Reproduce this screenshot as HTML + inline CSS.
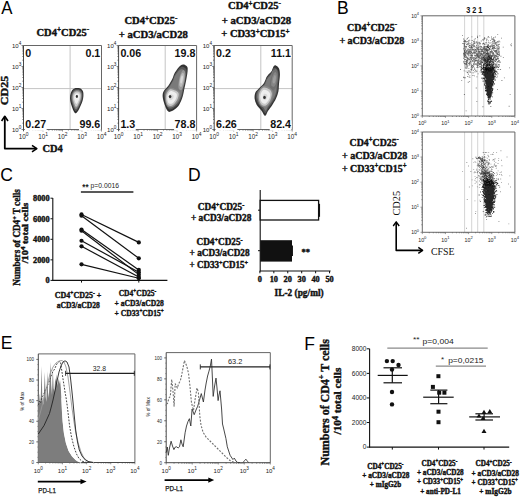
<!DOCTYPE html>
<html><head><meta charset="utf-8"><style>
html,body{margin:0;padding:0;background:#fff;width:520px;height:498px;overflow:hidden}
svg{display:block}
</style></head><body>
<svg width="520" height="498" viewBox="0 0 520 498">
<defs><filter id="bl" x="-20%" y="-20%" width="140%" height="140%"><feGaussianBlur stdDeviation="0.45"/></filter></defs>
<rect width="520" height="498" fill="#fff"/>
<text transform="translate(1.3,14.0) scale(0.96,1)" font-family="Liberation Sans" font-size="17.5" fill="#000">A</text>
<text transform="translate(336.9,14.0) scale(1.0,1)" font-family="Liberation Sans" font-size="17.5" fill="#000">B</text>
<text transform="translate(0.3,180.8) scale(1.0,1)" font-family="Liberation Sans" font-size="17.5" fill="#000">C</text>
<text transform="translate(188.0,180.8) scale(1.0,1)" font-family="Liberation Sans" font-size="17.5" fill="#000">D</text>
<text transform="translate(0.8,348.8) scale(1.0,1)" font-family="Liberation Sans" font-size="17.5" fill="#000">E</text>
<text transform="translate(304.2,349.6) scale(1.0,1)" font-family="Liberation Sans" font-size="17.5" fill="#000">F</text>
<line x1="70.1" y1="45.5" x2="70.1" y2="129.5" stroke="#c4c4c4" stroke-width="1" />
<line x1="23.5" y1="88.6" x2="101.5" y2="88.6" stroke="#c4c4c4" stroke-width="1" />
<line x1="23.5" y1="45.5" x2="101.5" y2="45.5" stroke="#666" stroke-width="1" />
<line x1="101.5" y1="45.5" x2="101.5" y2="129.5" stroke="#666" stroke-width="1" />
<line x1="23.5" y1="45.5" x2="23.5" y2="131.0" stroke="#333" stroke-width="0.9" />
<line x1="23.5" y1="129.5" x2="101.5" y2="129.5" stroke="#555" stroke-width="0.9" />
<line x1="21.5" y1="129.5" x2="23.5" y2="129.5" stroke="#333" stroke-width="0.6" />
<line x1="22.3" y1="123.1783700910564" x2="23.5" y2="123.1783700910564" stroke="#333" stroke-width="0.6" />
<line x1="22.3" y1="119.48045365088709" x2="23.5" y2="119.48045365088709" stroke="#333" stroke-width="0.6" />
<line x1="22.3" y1="116.85674018211279" x2="23.5" y2="116.85674018211279" stroke="#333" stroke-width="0.6" />
<line x1="22.3" y1="114.8216299089436" x2="23.5" y2="114.8216299089436" stroke="#333" stroke-width="0.6" />
<line x1="22.3" y1="113.15882374194348" x2="23.5" y2="113.15882374194348" stroke="#333" stroke-width="0.6" />
<line x1="22.3" y1="111.75294115970061" x2="23.5" y2="111.75294115970061" stroke="#333" stroke-width="0.6" />
<line x1="22.3" y1="110.53511027316918" x2="23.5" y2="110.53511027316918" stroke="#333" stroke-width="0.6" />
<line x1="22.3" y1="109.46090730177417" x2="23.5" y2="109.46090730177417" stroke="#333" stroke-width="0.6" />
<line x1="21.5" y1="108.5" x2="23.5" y2="108.5" stroke="#333" stroke-width="0.6" />
<line x1="22.3" y1="102.1783700910564" x2="23.5" y2="102.1783700910564" stroke="#333" stroke-width="0.6" />
<line x1="22.3" y1="98.48045365088709" x2="23.5" y2="98.48045365088709" stroke="#333" stroke-width="0.6" />
<line x1="22.3" y1="95.85674018211279" x2="23.5" y2="95.85674018211279" stroke="#333" stroke-width="0.6" />
<line x1="22.3" y1="93.8216299089436" x2="23.5" y2="93.8216299089436" stroke="#333" stroke-width="0.6" />
<line x1="22.3" y1="92.15882374194348" x2="23.5" y2="92.15882374194348" stroke="#333" stroke-width="0.6" />
<line x1="22.3" y1="90.75294115970061" x2="23.5" y2="90.75294115970061" stroke="#333" stroke-width="0.6" />
<line x1="22.3" y1="89.53511027316918" x2="23.5" y2="89.53511027316918" stroke="#333" stroke-width="0.6" />
<line x1="22.3" y1="88.46090730177417" x2="23.5" y2="88.46090730177417" stroke="#333" stroke-width="0.6" />
<line x1="21.5" y1="87.5" x2="23.5" y2="87.5" stroke="#333" stroke-width="0.6" />
<line x1="22.3" y1="81.1783700910564" x2="23.5" y2="81.1783700910564" stroke="#333" stroke-width="0.6" />
<line x1="22.3" y1="77.48045365088709" x2="23.5" y2="77.48045365088709" stroke="#333" stroke-width="0.6" />
<line x1="22.3" y1="74.85674018211279" x2="23.5" y2="74.85674018211279" stroke="#333" stroke-width="0.6" />
<line x1="22.3" y1="72.8216299089436" x2="23.5" y2="72.8216299089436" stroke="#333" stroke-width="0.6" />
<line x1="22.3" y1="71.15882374194348" x2="23.5" y2="71.15882374194348" stroke="#333" stroke-width="0.6" />
<line x1="22.3" y1="69.75294115970061" x2="23.5" y2="69.75294115970061" stroke="#333" stroke-width="0.6" />
<line x1="22.3" y1="68.53511027316918" x2="23.5" y2="68.53511027316918" stroke="#333" stroke-width="0.6" />
<line x1="22.3" y1="67.46090730177417" x2="23.5" y2="67.46090730177417" stroke="#333" stroke-width="0.6" />
<line x1="21.5" y1="66.5" x2="23.5" y2="66.5" stroke="#333" stroke-width="0.6" />
<line x1="22.3" y1="60.178370091056394" x2="23.5" y2="60.178370091056394" stroke="#333" stroke-width="0.6" />
<line x1="22.3" y1="56.480453650887085" x2="23.5" y2="56.480453650887085" stroke="#333" stroke-width="0.6" />
<line x1="22.3" y1="53.85674018211279" x2="23.5" y2="53.85674018211279" stroke="#333" stroke-width="0.6" />
<line x1="22.3" y1="51.821629908943606" x2="23.5" y2="51.821629908943606" stroke="#333" stroke-width="0.6" />
<line x1="22.3" y1="50.15882374194348" x2="23.5" y2="50.15882374194348" stroke="#333" stroke-width="0.6" />
<line x1="22.3" y1="48.75294115970061" x2="23.5" y2="48.75294115970061" stroke="#333" stroke-width="0.6" />
<line x1="22.3" y1="47.53511027316918" x2="23.5" y2="47.53511027316918" stroke="#333" stroke-width="0.6" />
<line x1="22.3" y1="46.460907301774185" x2="23.5" y2="46.460907301774185" stroke="#333" stroke-width="0.6" />
<line x1="21.5" y1="45.5" x2="23.5" y2="45.5" stroke="#333" stroke-width="0.6" />
<line x1="23.5" y1="129.5" x2="23.5" y2="131.5" stroke="#555" stroke-width="0.6" />
<line x1="29.370084915447634" y1="129.5" x2="29.370084915447634" y2="130.7" stroke="#555" stroke-width="0.6" />
<line x1="32.80386446703342" y1="129.5" x2="32.80386446703342" y2="130.7" stroke="#555" stroke-width="0.6" />
<line x1="35.24016983089527" y1="129.5" x2="35.24016983089527" y2="130.7" stroke="#555" stroke-width="0.6" />
<line x1="37.129915084552366" y1="129.5" x2="37.129915084552366" y2="130.7" stroke="#555" stroke-width="0.6" />
<line x1="38.673949382481055" y1="129.5" x2="38.673949382481055" y2="130.7" stroke="#555" stroke-width="0.6" />
<line x1="39.97941178027801" y1="129.5" x2="39.97941178027801" y2="130.7" stroke="#555" stroke-width="0.6" />
<line x1="41.1102547463429" y1="129.5" x2="41.1102547463429" y2="130.7" stroke="#555" stroke-width="0.6" />
<line x1="42.107728934066834" y1="129.5" x2="42.107728934066834" y2="130.7" stroke="#555" stroke-width="0.6" />
<line x1="43.0" y1="129.5" x2="43.0" y2="131.5" stroke="#555" stroke-width="0.6" />
<line x1="48.870084915447634" y1="129.5" x2="48.870084915447634" y2="130.7" stroke="#555" stroke-width="0.6" />
<line x1="52.30386446703342" y1="129.5" x2="52.30386446703342" y2="130.7" stroke="#555" stroke-width="0.6" />
<line x1="54.74016983089527" y1="129.5" x2="54.74016983089527" y2="130.7" stroke="#555" stroke-width="0.6" />
<line x1="56.629915084552366" y1="129.5" x2="56.629915084552366" y2="130.7" stroke="#555" stroke-width="0.6" />
<line x1="58.17394938248105" y1="129.5" x2="58.17394938248105" y2="130.7" stroke="#555" stroke-width="0.6" />
<line x1="59.479411780278014" y1="129.5" x2="59.479411780278014" y2="130.7" stroke="#555" stroke-width="0.6" />
<line x1="60.610254746342896" y1="129.5" x2="60.610254746342896" y2="130.7" stroke="#555" stroke-width="0.6" />
<line x1="61.607728934066834" y1="129.5" x2="61.607728934066834" y2="130.7" stroke="#555" stroke-width="0.6" />
<line x1="62.5" y1="129.5" x2="62.5" y2="131.5" stroke="#555" stroke-width="0.6" />
<line x1="68.37008491544763" y1="129.5" x2="68.37008491544763" y2="130.7" stroke="#555" stroke-width="0.6" />
<line x1="71.80386446703342" y1="129.5" x2="71.80386446703342" y2="130.7" stroke="#555" stroke-width="0.6" />
<line x1="74.24016983089527" y1="129.5" x2="74.24016983089527" y2="130.7" stroke="#555" stroke-width="0.6" />
<line x1="76.12991508455237" y1="129.5" x2="76.12991508455237" y2="130.7" stroke="#555" stroke-width="0.6" />
<line x1="77.67394938248106" y1="129.5" x2="77.67394938248106" y2="130.7" stroke="#555" stroke-width="0.6" />
<line x1="78.97941178027801" y1="129.5" x2="78.97941178027801" y2="130.7" stroke="#555" stroke-width="0.6" />
<line x1="80.1102547463429" y1="129.5" x2="80.1102547463429" y2="130.7" stroke="#555" stroke-width="0.6" />
<line x1="81.10772893406684" y1="129.5" x2="81.10772893406684" y2="130.7" stroke="#555" stroke-width="0.6" />
<line x1="82.0" y1="129.5" x2="82.0" y2="131.5" stroke="#555" stroke-width="0.6" />
<line x1="87.87008491544763" y1="129.5" x2="87.87008491544763" y2="130.7" stroke="#555" stroke-width="0.6" />
<line x1="91.30386446703342" y1="129.5" x2="91.30386446703342" y2="130.7" stroke="#555" stroke-width="0.6" />
<line x1="93.74016983089527" y1="129.5" x2="93.74016983089527" y2="130.7" stroke="#555" stroke-width="0.6" />
<line x1="95.62991508455237" y1="129.5" x2="95.62991508455237" y2="130.7" stroke="#555" stroke-width="0.6" />
<line x1="97.17394938248106" y1="129.5" x2="97.17394938248106" y2="130.7" stroke="#555" stroke-width="0.6" />
<line x1="98.47941178027801" y1="129.5" x2="98.47941178027801" y2="130.7" stroke="#555" stroke-width="0.6" />
<line x1="99.6102547463429" y1="129.5" x2="99.6102547463429" y2="130.7" stroke="#555" stroke-width="0.6" />
<line x1="100.60772893406683" y1="129.5" x2="100.60772893406683" y2="130.7" stroke="#555" stroke-width="0.6" />
<line x1="101.5" y1="129.5" x2="101.5" y2="131.5" stroke="#555" stroke-width="0.6" />
<text x="21.3" y="131.6" font-family="Liberation Sans" font-size="6.0" font-weight="normal" fill="#222" text-anchor="end" >10<tspan dy="-2.52" font-size="4.68">0</tspan></text>
<text x="21.3" y="110.6" font-family="Liberation Sans" font-size="6.0" font-weight="normal" fill="#222" text-anchor="end" >10<tspan dy="-2.52" font-size="4.68">1</tspan></text>
<text x="21.3" y="89.6" font-family="Liberation Sans" font-size="6.0" font-weight="normal" fill="#222" text-anchor="end" >10<tspan dy="-2.52" font-size="4.68">2</tspan></text>
<text x="21.3" y="68.6" font-family="Liberation Sans" font-size="6.0" font-weight="normal" fill="#222" text-anchor="end" >10<tspan dy="-2.52" font-size="4.68">3</tspan></text>
<text x="21.3" y="47.6" font-family="Liberation Sans" font-size="6.0" font-weight="normal" fill="#222" text-anchor="end" >10<tspan dy="-2.52" font-size="4.68">4</tspan></text>
<text x="23.5" y="138.8" font-family="Liberation Sans" font-size="6.3" font-weight="normal" fill="#222" text-anchor="middle" >10<tspan dy="-2.65" font-size="4.91">0</tspan></text>
<text x="43.0" y="138.8" font-family="Liberation Sans" font-size="6.3" font-weight="normal" fill="#222" text-anchor="middle" >10<tspan dy="-2.65" font-size="4.91">1</tspan></text>
<text x="62.5" y="138.8" font-family="Liberation Sans" font-size="6.3" font-weight="normal" fill="#222" text-anchor="middle" >10<tspan dy="-2.65" font-size="4.91">2</tspan></text>
<text x="82.0" y="138.8" font-family="Liberation Sans" font-size="6.3" font-weight="normal" fill="#222" text-anchor="middle" >10<tspan dy="-2.65" font-size="4.91">3</tspan></text>
<text x="101.5" y="138.8" font-family="Liberation Sans" font-size="6.3" font-weight="normal" fill="#222" text-anchor="middle" >10<tspan dy="-2.65" font-size="4.91">4</tspan></text>
<line x1="165.2" y1="45.5" x2="165.2" y2="129.5" stroke="#c4c4c4" stroke-width="1" />
<line x1="118.6" y1="88.6" x2="196.6" y2="88.6" stroke="#c4c4c4" stroke-width="1" />
<line x1="118.6" y1="45.5" x2="196.6" y2="45.5" stroke="#666" stroke-width="1" />
<line x1="196.6" y1="45.5" x2="196.6" y2="129.5" stroke="#666" stroke-width="1" />
<line x1="118.6" y1="45.5" x2="118.6" y2="131.0" stroke="#333" stroke-width="0.9" />
<line x1="118.6" y1="129.5" x2="196.6" y2="129.5" stroke="#555" stroke-width="0.9" />
<line x1="116.6" y1="129.5" x2="118.6" y2="129.5" stroke="#333" stroke-width="0.6" />
<line x1="117.39999999999999" y1="123.1783700910564" x2="118.6" y2="123.1783700910564" stroke="#333" stroke-width="0.6" />
<line x1="117.39999999999999" y1="119.48045365088709" x2="118.6" y2="119.48045365088709" stroke="#333" stroke-width="0.6" />
<line x1="117.39999999999999" y1="116.85674018211279" x2="118.6" y2="116.85674018211279" stroke="#333" stroke-width="0.6" />
<line x1="117.39999999999999" y1="114.8216299089436" x2="118.6" y2="114.8216299089436" stroke="#333" stroke-width="0.6" />
<line x1="117.39999999999999" y1="113.15882374194348" x2="118.6" y2="113.15882374194348" stroke="#333" stroke-width="0.6" />
<line x1="117.39999999999999" y1="111.75294115970061" x2="118.6" y2="111.75294115970061" stroke="#333" stroke-width="0.6" />
<line x1="117.39999999999999" y1="110.53511027316918" x2="118.6" y2="110.53511027316918" stroke="#333" stroke-width="0.6" />
<line x1="117.39999999999999" y1="109.46090730177417" x2="118.6" y2="109.46090730177417" stroke="#333" stroke-width="0.6" />
<line x1="116.6" y1="108.5" x2="118.6" y2="108.5" stroke="#333" stroke-width="0.6" />
<line x1="117.39999999999999" y1="102.1783700910564" x2="118.6" y2="102.1783700910564" stroke="#333" stroke-width="0.6" />
<line x1="117.39999999999999" y1="98.48045365088709" x2="118.6" y2="98.48045365088709" stroke="#333" stroke-width="0.6" />
<line x1="117.39999999999999" y1="95.85674018211279" x2="118.6" y2="95.85674018211279" stroke="#333" stroke-width="0.6" />
<line x1="117.39999999999999" y1="93.8216299089436" x2="118.6" y2="93.8216299089436" stroke="#333" stroke-width="0.6" />
<line x1="117.39999999999999" y1="92.15882374194348" x2="118.6" y2="92.15882374194348" stroke="#333" stroke-width="0.6" />
<line x1="117.39999999999999" y1="90.75294115970061" x2="118.6" y2="90.75294115970061" stroke="#333" stroke-width="0.6" />
<line x1="117.39999999999999" y1="89.53511027316918" x2="118.6" y2="89.53511027316918" stroke="#333" stroke-width="0.6" />
<line x1="117.39999999999999" y1="88.46090730177417" x2="118.6" y2="88.46090730177417" stroke="#333" stroke-width="0.6" />
<line x1="116.6" y1="87.5" x2="118.6" y2="87.5" stroke="#333" stroke-width="0.6" />
<line x1="117.39999999999999" y1="81.1783700910564" x2="118.6" y2="81.1783700910564" stroke="#333" stroke-width="0.6" />
<line x1="117.39999999999999" y1="77.48045365088709" x2="118.6" y2="77.48045365088709" stroke="#333" stroke-width="0.6" />
<line x1="117.39999999999999" y1="74.85674018211279" x2="118.6" y2="74.85674018211279" stroke="#333" stroke-width="0.6" />
<line x1="117.39999999999999" y1="72.8216299089436" x2="118.6" y2="72.8216299089436" stroke="#333" stroke-width="0.6" />
<line x1="117.39999999999999" y1="71.15882374194348" x2="118.6" y2="71.15882374194348" stroke="#333" stroke-width="0.6" />
<line x1="117.39999999999999" y1="69.75294115970061" x2="118.6" y2="69.75294115970061" stroke="#333" stroke-width="0.6" />
<line x1="117.39999999999999" y1="68.53511027316918" x2="118.6" y2="68.53511027316918" stroke="#333" stroke-width="0.6" />
<line x1="117.39999999999999" y1="67.46090730177417" x2="118.6" y2="67.46090730177417" stroke="#333" stroke-width="0.6" />
<line x1="116.6" y1="66.5" x2="118.6" y2="66.5" stroke="#333" stroke-width="0.6" />
<line x1="117.39999999999999" y1="60.178370091056394" x2="118.6" y2="60.178370091056394" stroke="#333" stroke-width="0.6" />
<line x1="117.39999999999999" y1="56.480453650887085" x2="118.6" y2="56.480453650887085" stroke="#333" stroke-width="0.6" />
<line x1="117.39999999999999" y1="53.85674018211279" x2="118.6" y2="53.85674018211279" stroke="#333" stroke-width="0.6" />
<line x1="117.39999999999999" y1="51.821629908943606" x2="118.6" y2="51.821629908943606" stroke="#333" stroke-width="0.6" />
<line x1="117.39999999999999" y1="50.15882374194348" x2="118.6" y2="50.15882374194348" stroke="#333" stroke-width="0.6" />
<line x1="117.39999999999999" y1="48.75294115970061" x2="118.6" y2="48.75294115970061" stroke="#333" stroke-width="0.6" />
<line x1="117.39999999999999" y1="47.53511027316918" x2="118.6" y2="47.53511027316918" stroke="#333" stroke-width="0.6" />
<line x1="117.39999999999999" y1="46.460907301774185" x2="118.6" y2="46.460907301774185" stroke="#333" stroke-width="0.6" />
<line x1="116.6" y1="45.5" x2="118.6" y2="45.5" stroke="#333" stroke-width="0.6" />
<line x1="118.6" y1="129.5" x2="118.6" y2="131.5" stroke="#555" stroke-width="0.6" />
<line x1="124.47008491544763" y1="129.5" x2="124.47008491544763" y2="130.7" stroke="#555" stroke-width="0.6" />
<line x1="127.90386446703342" y1="129.5" x2="127.90386446703342" y2="130.7" stroke="#555" stroke-width="0.6" />
<line x1="130.34016983089526" y1="129.5" x2="130.34016983089526" y2="130.7" stroke="#555" stroke-width="0.6" />
<line x1="132.22991508455237" y1="129.5" x2="132.22991508455237" y2="130.7" stroke="#555" stroke-width="0.6" />
<line x1="133.77394938248105" y1="129.5" x2="133.77394938248105" y2="130.7" stroke="#555" stroke-width="0.6" />
<line x1="135.079411780278" y1="129.5" x2="135.079411780278" y2="130.7" stroke="#555" stroke-width="0.6" />
<line x1="136.21025474634288" y1="129.5" x2="136.21025474634288" y2="130.7" stroke="#555" stroke-width="0.6" />
<line x1="137.20772893406684" y1="129.5" x2="137.20772893406684" y2="130.7" stroke="#555" stroke-width="0.6" />
<line x1="138.1" y1="129.5" x2="138.1" y2="131.5" stroke="#555" stroke-width="0.6" />
<line x1="143.97008491544761" y1="129.5" x2="143.97008491544761" y2="130.7" stroke="#555" stroke-width="0.6" />
<line x1="147.4038644670334" y1="129.5" x2="147.4038644670334" y2="130.7" stroke="#555" stroke-width="0.6" />
<line x1="149.84016983089526" y1="129.5" x2="149.84016983089526" y2="130.7" stroke="#555" stroke-width="0.6" />
<line x1="151.72991508455237" y1="129.5" x2="151.72991508455237" y2="130.7" stroke="#555" stroke-width="0.6" />
<line x1="153.27394938248105" y1="129.5" x2="153.27394938248105" y2="130.7" stroke="#555" stroke-width="0.6" />
<line x1="154.579411780278" y1="129.5" x2="154.579411780278" y2="130.7" stroke="#555" stroke-width="0.6" />
<line x1="155.71025474634288" y1="129.5" x2="155.71025474634288" y2="130.7" stroke="#555" stroke-width="0.6" />
<line x1="156.70772893406684" y1="129.5" x2="156.70772893406684" y2="130.7" stroke="#555" stroke-width="0.6" />
<line x1="157.6" y1="129.5" x2="157.6" y2="131.5" stroke="#555" stroke-width="0.6" />
<line x1="163.47008491544761" y1="129.5" x2="163.47008491544761" y2="130.7" stroke="#555" stroke-width="0.6" />
<line x1="166.90386446703343" y1="129.5" x2="166.90386446703343" y2="130.7" stroke="#555" stroke-width="0.6" />
<line x1="169.34016983089526" y1="129.5" x2="169.34016983089526" y2="130.7" stroke="#555" stroke-width="0.6" />
<line x1="171.22991508455237" y1="129.5" x2="171.22991508455237" y2="130.7" stroke="#555" stroke-width="0.6" />
<line x1="172.77394938248105" y1="129.5" x2="172.77394938248105" y2="130.7" stroke="#555" stroke-width="0.6" />
<line x1="174.079411780278" y1="129.5" x2="174.079411780278" y2="130.7" stroke="#555" stroke-width="0.6" />
<line x1="175.2102547463429" y1="129.5" x2="175.2102547463429" y2="130.7" stroke="#555" stroke-width="0.6" />
<line x1="176.20772893406684" y1="129.5" x2="176.20772893406684" y2="130.7" stroke="#555" stroke-width="0.6" />
<line x1="177.1" y1="129.5" x2="177.1" y2="131.5" stroke="#555" stroke-width="0.6" />
<line x1="182.97008491544761" y1="129.5" x2="182.97008491544761" y2="130.7" stroke="#555" stroke-width="0.6" />
<line x1="186.40386446703343" y1="129.5" x2="186.40386446703343" y2="130.7" stroke="#555" stroke-width="0.6" />
<line x1="188.84016983089526" y1="129.5" x2="188.84016983089526" y2="130.7" stroke="#555" stroke-width="0.6" />
<line x1="190.72991508455237" y1="129.5" x2="190.72991508455237" y2="130.7" stroke="#555" stroke-width="0.6" />
<line x1="192.27394938248105" y1="129.5" x2="192.27394938248105" y2="130.7" stroke="#555" stroke-width="0.6" />
<line x1="193.579411780278" y1="129.5" x2="193.579411780278" y2="130.7" stroke="#555" stroke-width="0.6" />
<line x1="194.7102547463429" y1="129.5" x2="194.7102547463429" y2="130.7" stroke="#555" stroke-width="0.6" />
<line x1="195.70772893406684" y1="129.5" x2="195.70772893406684" y2="130.7" stroke="#555" stroke-width="0.6" />
<line x1="196.6" y1="129.5" x2="196.6" y2="131.5" stroke="#555" stroke-width="0.6" />
<text x="116.39999999999999" y="131.6" font-family="Liberation Sans" font-size="6.0" font-weight="normal" fill="#222" text-anchor="end" >10<tspan dy="-2.52" font-size="4.68">0</tspan></text>
<text x="116.39999999999999" y="110.6" font-family="Liberation Sans" font-size="6.0" font-weight="normal" fill="#222" text-anchor="end" >10<tspan dy="-2.52" font-size="4.68">1</tspan></text>
<text x="116.39999999999999" y="89.6" font-family="Liberation Sans" font-size="6.0" font-weight="normal" fill="#222" text-anchor="end" >10<tspan dy="-2.52" font-size="4.68">2</tspan></text>
<text x="116.39999999999999" y="68.6" font-family="Liberation Sans" font-size="6.0" font-weight="normal" fill="#222" text-anchor="end" >10<tspan dy="-2.52" font-size="4.68">3</tspan></text>
<text x="116.39999999999999" y="47.6" font-family="Liberation Sans" font-size="6.0" font-weight="normal" fill="#222" text-anchor="end" >10<tspan dy="-2.52" font-size="4.68">4</tspan></text>
<text x="118.6" y="138.8" font-family="Liberation Sans" font-size="6.3" font-weight="normal" fill="#222" text-anchor="middle" >10<tspan dy="-2.65" font-size="4.91">0</tspan></text>
<text x="138.1" y="138.8" font-family="Liberation Sans" font-size="6.3" font-weight="normal" fill="#222" text-anchor="middle" >10<tspan dy="-2.65" font-size="4.91">1</tspan></text>
<text x="157.6" y="138.8" font-family="Liberation Sans" font-size="6.3" font-weight="normal" fill="#222" text-anchor="middle" >10<tspan dy="-2.65" font-size="4.91">2</tspan></text>
<text x="177.1" y="138.8" font-family="Liberation Sans" font-size="6.3" font-weight="normal" fill="#222" text-anchor="middle" >10<tspan dy="-2.65" font-size="4.91">3</tspan></text>
<text x="196.6" y="138.8" font-family="Liberation Sans" font-size="6.3" font-weight="normal" fill="#222" text-anchor="middle" >10<tspan dy="-2.65" font-size="4.91">4</tspan></text>
<line x1="260.8" y1="45.5" x2="260.8" y2="129.5" stroke="#c4c4c4" stroke-width="1" />
<line x1="214.2" y1="88.6" x2="292.2" y2="88.6" stroke="#c4c4c4" stroke-width="1" />
<line x1="214.2" y1="45.5" x2="292.2" y2="45.5" stroke="#666" stroke-width="1" />
<line x1="292.2" y1="45.5" x2="292.2" y2="129.5" stroke="#666" stroke-width="1" />
<line x1="214.2" y1="45.5" x2="214.2" y2="131.0" stroke="#333" stroke-width="0.9" />
<line x1="214.2" y1="129.5" x2="292.2" y2="129.5" stroke="#555" stroke-width="0.9" />
<line x1="212.2" y1="129.5" x2="214.2" y2="129.5" stroke="#333" stroke-width="0.6" />
<line x1="213.0" y1="123.1783700910564" x2="214.2" y2="123.1783700910564" stroke="#333" stroke-width="0.6" />
<line x1="213.0" y1="119.48045365088709" x2="214.2" y2="119.48045365088709" stroke="#333" stroke-width="0.6" />
<line x1="213.0" y1="116.85674018211279" x2="214.2" y2="116.85674018211279" stroke="#333" stroke-width="0.6" />
<line x1="213.0" y1="114.8216299089436" x2="214.2" y2="114.8216299089436" stroke="#333" stroke-width="0.6" />
<line x1="213.0" y1="113.15882374194348" x2="214.2" y2="113.15882374194348" stroke="#333" stroke-width="0.6" />
<line x1="213.0" y1="111.75294115970061" x2="214.2" y2="111.75294115970061" stroke="#333" stroke-width="0.6" />
<line x1="213.0" y1="110.53511027316918" x2="214.2" y2="110.53511027316918" stroke="#333" stroke-width="0.6" />
<line x1="213.0" y1="109.46090730177417" x2="214.2" y2="109.46090730177417" stroke="#333" stroke-width="0.6" />
<line x1="212.2" y1="108.5" x2="214.2" y2="108.5" stroke="#333" stroke-width="0.6" />
<line x1="213.0" y1="102.1783700910564" x2="214.2" y2="102.1783700910564" stroke="#333" stroke-width="0.6" />
<line x1="213.0" y1="98.48045365088709" x2="214.2" y2="98.48045365088709" stroke="#333" stroke-width="0.6" />
<line x1="213.0" y1="95.85674018211279" x2="214.2" y2="95.85674018211279" stroke="#333" stroke-width="0.6" />
<line x1="213.0" y1="93.8216299089436" x2="214.2" y2="93.8216299089436" stroke="#333" stroke-width="0.6" />
<line x1="213.0" y1="92.15882374194348" x2="214.2" y2="92.15882374194348" stroke="#333" stroke-width="0.6" />
<line x1="213.0" y1="90.75294115970061" x2="214.2" y2="90.75294115970061" stroke="#333" stroke-width="0.6" />
<line x1="213.0" y1="89.53511027316918" x2="214.2" y2="89.53511027316918" stroke="#333" stroke-width="0.6" />
<line x1="213.0" y1="88.46090730177417" x2="214.2" y2="88.46090730177417" stroke="#333" stroke-width="0.6" />
<line x1="212.2" y1="87.5" x2="214.2" y2="87.5" stroke="#333" stroke-width="0.6" />
<line x1="213.0" y1="81.1783700910564" x2="214.2" y2="81.1783700910564" stroke="#333" stroke-width="0.6" />
<line x1="213.0" y1="77.48045365088709" x2="214.2" y2="77.48045365088709" stroke="#333" stroke-width="0.6" />
<line x1="213.0" y1="74.85674018211279" x2="214.2" y2="74.85674018211279" stroke="#333" stroke-width="0.6" />
<line x1="213.0" y1="72.8216299089436" x2="214.2" y2="72.8216299089436" stroke="#333" stroke-width="0.6" />
<line x1="213.0" y1="71.15882374194348" x2="214.2" y2="71.15882374194348" stroke="#333" stroke-width="0.6" />
<line x1="213.0" y1="69.75294115970061" x2="214.2" y2="69.75294115970061" stroke="#333" stroke-width="0.6" />
<line x1="213.0" y1="68.53511027316918" x2="214.2" y2="68.53511027316918" stroke="#333" stroke-width="0.6" />
<line x1="213.0" y1="67.46090730177417" x2="214.2" y2="67.46090730177417" stroke="#333" stroke-width="0.6" />
<line x1="212.2" y1="66.5" x2="214.2" y2="66.5" stroke="#333" stroke-width="0.6" />
<line x1="213.0" y1="60.178370091056394" x2="214.2" y2="60.178370091056394" stroke="#333" stroke-width="0.6" />
<line x1="213.0" y1="56.480453650887085" x2="214.2" y2="56.480453650887085" stroke="#333" stroke-width="0.6" />
<line x1="213.0" y1="53.85674018211279" x2="214.2" y2="53.85674018211279" stroke="#333" stroke-width="0.6" />
<line x1="213.0" y1="51.821629908943606" x2="214.2" y2="51.821629908943606" stroke="#333" stroke-width="0.6" />
<line x1="213.0" y1="50.15882374194348" x2="214.2" y2="50.15882374194348" stroke="#333" stroke-width="0.6" />
<line x1="213.0" y1="48.75294115970061" x2="214.2" y2="48.75294115970061" stroke="#333" stroke-width="0.6" />
<line x1="213.0" y1="47.53511027316918" x2="214.2" y2="47.53511027316918" stroke="#333" stroke-width="0.6" />
<line x1="213.0" y1="46.460907301774185" x2="214.2" y2="46.460907301774185" stroke="#333" stroke-width="0.6" />
<line x1="212.2" y1="45.5" x2="214.2" y2="45.5" stroke="#333" stroke-width="0.6" />
<line x1="214.2" y1="129.5" x2="214.2" y2="131.5" stroke="#555" stroke-width="0.6" />
<line x1="220.0700849154476" y1="129.5" x2="220.0700849154476" y2="130.7" stroke="#555" stroke-width="0.6" />
<line x1="223.5038644670334" y1="129.5" x2="223.5038644670334" y2="130.7" stroke="#555" stroke-width="0.6" />
<line x1="225.94016983089526" y1="129.5" x2="225.94016983089526" y2="130.7" stroke="#555" stroke-width="0.6" />
<line x1="227.82991508455237" y1="129.5" x2="227.82991508455237" y2="130.7" stroke="#555" stroke-width="0.6" />
<line x1="229.37394938248104" y1="129.5" x2="229.37394938248104" y2="130.7" stroke="#555" stroke-width="0.6" />
<line x1="230.679411780278" y1="129.5" x2="230.679411780278" y2="130.7" stroke="#555" stroke-width="0.6" />
<line x1="231.81025474634288" y1="129.5" x2="231.81025474634288" y2="130.7" stroke="#555" stroke-width="0.6" />
<line x1="232.80772893406683" y1="129.5" x2="232.80772893406683" y2="130.7" stroke="#555" stroke-width="0.6" />
<line x1="233.7" y1="129.5" x2="233.7" y2="131.5" stroke="#555" stroke-width="0.6" />
<line x1="239.57008491544764" y1="129.5" x2="239.57008491544764" y2="130.7" stroke="#555" stroke-width="0.6" />
<line x1="243.0038644670334" y1="129.5" x2="243.0038644670334" y2="130.7" stroke="#555" stroke-width="0.6" />
<line x1="245.44016983089526" y1="129.5" x2="245.44016983089526" y2="130.7" stroke="#555" stroke-width="0.6" />
<line x1="247.32991508455234" y1="129.5" x2="247.32991508455234" y2="130.7" stroke="#555" stroke-width="0.6" />
<line x1="248.87394938248104" y1="129.5" x2="248.87394938248104" y2="130.7" stroke="#555" stroke-width="0.6" />
<line x1="250.179411780278" y1="129.5" x2="250.179411780278" y2="130.7" stroke="#555" stroke-width="0.6" />
<line x1="251.31025474634288" y1="129.5" x2="251.31025474634288" y2="130.7" stroke="#555" stroke-width="0.6" />
<line x1="252.30772893406683" y1="129.5" x2="252.30772893406683" y2="130.7" stroke="#555" stroke-width="0.6" />
<line x1="253.2" y1="129.5" x2="253.2" y2="131.5" stroke="#555" stroke-width="0.6" />
<line x1="259.07008491544764" y1="129.5" x2="259.07008491544764" y2="130.7" stroke="#555" stroke-width="0.6" />
<line x1="262.5038644670334" y1="129.5" x2="262.5038644670334" y2="130.7" stroke="#555" stroke-width="0.6" />
<line x1="264.94016983089523" y1="129.5" x2="264.94016983089523" y2="130.7" stroke="#555" stroke-width="0.6" />
<line x1="266.82991508455234" y1="129.5" x2="266.82991508455234" y2="130.7" stroke="#555" stroke-width="0.6" />
<line x1="268.37394938248104" y1="129.5" x2="268.37394938248104" y2="130.7" stroke="#555" stroke-width="0.6" />
<line x1="269.679411780278" y1="129.5" x2="269.679411780278" y2="130.7" stroke="#555" stroke-width="0.6" />
<line x1="270.8102547463429" y1="129.5" x2="270.8102547463429" y2="130.7" stroke="#555" stroke-width="0.6" />
<line x1="271.8077289340668" y1="129.5" x2="271.8077289340668" y2="130.7" stroke="#555" stroke-width="0.6" />
<line x1="272.7" y1="129.5" x2="272.7" y2="131.5" stroke="#555" stroke-width="0.6" />
<line x1="278.57008491544764" y1="129.5" x2="278.57008491544764" y2="130.7" stroke="#555" stroke-width="0.6" />
<line x1="282.0038644670334" y1="129.5" x2="282.0038644670334" y2="130.7" stroke="#555" stroke-width="0.6" />
<line x1="284.44016983089523" y1="129.5" x2="284.44016983089523" y2="130.7" stroke="#555" stroke-width="0.6" />
<line x1="286.32991508455234" y1="129.5" x2="286.32991508455234" y2="130.7" stroke="#555" stroke-width="0.6" />
<line x1="287.87394938248104" y1="129.5" x2="287.87394938248104" y2="130.7" stroke="#555" stroke-width="0.6" />
<line x1="289.179411780278" y1="129.5" x2="289.179411780278" y2="130.7" stroke="#555" stroke-width="0.6" />
<line x1="290.3102547463429" y1="129.5" x2="290.3102547463429" y2="130.7" stroke="#555" stroke-width="0.6" />
<line x1="291.3077289340668" y1="129.5" x2="291.3077289340668" y2="130.7" stroke="#555" stroke-width="0.6" />
<line x1="292.2" y1="129.5" x2="292.2" y2="131.5" stroke="#555" stroke-width="0.6" />
<text x="212.0" y="131.6" font-family="Liberation Sans" font-size="6.0" font-weight="normal" fill="#222" text-anchor="end" >10<tspan dy="-2.52" font-size="4.68">0</tspan></text>
<text x="212.0" y="110.6" font-family="Liberation Sans" font-size="6.0" font-weight="normal" fill="#222" text-anchor="end" >10<tspan dy="-2.52" font-size="4.68">1</tspan></text>
<text x="212.0" y="89.6" font-family="Liberation Sans" font-size="6.0" font-weight="normal" fill="#222" text-anchor="end" >10<tspan dy="-2.52" font-size="4.68">2</tspan></text>
<text x="212.0" y="68.6" font-family="Liberation Sans" font-size="6.0" font-weight="normal" fill="#222" text-anchor="end" >10<tspan dy="-2.52" font-size="4.68">3</tspan></text>
<text x="212.0" y="47.6" font-family="Liberation Sans" font-size="6.0" font-weight="normal" fill="#222" text-anchor="end" >10<tspan dy="-2.52" font-size="4.68">4</tspan></text>
<text x="214.2" y="138.8" font-family="Liberation Sans" font-size="6.3" font-weight="normal" fill="#222" text-anchor="middle" >10<tspan dy="-2.65" font-size="4.91">0</tspan></text>
<text x="233.7" y="138.8" font-family="Liberation Sans" font-size="6.3" font-weight="normal" fill="#222" text-anchor="middle" >10<tspan dy="-2.65" font-size="4.91">1</tspan></text>
<text x="253.2" y="138.8" font-family="Liberation Sans" font-size="6.3" font-weight="normal" fill="#222" text-anchor="middle" >10<tspan dy="-2.65" font-size="4.91">2</tspan></text>
<text x="272.7" y="138.8" font-family="Liberation Sans" font-size="6.3" font-weight="normal" fill="#222" text-anchor="middle" >10<tspan dy="-2.65" font-size="4.91">3</tspan></text>
<text x="292.2" y="138.8" font-family="Liberation Sans" font-size="6.3" font-weight="normal" fill="#222" text-anchor="middle" >10<tspan dy="-2.65" font-size="4.91">4</tspan></text>
<g filter="url(#bl)">
<path d="M77.00,88.00 C78.00,88.03 79.50,88.02 80.50,88.60 C81.50,89.18 82.52,90.27 83.00,91.50 C83.48,92.73 83.48,94.42 83.40,96.00 C83.32,97.58 82.98,99.33 82.50,101.00 C82.02,102.67 81.25,104.33 80.50,106.00 C79.75,107.67 78.78,109.78 78.00,111.00 C77.22,112.22 76.47,113.17 75.80,113.30 C75.13,113.43 74.63,112.85 74.00,111.80 C73.37,110.75 72.62,108.80 72.00,107.00 C71.38,105.20 70.60,102.92 70.30,101.00 C70.00,99.08 69.92,97.25 70.20,95.50 C70.48,93.75 71.28,91.68 72.00,90.50 C72.72,89.32 73.67,88.82 74.50,88.40 C75.33,87.98 76.00,87.97 77.00,88.00Z" fill="#2e2e2e" />
<path d="M77.00,89.26 C77.86,89.29 79.15,89.27 80.01,89.78 C80.87,90.28 81.74,91.21 82.16,92.27 C82.58,93.33 82.58,94.78 82.50,96.14 C82.43,97.50 82.15,99.01 81.73,100.44 C81.31,101.87 80.66,103.31 80.01,104.74 C79.37,106.17 78.53,107.99 77.86,109.04 C77.19,110.09 76.54,110.90 75.97,111.02 C75.39,111.13 74.96,110.63 74.42,109.73 C73.88,108.82 73.23,107.15 72.70,105.60 C72.17,104.05 71.50,102.09 71.24,100.44 C70.98,98.79 70.91,97.21 71.15,95.71 C71.40,94.20 72.08,92.43 72.70,91.41 C73.32,90.39 74.13,89.96 74.85,89.60 C75.57,89.25 76.14,89.23 77.00,89.26Z" fill="#5a5a5a" />
<path d="M77.00,90.34 C77.74,90.36 78.85,90.35 79.59,90.78 C80.33,91.22 81.08,92.02 81.44,92.93 C81.80,93.84 81.80,95.09 81.74,96.26 C81.67,97.43 81.43,98.73 81.07,99.96 C80.71,101.19 80.15,102.43 79.59,103.66 C79.03,104.89 78.32,106.46 77.74,107.36 C77.16,108.26 76.61,108.96 76.11,109.06 C75.62,109.16 75.25,108.73 74.78,107.95 C74.31,107.17 73.76,105.73 73.30,104.40 C72.84,103.07 72.26,101.38 72.04,99.96 C71.82,98.54 71.76,97.19 71.97,95.89 C72.18,94.59 72.77,93.07 73.30,92.19 C73.83,91.31 74.53,90.94 75.15,90.64 C75.77,90.33 76.26,90.32 77.00,90.34Z" fill="#8c8c8c" />
<path d="M77.00,91.60 C77.60,91.62 78.50,91.61 79.10,91.96 C79.70,92.31 80.31,92.96 80.60,93.70 C80.89,94.44 80.89,95.45 80.84,96.40 C80.79,97.35 80.59,98.40 80.30,99.40 C80.01,100.40 79.55,101.40 79.10,102.40 C78.65,103.40 78.07,104.67 77.60,105.40 C77.13,106.13 76.68,106.70 76.28,106.78 C75.88,106.86 75.58,106.51 75.20,105.88 C74.82,105.25 74.37,104.08 74.00,103.00 C73.63,101.92 73.16,100.55 72.98,99.40 C72.80,98.25 72.75,97.15 72.92,96.10 C73.09,95.05 73.57,93.81 74.00,93.10 C74.43,92.39 75.00,92.09 75.50,91.84 C76.00,91.59 76.40,91.58 77.00,91.60Z" fill="#c9c9c9" />
<path d="M77.00,93.22 C77.42,93.23 78.05,93.23 78.47,93.47 C78.89,93.72 79.32,94.17 79.52,94.69 C79.72,95.21 79.72,95.91 79.69,96.58 C79.65,97.25 79.51,97.98 79.31,98.68 C79.11,99.38 78.78,100.08 78.47,100.78 C78.16,101.48 77.75,102.37 77.42,102.88 C77.09,103.39 76.78,103.79 76.50,103.85 C76.22,103.90 76.01,103.66 75.74,103.22 C75.47,102.77 75.16,101.96 74.90,101.20 C74.64,100.44 74.31,99.49 74.19,98.68 C74.06,97.88 74.03,97.11 74.14,96.37 C74.26,95.64 74.60,94.77 74.90,94.27 C75.20,93.77 75.60,93.56 75.95,93.39 C76.30,93.21 76.58,93.21 77.00,93.22Z" fill="#efefef" />
<ellipse cx="76.9" cy="96.5" rx="1.1" ry="1.4" fill="#333"/>
<path d="M183.90,64.60 C184.97,64.90 186.68,65.93 187.30,67.00 C187.92,68.07 187.67,69.48 187.60,71.00 C187.53,72.52 187.20,74.27 186.90,76.10 C186.60,77.93 186.20,80.00 185.80,82.00 C185.40,84.00 185.02,85.67 184.50,88.10 C183.98,90.53 183.60,93.78 182.70,96.60 C181.80,99.42 180.47,102.85 179.10,105.00 C177.73,107.15 175.70,108.50 174.50,109.50 C173.30,110.50 172.93,110.65 171.90,111.00 C170.87,111.35 169.42,112.40 168.30,111.60 C167.18,110.80 166.12,108.50 165.20,106.20 C164.28,103.90 163.10,100.22 162.80,97.80 C162.50,95.38 162.48,93.72 163.40,91.70 C164.32,89.68 166.78,87.90 168.30,85.70 C169.82,83.50 171.50,80.50 172.50,78.50 C173.50,76.50 173.40,75.42 174.30,73.70 C175.20,71.98 176.80,69.62 177.90,68.20 C179.00,66.78 179.90,65.80 180.90,65.20 C181.90,64.60 182.83,64.30 183.90,64.60Z" fill="#333" />
<path d="M183.11,66.94 C184.07,67.21 185.62,68.14 186.17,69.10 C186.73,70.06 186.50,71.34 186.44,72.70 C186.38,74.06 186.08,75.64 185.81,77.29 C185.54,78.94 185.18,80.80 184.82,82.60 C184.46,84.40 184.12,85.90 183.65,88.09 C183.19,90.28 182.84,93.20 182.03,95.74 C181.22,98.27 180.02,101.36 178.79,103.30 C177.56,105.23 175.73,106.45 174.65,107.35 C173.57,108.25 173.24,108.39 172.31,108.70 C171.38,109.02 170.08,109.96 169.07,109.24 C168.07,108.52 167.11,106.45 166.28,104.38 C165.45,102.31 164.39,98.99 164.12,96.82 C163.85,94.64 163.83,93.14 164.66,91.33 C165.49,89.52 167.71,87.91 169.07,85.93 C170.44,83.95 171.95,81.25 172.85,79.45 C173.75,77.65 173.66,76.67 174.47,75.13 C175.28,73.58 176.72,71.46 177.71,70.18 C178.70,68.91 179.51,68.02 180.41,67.48 C181.31,66.94 182.15,66.67 183.11,66.94Z" fill="#575757" />
<path d="M182.32,69.28 C183.17,69.52 184.55,70.35 185.04,71.20 C185.53,72.05 185.33,73.19 185.28,74.40 C185.23,75.61 184.96,77.01 184.72,78.48 C184.48,79.95 184.16,81.60 183.84,83.20 C183.52,84.80 183.21,86.13 182.80,88.08 C182.39,90.03 182.08,92.63 181.36,94.88 C180.64,97.13 179.57,99.88 178.48,101.60 C177.39,103.32 175.76,104.40 174.80,105.20 C173.84,106.00 173.55,106.12 172.72,106.40 C171.89,106.68 170.73,107.52 169.84,106.88 C168.95,106.24 168.09,104.40 167.36,102.56 C166.63,100.72 165.68,97.77 165.44,95.84 C165.20,93.91 165.19,92.57 165.92,90.96 C166.65,89.35 168.63,87.92 169.84,86.16 C171.05,84.40 172.40,82.00 173.20,80.40 C174.00,78.80 173.92,77.93 174.64,76.56 C175.36,75.19 176.64,73.29 177.52,72.16 C178.40,71.03 179.12,70.24 179.92,69.76 C180.72,69.28 181.47,69.04 182.32,69.28Z" fill="#7a7a7a" />
<path d="M183.50,70.00 C184.22,70.17 185.18,71.83 185.30,74.00 C185.42,76.17 184.83,80.33 184.20,83.00 C183.57,85.67 182.45,89.17 181.50,90.00 C180.55,90.83 178.92,89.67 178.50,88.00 C178.08,86.33 178.58,82.50 179.00,80.00 C179.42,77.50 180.25,74.67 181.00,73.00 C181.75,71.33 182.78,69.83 183.50,70.00Z" fill="#999" />
<path d="M182.90,72.70 C183.40,72.82 184.08,73.98 184.16,75.50 C184.24,77.02 183.83,79.93 183.39,81.80 C182.95,83.67 182.16,86.12 181.50,86.70 C180.84,87.28 179.69,86.47 179.40,85.30 C179.11,84.13 179.46,81.45 179.75,79.70 C180.04,77.95 180.62,75.97 181.15,74.80 C181.68,73.63 182.40,72.58 182.90,72.70Z" fill="#bbb" />
<path d="M182.30,75.40 C182.59,75.47 182.97,76.13 183.02,77.00 C183.07,77.87 182.83,79.53 182.58,80.60 C182.33,81.67 181.88,83.07 181.50,83.40 C181.12,83.73 180.47,83.27 180.30,82.60 C180.13,81.93 180.33,80.40 180.50,79.40 C180.67,78.40 181.00,77.27 181.30,76.60 C181.60,75.93 182.01,75.33 182.30,75.40Z" fill="#d8d8d8" />
<path d="M170.00,88.00 C171.75,87.25 174.33,88.67 176.00,89.50 C177.67,90.33 179.58,91.25 180.00,93.00 C180.42,94.75 179.58,97.75 178.50,100.00 C177.42,102.25 175.25,105.33 173.50,106.50 C171.75,107.67 169.33,107.75 168.00,107.00 C166.67,106.25 165.92,104.17 165.50,102.00 C165.08,99.83 164.75,96.33 165.50,94.00 C166.25,91.67 168.25,88.75 170.00,88.00Z" fill="#8a8a8a" />
<path d="M170.15,89.35 C171.64,88.71 173.83,89.92 175.25,90.62 C176.67,91.33 178.30,92.11 178.65,93.60 C179.00,95.09 178.30,97.64 177.38,99.55 C176.45,101.46 174.61,104.08 173.12,105.08 C171.64,106.07 169.58,106.14 168.45,105.50 C167.32,104.86 166.68,103.09 166.32,101.25 C165.97,99.41 165.69,96.43 166.32,94.45 C166.96,92.47 168.66,89.99 170.15,89.35Z" fill="#c8c8c8" />
<path d="M170.35,91.15 C171.49,90.66 173.17,91.58 174.25,92.12 C175.33,92.67 176.58,93.26 176.85,94.40 C177.12,95.54 176.58,97.49 175.88,98.95 C175.17,100.41 173.76,102.42 172.62,103.17 C171.49,103.93 169.92,103.99 169.05,103.50 C168.18,103.01 167.70,101.66 167.43,100.25 C167.15,98.84 166.94,96.57 167.43,95.05 C167.91,93.53 169.21,91.64 170.35,91.15Z" fill="#eeeeee" />
<path d="M170.70,94.30 C171.22,94.08 172.00,94.50 172.50,94.75 C173.00,95.00 173.57,95.27 173.70,95.80 C173.82,96.33 173.57,97.23 173.25,97.90 C172.93,98.58 172.28,99.50 171.75,99.85 C171.22,100.20 170.50,100.22 170.10,100.00 C169.70,99.78 169.47,99.15 169.35,98.50 C169.22,97.85 169.12,96.80 169.35,96.10 C169.57,95.40 170.17,94.52 170.70,94.30Z" fill="#d8d8d8" />
<ellipse cx="170.1" cy="96.6" rx="1.3" ry="1.6" fill="#333"/>
<path d="M275.90,65.40 C276.82,65.70 278.33,66.88 279.00,68.40 C279.67,69.92 279.90,71.88 279.90,74.50 C279.90,77.12 279.25,81.28 279.00,84.10 C278.75,86.92 278.90,88.98 278.40,91.40 C277.90,93.82 277.12,96.18 276.00,98.60 C274.88,101.02 273.02,103.88 271.70,105.90 C270.38,107.92 269.20,109.05 268.10,110.70 C267.00,112.35 266.20,115.80 265.10,115.80 C264.00,115.80 262.92,112.55 261.50,110.70 C260.08,108.85 257.75,106.72 256.60,104.70 C255.45,102.68 254.80,100.62 254.60,98.60 C254.40,96.58 254.77,94.20 255.40,92.60 C256.03,91.00 257.08,90.42 258.40,89.00 C259.72,87.58 262.15,85.55 263.30,84.10 C264.45,82.65 264.78,81.43 265.30,80.30 C265.82,79.17 265.88,78.27 266.40,77.30 C266.92,76.33 267.52,75.57 268.40,74.50 C269.28,73.43 270.85,72.22 271.70,70.90 C272.55,69.58 272.80,67.52 273.50,66.60 C274.20,65.68 274.98,65.10 275.90,65.40Z" fill="#333" />
<path d="M275.11,67.86 C275.93,68.13 277.30,69.20 277.90,70.56 C278.50,71.92 278.71,73.69 278.71,76.05 C278.71,78.41 278.12,82.16 277.90,84.69 C277.67,87.22 277.81,89.09 277.36,91.26 C276.91,93.44 276.20,95.56 275.20,97.74 C274.19,99.91 272.51,102.50 271.33,104.31 C270.14,106.12 269.08,107.14 268.09,108.63 C267.10,110.11 266.38,113.22 265.39,113.22 C264.40,113.22 263.42,110.29 262.15,108.63 C260.88,106.97 258.77,105.05 257.74,103.23 C256.71,101.42 256.12,99.55 255.94,97.74 C255.76,95.92 256.09,93.78 256.66,92.34 C257.23,90.90 258.17,90.38 259.36,89.10 C260.54,87.82 262.73,86.00 263.77,84.69 C264.81,83.38 265.11,82.29 265.57,81.27 C266.03,80.25 266.10,79.44 266.56,78.57 C267.02,77.70 267.56,77.01 268.36,76.05 C269.15,75.09 270.56,74.00 271.33,72.81 C272.09,71.62 272.32,69.77 272.95,68.94 C273.58,68.11 274.28,67.59 275.11,67.86Z" fill="#575757" />
<path d="M274.32,70.32 C275.05,70.56 276.27,71.51 276.80,72.72 C277.33,73.93 277.52,75.51 277.52,77.60 C277.52,79.69 277.00,83.03 276.80,85.28 C276.60,87.53 276.72,89.19 276.32,91.12 C275.92,93.05 275.29,94.95 274.40,96.88 C273.51,98.81 272.01,101.11 270.96,102.72 C269.91,104.33 268.96,105.24 268.08,106.56 C267.20,107.88 266.56,110.64 265.68,110.64 C264.80,110.64 263.93,108.04 262.80,106.56 C261.67,105.08 259.80,103.37 258.88,101.76 C257.96,100.15 257.44,98.49 257.28,96.88 C257.12,95.27 257.41,93.36 257.92,92.08 C258.43,90.80 259.27,90.33 260.32,89.20 C261.37,88.07 263.32,86.44 264.24,85.28 C265.16,84.12 265.43,83.15 265.84,82.24 C266.25,81.33 266.31,80.61 266.72,79.84 C267.13,79.07 267.61,78.45 268.32,77.60 C269.03,76.75 270.28,75.77 270.96,74.72 C271.64,73.67 271.84,72.01 272.40,71.28 C272.96,70.55 273.59,70.08 274.32,70.32Z" fill="#7a7a7a" />
<path d="M275.80,69.00 C276.63,69.33 277.80,71.50 278.00,74.00 C278.20,76.50 277.67,81.33 277.00,84.00 C276.33,86.67 275.17,89.33 274.00,90.00 C272.83,90.67 270.58,89.67 270.00,88.00 C269.42,86.33 270.00,82.67 270.50,80.00 C271.00,77.33 272.12,73.83 273.00,72.00 C273.88,70.17 274.97,68.67 275.80,69.00Z" fill="#707070" />
<path d="M275.41,72.00 C275.99,72.23 276.81,73.75 276.95,75.50 C277.09,77.25 276.72,80.63 276.25,82.50 C275.78,84.37 274.97,86.23 274.15,86.70 C273.33,87.17 271.76,86.47 271.35,85.30 C270.94,84.13 271.35,81.57 271.70,79.70 C272.05,77.83 272.83,75.38 273.45,74.10 C274.07,72.82 274.83,71.77 275.41,72.00Z" fill="#868686" />
<path d="M275.02,75.00 C275.35,75.13 275.82,76.00 275.90,77.00 C275.98,78.00 275.77,79.93 275.50,81.00 C275.23,82.07 274.77,83.13 274.30,83.40 C273.83,83.67 272.93,83.27 272.70,82.60 C272.47,81.93 272.70,80.47 272.90,79.40 C273.10,78.33 273.55,76.93 273.90,76.20 C274.25,75.47 274.69,74.87 275.02,75.00Z" fill="#9c9c9c" />
<path d="M263.00,86.00 C264.92,85.33 268.33,86.83 270.00,88.00 C271.67,89.17 272.83,90.83 273.00,93.00 C273.17,95.17 272.17,98.67 271.00,101.00 C269.83,103.33 267.67,106.17 266.00,107.00 C264.33,107.83 262.33,107.17 261.00,106.00 C259.67,104.83 258.42,102.33 258.00,100.00 C257.58,97.67 257.67,94.33 258.50,92.00 C259.33,89.67 261.08,86.67 263.00,86.00Z" fill="#8a8a8a" />
<path d="M263.30,87.65 C264.93,87.08 267.83,88.36 269.25,89.35 C270.67,90.34 271.66,91.76 271.80,93.60 C271.94,95.44 271.09,98.42 270.10,100.40 C269.11,102.38 267.27,104.79 265.85,105.50 C264.43,106.21 262.73,105.64 261.60,104.65 C260.47,103.66 259.40,101.53 259.05,99.55 C258.70,97.57 258.77,94.73 259.48,92.75 C260.18,90.77 261.67,88.22 263.30,87.65Z" fill="#c8c8c8" />
<path d="M263.70,89.85 C264.95,89.42 267.17,90.39 268.25,91.15 C269.33,91.91 270.09,92.99 270.20,94.40 C270.31,95.81 269.66,98.08 268.90,99.60 C268.14,101.12 266.73,102.96 265.65,103.50 C264.57,104.04 263.27,103.61 262.40,102.85 C261.53,102.09 260.72,100.47 260.45,98.95 C260.18,97.43 260.23,95.27 260.77,93.75 C261.32,92.23 262.45,90.28 263.70,89.85Z" fill="#eeeeee" />
<path d="M264.40,93.70 C264.97,93.50 266.00,93.95 266.50,94.30 C267.00,94.65 267.35,95.15 267.40,95.80 C267.45,96.45 267.15,97.50 266.80,98.20 C266.45,98.90 265.80,99.75 265.30,100.00 C264.80,100.25 264.20,100.05 263.80,99.70 C263.40,99.35 263.02,98.60 262.90,97.90 C262.77,97.20 262.80,96.20 263.05,95.50 C263.30,94.80 263.82,93.90 264.40,93.70Z" fill="#d8d8d8" />
<ellipse cx="264.5" cy="97.4" rx="1.3" ry="1.6" fill="#333"/>
</g>
<rect x="24.80" y="120.5" width="21.82" height="10.2" fill="#fff"/>
<rect x="78.98" y="120.5" width="21.82" height="10.2" fill="#fff"/>
<text x="25.3" y="56.9" font-family="Liberation Sans" font-size="10.7" font-weight="bold" fill="#111" text-anchor="start" stroke="#fff" stroke-width="1.6" paint-order="stroke">0</text>
<text x="100.3" y="56.9" font-family="Liberation Sans" font-size="10.7" font-weight="bold" fill="#111" text-anchor="end" stroke="#fff" stroke-width="1.6" paint-order="stroke">0.1</text>
<text x="25.3" y="128.3" font-family="Liberation Sans" font-size="10.7" font-weight="bold" fill="#111" text-anchor="start" stroke="#fff" stroke-width="1.6" paint-order="stroke">0.27</text>
<text x="100.3" y="128.3" font-family="Liberation Sans" font-size="10.7" font-weight="bold" fill="#111" text-anchor="end" stroke="#fff" stroke-width="1.6" paint-order="stroke">99.6</text>
<rect x="119.90" y="120.5" width="15.87" height="10.2" fill="#fff"/>
<rect x="174.08" y="120.5" width="21.82" height="10.2" fill="#fff"/>
<text x="120.39999999999999" y="56.9" font-family="Liberation Sans" font-size="10.7" font-weight="bold" fill="#111" text-anchor="start" stroke="#fff" stroke-width="1.6" paint-order="stroke">0.06</text>
<text x="195.4" y="56.9" font-family="Liberation Sans" font-size="10.7" font-weight="bold" fill="#111" text-anchor="end" stroke="#fff" stroke-width="1.6" paint-order="stroke">19.8</text>
<text x="120.39999999999999" y="128.3" font-family="Liberation Sans" font-size="10.7" font-weight="bold" fill="#111" text-anchor="start" stroke="#fff" stroke-width="1.6" paint-order="stroke">1.3</text>
<text x="195.4" y="128.3" font-family="Liberation Sans" font-size="10.7" font-weight="bold" fill="#111" text-anchor="end" stroke="#fff" stroke-width="1.6" paint-order="stroke">78.8</text>
<rect x="215.50" y="120.5" width="21.82" height="10.2" fill="#fff"/>
<rect x="269.68" y="120.5" width="21.82" height="10.2" fill="#fff"/>
<text x="216.0" y="56.9" font-family="Liberation Sans" font-size="10.7" font-weight="bold" fill="#111" text-anchor="start" stroke="#fff" stroke-width="1.6" paint-order="stroke">0.2</text>
<text x="291.0" y="56.9" font-family="Liberation Sans" font-size="10.7" font-weight="bold" fill="#111" text-anchor="end" stroke="#fff" stroke-width="1.6" paint-order="stroke">11.1</text>
<text x="216.0" y="128.3" font-family="Liberation Sans" font-size="10.7" font-weight="bold" fill="#111" text-anchor="start" stroke="#fff" stroke-width="1.6" paint-order="stroke">6.26</text>
<text x="291.0" y="128.3" font-family="Liberation Sans" font-size="10.7" font-weight="bold" fill="#111" text-anchor="end" stroke="#fff" stroke-width="1.6" paint-order="stroke">82.4</text>
<text x="62.85" y="35.5" font-family="Liberation Serif" font-size="10.8" font-weight="bold" fill="#111" text-anchor="middle" stroke="#111" stroke-width="0.4" textLength="52.7" lengthAdjust="spacingAndGlyphs" >CD4<tspan dy="-3.56" font-size="7.34">+</tspan><tspan dy="3.56">CD25</tspan><tspan dy="-3.56" font-size="7.34">-</tspan></text>
<text x="150.9" y="24.4" font-family="Liberation Serif" font-size="10.8" font-weight="bold" fill="#111" text-anchor="middle" stroke="#111" stroke-width="0.4" textLength="52.9" lengthAdjust="spacingAndGlyphs" >CD4<tspan dy="-3.56" font-size="7.34">+</tspan><tspan dy="3.56">CD25</tspan><tspan dy="-3.56" font-size="7.34">-</tspan></text>
<text x="153.3" y="37.9" font-family="Liberation Serif" font-size="10.8" font-weight="bold" fill="#111" text-anchor="middle" stroke="#111" stroke-width="0.4" textLength="69.2" lengthAdjust="spacingAndGlyphs" >+ aCD3/aCD28</text>
<text x="254.5" y="9.2" font-family="Liberation Serif" font-size="10.8" font-weight="bold" fill="#111" text-anchor="middle" stroke="#111" stroke-width="0.4" textLength="52.9" lengthAdjust="spacingAndGlyphs" >CD4<tspan dy="-3.56" font-size="7.34">+</tspan><tspan dy="3.56">CD25</tspan><tspan dy="-3.56" font-size="7.34">-</tspan></text>
<text x="256.4" y="23.6" font-family="Liberation Serif" font-size="10.8" font-weight="bold" fill="#111" text-anchor="middle" stroke="#111" stroke-width="0.4" textLength="69.5" lengthAdjust="spacingAndGlyphs" >+ aCD3/aCD28</text>
<text x="255.4" y="37.2" font-family="Liberation Serif" font-size="10.8" font-weight="bold" fill="#111" text-anchor="middle" stroke="#111" stroke-width="0.4" textLength="68.3" lengthAdjust="spacingAndGlyphs" >+ CD33<tspan dy="-3.56" font-size="7.34">+</tspan><tspan dy="3.56">CD15</tspan><tspan dy="-3.56" font-size="7.34">+</tspan></text>
<text transform="translate(7.7,90.5) rotate(-90)" font-family="Liberation Serif" font-size="11.2" font-weight="bold" fill="#111" text-anchor="middle" stroke="#111" stroke-width="0.4" textLength="29.3" lengthAdjust="spacingAndGlyphs" >CD25</text>
<text x="42.5" y="151.9" font-family="Liberation Serif" font-size="11.4" font-weight="bold" fill="#111" text-anchor="start" stroke="#111" stroke-width="0.4" textLength="20.3" lengthAdjust="spacingAndGlyphs" >CD4</text>
<path d="M4.80,116.50 L4.80,148.60 L36.50,148.60" stroke="#000" stroke-width="1.8" fill="none" stroke-linejoin="round" />
<path d="M1.60,121.00 L4.80,116.30 L8.00,121.00" stroke="#000" stroke-width="1.6" fill="none" stroke-linejoin="round" />
<path d="M32.00,145.40 L36.80,148.60 L32.00,151.80" stroke="#000" stroke-width="1.6" fill="none" stroke-linejoin="round" />
<line x1="464.6" y1="15.8" x2="464.6" y2="116.0" stroke="#c8c8c8" stroke-width="0.8" />
<line x1="471.7" y1="15.8" x2="471.7" y2="116.0" stroke="#c8c8c8" stroke-width="0.8" />
<line x1="477.7" y1="15.8" x2="477.7" y2="116.0" stroke="#c8c8c8" stroke-width="0.8" />
<line x1="483.8" y1="15.8" x2="483.8" y2="116.0" stroke="#c8c8c8" stroke-width="0.8" />
<line x1="422.3" y1="15.8" x2="514.9" y2="15.8" stroke="#666" stroke-width="1" />
<line x1="514.9" y1="15.8" x2="514.9" y2="116.0" stroke="#666" stroke-width="1" />
<line x1="422.3" y1="15.8" x2="422.3" y2="116.0" stroke="#444" stroke-width="0.8" />
<line x1="422.3" y1="116.0" x2="514.9" y2="116.0" stroke="#444" stroke-width="0.8" />
<line x1="420.5" y1="116.0" x2="422.3" y2="116.0" stroke="#555" stroke-width="0.6" />
<line x1="421.3" y1="108.45919860861727" x2="422.3" y2="108.45919860861727" stroke="#555" stroke-width="0.6" />
<line x1="421.3" y1="104.04811256927246" x2="422.3" y2="104.04811256927246" stroke="#555" stroke-width="0.6" />
<line x1="421.3" y1="100.91839721723454" x2="422.3" y2="100.91839721723454" stroke="#555" stroke-width="0.6" />
<line x1="421.3" y1="98.49080139138273" x2="422.3" y2="98.49080139138273" stroke="#555" stroke-width="0.6" />
<line x1="421.3" y1="96.50731117788973" x2="422.3" y2="96.50731117788973" stroke="#555" stroke-width="0.6" />
<line x1="421.3" y1="94.83029409764286" x2="422.3" y2="94.83029409764286" stroke="#555" stroke-width="0.6" />
<line x1="421.3" y1="93.37759582585181" x2="422.3" y2="93.37759582585181" stroke="#555" stroke-width="0.6" />
<line x1="421.3" y1="92.09622513854491" x2="422.3" y2="92.09622513854491" stroke="#555" stroke-width="0.6" />
<line x1="420.5" y1="90.95" x2="422.3" y2="90.95" stroke="#555" stroke-width="0.6" />
<line x1="421.3" y1="83.40919860861726" x2="422.3" y2="83.40919860861726" stroke="#555" stroke-width="0.6" />
<line x1="421.3" y1="78.99811256927245" x2="422.3" y2="78.99811256927245" stroke="#555" stroke-width="0.6" />
<line x1="421.3" y1="75.86839721723453" x2="422.3" y2="75.86839721723453" stroke="#555" stroke-width="0.6" />
<line x1="421.3" y1="73.44080139138273" x2="422.3" y2="73.44080139138273" stroke="#555" stroke-width="0.6" />
<line x1="421.3" y1="71.45731117788972" x2="422.3" y2="71.45731117788972" stroke="#555" stroke-width="0.6" />
<line x1="421.3" y1="69.78029409764287" x2="422.3" y2="69.78029409764287" stroke="#555" stroke-width="0.6" />
<line x1="421.3" y1="68.32759582585182" x2="422.3" y2="68.32759582585182" stroke="#555" stroke-width="0.6" />
<line x1="421.3" y1="67.04622513854491" x2="422.3" y2="67.04622513854491" stroke="#555" stroke-width="0.6" />
<line x1="420.5" y1="65.9" x2="422.3" y2="65.9" stroke="#555" stroke-width="0.6" />
<line x1="421.3" y1="58.35919860861727" x2="422.3" y2="58.35919860861727" stroke="#555" stroke-width="0.6" />
<line x1="421.3" y1="53.94811256927245" x2="422.3" y2="53.94811256927245" stroke="#555" stroke-width="0.6" />
<line x1="421.3" y1="50.81839721723453" x2="422.3" y2="50.81839721723453" stroke="#555" stroke-width="0.6" />
<line x1="421.3" y1="48.39080139138272" x2="422.3" y2="48.39080139138272" stroke="#555" stroke-width="0.6" />
<line x1="421.3" y1="46.407311177889724" x2="422.3" y2="46.407311177889724" stroke="#555" stroke-width="0.6" />
<line x1="421.3" y1="44.73029409764287" x2="422.3" y2="44.73029409764287" stroke="#555" stroke-width="0.6" />
<line x1="421.3" y1="43.277595825851805" x2="422.3" y2="43.277595825851805" stroke="#555" stroke-width="0.6" />
<line x1="421.3" y1="41.996225138544915" x2="422.3" y2="41.996225138544915" stroke="#555" stroke-width="0.6" />
<line x1="420.5" y1="40.849999999999994" x2="422.3" y2="40.849999999999994" stroke="#555" stroke-width="0.6" />
<line x1="421.3" y1="33.309198608617265" x2="422.3" y2="33.309198608617265" stroke="#555" stroke-width="0.6" />
<line x1="421.3" y1="28.898112569272456" x2="422.3" y2="28.898112569272456" stroke="#555" stroke-width="0.6" />
<line x1="421.3" y1="25.768397217234536" x2="422.3" y2="25.768397217234536" stroke="#555" stroke-width="0.6" />
<line x1="421.3" y1="23.340801391382726" x2="422.3" y2="23.340801391382726" stroke="#555" stroke-width="0.6" />
<line x1="421.3" y1="21.357311177889713" x2="422.3" y2="21.357311177889713" stroke="#555" stroke-width="0.6" />
<line x1="421.3" y1="19.680294097642857" x2="422.3" y2="19.680294097642857" stroke="#555" stroke-width="0.6" />
<line x1="421.3" y1="18.227595825851807" x2="422.3" y2="18.227595825851807" stroke="#555" stroke-width="0.6" />
<line x1="421.3" y1="16.946225138544918" x2="422.3" y2="16.946225138544918" stroke="#555" stroke-width="0.6" />
<line x1="420.5" y1="15.8" x2="422.3" y2="15.8" stroke="#555" stroke-width="0.6" />
<line x1="422.3" y1="116.0" x2="422.3" y2="117.8" stroke="#555" stroke-width="0.6" />
<line x1="429.2688443996212" y1="116.0" x2="429.2688443996212" y2="117.0" stroke="#555" stroke-width="0.6" />
<line x1="433.34535704676017" y1="116.0" x2="433.34535704676017" y2="117.0" stroke="#555" stroke-width="0.6" />
<line x1="436.23768879924233" y1="116.0" x2="436.23768879924233" y2="117.0" stroke="#555" stroke-width="0.6" />
<line x1="438.4811556003788" y1="116.0" x2="438.4811556003788" y2="117.0" stroke="#555" stroke-width="0.6" />
<line x1="440.31420144638133" y1="116.0" x2="440.31420144638133" y2="117.0" stroke="#555" stroke-width="0.6" />
<line x1="441.86401962633005" y1="116.0" x2="441.86401962633005" y2="117.0" stroke="#555" stroke-width="0.6" />
<line x1="443.2065331988635" y1="116.0" x2="443.2065331988635" y2="117.0" stroke="#555" stroke-width="0.6" />
<line x1="444.3907140935204" y1="116.0" x2="444.3907140935204" y2="117.0" stroke="#555" stroke-width="0.6" />
<line x1="445.45" y1="116.0" x2="445.45" y2="117.8" stroke="#555" stroke-width="0.6" />
<line x1="452.41884439962115" y1="116.0" x2="452.41884439962115" y2="117.0" stroke="#555" stroke-width="0.6" />
<line x1="456.4953570467602" y1="116.0" x2="456.4953570467602" y2="117.0" stroke="#555" stroke-width="0.6" />
<line x1="459.3876887992423" y1="116.0" x2="459.3876887992423" y2="117.0" stroke="#555" stroke-width="0.6" />
<line x1="461.63115560037886" y1="116.0" x2="461.63115560037886" y2="117.0" stroke="#555" stroke-width="0.6" />
<line x1="463.46420144638137" y1="116.0" x2="463.46420144638137" y2="117.0" stroke="#555" stroke-width="0.6" />
<line x1="465.01401962633" y1="116.0" x2="465.01401962633" y2="117.0" stroke="#555" stroke-width="0.6" />
<line x1="466.3565331988635" y1="116.0" x2="466.3565331988635" y2="117.0" stroke="#555" stroke-width="0.6" />
<line x1="467.54071409352036" y1="116.0" x2="467.54071409352036" y2="117.0" stroke="#555" stroke-width="0.6" />
<line x1="468.6" y1="116.0" x2="468.6" y2="117.8" stroke="#555" stroke-width="0.6" />
<line x1="475.5688443996212" y1="116.0" x2="475.5688443996212" y2="117.0" stroke="#555" stroke-width="0.6" />
<line x1="479.6453570467602" y1="116.0" x2="479.6453570467602" y2="117.0" stroke="#555" stroke-width="0.6" />
<line x1="482.53768879924235" y1="116.0" x2="482.53768879924235" y2="117.0" stroke="#555" stroke-width="0.6" />
<line x1="484.78115560037884" y1="116.0" x2="484.78115560037884" y2="117.0" stroke="#555" stroke-width="0.6" />
<line x1="486.61420144638134" y1="116.0" x2="486.61420144638134" y2="117.0" stroke="#555" stroke-width="0.6" />
<line x1="488.16401962633006" y1="116.0" x2="488.16401962633006" y2="117.0" stroke="#555" stroke-width="0.6" />
<line x1="489.5065331988635" y1="116.0" x2="489.5065331988635" y2="117.0" stroke="#555" stroke-width="0.6" />
<line x1="490.69071409352034" y1="116.0" x2="490.69071409352034" y2="117.0" stroke="#555" stroke-width="0.6" />
<line x1="491.75" y1="116.0" x2="491.75" y2="117.8" stroke="#555" stroke-width="0.6" />
<line x1="498.71884439962116" y1="116.0" x2="498.71884439962116" y2="117.0" stroke="#555" stroke-width="0.6" />
<line x1="502.79535704676016" y1="116.0" x2="502.79535704676016" y2="117.0" stroke="#555" stroke-width="0.6" />
<line x1="505.6876887992423" y1="116.0" x2="505.6876887992423" y2="117.0" stroke="#555" stroke-width="0.6" />
<line x1="507.9311556003788" y1="116.0" x2="507.9311556003788" y2="117.0" stroke="#555" stroke-width="0.6" />
<line x1="509.7642014463813" y1="116.0" x2="509.7642014463813" y2="117.0" stroke="#555" stroke-width="0.6" />
<line x1="511.31401962633004" y1="116.0" x2="511.31401962633004" y2="117.0" stroke="#555" stroke-width="0.6" />
<line x1="512.6565331988635" y1="116.0" x2="512.6565331988635" y2="117.0" stroke="#555" stroke-width="0.6" />
<line x1="513.8407140935203" y1="116.0" x2="513.8407140935203" y2="117.0" stroke="#555" stroke-width="0.6" />
<line x1="514.9" y1="116.0" x2="514.9" y2="117.8" stroke="#555" stroke-width="0.6" />
<text x="419.0" y="117.75" font-family="Liberation Sans" font-size="5.0" font-weight="normal" fill="#222" text-anchor="end" >10<tspan dy="-2.10" font-size="3.90">0</tspan></text>
<text x="419.0" y="92.7" font-family="Liberation Sans" font-size="5.0" font-weight="normal" fill="#222" text-anchor="end" >10<tspan dy="-2.10" font-size="3.90">1</tspan></text>
<text x="419.0" y="67.65" font-family="Liberation Sans" font-size="5.0" font-weight="normal" fill="#222" text-anchor="end" >10<tspan dy="-2.10" font-size="3.90">2</tspan></text>
<text x="419.0" y="42.599999999999994" font-family="Liberation Sans" font-size="5.0" font-weight="normal" fill="#222" text-anchor="end" >10<tspan dy="-2.10" font-size="3.90">3</tspan></text>
<text x="419.0" y="17.549999999999997" font-family="Liberation Sans" font-size="5.0" font-weight="normal" fill="#222" text-anchor="end" >10<tspan dy="-2.10" font-size="3.90">4</tspan></text>
<text x="422.3" y="125.2" font-family="Liberation Sans" font-size="5.3" font-weight="normal" fill="#222" text-anchor="middle" >10<tspan dy="-2.23" font-size="4.13">0</tspan></text>
<text x="445.45" y="125.2" font-family="Liberation Sans" font-size="5.3" font-weight="normal" fill="#222" text-anchor="middle" >10<tspan dy="-2.23" font-size="4.13">1</tspan></text>
<text x="468.6" y="125.2" font-family="Liberation Sans" font-size="5.3" font-weight="normal" fill="#222" text-anchor="middle" >10<tspan dy="-2.23" font-size="4.13">2</tspan></text>
<text x="491.75" y="125.2" font-family="Liberation Sans" font-size="5.3" font-weight="normal" fill="#222" text-anchor="middle" >10<tspan dy="-2.23" font-size="4.13">3</tspan></text>
<text x="514.9" y="125.2" font-family="Liberation Sans" font-size="5.3" font-weight="normal" fill="#222" text-anchor="middle" >10<tspan dy="-2.23" font-size="4.13">4</tspan></text>
<line x1="464.6" y1="132.0" x2="464.6" y2="232.3" stroke="#c8c8c8" stroke-width="0.8" />
<line x1="471.7" y1="132.0" x2="471.7" y2="232.3" stroke="#c8c8c8" stroke-width="0.8" />
<line x1="477.7" y1="132.0" x2="477.7" y2="232.3" stroke="#c8c8c8" stroke-width="0.8" />
<line x1="483.8" y1="132.0" x2="483.8" y2="232.3" stroke="#c8c8c8" stroke-width="0.8" />
<line x1="422.3" y1="132.0" x2="514.9" y2="132.0" stroke="#666" stroke-width="1" />
<line x1="514.9" y1="132.0" x2="514.9" y2="232.3" stroke="#666" stroke-width="1" />
<line x1="422.3" y1="132.0" x2="422.3" y2="232.3" stroke="#444" stroke-width="0.8" />
<line x1="422.3" y1="232.3" x2="514.9" y2="232.3" stroke="#444" stroke-width="0.8" />
<line x1="420.5" y1="232.3" x2="422.3" y2="232.3" stroke="#555" stroke-width="0.6" />
<line x1="421.3" y1="224.75167285872567" x2="422.3" y2="224.75167285872567" stroke="#555" stroke-width="0.6" />
<line x1="421.3" y1="220.33618453790447" x2="422.3" y2="220.33618453790447" stroke="#555" stroke-width="0.6" />
<line x1="421.3" y1="217.20334571745136" x2="422.3" y2="217.20334571745136" stroke="#555" stroke-width="0.6" />
<line x1="421.3" y1="214.77332714127434" x2="422.3" y2="214.77332714127434" stroke="#555" stroke-width="0.6" />
<line x1="421.3" y1="212.78785739663016" x2="422.3" y2="212.78785739663016" stroke="#555" stroke-width="0.6" />
<line x1="421.3" y1="211.1091666466425" x2="422.3" y2="211.1091666466425" stroke="#555" stroke-width="0.6" />
<line x1="421.3" y1="209.655018576177" x2="422.3" y2="209.655018576177" stroke="#555" stroke-width="0.6" />
<line x1="421.3" y1="208.37236907580893" x2="422.3" y2="208.37236907580893" stroke="#555" stroke-width="0.6" />
<line x1="420.5" y1="207.22500000000002" x2="422.3" y2="207.22500000000002" stroke="#555" stroke-width="0.6" />
<line x1="421.3" y1="199.67667285872568" x2="422.3" y2="199.67667285872568" stroke="#555" stroke-width="0.6" />
<line x1="421.3" y1="195.26118453790446" x2="422.3" y2="195.26118453790446" stroke="#555" stroke-width="0.6" />
<line x1="421.3" y1="192.12834571745134" x2="422.3" y2="192.12834571745134" stroke="#555" stroke-width="0.6" />
<line x1="421.3" y1="189.69832714127432" x2="422.3" y2="189.69832714127432" stroke="#555" stroke-width="0.6" />
<line x1="421.3" y1="187.71285739663014" x2="422.3" y2="187.71285739663014" stroke="#555" stroke-width="0.6" />
<line x1="421.3" y1="186.03416664664252" x2="422.3" y2="186.03416664664252" stroke="#555" stroke-width="0.6" />
<line x1="421.3" y1="184.58001857617703" x2="422.3" y2="184.58001857617703" stroke="#555" stroke-width="0.6" />
<line x1="421.3" y1="183.29736907580894" x2="422.3" y2="183.29736907580894" stroke="#555" stroke-width="0.6" />
<line x1="420.5" y1="182.15" x2="422.3" y2="182.15" stroke="#555" stroke-width="0.6" />
<line x1="421.3" y1="174.6016728587257" x2="422.3" y2="174.6016728587257" stroke="#555" stroke-width="0.6" />
<line x1="421.3" y1="170.18618453790447" x2="422.3" y2="170.18618453790447" stroke="#555" stroke-width="0.6" />
<line x1="421.3" y1="167.05334571745135" x2="422.3" y2="167.05334571745135" stroke="#555" stroke-width="0.6" />
<line x1="421.3" y1="164.62332714127433" x2="422.3" y2="164.62332714127433" stroke="#555" stroke-width="0.6" />
<line x1="421.3" y1="162.63785739663012" x2="422.3" y2="162.63785739663012" stroke="#555" stroke-width="0.6" />
<line x1="421.3" y1="160.95916664664253" x2="422.3" y2="160.95916664664253" stroke="#555" stroke-width="0.6" />
<line x1="421.3" y1="159.505018576177" x2="422.3" y2="159.505018576177" stroke="#555" stroke-width="0.6" />
<line x1="421.3" y1="158.22236907580893" x2="422.3" y2="158.22236907580893" stroke="#555" stroke-width="0.6" />
<line x1="420.5" y1="157.075" x2="422.3" y2="157.075" stroke="#555" stroke-width="0.6" />
<line x1="421.3" y1="149.52667285872568" x2="422.3" y2="149.52667285872568" stroke="#555" stroke-width="0.6" />
<line x1="421.3" y1="145.11118453790448" x2="422.3" y2="145.11118453790448" stroke="#555" stroke-width="0.6" />
<line x1="421.3" y1="141.97834571745136" x2="422.3" y2="141.97834571745136" stroke="#555" stroke-width="0.6" />
<line x1="421.3" y1="139.54832714127434" x2="422.3" y2="139.54832714127434" stroke="#555" stroke-width="0.6" />
<line x1="421.3" y1="137.56285739663014" x2="422.3" y2="137.56285739663014" stroke="#555" stroke-width="0.6" />
<line x1="421.3" y1="135.8841666466425" x2="422.3" y2="135.8841666466425" stroke="#555" stroke-width="0.6" />
<line x1="421.3" y1="134.43001857617702" x2="422.3" y2="134.43001857617702" stroke="#555" stroke-width="0.6" />
<line x1="421.3" y1="133.1473690758089" x2="422.3" y2="133.1473690758089" stroke="#555" stroke-width="0.6" />
<line x1="420.5" y1="132.0" x2="422.3" y2="132.0" stroke="#555" stroke-width="0.6" />
<line x1="422.3" y1="232.3" x2="422.3" y2="234.10000000000002" stroke="#555" stroke-width="0.6" />
<line x1="429.2688443996212" y1="232.3" x2="429.2688443996212" y2="233.3" stroke="#555" stroke-width="0.6" />
<line x1="433.34535704676017" y1="232.3" x2="433.34535704676017" y2="233.3" stroke="#555" stroke-width="0.6" />
<line x1="436.23768879924233" y1="232.3" x2="436.23768879924233" y2="233.3" stroke="#555" stroke-width="0.6" />
<line x1="438.4811556003788" y1="232.3" x2="438.4811556003788" y2="233.3" stroke="#555" stroke-width="0.6" />
<line x1="440.31420144638133" y1="232.3" x2="440.31420144638133" y2="233.3" stroke="#555" stroke-width="0.6" />
<line x1="441.86401962633005" y1="232.3" x2="441.86401962633005" y2="233.3" stroke="#555" stroke-width="0.6" />
<line x1="443.2065331988635" y1="232.3" x2="443.2065331988635" y2="233.3" stroke="#555" stroke-width="0.6" />
<line x1="444.3907140935204" y1="232.3" x2="444.3907140935204" y2="233.3" stroke="#555" stroke-width="0.6" />
<line x1="445.45" y1="232.3" x2="445.45" y2="234.10000000000002" stroke="#555" stroke-width="0.6" />
<line x1="452.41884439962115" y1="232.3" x2="452.41884439962115" y2="233.3" stroke="#555" stroke-width="0.6" />
<line x1="456.4953570467602" y1="232.3" x2="456.4953570467602" y2="233.3" stroke="#555" stroke-width="0.6" />
<line x1="459.3876887992423" y1="232.3" x2="459.3876887992423" y2="233.3" stroke="#555" stroke-width="0.6" />
<line x1="461.63115560037886" y1="232.3" x2="461.63115560037886" y2="233.3" stroke="#555" stroke-width="0.6" />
<line x1="463.46420144638137" y1="232.3" x2="463.46420144638137" y2="233.3" stroke="#555" stroke-width="0.6" />
<line x1="465.01401962633" y1="232.3" x2="465.01401962633" y2="233.3" stroke="#555" stroke-width="0.6" />
<line x1="466.3565331988635" y1="232.3" x2="466.3565331988635" y2="233.3" stroke="#555" stroke-width="0.6" />
<line x1="467.54071409352036" y1="232.3" x2="467.54071409352036" y2="233.3" stroke="#555" stroke-width="0.6" />
<line x1="468.6" y1="232.3" x2="468.6" y2="234.10000000000002" stroke="#555" stroke-width="0.6" />
<line x1="475.5688443996212" y1="232.3" x2="475.5688443996212" y2="233.3" stroke="#555" stroke-width="0.6" />
<line x1="479.6453570467602" y1="232.3" x2="479.6453570467602" y2="233.3" stroke="#555" stroke-width="0.6" />
<line x1="482.53768879924235" y1="232.3" x2="482.53768879924235" y2="233.3" stroke="#555" stroke-width="0.6" />
<line x1="484.78115560037884" y1="232.3" x2="484.78115560037884" y2="233.3" stroke="#555" stroke-width="0.6" />
<line x1="486.61420144638134" y1="232.3" x2="486.61420144638134" y2="233.3" stroke="#555" stroke-width="0.6" />
<line x1="488.16401962633006" y1="232.3" x2="488.16401962633006" y2="233.3" stroke="#555" stroke-width="0.6" />
<line x1="489.5065331988635" y1="232.3" x2="489.5065331988635" y2="233.3" stroke="#555" stroke-width="0.6" />
<line x1="490.69071409352034" y1="232.3" x2="490.69071409352034" y2="233.3" stroke="#555" stroke-width="0.6" />
<line x1="491.75" y1="232.3" x2="491.75" y2="234.10000000000002" stroke="#555" stroke-width="0.6" />
<line x1="498.71884439962116" y1="232.3" x2="498.71884439962116" y2="233.3" stroke="#555" stroke-width="0.6" />
<line x1="502.79535704676016" y1="232.3" x2="502.79535704676016" y2="233.3" stroke="#555" stroke-width="0.6" />
<line x1="505.6876887992423" y1="232.3" x2="505.6876887992423" y2="233.3" stroke="#555" stroke-width="0.6" />
<line x1="507.9311556003788" y1="232.3" x2="507.9311556003788" y2="233.3" stroke="#555" stroke-width="0.6" />
<line x1="509.7642014463813" y1="232.3" x2="509.7642014463813" y2="233.3" stroke="#555" stroke-width="0.6" />
<line x1="511.31401962633004" y1="232.3" x2="511.31401962633004" y2="233.3" stroke="#555" stroke-width="0.6" />
<line x1="512.6565331988635" y1="232.3" x2="512.6565331988635" y2="233.3" stroke="#555" stroke-width="0.6" />
<line x1="513.8407140935203" y1="232.3" x2="513.8407140935203" y2="233.3" stroke="#555" stroke-width="0.6" />
<line x1="514.9" y1="232.3" x2="514.9" y2="234.10000000000002" stroke="#555" stroke-width="0.6" />
<text x="419.0" y="234.05" font-family="Liberation Sans" font-size="5.0" font-weight="normal" fill="#222" text-anchor="end" >10<tspan dy="-2.10" font-size="3.90">0</tspan></text>
<text x="419.0" y="208.97500000000002" font-family="Liberation Sans" font-size="5.0" font-weight="normal" fill="#222" text-anchor="end" >10<tspan dy="-2.10" font-size="3.90">1</tspan></text>
<text x="419.0" y="183.9" font-family="Liberation Sans" font-size="5.0" font-weight="normal" fill="#222" text-anchor="end" >10<tspan dy="-2.10" font-size="3.90">2</tspan></text>
<text x="419.0" y="158.825" font-family="Liberation Sans" font-size="5.0" font-weight="normal" fill="#222" text-anchor="end" >10<tspan dy="-2.10" font-size="3.90">3</tspan></text>
<text x="419.0" y="133.75" font-family="Liberation Sans" font-size="5.0" font-weight="normal" fill="#222" text-anchor="end" >10<tspan dy="-2.10" font-size="3.90">4</tspan></text>
<text x="422.3" y="241.5" font-family="Liberation Sans" font-size="5.3" font-weight="normal" fill="#222" text-anchor="middle" >10<tspan dy="-2.23" font-size="4.13">0</tspan></text>
<text x="445.45" y="241.5" font-family="Liberation Sans" font-size="5.3" font-weight="normal" fill="#222" text-anchor="middle" >10<tspan dy="-2.23" font-size="4.13">1</tspan></text>
<text x="468.6" y="241.5" font-family="Liberation Sans" font-size="5.3" font-weight="normal" fill="#222" text-anchor="middle" >10<tspan dy="-2.23" font-size="4.13">2</tspan></text>
<text x="491.75" y="241.5" font-family="Liberation Sans" font-size="5.3" font-weight="normal" fill="#222" text-anchor="middle" >10<tspan dy="-2.23" font-size="4.13">3</tspan></text>
<text x="514.9" y="241.5" font-family="Liberation Sans" font-size="5.3" font-weight="normal" fill="#222" text-anchor="middle" >10<tspan dy="-2.23" font-size="4.13">4</tspan></text>
<path d="M489.1 67.6h0.85v0.85h-0.85zM486.9 73.2h0.85v0.85h-0.85zM489.7 96.6h0.85v0.85h-0.85zM491.3 85.0h0.85v0.85h-0.85zM491.6 70.4h0.85v0.85h-0.85zM488.7 80.3h0.85v0.85h-0.85zM490.4 75.1h0.85v0.85h-0.85zM488.5 75.4h0.85v0.85h-0.85zM488.7 87.4h0.85v0.85h-0.85zM488.4 68.1h0.85v0.85h-0.85zM489.2 80.5h0.85v0.85h-0.85zM488.8 80.2h0.85v0.85h-0.85zM491.2 77.1h0.85v0.85h-0.85zM489.0 84.3h0.85v0.85h-0.85zM488.8 88.0h0.85v0.85h-0.85zM489.8 91.9h0.85v0.85h-0.85zM490.8 75.2h0.85v0.85h-0.85zM490.8 82.2h0.85v0.85h-0.85zM487.8 83.2h0.85v0.85h-0.85zM492.3 77.4h0.85v0.85h-0.85zM489.1 70.7h0.85v0.85h-0.85zM488.0 94.2h0.85v0.85h-0.85zM488.6 76.5h0.85v0.85h-0.85zM486.0 75.4h0.85v0.85h-0.85zM487.8 90.9h0.85v0.85h-0.85zM488.2 81.3h0.85v0.85h-0.85zM490.9 83.8h0.85v0.85h-0.85zM487.1 87.0h0.85v0.85h-0.85zM489.9 69.6h0.85v0.85h-0.85zM488.5 86.4h0.85v0.85h-0.85zM492.5 74.9h0.85v0.85h-0.85zM489.6 74.2h0.85v0.85h-0.85zM489.9 84.4h0.85v0.85h-0.85zM490.2 90.7h0.85v0.85h-0.85zM486.0 73.6h0.85v0.85h-0.85zM488.3 82.6h0.85v0.85h-0.85zM485.2 75.8h0.85v0.85h-0.85zM487.7 85.4h0.85v0.85h-0.85zM489.3 87.9h0.85v0.85h-0.85zM488.5 73.8h0.85v0.85h-0.85zM489.3 86.8h0.85v0.85h-0.85zM488.2 87.2h0.85v0.85h-0.85zM487.8 86.1h0.85v0.85h-0.85zM488.7 87.1h0.85v0.85h-0.85zM487.0 79.9h0.85v0.85h-0.85zM487.3 88.6h0.85v0.85h-0.85zM487.1 94.6h0.85v0.85h-0.85zM488.5 68.9h0.85v0.85h-0.85zM489.3 91.8h0.85v0.85h-0.85zM486.0 78.1h0.85v0.85h-0.85zM487.8 81.7h0.85v0.85h-0.85zM482.2 71.3h0.85v0.85h-0.85zM487.0 86.1h0.85v0.85h-0.85zM488.9 76.6h0.85v0.85h-0.85zM487.3 88.3h0.85v0.85h-0.85zM489.8 71.0h0.85v0.85h-0.85zM488.0 82.6h0.85v0.85h-0.85zM489.5 77.5h0.85v0.85h-0.85zM487.8 84.1h0.85v0.85h-0.85zM484.8 74.4h0.85v0.85h-0.85zM488.6 72.3h0.85v0.85h-0.85zM489.7 89.8h0.85v0.85h-0.85zM488.0 87.5h0.85v0.85h-0.85zM489.4 83.0h0.85v0.85h-0.85zM488.1 93.7h0.85v0.85h-0.85zM487.7 74.6h0.85v0.85h-0.85zM490.1 90.0h0.85v0.85h-0.85zM488.6 72.7h0.85v0.85h-0.85zM487.9 91.6h0.85v0.85h-0.85zM489.6 83.0h0.85v0.85h-0.85zM488.8 84.0h0.85v0.85h-0.85zM488.3 94.9h0.85v0.85h-0.85zM489.6 87.7h0.85v0.85h-0.85zM485.0 90.3h0.85v0.85h-0.85zM490.4 73.4h0.85v0.85h-0.85zM493.0 82.0h0.85v0.85h-0.85zM489.5 70.3h0.85v0.85h-0.85zM483.5 75.2h0.85v0.85h-0.85zM492.3 74.9h0.85v0.85h-0.85zM491.5 92.0h0.85v0.85h-0.85zM490.3 73.1h0.85v0.85h-0.85zM486.0 76.9h0.85v0.85h-0.85zM487.3 82.6h0.85v0.85h-0.85zM488.6 90.6h0.85v0.85h-0.85zM488.9 92.7h0.85v0.85h-0.85zM490.5 87.0h0.85v0.85h-0.85zM490.2 74.7h0.85v0.85h-0.85zM484.5 84.7h0.85v0.85h-0.85zM488.3 87.2h0.85v0.85h-0.85zM488.2 70.9h0.85v0.85h-0.85zM491.6 88.6h0.85v0.85h-0.85zM487.4 75.8h0.85v0.85h-0.85zM486.3 82.9h0.85v0.85h-0.85zM488.3 86.6h0.85v0.85h-0.85zM489.2 85.6h0.85v0.85h-0.85zM485.2 79.7h0.85v0.85h-0.85zM490.7 84.5h0.85v0.85h-0.85zM488.3 73.1h0.85v0.85h-0.85zM490.4 79.0h0.85v0.85h-0.85zM490.7 75.2h0.85v0.85h-0.85zM489.8 78.0h0.85v0.85h-0.85zM491.4 82.0h0.85v0.85h-0.85zM491.0 86.9h0.85v0.85h-0.85zM487.8 78.6h0.85v0.85h-0.85zM488.5 69.7h0.85v0.85h-0.85zM490.7 80.2h0.85v0.85h-0.85zM489.1 73.2h0.85v0.85h-0.85zM487.9 87.1h0.85v0.85h-0.85zM489.0 76.2h0.85v0.85h-0.85zM486.8 80.3h0.85v0.85h-0.85zM488.3 92.1h0.85v0.85h-0.85zM481.0 77.7h0.85v0.85h-0.85zM489.1 75.8h0.85v0.85h-0.85zM493.1 76.5h0.85v0.85h-0.85zM490.2 80.9h0.85v0.85h-0.85zM490.8 69.6h0.85v0.85h-0.85zM489.1 84.8h0.85v0.85h-0.85zM488.0 86.9h0.85v0.85h-0.85zM489.7 78.4h0.85v0.85h-0.85zM488.9 86.9h0.85v0.85h-0.85zM488.7 89.0h0.85v0.85h-0.85zM489.1 89.8h0.85v0.85h-0.85zM488.0 86.1h0.85v0.85h-0.85zM488.9 90.4h0.85v0.85h-0.85zM489.6 90.2h0.85v0.85h-0.85zM491.4 77.3h0.85v0.85h-0.85zM489.1 82.5h0.85v0.85h-0.85zM490.7 79.5h0.85v0.85h-0.85zM489.2 76.0h0.85v0.85h-0.85zM484.7 85.1h0.85v0.85h-0.85zM484.1 77.4h0.85v0.85h-0.85zM488.4 83.0h0.85v0.85h-0.85zM486.8 80.7h0.85v0.85h-0.85zM490.5 68.4h0.85v0.85h-0.85zM486.0 80.6h0.85v0.85h-0.85zM487.8 73.4h0.85v0.85h-0.85zM488.0 86.8h0.85v0.85h-0.85zM486.6 68.9h0.85v0.85h-0.85zM487.1 74.0h0.85v0.85h-0.85zM488.7 81.8h0.85v0.85h-0.85zM489.0 77.1h0.85v0.85h-0.85zM487.9 85.4h0.85v0.85h-0.85zM489.2 72.2h0.85v0.85h-0.85zM490.2 73.8h0.85v0.85h-0.85zM488.6 93.3h0.85v0.85h-0.85zM487.0 70.7h0.85v0.85h-0.85zM486.9 73.6h0.85v0.85h-0.85zM487.6 75.1h0.85v0.85h-0.85zM487.5 77.3h0.85v0.85h-0.85zM489.0 71.1h0.85v0.85h-0.85zM493.9 83.3h0.85v0.85h-0.85zM489.8 93.6h0.85v0.85h-0.85zM488.9 71.3h0.85v0.85h-0.85zM490.1 76.9h0.85v0.85h-0.85zM489.7 87.0h0.85v0.85h-0.85zM490.1 93.6h0.85v0.85h-0.85zM489.9 94.9h0.85v0.85h-0.85zM486.1 73.8h0.85v0.85h-0.85zM493.1 80.9h0.85v0.85h-0.85zM487.9 91.3h0.85v0.85h-0.85zM489.1 70.3h0.85v0.85h-0.85zM487.4 83.7h0.85v0.85h-0.85zM484.1 78.3h0.85v0.85h-0.85zM486.4 88.9h0.85v0.85h-0.85zM490.7 91.4h0.85v0.85h-0.85zM491.7 83.8h0.85v0.85h-0.85zM485.7 66.2h0.85v0.85h-0.85zM485.5 70.6h0.85v0.85h-0.85zM492.2 80.5h0.85v0.85h-0.85zM487.7 89.2h0.85v0.85h-0.85zM490.1 73.7h0.85v0.85h-0.85zM492.1 83.7h0.85v0.85h-0.85zM490.6 79.0h0.85v0.85h-0.85zM492.7 73.7h0.85v0.85h-0.85zM489.2 90.0h0.85v0.85h-0.85zM484.7 77.5h0.85v0.85h-0.85zM487.0 77.4h0.85v0.85h-0.85zM486.4 85.3h0.85v0.85h-0.85zM489.5 85.1h0.85v0.85h-0.85zM487.1 91.2h0.85v0.85h-0.85zM489.1 82.6h0.85v0.85h-0.85zM487.5 72.8h0.85v0.85h-0.85zM487.4 80.1h0.85v0.85h-0.85zM489.4 90.0h0.85v0.85h-0.85zM488.0 86.7h0.85v0.85h-0.85zM488.1 93.7h0.85v0.85h-0.85zM492.1 65.4h0.85v0.85h-0.85zM488.7 75.7h0.85v0.85h-0.85zM486.8 83.0h0.85v0.85h-0.85zM490.7 87.4h0.85v0.85h-0.85zM486.2 84.3h0.85v0.85h-0.85zM489.2 89.0h0.85v0.85h-0.85zM489.4 95.2h0.85v0.85h-0.85zM488.4 84.4h0.85v0.85h-0.85zM487.2 83.3h0.85v0.85h-0.85zM488.2 84.8h0.85v0.85h-0.85zM488.2 87.1h0.85v0.85h-0.85zM486.1 75.6h0.85v0.85h-0.85zM490.2 87.2h0.85v0.85h-0.85zM487.8 85.2h0.85v0.85h-0.85zM487.9 91.4h0.85v0.85h-0.85zM491.6 80.6h0.85v0.85h-0.85zM486.5 68.4h0.85v0.85h-0.85zM485.9 81.1h0.85v0.85h-0.85zM488.7 89.7h0.85v0.85h-0.85zM488.8 83.3h0.85v0.85h-0.85zM488.8 84.2h0.85v0.85h-0.85zM493.6 79.4h0.85v0.85h-0.85zM487.5 78.4h0.85v0.85h-0.85zM490.8 89.5h0.85v0.85h-0.85zM491.5 72.4h0.85v0.85h-0.85zM490.4 92.0h0.85v0.85h-0.85zM488.7 88.6h0.85v0.85h-0.85zM488.5 94.3h0.85v0.85h-0.85zM488.2 74.0h0.85v0.85h-0.85zM489.8 68.5h0.85v0.85h-0.85zM489.8 89.2h0.85v0.85h-0.85zM492.6 76.7h0.85v0.85h-0.85zM484.3 73.1h0.85v0.85h-0.85zM491.3 77.5h0.85v0.85h-0.85zM489.4 83.4h0.85v0.85h-0.85zM489.0 73.1h0.85v0.85h-0.85zM486.7 78.4h0.85v0.85h-0.85zM489.4 85.0h0.85v0.85h-0.85zM486.2 85.9h0.85v0.85h-0.85zM492.9 66.5h0.85v0.85h-0.85zM487.7 91.3h0.85v0.85h-0.85zM488.6 79.5h0.85v0.85h-0.85zM488.5 80.5h0.85v0.85h-0.85zM489.9 82.1h0.85v0.85h-0.85zM485.5 76.8h0.85v0.85h-0.85zM489.7 92.4h0.85v0.85h-0.85zM490.0 73.3h0.85v0.85h-0.85zM491.8 78.7h0.85v0.85h-0.85zM489.7 74.1h0.85v0.85h-0.85zM488.6 85.5h0.85v0.85h-0.85zM486.9 91.9h0.85v0.85h-0.85zM488.4 91.5h0.85v0.85h-0.85zM493.7 71.9h0.85v0.85h-0.85zM488.1 84.7h0.85v0.85h-0.85zM488.3 89.3h0.85v0.85h-0.85zM488.5 73.2h0.85v0.85h-0.85zM490.8 79.5h0.85v0.85h-0.85zM486.2 85.4h0.85v0.85h-0.85zM491.4 85.4h0.85v0.85h-0.85zM490.1 83.6h0.85v0.85h-0.85zM490.1 85.9h0.85v0.85h-0.85zM488.8 84.9h0.85v0.85h-0.85zM493.6 76.3h0.85v0.85h-0.85zM488.1 79.8h0.85v0.85h-0.85zM490.3 80.3h0.85v0.85h-0.85zM489.0 85.7h0.85v0.85h-0.85zM486.3 84.0h0.85v0.85h-0.85zM488.5 72.7h0.85v0.85h-0.85zM490.4 78.0h0.85v0.85h-0.85zM488.6 95.9h0.85v0.85h-0.85zM487.8 74.3h0.85v0.85h-0.85zM488.8 72.8h0.85v0.85h-0.85zM486.1 70.8h0.85v0.85h-0.85zM487.6 90.0h0.85v0.85h-0.85zM488.9 93.5h0.85v0.85h-0.85zM486.4 75.7h0.85v0.85h-0.85zM490.4 76.7h0.85v0.85h-0.85zM490.9 71.1h0.85v0.85h-0.85zM491.1 86.8h0.85v0.85h-0.85zM490.9 77.2h0.85v0.85h-0.85zM488.5 88.1h0.85v0.85h-0.85zM490.0 79.7h0.85v0.85h-0.85zM487.6 89.9h0.85v0.85h-0.85zM489.8 81.5h0.85v0.85h-0.85zM488.2 87.1h0.85v0.85h-0.85zM490.6 88.3h0.85v0.85h-0.85zM488.1 90.4h0.85v0.85h-0.85zM489.2 80.3h0.85v0.85h-0.85zM487.5 85.3h0.85v0.85h-0.85zM490.0 86.2h0.85v0.85h-0.85zM490.7 74.8h0.85v0.85h-0.85zM486.8 84.3h0.85v0.85h-0.85zM490.7 91.2h0.85v0.85h-0.85zM489.3 94.7h0.85v0.85h-0.85zM484.3 69.8h0.85v0.85h-0.85zM487.4 88.1h0.85v0.85h-0.85zM484.4 75.8h0.85v0.85h-0.85zM483.0 71.2h0.85v0.85h-0.85zM488.5 74.5h0.85v0.85h-0.85zM486.1 90.0h0.85v0.85h-0.85zM489.2 93.3h0.85v0.85h-0.85zM485.6 80.3h0.85v0.85h-0.85zM488.0 77.9h0.85v0.85h-0.85zM492.3 82.3h0.85v0.85h-0.85zM488.4 91.1h0.85v0.85h-0.85zM488.8 86.4h0.85v0.85h-0.85zM492.7 69.1h0.85v0.85h-0.85zM488.0 74.5h0.85v0.85h-0.85zM489.4 88.4h0.85v0.85h-0.85zM487.2 82.8h0.85v0.85h-0.85zM488.2 85.2h0.85v0.85h-0.85zM489.0 88.0h0.85v0.85h-0.85zM488.8 79.8h0.85v0.85h-0.85zM487.7 83.9h0.85v0.85h-0.85zM489.3 80.1h0.85v0.85h-0.85zM490.5 72.8h0.85v0.85h-0.85zM490.6 70.7h0.85v0.85h-0.85zM488.8 94.6h0.85v0.85h-0.85zM485.8 68.5h0.85v0.85h-0.85zM489.9 85.4h0.85v0.85h-0.85zM489.7 86.8h0.85v0.85h-0.85zM486.2 76.8h0.85v0.85h-0.85zM481.6 68.7h0.85v0.85h-0.85zM488.4 79.6h0.85v0.85h-0.85zM491.3 75.2h0.85v0.85h-0.85zM490.7 80.0h0.85v0.85h-0.85zM486.2 80.5h0.85v0.85h-0.85zM490.0 93.0h0.85v0.85h-0.85zM486.2 73.0h0.85v0.85h-0.85zM489.7 92.2h0.85v0.85h-0.85zM487.5 73.2h0.85v0.85h-0.85zM489.7 88.6h0.85v0.85h-0.85zM490.0 75.5h0.85v0.85h-0.85zM488.5 88.9h0.85v0.85h-0.85zM491.1 67.6h0.85v0.85h-0.85zM487.4 78.7h0.85v0.85h-0.85zM488.2 82.1h0.85v0.85h-0.85zM488.2 86.7h0.85v0.85h-0.85zM487.7 85.2h0.85v0.85h-0.85zM491.4 73.0h0.85v0.85h-0.85zM490.9 78.8h0.85v0.85h-0.85zM488.8 85.7h0.85v0.85h-0.85zM485.7 71.6h0.85v0.85h-0.85zM489.3 88.3h0.85v0.85h-0.85zM489.4 77.2h0.85v0.85h-0.85zM490.4 73.7h0.85v0.85h-0.85zM488.7 70.3h0.85v0.85h-0.85zM488.4 86.5h0.85v0.85h-0.85zM493.1 68.4h0.85v0.85h-0.85zM487.1 74.6h0.85v0.85h-0.85zM488.3 73.6h0.85v0.85h-0.85zM484.0 74.7h0.85v0.85h-0.85zM488.2 85.7h0.85v0.85h-0.85zM487.9 83.2h0.85v0.85h-0.85zM488.4 89.3h0.85v0.85h-0.85zM489.6 88.2h0.85v0.85h-0.85zM487.2 74.3h0.85v0.85h-0.85zM489.7 71.3h0.85v0.85h-0.85zM487.6 72.4h0.85v0.85h-0.85zM487.5 73.6h0.85v0.85h-0.85zM485.4 81.9h0.85v0.85h-0.85zM489.3 91.9h0.85v0.85h-0.85zM490.2 75.5h0.85v0.85h-0.85zM486.3 74.2h0.85v0.85h-0.85zM488.0 87.6h0.85v0.85h-0.85zM487.1 93.6h0.85v0.85h-0.85zM487.5 69.7h0.85v0.85h-0.85zM485.2 72.3h0.85v0.85h-0.85zM489.2 89.8h0.85v0.85h-0.85zM488.4 79.2h0.85v0.85h-0.85zM489.9 79.0h0.85v0.85h-0.85zM487.2 85.7h0.85v0.85h-0.85zM486.3 86.9h0.85v0.85h-0.85zM488.2 68.8h0.85v0.85h-0.85zM488.2 94.7h0.85v0.85h-0.85zM490.3 93.7h0.85v0.85h-0.85zM489.1 75.9h0.85v0.85h-0.85zM491.6 79.0h0.85v0.85h-0.85zM489.9 74.2h0.85v0.85h-0.85zM488.0 83.0h0.85v0.85h-0.85zM484.3 71.8h0.85v0.85h-0.85zM488.1 84.5h0.85v0.85h-0.85zM489.3 89.5h0.85v0.85h-0.85zM488.7 78.9h0.85v0.85h-0.85zM489.1 89.8h0.85v0.85h-0.85zM489.4 68.1h0.85v0.85h-0.85zM487.3 88.8h0.85v0.85h-0.85zM489.4 72.4h0.85v0.85h-0.85zM486.3 70.8h0.85v0.85h-0.85zM488.6 85.0h0.85v0.85h-0.85zM492.0 77.9h0.85v0.85h-0.85zM482.6 71.9h0.85v0.85h-0.85zM487.7 70.3h0.85v0.85h-0.85zM489.1 89.0h0.85v0.85h-0.85zM491.9 67.1h0.85v0.85h-0.85zM488.7 70.0h0.85v0.85h-0.85zM487.9 92.1h0.85v0.85h-0.85zM489.7 93.3h0.85v0.85h-0.85zM489.9 78.6h0.85v0.85h-0.85zM483.6 72.3h0.85v0.85h-0.85zM488.8 90.4h0.85v0.85h-0.85zM486.4 88.5h0.85v0.85h-0.85zM484.4 82.6h0.85v0.85h-0.85zM486.7 80.1h0.85v0.85h-0.85zM486.8 84.7h0.85v0.85h-0.85zM486.9 90.6h0.85v0.85h-0.85zM492.3 80.4h0.85v0.85h-0.85zM484.6 72.2h0.85v0.85h-0.85zM489.7 72.9h0.85v0.85h-0.85zM490.0 81.4h0.85v0.85h-0.85zM491.9 89.9h0.85v0.85h-0.85zM488.1 83.6h0.85v0.85h-0.85zM491.0 90.6h0.85v0.85h-0.85zM485.8 76.6h0.85v0.85h-0.85zM488.6 77.0h0.85v0.85h-0.85zM487.7 76.3h0.85v0.85h-0.85zM486.4 78.8h0.85v0.85h-0.85zM489.6 73.4h0.85v0.85h-0.85zM491.1 94.0h0.85v0.85h-0.85zM494.9 71.1h0.85v0.85h-0.85zM490.6 75.7h0.85v0.85h-0.85zM487.1 85.6h0.85v0.85h-0.85zM486.9 74.7h0.85v0.85h-0.85zM490.2 74.6h0.85v0.85h-0.85zM489.3 93.1h0.85v0.85h-0.85zM489.4 92.6h0.85v0.85h-0.85zM488.0 77.2h0.85v0.85h-0.85zM486.1 72.2h0.85v0.85h-0.85zM489.7 80.2h0.85v0.85h-0.85zM488.7 80.4h0.85v0.85h-0.85zM492.2 76.9h0.85v0.85h-0.85zM487.5 84.0h0.85v0.85h-0.85zM490.1 81.2h0.85v0.85h-0.85zM490.5 91.8h0.85v0.85h-0.85zM494.1 76.5h0.85v0.85h-0.85zM492.1 89.3h0.85v0.85h-0.85zM485.5 67.7h0.85v0.85h-0.85zM485.1 69.7h0.85v0.85h-0.85zM489.2 69.4h0.85v0.85h-0.85zM486.2 68.3h0.85v0.85h-0.85zM485.6 86.6h0.85v0.85h-0.85zM492.3 75.6h0.85v0.85h-0.85zM489.8 81.8h0.85v0.85h-0.85zM491.0 80.6h0.85v0.85h-0.85zM489.3 76.0h0.85v0.85h-0.85zM492.5 68.3h0.85v0.85h-0.85zM489.6 69.9h0.85v0.85h-0.85zM489.0 91.2h0.85v0.85h-0.85zM493.5 77.5h0.85v0.85h-0.85zM486.2 80.2h0.85v0.85h-0.85zM490.2 77.3h0.85v0.85h-0.85zM486.5 86.1h0.85v0.85h-0.85zM491.1 87.8h0.85v0.85h-0.85zM488.3 75.9h0.85v0.85h-0.85zM486.4 81.4h0.85v0.85h-0.85zM484.6 79.6h0.85v0.85h-0.85zM488.4 82.6h0.85v0.85h-0.85zM492.4 83.8h0.85v0.85h-0.85zM489.7 80.2h0.85v0.85h-0.85zM487.2 90.1h0.85v0.85h-0.85zM486.9 93.0h0.85v0.85h-0.85zM497.8 66.9h0.85v0.85h-0.85zM487.4 76.1h0.85v0.85h-0.85zM484.1 73.9h0.85v0.85h-0.85zM489.1 78.2h0.85v0.85h-0.85zM489.5 87.2h0.85v0.85h-0.85zM491.3 83.5h0.85v0.85h-0.85zM488.4 85.5h0.85v0.85h-0.85zM486.5 64.6h0.85v0.85h-0.85zM489.6 88.3h0.85v0.85h-0.85zM487.3 85.0h0.85v0.85h-0.85zM489.7 74.6h0.85v0.85h-0.85zM489.0 89.3h0.85v0.85h-0.85zM491.9 66.7h0.85v0.85h-0.85zM486.8 72.6h0.85v0.85h-0.85zM487.9 88.4h0.85v0.85h-0.85zM489.7 69.0h0.85v0.85h-0.85zM490.1 71.5h0.85v0.85h-0.85zM485.7 80.9h0.85v0.85h-0.85zM487.5 88.5h0.85v0.85h-0.85zM489.1 82.5h0.85v0.85h-0.85zM487.5 67.5h0.85v0.85h-0.85zM494.7 74.3h0.85v0.85h-0.85zM489.9 85.5h0.85v0.85h-0.85zM491.8 73.8h0.85v0.85h-0.85zM488.5 69.0h0.85v0.85h-0.85zM489.0 65.1h0.85v0.85h-0.85zM489.1 75.1h0.85v0.85h-0.85zM489.8 90.6h0.85v0.85h-0.85zM487.7 68.2h0.85v0.85h-0.85zM491.8 87.9h0.85v0.85h-0.85zM488.0 93.6h0.85v0.85h-0.85zM490.3 85.5h0.85v0.85h-0.85zM489.4 73.8h0.85v0.85h-0.85zM488.2 87.4h0.85v0.85h-0.85zM493.5 69.3h0.85v0.85h-0.85zM490.8 83.2h0.85v0.85h-0.85zM488.3 75.8h0.85v0.85h-0.85zM487.9 93.3h0.85v0.85h-0.85zM489.7 88.8h0.85v0.85h-0.85zM487.6 89.3h0.85v0.85h-0.85zM490.1 73.9h0.85v0.85h-0.85zM487.6 88.1h0.85v0.85h-0.85zM488.9 95.4h0.85v0.85h-0.85zM486.7 78.7h0.85v0.85h-0.85zM488.4 77.7h0.85v0.85h-0.85zM493.6 73.3h0.85v0.85h-0.85zM494.0 71.5h0.85v0.85h-0.85zM488.1 86.3h0.85v0.85h-0.85zM487.9 67.8h0.85v0.85h-0.85zM485.7 82.8h0.85v0.85h-0.85zM489.7 69.5h0.85v0.85h-0.85zM490.6 87.0h0.85v0.85h-0.85zM487.6 88.2h0.85v0.85h-0.85zM487.9 94.3h0.85v0.85h-0.85zM489.6 79.2h0.85v0.85h-0.85zM487.4 75.3h0.85v0.85h-0.85zM489.2 78.4h0.85v0.85h-0.85zM491.2 90.4h0.85v0.85h-0.85zM489.4 86.0h0.85v0.85h-0.85zM490.8 71.3h0.85v0.85h-0.85zM493.5 74.6h0.85v0.85h-0.85zM489.5 67.4h0.85v0.85h-0.85zM490.7 74.2h0.85v0.85h-0.85zM488.9 88.6h0.85v0.85h-0.85zM488.1 93.6h0.85v0.85h-0.85zM490.2 94.1h0.85v0.85h-0.85zM484.4 71.4h0.85v0.85h-0.85zM489.0 74.9h0.85v0.85h-0.85zM487.5 92.0h0.85v0.85h-0.85zM487.1 81.6h0.85v0.85h-0.85zM485.6 76.4h0.85v0.85h-0.85zM488.4 88.0h0.85v0.85h-0.85zM489.3 88.5h0.85v0.85h-0.85zM492.6 73.8h0.85v0.85h-0.85zM485.0 79.7h0.85v0.85h-0.85zM489.5 68.6h0.85v0.85h-0.85zM487.6 72.4h0.85v0.85h-0.85zM487.6 80.4h0.85v0.85h-0.85zM488.5 74.1h0.85v0.85h-0.85zM489.1 91.7h0.85v0.85h-0.85zM488.5 76.9h0.85v0.85h-0.85zM488.8 72.7h0.85v0.85h-0.85zM492.6 88.6h0.85v0.85h-0.85zM489.1 71.7h0.85v0.85h-0.85zM489.9 70.2h0.85v0.85h-0.85zM487.9 96.0h0.85v0.85h-0.85zM491.9 75.5h0.85v0.85h-0.85zM487.2 75.6h0.85v0.85h-0.85zM488.6 78.9h0.85v0.85h-0.85zM486.3 69.1h0.85v0.85h-0.85zM488.7 88.1h0.85v0.85h-0.85zM485.9 68.8h0.85v0.85h-0.85zM484.7 67.3h0.85v0.85h-0.85zM487.6 89.9h0.85v0.85h-0.85zM488.0 81.8h0.85v0.85h-0.85zM488.8 93.4h0.85v0.85h-0.85zM489.6 88.9h0.85v0.85h-0.85zM491.2 88.3h0.85v0.85h-0.85zM494.8 67.4h0.85v0.85h-0.85zM487.7 82.4h0.85v0.85h-0.85zM486.6 64.2h0.85v0.85h-0.85zM491.3 70.2h0.85v0.85h-0.85zM487.8 91.1h0.85v0.85h-0.85zM491.7 75.1h0.85v0.85h-0.85zM490.3 86.4h0.85v0.85h-0.85zM486.9 78.9h0.85v0.85h-0.85zM489.8 89.2h0.85v0.85h-0.85zM491.3 84.3h0.85v0.85h-0.85zM489.2 94.1h0.85v0.85h-0.85zM488.3 80.5h0.85v0.85h-0.85zM488.6 87.1h0.85v0.85h-0.85zM489.4 86.0h0.85v0.85h-0.85zM487.5 83.9h0.85v0.85h-0.85zM489.6 77.5h0.85v0.85h-0.85zM488.4 79.5h0.85v0.85h-0.85zM487.6 86.4h0.85v0.85h-0.85zM486.2 70.3h0.85v0.85h-0.85zM490.1 80.6h0.85v0.85h-0.85zM487.4 84.7h0.85v0.85h-0.85zM489.5 76.9h0.85v0.85h-0.85zM483.8 72.2h0.85v0.85h-0.85zM488.3 70.5h0.85v0.85h-0.85zM489.0 89.6h0.85v0.85h-0.85zM489.2 94.3h0.85v0.85h-0.85zM490.0 91.0h0.85v0.85h-0.85zM489.7 87.2h0.85v0.85h-0.85zM489.9 81.0h0.85v0.85h-0.85zM488.1 70.0h0.85v0.85h-0.85zM487.7 89.4h0.85v0.85h-0.85zM486.4 80.0h0.85v0.85h-0.85zM487.7 86.3h0.85v0.85h-0.85zM489.7 73.0h0.85v0.85h-0.85zM490.3 88.5h0.85v0.85h-0.85zM490.0 72.1h0.85v0.85h-0.85zM489.0 92.7h0.85v0.85h-0.85zM490.0 89.1h0.85v0.85h-0.85zM488.2 79.9h0.85v0.85h-0.85zM489.2 85.0h0.85v0.85h-0.85zM488.6 76.7h0.85v0.85h-0.85zM489.3 80.5h0.85v0.85h-0.85zM488.3 71.8h0.85v0.85h-0.85zM485.6 77.0h0.85v0.85h-0.85zM487.9 79.3h0.85v0.85h-0.85zM486.6 74.5h0.85v0.85h-0.85zM492.8 75.4h0.85v0.85h-0.85zM493.4 69.6h0.85v0.85h-0.85zM486.9 69.2h0.85v0.85h-0.85zM486.8 78.2h0.85v0.85h-0.85zM488.8 94.5h0.85v0.85h-0.85zM486.7 90.6h0.85v0.85h-0.85zM491.6 81.2h0.85v0.85h-0.85zM488.7 70.7h0.85v0.85h-0.85zM487.5 69.8h0.85v0.85h-0.85zM491.2 74.5h0.85v0.85h-0.85zM491.0 88.3h0.85v0.85h-0.85zM489.0 89.1h0.85v0.85h-0.85zM491.0 79.6h0.85v0.85h-0.85zM486.9 86.8h0.85v0.85h-0.85zM487.9 88.0h0.85v0.85h-0.85zM487.8 90.7h0.85v0.85h-0.85zM484.9 75.6h0.85v0.85h-0.85zM490.7 79.1h0.85v0.85h-0.85zM495.7 70.7h0.85v0.85h-0.85zM486.4 86.9h0.85v0.85h-0.85zM487.1 67.7h0.85v0.85h-0.85zM491.1 77.0h0.85v0.85h-0.85zM488.0 70.9h0.85v0.85h-0.85zM488.8 79.4h0.85v0.85h-0.85zM486.6 72.2h0.85v0.85h-0.85zM489.9 67.2h0.85v0.85h-0.85zM486.6 76.4h0.85v0.85h-0.85zM490.5 78.4h0.85v0.85h-0.85zM489.8 82.5h0.85v0.85h-0.85zM489.9 68.0h0.85v0.85h-0.85zM487.2 84.6h0.85v0.85h-0.85zM488.3 78.9h0.85v0.85h-0.85zM490.2 66.1h0.85v0.85h-0.85zM486.8 77.5h0.85v0.85h-0.85zM487.2 87.0h0.85v0.85h-0.85zM483.1 78.2h0.85v0.85h-0.85zM488.0 89.8h0.85v0.85h-0.85zM488.6 84.4h0.85v0.85h-0.85zM491.9 65.7h0.85v0.85h-0.85zM485.5 72.2h0.85v0.85h-0.85zM485.1 76.1h0.85v0.85h-0.85zM491.0 80.8h0.85v0.85h-0.85zM491.0 81.2h0.85v0.85h-0.85zM486.7 83.3h0.85v0.85h-0.85zM487.2 71.0h0.85v0.85h-0.85zM484.1 72.5h0.85v0.85h-0.85zM488.6 72.2h0.85v0.85h-0.85zM490.6 87.2h0.85v0.85h-0.85zM490.0 84.6h0.85v0.85h-0.85zM486.1 78.2h0.85v0.85h-0.85zM489.1 89.9h0.85v0.85h-0.85zM486.7 74.2h0.85v0.85h-0.85zM489.8 67.0h0.85v0.85h-0.85zM487.5 80.9h0.85v0.85h-0.85zM489.8 88.4h0.85v0.85h-0.85zM490.0 90.7h0.85v0.85h-0.85zM489.4 81.6h0.85v0.85h-0.85zM489.8 71.9h0.85v0.85h-0.85zM489.5 81.3h0.85v0.85h-0.85zM491.6 69.8h0.85v0.85h-0.85zM488.3 90.2h0.85v0.85h-0.85zM488.4 74.4h0.85v0.85h-0.85zM488.3 70.6h0.85v0.85h-0.85zM492.6 73.5h0.85v0.85h-0.85zM489.0 89.0h0.85v0.85h-0.85zM489.4 89.9h0.85v0.85h-0.85zM487.8 75.9h0.85v0.85h-0.85zM487.7 91.8h0.85v0.85h-0.85zM488.5 90.9h0.85v0.85h-0.85zM490.0 78.7h0.85v0.85h-0.85zM487.8 70.8h0.85v0.85h-0.85zM487.2 68.0h0.85v0.85h-0.85zM488.0 78.5h0.85v0.85h-0.85zM490.3 72.9h0.85v0.85h-0.85zM490.0 72.2h0.85v0.85h-0.85zM488.8 76.2h0.85v0.85h-0.85zM487.8 91.8h0.85v0.85h-0.85zM486.7 69.1h0.85v0.85h-0.85zM492.3 92.4h0.85v0.85h-0.85zM488.5 81.6h0.85v0.85h-0.85zM489.7 89.6h0.85v0.85h-0.85zM489.4 77.4h0.85v0.85h-0.85zM487.5 96.9h0.85v0.85h-0.85zM492.5 71.5h0.85v0.85h-0.85zM489.0 76.2h0.85v0.85h-0.85zM487.0 77.8h0.85v0.85h-0.85zM490.3 80.1h0.85v0.85h-0.85zM487.4 74.0h0.85v0.85h-0.85zM489.6 78.1h0.85v0.85h-0.85zM484.8 72.1h0.85v0.85h-0.85zM488.4 81.0h0.85v0.85h-0.85zM489.6 89.2h0.85v0.85h-0.85zM488.3 91.3h0.85v0.85h-0.85zM485.7 76.8h0.85v0.85h-0.85zM488.1 92.2h0.85v0.85h-0.85zM489.4 91.6h0.85v0.85h-0.85zM484.9 77.9h0.85v0.85h-0.85zM484.7 71.0h0.85v0.85h-0.85zM489.7 87.1h0.85v0.85h-0.85zM488.9 93.1h0.85v0.85h-0.85zM488.7 85.9h0.85v0.85h-0.85zM488.4 95.9h0.85v0.85h-0.85zM489.6 79.3h0.85v0.85h-0.85zM490.4 82.4h0.85v0.85h-0.85zM490.1 74.1h0.85v0.85h-0.85zM484.7 76.9h0.85v0.85h-0.85zM489.4 91.3h0.85v0.85h-0.85zM483.8 71.7h0.85v0.85h-0.85zM493.8 70.5h0.85v0.85h-0.85zM487.4 68.8h0.85v0.85h-0.85zM490.0 79.8h0.85v0.85h-0.85zM489.4 82.1h0.85v0.85h-0.85zM487.5 83.6h0.85v0.85h-0.85zM490.1 90.1h0.85v0.85h-0.85zM489.1 83.6h0.85v0.85h-0.85zM492.4 83.9h0.85v0.85h-0.85zM490.0 83.3h0.85v0.85h-0.85zM489.5 81.7h0.85v0.85h-0.85zM496.6 71.8h0.85v0.85h-0.85zM493.1 74.1h0.85v0.85h-0.85zM488.9 82.2h0.85v0.85h-0.85zM486.7 73.0h0.85v0.85h-0.85zM493.2 75.1h0.85v0.85h-0.85zM490.9 85.2h0.85v0.85h-0.85zM491.0 84.6h0.85v0.85h-0.85zM488.1 73.0h0.85v0.85h-0.85zM487.3 73.0h0.85v0.85h-0.85zM486.3 69.6h0.85v0.85h-0.85zM490.7 82.1h0.85v0.85h-0.85zM488.6 87.9h0.85v0.85h-0.85zM490.9 75.2h0.85v0.85h-0.85zM483.3 72.6h0.85v0.85h-0.85zM491.9 75.1h0.85v0.85h-0.85zM487.6 83.6h0.85v0.85h-0.85zM482.0 72.8h0.85v0.85h-0.85zM487.4 91.6h0.85v0.85h-0.85zM489.9 76.3h0.85v0.85h-0.85zM491.4 85.4h0.85v0.85h-0.85zM484.2 83.9h0.85v0.85h-0.85zM487.5 95.7h0.85v0.85h-0.85zM489.0 86.1h0.85v0.85h-0.85zM487.3 93.4h0.85v0.85h-0.85zM488.0 84.4h0.85v0.85h-0.85zM485.4 66.1h0.85v0.85h-0.85zM489.0 72.6h0.85v0.85h-0.85zM486.6 83.6h0.85v0.85h-0.85zM487.9 75.9h0.85v0.85h-0.85zM487.4 85.7h0.85v0.85h-0.85zM489.1 67.3h0.85v0.85h-0.85zM488.6 83.2h0.85v0.85h-0.85zM491.1 81.0h0.85v0.85h-0.85zM489.0 88.8h0.85v0.85h-0.85zM494.2 70.6h0.85v0.85h-0.85zM484.9 77.9h0.85v0.85h-0.85zM488.4 89.4h0.85v0.85h-0.85zM490.5 75.0h0.85v0.85h-0.85zM489.0 80.5h0.85v0.85h-0.85zM482.3 73.7h0.85v0.85h-0.85zM489.7 73.1h0.85v0.85h-0.85zM487.5 74.4h0.85v0.85h-0.85zM491.5 91.4h0.85v0.85h-0.85zM488.6 86.1h0.85v0.85h-0.85zM490.5 76.1h0.85v0.85h-0.85zM487.2 82.1h0.85v0.85h-0.85zM489.7 89.0h0.85v0.85h-0.85zM485.1 89.7h0.85v0.85h-0.85zM485.5 69.2h0.85v0.85h-0.85zM487.7 75.3h0.85v0.85h-0.85zM487.3 93.4h0.85v0.85h-0.85zM491.3 76.7h0.85v0.85h-0.85zM488.8 89.1h0.85v0.85h-0.85zM491.6 88.0h0.85v0.85h-0.85zM487.2 89.1h0.85v0.85h-0.85zM486.2 69.3h0.85v0.85h-0.85zM489.4 91.6h0.85v0.85h-0.85zM488.2 91.8h0.85v0.85h-0.85zM491.0 74.5h0.85v0.85h-0.85zM489.8 88.0h0.85v0.85h-0.85zM486.3 68.6h0.85v0.85h-0.85zM488.9 89.3h0.85v0.85h-0.85zM490.0 78.5h0.85v0.85h-0.85zM489.2 88.0h0.85v0.85h-0.85zM488.5 83.9h0.85v0.85h-0.85zM487.2 71.3h0.85v0.85h-0.85zM488.6 89.6h0.85v0.85h-0.85zM491.8 69.8h0.85v0.85h-0.85zM494.9 72.4h0.85v0.85h-0.85zM485.7 79.2h0.85v0.85h-0.85zM486.1 71.5h0.85v0.85h-0.85zM488.5 84.2h0.85v0.85h-0.85zM493.0 75.6h0.85v0.85h-0.85zM487.3 86.2h0.85v0.85h-0.85zM492.1 90.2h0.85v0.85h-0.85zM490.9 91.8h0.85v0.85h-0.85zM483.3 77.8h0.85v0.85h-0.85zM490.6 77.5h0.85v0.85h-0.85zM490.0 85.9h0.85v0.85h-0.85zM488.1 84.9h0.85v0.85h-0.85zM487.0 89.9h0.85v0.85h-0.85zM489.4 79.2h0.85v0.85h-0.85zM488.0 82.2h0.85v0.85h-0.85zM491.9 72.6h0.85v0.85h-0.85zM489.7 87.7h0.85v0.85h-0.85zM487.2 86.3h0.85v0.85h-0.85zM495.1 76.5h0.85v0.85h-0.85zM493.6 76.1h0.85v0.85h-0.85zM493.3 72.1h0.85v0.85h-0.85zM489.0 81.8h0.85v0.85h-0.85zM491.1 78.9h0.85v0.85h-0.85zM489.3 74.8h0.85v0.85h-0.85zM487.8 83.2h0.85v0.85h-0.85zM485.8 83.5h0.85v0.85h-0.85zM489.6 72.5h0.85v0.85h-0.85zM486.5 90.3h0.85v0.85h-0.85zM491.2 69.2h0.85v0.85h-0.85zM484.7 72.4h0.85v0.85h-0.85zM489.2 83.7h0.85v0.85h-0.85zM488.4 83.0h0.85v0.85h-0.85zM487.3 86.0h0.85v0.85h-0.85zM487.9 90.5h0.85v0.85h-0.85zM487.8 84.7h0.85v0.85h-0.85zM490.8 89.6h0.85v0.85h-0.85zM489.6 84.5h0.85v0.85h-0.85zM488.4 82.9h0.85v0.85h-0.85zM490.6 79.5h0.85v0.85h-0.85zM487.9 93.0h0.85v0.85h-0.85zM485.2 75.7h0.85v0.85h-0.85zM486.9 83.1h0.85v0.85h-0.85zM491.1 81.0h0.85v0.85h-0.85zM488.4 85.9h0.85v0.85h-0.85zM489.3 71.9h0.85v0.85h-0.85zM489.1 84.6h0.85v0.85h-0.85zM487.5 68.7h0.85v0.85h-0.85zM491.8 74.5h0.85v0.85h-0.85zM490.4 80.5h0.85v0.85h-0.85zM487.2 83.2h0.85v0.85h-0.85zM486.9 82.0h0.85v0.85h-0.85zM488.7 86.2h0.85v0.85h-0.85zM485.8 64.9h0.85v0.85h-0.85zM488.8 77.4h0.85v0.85h-0.85zM489.9 84.3h0.85v0.85h-0.85zM488.9 76.5h0.85v0.85h-0.85zM489.0 89.0h0.85v0.85h-0.85zM487.8 84.9h0.85v0.85h-0.85zM487.3 80.3h0.85v0.85h-0.85zM487.1 83.5h0.85v0.85h-0.85zM489.9 91.0h0.85v0.85h-0.85zM486.2 72.3h0.85v0.85h-0.85zM489.0 72.2h0.85v0.85h-0.85zM489.1 71.1h0.85v0.85h-0.85zM490.0 77.6h0.85v0.85h-0.85zM487.7 69.0h0.85v0.85h-0.85zM487.4 89.3h0.85v0.85h-0.85zM495.0 70.8h0.85v0.85h-0.85zM486.5 77.8h0.85v0.85h-0.85zM489.5 95.1h0.85v0.85h-0.85zM486.5 77.4h0.85v0.85h-0.85zM490.6 75.0h0.85v0.85h-0.85zM486.0 74.5h0.85v0.85h-0.85zM492.7 78.0h0.85v0.85h-0.85zM490.0 76.0h0.85v0.85h-0.85zM485.4 79.9h0.85v0.85h-0.85zM492.7 77.3h0.85v0.85h-0.85zM482.8 67.5h0.85v0.85h-0.85zM488.4 89.4h0.85v0.85h-0.85zM489.8 91.0h0.85v0.85h-0.85zM488.0 80.7h0.85v0.85h-0.85zM492.8 70.7h0.85v0.85h-0.85zM488.8 91.3h0.85v0.85h-0.85zM487.3 78.4h0.85v0.85h-0.85zM491.8 77.4h0.85v0.85h-0.85zM488.9 78.6h0.85v0.85h-0.85zM488.3 90.6h0.85v0.85h-0.85zM490.3 83.9h0.85v0.85h-0.85zM488.1 77.9h0.85v0.85h-0.85zM485.4 76.1h0.85v0.85h-0.85zM487.1 79.2h0.85v0.85h-0.85zM494.7 79.9h0.85v0.85h-0.85zM492.6 85.3h0.85v0.85h-0.85zM487.3 91.9h0.85v0.85h-0.85zM491.4 71.1h0.85v0.85h-0.85zM490.3 90.7h0.85v0.85h-0.85zM488.4 88.9h0.85v0.85h-0.85zM490.7 71.2h0.85v0.85h-0.85zM487.9 92.6h0.85v0.85h-0.85zM488.4 87.3h0.85v0.85h-0.85zM490.4 84.9h0.85v0.85h-0.85zM488.5 68.5h0.85v0.85h-0.85zM488.4 80.2h0.85v0.85h-0.85zM488.4 89.2h0.85v0.85h-0.85zM486.1 81.0h0.85v0.85h-0.85zM485.4 68.6h0.85v0.85h-0.85zM488.0 85.5h0.85v0.85h-0.85zM488.4 75.8h0.85v0.85h-0.85zM486.2 72.8h0.85v0.85h-0.85zM493.4 78.2h0.85v0.85h-0.85zM483.2 71.6h0.85v0.85h-0.85zM486.0 78.6h0.85v0.85h-0.85zM486.5 67.8h0.85v0.85h-0.85zM489.2 88.2h0.85v0.85h-0.85zM484.3 73.4h0.85v0.85h-0.85zM489.3 79.5h0.85v0.85h-0.85zM486.5 77.7h0.85v0.85h-0.85zM487.0 81.8h0.85v0.85h-0.85zM489.8 79.1h0.85v0.85h-0.85zM489.7 96.6h0.85v0.85h-0.85zM491.7 73.5h0.85v0.85h-0.85zM487.8 97.1h0.85v0.85h-0.85zM491.2 79.9h0.85v0.85h-0.85zM489.7 94.9h0.85v0.85h-0.85zM489.6 76.4h0.85v0.85h-0.85zM490.2 69.4h0.85v0.85h-0.85zM488.8 87.3h0.85v0.85h-0.85zM488.3 73.3h0.85v0.85h-0.85zM490.1 86.7h0.85v0.85h-0.85zM490.7 88.4h0.85v0.85h-0.85zM488.0 72.1h0.85v0.85h-0.85zM489.7 73.8h0.85v0.85h-0.85zM490.6 86.0h0.85v0.85h-0.85zM487.2 90.1h0.85v0.85h-0.85zM490.8 90.5h0.85v0.85h-0.85zM489.6 78.1h0.85v0.85h-0.85zM491.6 80.6h0.85v0.85h-0.85zM488.4 91.1h0.85v0.85h-0.85zM486.2 71.5h0.85v0.85h-0.85zM488.7 92.7h0.85v0.85h-0.85zM489.2 94.3h0.85v0.85h-0.85zM486.2 78.4h0.85v0.85h-0.85zM490.5 85.8h0.85v0.85h-0.85zM489.2 88.0h0.85v0.85h-0.85zM487.0 85.3h0.85v0.85h-0.85zM490.4 69.3h0.85v0.85h-0.85zM488.4 73.8h0.85v0.85h-0.85zM489.0 71.3h0.85v0.85h-0.85zM487.6 70.5h0.85v0.85h-0.85zM487.3 76.6h0.85v0.85h-0.85zM487.0 84.5h0.85v0.85h-0.85zM489.1 83.8h0.85v0.85h-0.85zM488.9 92.5h0.85v0.85h-0.85zM489.9 81.4h0.85v0.85h-0.85zM487.3 79.0h0.85v0.85h-0.85zM490.3 69.8h0.85v0.85h-0.85zM489.6 91.7h0.85v0.85h-0.85zM486.9 84.7h0.85v0.85h-0.85zM489.0 95.8h0.85v0.85h-0.85zM491.0 95.3h0.85v0.85h-0.85zM487.3 71.1h0.85v0.85h-0.85zM488.3 82.6h0.85v0.85h-0.85zM488.8 78.7h0.85v0.85h-0.85zM488.1 88.2h0.85v0.85h-0.85zM491.7 68.7h0.85v0.85h-0.85zM488.7 81.3h0.85v0.85h-0.85zM488.6 86.7h0.85v0.85h-0.85zM486.9 77.7h0.85v0.85h-0.85zM490.5 70.6h0.85v0.85h-0.85zM488.7 84.0h0.85v0.85h-0.85zM487.5 67.4h0.85v0.85h-0.85zM488.0 78.6h0.85v0.85h-0.85zM494.1 66.8h0.85v0.85h-0.85zM488.8 76.2h0.85v0.85h-0.85zM489.6 75.8h0.85v0.85h-0.85zM491.2 87.9h0.85v0.85h-0.85zM488.6 87.0h0.85v0.85h-0.85zM490.3 86.3h0.85v0.85h-0.85zM486.5 77.8h0.85v0.85h-0.85zM489.8 89.4h0.85v0.85h-0.85zM485.2 87.3h0.85v0.85h-0.85zM489.1 81.0h0.85v0.85h-0.85zM488.2 89.5h0.85v0.85h-0.85zM488.2 93.0h0.85v0.85h-0.85zM491.1 77.1h0.85v0.85h-0.85zM489.5 90.9h0.85v0.85h-0.85zM490.3 85.9h0.85v0.85h-0.85zM492.4 81.1h0.85v0.85h-0.85zM490.0 81.8h0.85v0.85h-0.85zM489.8 84.6h0.85v0.85h-0.85zM488.7 74.7h0.85v0.85h-0.85zM490.7 93.1h0.85v0.85h-0.85zM490.9 78.7h0.85v0.85h-0.85zM487.4 80.9h0.85v0.85h-0.85zM487.8 91.7h0.85v0.85h-0.85zM487.9 88.1h0.85v0.85h-0.85zM487.6 86.9h0.85v0.85h-0.85zM490.8 87.7h0.85v0.85h-0.85zM489.2 89.2h0.85v0.85h-0.85zM490.8 85.5h0.85v0.85h-0.85zM487.1 80.7h0.85v0.85h-0.85zM488.0 89.2h0.85v0.85h-0.85zM492.4 70.1h0.85v0.85h-0.85zM482.7 73.5h0.85v0.85h-0.85zM485.7 77.1h0.85v0.85h-0.85zM482.9 70.8h0.85v0.85h-0.85zM488.2 89.1h0.85v0.85h-0.85zM494.0 83.7h0.85v0.85h-0.85zM487.9 95.6h0.85v0.85h-0.85zM490.8 84.1h0.85v0.85h-0.85zM493.4 73.2h0.85v0.85h-0.85zM488.0 91.3h0.85v0.85h-0.85zM488.0 85.3h0.85v0.85h-0.85zM489.8 69.1h0.85v0.85h-0.85zM489.7 90.0h0.85v0.85h-0.85zM485.8 84.6h0.85v0.85h-0.85zM486.4 68.2h0.85v0.85h-0.85zM492.9 79.2h0.85v0.85h-0.85zM487.6 88.2h0.85v0.85h-0.85zM489.8 74.8h0.85v0.85h-0.85zM490.6 83.4h0.85v0.85h-0.85zM488.1 81.9h0.85v0.85h-0.85zM488.4 79.6h0.85v0.85h-0.85zM487.2 73.4h0.85v0.85h-0.85zM488.0 91.3h0.85v0.85h-0.85zM487.6 80.1h0.85v0.85h-0.85zM486.2 86.7h0.85v0.85h-0.85zM487.9 83.2h0.85v0.85h-0.85zM488.2 78.5h0.85v0.85h-0.85zM489.8 89.2h0.85v0.85h-0.85zM487.8 73.4h0.85v0.85h-0.85zM488.1 92.9h0.85v0.85h-0.85zM492.9 82.0h0.85v0.85h-0.85zM488.7 71.9h0.85v0.85h-0.85zM488.3 79.6h0.85v0.85h-0.85zM487.5 77.9h0.85v0.85h-0.85zM488.8 90.4h0.85v0.85h-0.85zM486.5 75.8h0.85v0.85h-0.85zM488.2 94.4h0.85v0.85h-0.85zM485.9 69.7h0.85v0.85h-0.85zM485.1 74.7h0.85v0.85h-0.85zM487.6 77.7h0.85v0.85h-0.85zM486.8 89.8h0.85v0.85h-0.85zM491.9 83.9h0.85v0.85h-0.85zM486.1 80.4h0.85v0.85h-0.85zM492.8 83.0h0.85v0.85h-0.85zM489.2 92.9h0.85v0.85h-0.85zM491.2 74.3h0.85v0.85h-0.85zM490.8 87.0h0.85v0.85h-0.85zM484.8 75.8h0.85v0.85h-0.85zM491.4 86.5h0.85v0.85h-0.85zM489.4 90.2h0.85v0.85h-0.85zM487.7 75.4h0.85v0.85h-0.85zM486.7 73.5h0.85v0.85h-0.85zM489.8 75.0h0.85v0.85h-0.85zM484.5 75.1h0.85v0.85h-0.85zM494.4 69.4h0.85v0.85h-0.85zM488.5 83.9h0.85v0.85h-0.85zM490.2 86.6h0.85v0.85h-0.85zM489.1 75.2h0.85v0.85h-0.85zM488.4 91.4h0.85v0.85h-0.85zM488.5 94.1h0.85v0.85h-0.85zM487.7 89.3h0.85v0.85h-0.85zM490.5 88.9h0.85v0.85h-0.85zM488.9 76.1h0.85v0.85h-0.85zM489.6 87.3h0.85v0.85h-0.85zM490.5 68.4h0.85v0.85h-0.85zM491.2 66.4h0.85v0.85h-0.85zM490.4 70.9h0.85v0.85h-0.85zM492.2 70.5h0.85v0.85h-0.85zM487.9 85.4h0.85v0.85h-0.85zM485.8 71.3h0.85v0.85h-0.85zM488.7 76.3h0.85v0.85h-0.85zM488.3 81.0h0.85v0.85h-0.85zM489.0 93.9h0.85v0.85h-0.85zM491.2 84.7h0.85v0.85h-0.85zM491.6 74.0h0.85v0.85h-0.85zM490.8 69.0h0.85v0.85h-0.85zM487.4 80.6h0.85v0.85h-0.85zM489.6 88.2h0.85v0.85h-0.85zM489.1 89.1h0.85v0.85h-0.85zM490.3 82.5h0.85v0.85h-0.85zM489.0 73.7h0.85v0.85h-0.85zM487.8 68.7h0.85v0.85h-0.85zM489.5 65.4h0.85v0.85h-0.85zM487.1 72.2h0.85v0.85h-0.85zM487.2 81.8h0.85v0.85h-0.85zM489.7 69.7h0.85v0.85h-0.85zM489.0 78.9h0.85v0.85h-0.85zM491.5 79.2h0.85v0.85h-0.85zM489.1 89.4h0.85v0.85h-0.85zM486.6 80.7h0.85v0.85h-0.85zM490.8 86.7h0.85v0.85h-0.85zM493.4 75.6h0.85v0.85h-0.85zM486.9 85.5h0.85v0.85h-0.85zM488.2 89.6h0.85v0.85h-0.85zM492.2 69.2h0.85v0.85h-0.85zM489.1 90.8h0.85v0.85h-0.85zM486.2 83.9h0.85v0.85h-0.85zM489.8 91.4h0.85v0.85h-0.85zM489.2 71.5h0.85v0.85h-0.85zM489.6 80.8h0.85v0.85h-0.85zM490.8 85.5h0.85v0.85h-0.85zM487.7 84.8h0.85v0.85h-0.85zM487.6 82.6h0.85v0.85h-0.85zM489.6 93.2h0.85v0.85h-0.85zM491.6 72.3h0.85v0.85h-0.85zM489.0 89.7h0.85v0.85h-0.85zM491.4 78.7h0.85v0.85h-0.85zM489.3 94.7h0.85v0.85h-0.85zM489.9 92.4h0.85v0.85h-0.85zM487.1 79.7h0.85v0.85h-0.85zM488.4 79.2h0.85v0.85h-0.85zM490.0 87.6h0.85v0.85h-0.85zM488.0 90.1h0.85v0.85h-0.85zM487.8 91.8h0.85v0.85h-0.85zM489.0 88.2h0.85v0.85h-0.85zM488.6 91.5h0.85v0.85h-0.85zM486.9 81.6h0.85v0.85h-0.85zM485.0 80.2h0.85v0.85h-0.85zM493.2 68.3h0.85v0.85h-0.85zM489.0 79.5h0.85v0.85h-0.85zM492.8 71.2h0.85v0.85h-0.85zM487.5 85.9h0.85v0.85h-0.85zM489.0 85.9h0.85v0.85h-0.85zM488.7 92.9h0.85v0.85h-0.85zM489.0 85.7h0.85v0.85h-0.85zM484.7 75.3h0.85v0.85h-0.85zM491.7 77.9h0.85v0.85h-0.85zM488.3 81.2h0.85v0.85h-0.85zM489.3 81.1h0.85v0.85h-0.85zM487.9 90.3h0.85v0.85h-0.85zM491.4 85.7h0.85v0.85h-0.85zM485.1 74.0h0.85v0.85h-0.85zM493.7 77.1h0.85v0.85h-0.85zM488.1 87.3h0.85v0.85h-0.85zM487.7 73.2h0.85v0.85h-0.85zM487.4 84.6h0.85v0.85h-0.85zM490.3 89.0h0.85v0.85h-0.85zM487.9 92.3h0.85v0.85h-0.85zM487.1 80.8h0.85v0.85h-0.85zM487.0 80.5h0.85v0.85h-0.85zM490.0 73.0h0.85v0.85h-0.85zM489.8 80.7h0.85v0.85h-0.85zM487.2 81.6h0.85v0.85h-0.85zM489.6 86.2h0.85v0.85h-0.85zM490.2 95.2h0.85v0.85h-0.85zM489.8 89.9h0.85v0.85h-0.85zM489.9 73.1h0.85v0.85h-0.85zM485.9 70.8h0.85v0.85h-0.85zM491.2 85.6h0.85v0.85h-0.85zM489.4 94.8h0.85v0.85h-0.85zM486.2 86.1h0.85v0.85h-0.85zM487.9 89.0h0.85v0.85h-0.85zM481.6 74.2h0.85v0.85h-0.85zM490.1 73.4h0.85v0.85h-0.85zM487.7 96.8h0.85v0.85h-0.85zM488.5 91.9h0.85v0.85h-0.85zM491.7 79.0h0.85v0.85h-0.85zM487.0 87.6h0.85v0.85h-0.85zM490.2 85.6h0.85v0.85h-0.85zM488.3 84.8h0.85v0.85h-0.85zM486.8 82.8h0.85v0.85h-0.85zM490.8 84.6h0.85v0.85h-0.85zM489.1 91.3h0.85v0.85h-0.85zM487.2 79.6h0.85v0.85h-0.85zM489.5 88.0h0.85v0.85h-0.85zM488.2 99.2h0.85v0.85h-0.85zM485.9 69.3h0.85v0.85h-0.85zM487.7 76.0h0.85v0.85h-0.85zM491.1 75.6h0.85v0.85h-0.85zM485.7 79.5h0.85v0.85h-0.85zM485.9 82.2h0.85v0.85h-0.85zM489.6 96.6h0.85v0.85h-0.85zM484.7 70.9h0.85v0.85h-0.85zM488.1 75.8h0.85v0.85h-0.85zM487.7 72.3h0.85v0.85h-0.85zM485.0 72.8h0.85v0.85h-0.85zM487.3 78.6h0.85v0.85h-0.85zM488.2 71.5h0.85v0.85h-0.85zM488.7 92.2h0.85v0.85h-0.85zM489.6 89.3h0.85v0.85h-0.85zM489.3 68.3h0.85v0.85h-0.85zM489.9 90.4h0.85v0.85h-0.85zM489.2 73.4h0.85v0.85h-0.85zM487.8 80.0h0.85v0.85h-0.85zM490.4 74.6h0.85v0.85h-0.85zM489.9 71.2h0.85v0.85h-0.85zM490.4 80.8h0.85v0.85h-0.85zM488.6 89.2h0.85v0.85h-0.85zM488.2 69.3h0.85v0.85h-0.85zM488.3 72.0h0.85v0.85h-0.85zM485.6 83.1h0.85v0.85h-0.85zM489.2 92.4h0.85v0.85h-0.85zM487.1 75.1h0.85v0.85h-0.85zM487.9 93.5h0.85v0.85h-0.85zM488.0 83.2h0.85v0.85h-0.85zM493.2 81.8h0.85v0.85h-0.85zM487.6 87.7h0.85v0.85h-0.85zM492.8 74.6h0.85v0.85h-0.85zM484.6 81.5h0.85v0.85h-0.85zM487.7 67.0h0.85v0.85h-0.85zM492.5 81.9h0.85v0.85h-0.85zM488.9 94.2h0.85v0.85h-0.85zM489.8 70.2h0.85v0.85h-0.85zM487.0 72.4h0.85v0.85h-0.85zM485.1 79.4h0.85v0.85h-0.85zM489.3 92.9h0.85v0.85h-0.85zM490.5 80.9h0.85v0.85h-0.85zM489.7 92.5h0.85v0.85h-0.85zM493.5 77.3h0.85v0.85h-0.85zM488.7 94.0h0.85v0.85h-0.85zM490.2 72.2h0.85v0.85h-0.85zM485.9 89.7h0.85v0.85h-0.85zM487.9 76.7h0.85v0.85h-0.85zM489.0 91.7h0.85v0.85h-0.85zM492.8 71.5h0.85v0.85h-0.85zM493.4 75.5h0.85v0.85h-0.85zM490.4 89.9h0.85v0.85h-0.85zM489.4 88.4h0.85v0.85h-0.85zM488.5 82.4h0.85v0.85h-0.85zM488.6 78.6h0.85v0.85h-0.85zM488.7 90.3h0.85v0.85h-0.85zM489.2 69.7h0.85v0.85h-0.85zM492.1 71.1h0.85v0.85h-0.85zM488.2 67.8h0.85v0.85h-0.85zM486.1 86.8h0.85v0.85h-0.85zM487.6 92.0h0.85v0.85h-0.85zM497.5 73.3h0.85v0.85h-0.85zM490.7 87.8h0.85v0.85h-0.85zM488.1 91.5h0.85v0.85h-0.85zM488.0 73.4h0.85v0.85h-0.85zM490.2 82.8h0.85v0.85h-0.85zM489.4 82.2h0.85v0.85h-0.85zM489.8 70.5h0.85v0.85h-0.85zM487.0 94.9h0.85v0.85h-0.85zM484.7 73.2h0.85v0.85h-0.85zM489.2 74.6h0.85v0.85h-0.85zM489.9 85.2h0.85v0.85h-0.85zM489.4 82.1h0.85v0.85h-0.85zM490.9 92.0h0.85v0.85h-0.85zM488.9 85.4h0.85v0.85h-0.85zM489.6 70.3h0.85v0.85h-0.85zM488.9 79.4h0.85v0.85h-0.85zM489.6 92.5h0.85v0.85h-0.85zM487.3 76.4h0.85v0.85h-0.85zM494.6 75.7h0.85v0.85h-0.85zM487.7 92.1h0.85v0.85h-0.85zM491.2 70.3h0.85v0.85h-0.85zM490.5 77.1h0.85v0.85h-0.85zM490.1 91.7h0.85v0.85h-0.85zM487.5 95.4h0.85v0.85h-0.85zM486.1 70.6h0.85v0.85h-0.85zM487.9 70.6h0.85v0.85h-0.85zM490.3 79.7h0.85v0.85h-0.85zM490.2 86.3h0.85v0.85h-0.85zM485.5 88.4h0.85v0.85h-0.85zM487.9 73.5h0.85v0.85h-0.85zM489.4 82.2h0.85v0.85h-0.85zM489.6 78.4h0.85v0.85h-0.85zM489.7 77.1h0.85v0.85h-0.85zM488.6 85.7h0.85v0.85h-0.85zM489.0 83.6h0.85v0.85h-0.85zM484.6 77.5h0.85v0.85h-0.85zM490.0 89.0h0.85v0.85h-0.85zM482.6 73.9h0.85v0.85h-0.85zM488.5 80.0h0.85v0.85h-0.85zM487.5 85.7h0.85v0.85h-0.85zM489.6 75.0h0.85v0.85h-0.85zM485.6 66.6h0.85v0.85h-0.85zM491.6 67.4h0.85v0.85h-0.85zM489.2 90.8h0.85v0.85h-0.85zM489.5 86.9h0.85v0.85h-0.85zM490.4 87.5h0.85v0.85h-0.85zM492.4 69.0h0.85v0.85h-0.85zM488.2 73.3h0.85v0.85h-0.85zM489.5 90.8h0.85v0.85h-0.85zM489.6 83.4h0.85v0.85h-0.85zM490.4 80.2h0.85v0.85h-0.85zM488.9 92.6h0.85v0.85h-0.85zM486.5 92.9h0.85v0.85h-0.85zM488.0 74.5h0.85v0.85h-0.85zM488.7 84.1h0.85v0.85h-0.85zM488.1 89.5h0.85v0.85h-0.85zM487.9 90.8h0.85v0.85h-0.85zM488.9 95.3h0.85v0.85h-0.85zM487.7 85.0h0.85v0.85h-0.85zM490.7 68.0h0.85v0.85h-0.85zM491.8 76.1h0.85v0.85h-0.85zM488.7 72.0h0.85v0.85h-0.85zM490.2 83.7h0.85v0.85h-0.85zM486.4 82.2h0.85v0.85h-0.85zM487.9 92.7h0.85v0.85h-0.85zM487.8 74.1h0.85v0.85h-0.85zM485.8 72.2h0.85v0.85h-0.85zM488.8 65.5h0.85v0.85h-0.85zM488.9 74.3h0.85v0.85h-0.85zM490.4 86.7h0.85v0.85h-0.85zM487.8 87.4h0.85v0.85h-0.85zM492.0 76.3h0.85v0.85h-0.85zM486.8 81.8h0.85v0.85h-0.85zM488.3 86.9h0.85v0.85h-0.85zM490.7 76.4h0.85v0.85h-0.85zM489.7 69.4h0.85v0.85h-0.85zM485.0 87.8h0.85v0.85h-0.85zM488.6 83.8h0.85v0.85h-0.85zM490.1 70.1h0.85v0.85h-0.85zM485.7 82.3h0.85v0.85h-0.85zM487.4 71.4h0.85v0.85h-0.85zM488.0 78.0h0.85v0.85h-0.85zM489.3 85.2h0.85v0.85h-0.85zM491.0 80.1h0.85v0.85h-0.85zM485.4 79.8h0.85v0.85h-0.85zM487.5 89.5h0.85v0.85h-0.85zM492.8 71.8h0.85v0.85h-0.85zM490.7 85.8h0.85v0.85h-0.85zM493.1 76.1h0.85v0.85h-0.85zM488.7 80.0h0.85v0.85h-0.85zM490.6 81.3h0.85v0.85h-0.85zM484.5 83.5h0.85v0.85h-0.85zM489.3 93.5h0.85v0.85h-0.85zM487.6 91.4h0.85v0.85h-0.85zM487.6 96.0h0.85v0.85h-0.85zM485.8 74.6h0.85v0.85h-0.85zM489.6 95.6h0.85v0.85h-0.85zM491.2 83.1h0.85v0.85h-0.85zM487.3 73.1h0.85v0.85h-0.85zM487.6 69.6h0.85v0.85h-0.85zM491.9 71.7h0.85v0.85h-0.85zM487.3 80.3h0.85v0.85h-0.85zM489.2 87.7h0.85v0.85h-0.85zM489.4 95.0h0.85v0.85h-0.85zM490.2 92.7h0.85v0.85h-0.85zM488.5 90.6h0.85v0.85h-0.85zM485.7 90.6h0.85v0.85h-0.85zM488.6 89.7h0.85v0.85h-0.85zM489.4 96.1h0.85v0.85h-0.85zM488.1 85.9h0.85v0.85h-0.85zM487.1 70.0h0.85v0.85h-0.85zM487.0 79.8h0.85v0.85h-0.85zM489.7 80.1h0.85v0.85h-0.85zM489.0 86.7h0.85v0.85h-0.85zM489.5 74.4h0.85v0.85h-0.85zM488.8 90.6h0.85v0.85h-0.85zM492.0 75.1h0.85v0.85h-0.85zM489.5 82.7h0.85v0.85h-0.85zM488.6 69.8h0.85v0.85h-0.85zM487.7 91.9h0.85v0.85h-0.85zM488.4 91.8h0.85v0.85h-0.85zM488.8 93.5h0.85v0.85h-0.85zM492.8 76.3h0.85v0.85h-0.85zM489.9 78.4h0.85v0.85h-0.85zM488.5 92.4h0.85v0.85h-0.85zM489.6 93.9h0.85v0.85h-0.85zM490.6 73.4h0.85v0.85h-0.85zM487.8 80.8h0.85v0.85h-0.85zM490.2 70.0h0.85v0.85h-0.85zM487.5 87.3h0.85v0.85h-0.85zM488.9 90.2h0.85v0.85h-0.85zM490.7 90.9h0.85v0.85h-0.85zM490.0 87.0h0.85v0.85h-0.85zM490.2 78.5h0.85v0.85h-0.85zM490.8 74.4h0.85v0.85h-0.85zM489.9 83.4h0.85v0.85h-0.85zM486.2 78.1h0.85v0.85h-0.85zM488.4 93.7h0.85v0.85h-0.85zM487.4 79.6h0.85v0.85h-0.85zM489.8 80.8h0.85v0.85h-0.85zM489.6 96.6h0.85v0.85h-0.85zM494.1 76.5h0.85v0.85h-0.85zM488.5 74.3h0.85v0.85h-0.85zM485.4 66.5h0.85v0.85h-0.85zM489.1 90.3h0.85v0.85h-0.85zM488.7 79.8h0.85v0.85h-0.85zM489.4 75.6h0.85v0.85h-0.85zM488.8 87.8h0.85v0.85h-0.85zM489.3 88.3h0.85v0.85h-0.85zM487.3 72.2h0.85v0.85h-0.85zM489.7 74.1h0.85v0.85h-0.85zM489.9 94.3h0.85v0.85h-0.85zM489.0 90.8h0.85v0.85h-0.85zM489.9 81.2h0.85v0.85h-0.85zM487.9 84.1h0.85v0.85h-0.85zM491.6 65.2h0.85v0.85h-0.85zM488.6 80.5h0.85v0.85h-0.85zM486.8 70.1h0.85v0.85h-0.85zM488.2 70.0h0.85v0.85h-0.85zM487.7 70.6h0.85v0.85h-0.85zM488.5 81.1h0.85v0.85h-0.85zM487.8 85.0h0.85v0.85h-0.85zM492.6 78.0h0.85v0.85h-0.85zM490.2 88.2h0.85v0.85h-0.85zM490.3 69.6h0.85v0.85h-0.85zM490.1 74.1h0.85v0.85h-0.85zM488.6 73.7h0.85v0.85h-0.85zM490.4 78.4h0.85v0.85h-0.85zM488.5 86.9h0.85v0.85h-0.85zM488.6 72.3h0.85v0.85h-0.85zM488.0 90.7h0.85v0.85h-0.85zM491.7 77.4h0.85v0.85h-0.85zM492.1 71.4h0.85v0.85h-0.85zM491.7 71.8h0.85v0.85h-0.85zM490.3 87.6h0.85v0.85h-0.85zM481.2 68.6h0.85v0.85h-0.85zM489.0 77.3h0.85v0.85h-0.85zM491.4 77.8h0.85v0.85h-0.85zM489.8 83.0h0.85v0.85h-0.85zM485.2 79.8h0.85v0.85h-0.85zM489.7 71.8h0.85v0.85h-0.85zM490.7 70.1h0.85v0.85h-0.85zM488.3 97.1h0.85v0.85h-0.85zM486.6 81.1h0.85v0.85h-0.85zM488.2 92.6h0.85v0.85h-0.85zM486.1 94.2h0.85v0.85h-0.85zM489.2 84.2h0.85v0.85h-0.85zM487.9 92.1h0.85v0.85h-0.85zM488.0 77.3h0.85v0.85h-0.85zM488.3 74.9h0.85v0.85h-0.85zM488.6 89.1h0.85v0.85h-0.85zM492.5 79.1h0.85v0.85h-0.85zM486.5 73.6h0.85v0.85h-0.85zM488.2 81.8h0.85v0.85h-0.85zM483.9 79.4h0.85v0.85h-0.85zM488.1 93.1h0.85v0.85h-0.85zM486.7 90.3h0.85v0.85h-0.85zM489.8 86.6h0.85v0.85h-0.85zM488.7 87.9h0.85v0.85h-0.85zM487.0 74.9h0.85v0.85h-0.85zM490.9 75.6h0.85v0.85h-0.85zM486.2 76.1h0.85v0.85h-0.85zM488.3 84.7h0.85v0.85h-0.85zM485.9 69.4h0.85v0.85h-0.85zM485.8 69.3h0.85v0.85h-0.85zM488.0 76.4h0.85v0.85h-0.85zM486.7 69.6h0.85v0.85h-0.85zM488.2 79.5h0.85v0.85h-0.85zM485.3 68.8h0.85v0.85h-0.85zM484.7 74.3h0.85v0.85h-0.85zM491.6 78.2h0.85v0.85h-0.85zM489.4 82.8h0.85v0.85h-0.85zM488.2 91.4h0.85v0.85h-0.85zM489.2 75.9h0.85v0.85h-0.85zM486.4 77.4h0.85v0.85h-0.85zM489.1 94.5h0.85v0.85h-0.85zM483.9 70.7h0.85v0.85h-0.85zM489.6 81.0h0.85v0.85h-0.85zM489.7 71.0h0.85v0.85h-0.85zM488.4 65.5h0.85v0.85h-0.85zM489.5 91.3h0.85v0.85h-0.85zM488.6 88.9h0.85v0.85h-0.85zM492.2 77.9h0.85v0.85h-0.85zM489.5 86.4h0.85v0.85h-0.85zM487.4 93.3h0.85v0.85h-0.85zM486.9 78.5h0.85v0.85h-0.85zM492.2 82.8h0.85v0.85h-0.85zM486.9 65.1h0.85v0.85h-0.85zM489.1 91.3h0.85v0.85h-0.85zM488.0 88.0h0.85v0.85h-0.85zM493.2 73.3h0.85v0.85h-0.85zM491.1 80.5h0.85v0.85h-0.85zM490.9 70.7h0.85v0.85h-0.85zM488.4 89.3h0.85v0.85h-0.85zM488.0 76.3h0.85v0.85h-0.85zM492.8 67.6h0.85v0.85h-0.85zM488.2 90.8h0.85v0.85h-0.85zM483.4 74.3h0.85v0.85h-0.85zM493.3 73.0h0.85v0.85h-0.85zM491.8 72.0h0.85v0.85h-0.85zM485.1 67.2h0.85v0.85h-0.85zM489.4 80.1h0.85v0.85h-0.85zM490.4 75.8h0.85v0.85h-0.85zM489.2 84.0h0.85v0.85h-0.85zM490.6 89.9h0.85v0.85h-0.85zM492.4 69.4h0.85v0.85h-0.85zM486.4 68.3h0.85v0.85h-0.85zM488.6 88.5h0.85v0.85h-0.85zM490.3 87.9h0.85v0.85h-0.85zM489.9 93.4h0.85v0.85h-0.85zM487.9 70.5h0.85v0.85h-0.85zM490.6 84.4h0.85v0.85h-0.85zM486.7 77.3h0.85v0.85h-0.85zM491.2 67.2h0.85v0.85h-0.85zM484.8 75.0h0.85v0.85h-0.85zM489.4 91.3h0.85v0.85h-0.85zM491.4 93.6h0.85v0.85h-0.85zM490.6 88.2h0.85v0.85h-0.85zM486.7 74.5h0.85v0.85h-0.85zM482.5 77.4h0.85v0.85h-0.85zM489.6 72.3h0.85v0.85h-0.85zM491.7 73.5h0.85v0.85h-0.85zM488.9 88.3h0.85v0.85h-0.85zM489.6 71.5h0.85v0.85h-0.85zM487.4 91.5h0.85v0.85h-0.85zM488.3 94.0h0.85v0.85h-0.85zM486.0 78.9h0.85v0.85h-0.85zM486.5 81.1h0.85v0.85h-0.85zM488.3 93.3h0.85v0.85h-0.85zM490.9 88.4h0.85v0.85h-0.85zM489.3 86.9h0.85v0.85h-0.85zM487.7 90.0h0.85v0.85h-0.85zM488.2 70.3h0.85v0.85h-0.85zM487.5 87.6h0.85v0.85h-0.85zM487.9 86.2h0.85v0.85h-0.85zM489.2 76.0h0.85v0.85h-0.85zM483.9 67.3h0.85v0.85h-0.85zM489.4 79.0h0.85v0.85h-0.85zM487.5 84.2h0.85v0.85h-0.85zM491.3 76.5h0.85v0.85h-0.85zM487.0 82.7h0.85v0.85h-0.85zM489.2 77.9h0.85v0.85h-0.85zM487.4 87.4h0.85v0.85h-0.85zM489.2 95.3h0.85v0.85h-0.85zM483.0 67.1h0.85v0.85h-0.85zM487.8 84.7h0.85v0.85h-0.85zM487.6 89.0h0.85v0.85h-0.85zM483.5 69.7h0.85v0.85h-0.85zM487.9 82.8h0.85v0.85h-0.85zM488.5 87.2h0.85v0.85h-0.85zM487.8 81.7h0.85v0.85h-0.85zM486.3 77.6h0.85v0.85h-0.85zM487.0 73.7h0.85v0.85h-0.85zM486.3 72.2h0.85v0.85h-0.85zM490.8 79.6h0.85v0.85h-0.85zM489.4 88.8h0.85v0.85h-0.85zM490.3 89.9h0.85v0.85h-0.85zM490.1 87.0h0.85v0.85h-0.85zM492.4 80.0h0.85v0.85h-0.85zM488.9 74.4h0.85v0.85h-0.85zM489.5 77.2h0.85v0.85h-0.85zM489.1 71.9h0.85v0.85h-0.85zM487.9 80.3h0.85v0.85h-0.85zM491.0 68.9h0.85v0.85h-0.85zM489.7 75.1h0.85v0.85h-0.85zM489.5 90.2h0.85v0.85h-0.85zM489.6 73.1h0.85v0.85h-0.85zM490.1 90.9h0.85v0.85h-0.85zM486.3 87.0h0.85v0.85h-0.85zM489.6 90.6h0.85v0.85h-0.85zM488.8 91.7h0.85v0.85h-0.85zM487.1 69.1h0.85v0.85h-0.85zM488.2 78.6h0.85v0.85h-0.85zM490.4 75.2h0.85v0.85h-0.85zM491.4 70.1h0.85v0.85h-0.85zM488.6 88.9h0.85v0.85h-0.85zM491.3 68.8h0.85v0.85h-0.85zM489.6 83.3h0.85v0.85h-0.85zM489.9 91.5h0.85v0.85h-0.85zM491.2 82.4h0.85v0.85h-0.85zM490.1 82.9h0.85v0.85h-0.85zM488.0 69.2h0.85v0.85h-0.85zM487.4 89.4h0.85v0.85h-0.85zM490.8 90.2h0.85v0.85h-0.85zM487.5 80.7h0.85v0.85h-0.85zM489.7 90.0h0.85v0.85h-0.85zM489.1 80.1h0.85v0.85h-0.85zM491.9 84.6h0.85v0.85h-0.85zM488.7 67.2h0.85v0.85h-0.85zM488.5 92.3h0.85v0.85h-0.85zM484.1 78.5h0.85v0.85h-0.85zM489.9 86.6h0.85v0.85h-0.85zM489.0 81.3h0.85v0.85h-0.85zM487.3 73.2h0.85v0.85h-0.85zM488.2 82.2h0.85v0.85h-0.85zM490.1 92.3h0.85v0.85h-0.85zM489.6 85.6h0.85v0.85h-0.85zM491.6 72.6h0.85v0.85h-0.85zM488.5 81.9h0.85v0.85h-0.85zM489.2 93.5h0.85v0.85h-0.85zM492.1 68.4h0.85v0.85h-0.85zM488.3 66.5h0.85v0.85h-0.85zM490.5 89.7h0.85v0.85h-0.85zM488.6 86.8h0.85v0.85h-0.85zM491.6 90.6h0.85v0.85h-0.85zM487.8 73.2h0.85v0.85h-0.85zM488.2 83.3h0.85v0.85h-0.85zM489.5 70.9h0.85v0.85h-0.85zM488.2 70.4h0.85v0.85h-0.85zM488.9 81.7h0.85v0.85h-0.85zM488.9 89.7h0.85v0.85h-0.85zM491.4 81.1h0.85v0.85h-0.85zM487.7 67.9h0.85v0.85h-0.85zM493.0 68.5h0.85v0.85h-0.85zM490.2 85.4h0.85v0.85h-0.85zM489.5 75.0h0.85v0.85h-0.85zM488.7 70.9h0.85v0.85h-0.85zM494.1 72.5h0.85v0.85h-0.85zM486.5 93.2h0.85v0.85h-0.85zM488.2 78.3h0.85v0.85h-0.85zM488.9 71.4h0.85v0.85h-0.85zM490.7 72.8h0.85v0.85h-0.85zM489.4 71.0h0.85v0.85h-0.85zM489.8 92.7h0.85v0.85h-0.85zM490.3 82.0h0.85v0.85h-0.85zM491.4 79.6h0.85v0.85h-0.85zM487.4 70.0h0.85v0.85h-0.85zM490.4 76.7h0.85v0.85h-0.85zM491.1 86.2h0.85v0.85h-0.85zM488.2 90.7h0.85v0.85h-0.85zM489.6 82.7h0.85v0.85h-0.85zM485.6 75.5h0.85v0.85h-0.85zM489.3 92.4h0.85v0.85h-0.85zM487.3 80.2h0.85v0.85h-0.85zM490.8 75.3h0.85v0.85h-0.85zM485.9 74.2h0.85v0.85h-0.85zM489.2 76.0h0.85v0.85h-0.85zM487.8 90.1h0.85v0.85h-0.85zM489.0 80.5h0.85v0.85h-0.85zM489.5 90.1h0.85v0.85h-0.85zM494.7 78.8h0.85v0.85h-0.85zM489.6 85.5h0.85v0.85h-0.85zM490.5 72.1h0.85v0.85h-0.85zM492.9 74.3h0.85v0.85h-0.85zM491.8 77.6h0.85v0.85h-0.85zM486.5 78.5h0.85v0.85h-0.85zM489.7 88.0h0.85v0.85h-0.85zM489.4 72.7h0.85v0.85h-0.85zM490.7 81.9h0.85v0.85h-0.85zM490.3 79.5h0.85v0.85h-0.85zM487.0 92.3h0.85v0.85h-0.85zM487.5 78.1h0.85v0.85h-0.85zM493.3 75.9h0.85v0.85h-0.85zM490.2 83.7h0.85v0.85h-0.85zM486.8 76.7h0.85v0.85h-0.85zM488.2 89.6h0.85v0.85h-0.85zM488.6 92.6h0.85v0.85h-0.85zM485.7 77.4h0.85v0.85h-0.85zM482.5 80.7h0.85v0.85h-0.85zM490.5 66.0h0.85v0.85h-0.85zM487.4 87.4h0.85v0.85h-0.85zM487.1 73.6h0.85v0.85h-0.85zM487.4 84.4h0.85v0.85h-0.85zM487.6 74.3h0.85v0.85h-0.85zM488.0 87.2h0.85v0.85h-0.85zM491.9 79.3h0.85v0.85h-0.85zM488.5 92.5h0.85v0.85h-0.85zM489.3 89.3h0.85v0.85h-0.85zM488.7 79.9h0.85v0.85h-0.85zM492.3 74.2h0.85v0.85h-0.85zM489.0 81.1h0.85v0.85h-0.85zM484.8 80.0h0.85v0.85h-0.85zM491.1 88.0h0.85v0.85h-0.85zM490.5 93.0h0.85v0.85h-0.85zM489.5 89.4h0.85v0.85h-0.85zM486.6 89.4h0.85v0.85h-0.85zM491.5 79.2h0.85v0.85h-0.85zM489.4 82.3h0.85v0.85h-0.85zM486.5 76.5h0.85v0.85h-0.85zM487.6 82.0h0.85v0.85h-0.85zM491.4 75.2h0.85v0.85h-0.85zM487.5 84.0h0.85v0.85h-0.85zM488.1 69.0h0.85v0.85h-0.85zM486.3 69.3h0.85v0.85h-0.85zM489.6 83.4h0.85v0.85h-0.85zM486.7 80.3h0.85v0.85h-0.85zM490.2 72.3h0.85v0.85h-0.85zM488.5 93.4h0.85v0.85h-0.85zM495.3 70.5h0.85v0.85h-0.85zM488.3 92.2h0.85v0.85h-0.85zM488.9 92.1h0.85v0.85h-0.85zM491.9 65.2h0.85v0.85h-0.85zM489.7 91.9h0.85v0.85h-0.85zM486.4 87.7h0.85v0.85h-0.85zM489.2 77.5h0.85v0.85h-0.85zM489.4 85.9h0.85v0.85h-0.85zM489.4 94.1h0.85v0.85h-0.85zM488.2 69.4h0.85v0.85h-0.85zM492.6 73.6h0.85v0.85h-0.85zM492.9 69.6h0.85v0.85h-0.85zM488.4 89.2h0.85v0.85h-0.85zM485.6 72.8h0.85v0.85h-0.85zM488.6 69.1h0.85v0.85h-0.85zM490.6 70.5h0.85v0.85h-0.85zM490.1 91.6h0.85v0.85h-0.85zM485.6 75.7h0.85v0.85h-0.85zM488.3 95.0h0.85v0.85h-0.85zM482.6 71.9h0.85v0.85h-0.85zM486.8 77.6h0.85v0.85h-0.85zM492.3 70.4h0.85v0.85h-0.85zM495.0 73.3h0.85v0.85h-0.85zM491.2 75.0h0.85v0.85h-0.85zM488.7 83.6h0.85v0.85h-0.85zM488.4 72.2h0.85v0.85h-0.85zM493.9 76.5h0.85v0.85h-0.85zM490.3 87.1h0.85v0.85h-0.85zM489.4 85.3h0.85v0.85h-0.85zM487.5 64.6h0.85v0.85h-0.85zM487.1 75.3h0.85v0.85h-0.85zM489.0 86.0h0.85v0.85h-0.85zM493.7 78.0h0.85v0.85h-0.85zM488.5 67.2h0.85v0.85h-0.85zM488.2 71.1h0.85v0.85h-0.85zM489.8 76.5h0.85v0.85h-0.85zM488.6 83.5h0.85v0.85h-0.85zM491.1 83.5h0.85v0.85h-0.85zM486.4 74.7h0.85v0.85h-0.85zM489.4 69.1h0.85v0.85h-0.85zM487.3 73.7h0.85v0.85h-0.85zM489.8 92.3h0.85v0.85h-0.85zM489.6 70.5h0.85v0.85h-0.85zM486.7 67.6h0.85v0.85h-0.85zM487.4 66.9h0.85v0.85h-0.85zM488.8 81.3h0.85v0.85h-0.85zM493.7 67.8h0.85v0.85h-0.85zM490.3 77.6h0.85v0.85h-0.85zM489.6 74.6h0.85v0.85h-0.85zM486.6 80.3h0.85v0.85h-0.85zM485.5 81.6h0.85v0.85h-0.85zM486.9 86.6h0.85v0.85h-0.85zM487.2 74.6h0.85v0.85h-0.85zM489.9 75.3h0.85v0.85h-0.85zM488.8 87.5h0.85v0.85h-0.85zM491.9 73.7h0.85v0.85h-0.85zM485.5 73.5h0.85v0.85h-0.85zM488.0 67.0h0.85v0.85h-0.85zM488.5 92.0h0.85v0.85h-0.85zM487.1 81.9h0.85v0.85h-0.85zM485.0 85.4h0.85v0.85h-0.85zM486.2 69.3h0.85v0.85h-0.85zM489.9 88.9h0.85v0.85h-0.85zM483.2 64.4h0.85v0.85h-0.85zM490.1 87.9h0.85v0.85h-0.85zM489.8 90.9h0.85v0.85h-0.85zM488.4 78.4h0.85v0.85h-0.85zM489.5 75.3h0.85v0.85h-0.85zM488.7 88.4h0.85v0.85h-0.85zM488.7 68.9h0.85v0.85h-0.85zM492.5 71.6h0.85v0.85h-0.85zM490.8 89.3h0.85v0.85h-0.85zM490.5 79.1h0.85v0.85h-0.85zM489.5 70.4h0.85v0.85h-0.85zM488.4 73.3h0.85v0.85h-0.85zM489.3 80.0h0.85v0.85h-0.85zM487.7 95.0h0.85v0.85h-0.85zM488.1 94.5h0.85v0.85h-0.85zM488.9 70.0h0.85v0.85h-0.85zM486.7 94.4h0.85v0.85h-0.85zM488.7 76.8h0.85v0.85h-0.85zM488.3 75.0h0.85v0.85h-0.85zM488.3 82.7h0.85v0.85h-0.85zM488.2 66.8h0.85v0.85h-0.85zM487.7 85.1h0.85v0.85h-0.85zM491.9 88.3h0.85v0.85h-0.85zM483.5 75.2h0.85v0.85h-0.85zM486.2 66.0h0.85v0.85h-0.85zM486.1 87.3h0.85v0.85h-0.85zM489.0 97.1h0.85v0.85h-0.85zM491.3 70.7h0.85v0.85h-0.85zM490.2 95.0h0.85v0.85h-0.85zM487.2 82.5h0.85v0.85h-0.85zM490.4 72.5h0.85v0.85h-0.85zM487.4 91.0h0.85v0.85h-0.85zM488.6 89.7h0.85v0.85h-0.85zM490.2 79.5h0.85v0.85h-0.85zM485.8 82.4h0.85v0.85h-0.85zM488.1 73.7h0.85v0.85h-0.85zM487.5 83.6h0.85v0.85h-0.85zM489.6 73.9h0.85v0.85h-0.85zM490.5 76.6h0.85v0.85h-0.85zM486.7 87.4h0.85v0.85h-0.85zM488.5 91.1h0.85v0.85h-0.85zM486.4 82.9h0.85v0.85h-0.85zM486.3 90.5h0.85v0.85h-0.85zM487.2 87.3h0.85v0.85h-0.85zM487.4 82.4h0.85v0.85h-0.85zM486.6 82.8h0.85v0.85h-0.85zM485.2 69.7h0.85v0.85h-0.85zM492.6 70.6h0.85v0.85h-0.85zM488.8 73.4h0.85v0.85h-0.85zM490.2 86.1h0.85v0.85h-0.85zM489.9 96.8h0.85v0.85h-0.85zM489.0 70.8h0.85v0.85h-0.85zM490.9 95.4h0.85v0.85h-0.85zM489.3 89.9h0.85v0.85h-0.85zM489.0 69.4h0.85v0.85h-0.85zM487.1 81.0h0.85v0.85h-0.85zM487.8 73.9h0.85v0.85h-0.85zM489.3 89.8h0.85v0.85h-0.85zM488.9 78.9h0.85v0.85h-0.85zM489.3 77.5h0.85v0.85h-0.85zM489.4 80.3h0.85v0.85h-0.85zM485.2 72.1h0.85v0.85h-0.85zM487.7 88.1h0.85v0.85h-0.85zM488.0 80.9h0.85v0.85h-0.85zM486.9 68.8h0.85v0.85h-0.85zM486.2 82.1h0.85v0.85h-0.85zM488.5 80.0h0.85v0.85h-0.85zM487.9 94.0h0.85v0.85h-0.85zM489.6 92.9h0.85v0.85h-0.85zM486.0 70.3h0.85v0.85h-0.85zM489.0 87.4h0.85v0.85h-0.85zM485.2 86.0h0.85v0.85h-0.85zM488.3 82.5h0.85v0.85h-0.85zM491.6 73.9h0.85v0.85h-0.85zM488.8 93.9h0.85v0.85h-0.85zM489.8 83.1h0.85v0.85h-0.85zM489.0 81.3h0.85v0.85h-0.85zM488.4 94.1h0.85v0.85h-0.85zM490.0 73.2h0.85v0.85h-0.85zM489.6 76.5h0.85v0.85h-0.85zM489.8 71.7h0.85v0.85h-0.85zM487.0 75.3h0.85v0.85h-0.85zM488.3 93.6h0.85v0.85h-0.85zM482.1 78.5h0.85v0.85h-0.85zM488.8 86.5h0.85v0.85h-0.85zM487.5 86.9h0.85v0.85h-0.85zM487.1 81.1h0.85v0.85h-0.85zM489.7 87.0h0.85v0.85h-0.85zM489.0 73.3h0.85v0.85h-0.85zM489.7 69.8h0.85v0.85h-0.85zM486.5 68.0h0.85v0.85h-0.85zM489.9 68.7h0.85v0.85h-0.85zM488.6 71.4h0.85v0.85h-0.85zM489.1 64.3h0.85v0.85h-0.85zM488.1 68.9h0.85v0.85h-0.85zM493.5 67.9h0.85v0.85h-0.85zM486.4 78.1h0.85v0.85h-0.85zM489.2 77.8h0.85v0.85h-0.85zM489.0 95.7h0.85v0.85h-0.85zM490.3 83.2h0.85v0.85h-0.85zM489.2 91.1h0.85v0.85h-0.85zM488.0 89.6h0.85v0.85h-0.85zM488.9 93.5h0.85v0.85h-0.85zM490.2 92.3h0.85v0.85h-0.85zM491.1 79.6h0.85v0.85h-0.85zM487.6 74.0h0.85v0.85h-0.85zM489.2 69.2h0.85v0.85h-0.85zM488.6 94.0h0.85v0.85h-0.85zM492.2 73.1h0.85v0.85h-0.85zM488.4 94.4h0.85v0.85h-0.85zM490.7 86.2h0.85v0.85h-0.85zM490.8 88.0h0.85v0.85h-0.85zM488.3 67.5h0.85v0.85h-0.85zM491.1 92.4h0.85v0.85h-0.85zM488.0 71.7h0.85v0.85h-0.85zM488.5 89.6h0.85v0.85h-0.85zM491.1 66.9h0.85v0.85h-0.85zM488.3 93.7h0.85v0.85h-0.85zM489.1 67.4h0.85v0.85h-0.85zM485.3 69.6h0.85v0.85h-0.85zM487.9 79.1h0.85v0.85h-0.85zM489.0 73.9h0.85v0.85h-0.85zM484.7 72.0h0.85v0.85h-0.85zM490.5 78.3h0.85v0.85h-0.85zM491.1 72.0h0.85v0.85h-0.85zM488.6 84.5h0.85v0.85h-0.85zM489.7 86.2h0.85v0.85h-0.85zM490.1 82.3h0.85v0.85h-0.85zM487.3 81.9h0.85v0.85h-0.85zM490.2 75.0h0.85v0.85h-0.85zM489.2 81.2h0.85v0.85h-0.85zM487.6 83.9h0.85v0.85h-0.85zM489.1 89.1h0.85v0.85h-0.85zM486.6 81.1h0.85v0.85h-0.85zM486.4 92.7h0.85v0.85h-0.85zM489.8 78.0h0.85v0.85h-0.85zM489.2 82.7h0.85v0.85h-0.85zM491.4 84.6h0.85v0.85h-0.85zM487.8 67.3h0.85v0.85h-0.85zM489.9 90.8h0.85v0.85h-0.85zM487.7 91.0h0.85v0.85h-0.85zM485.4 71.6h0.85v0.85h-0.85zM488.3 84.9h0.85v0.85h-0.85zM489.3 82.5h0.85v0.85h-0.85zM488.8 73.9h0.85v0.85h-0.85zM491.9 73.5h0.85v0.85h-0.85zM492.4 73.1h0.85v0.85h-0.85zM487.6 91.9h0.85v0.85h-0.85zM488.2 90.7h0.85v0.85h-0.85zM491.5 87.6h0.85v0.85h-0.85zM492.9 73.6h0.85v0.85h-0.85zM487.2 87.1h0.85v0.85h-0.85zM487.1 73.9h0.85v0.85h-0.85zM493.0 82.1h0.85v0.85h-0.85zM486.1 70.7h0.85v0.85h-0.85zM490.2 89.8h0.85v0.85h-0.85zM484.3 75.8h0.85v0.85h-0.85zM488.7 83.8h0.85v0.85h-0.85zM486.2 72.7h0.85v0.85h-0.85zM490.2 72.6h0.85v0.85h-0.85zM490.8 89.4h0.85v0.85h-0.85zM489.8 84.6h0.85v0.85h-0.85zM490.9 85.3h0.85v0.85h-0.85zM491.9 77.0h0.85v0.85h-0.85zM491.9 83.5h0.85v0.85h-0.85zM489.3 92.6h0.85v0.85h-0.85zM486.6 88.6h0.85v0.85h-0.85zM486.9 87.3h0.85v0.85h-0.85zM491.1 81.3h0.85v0.85h-0.85zM490.5 79.5h0.85v0.85h-0.85zM490.1 93.8h0.85v0.85h-0.85zM488.3 80.1h0.85v0.85h-0.85zM488.1 80.7h0.85v0.85h-0.85zM483.9 72.8h0.85v0.85h-0.85zM486.5 76.5h0.85v0.85h-0.85zM488.6 71.7h0.85v0.85h-0.85zM488.1 92.0h0.85v0.85h-0.85zM487.1 92.0h0.85v0.85h-0.85zM492.3 77.9h0.85v0.85h-0.85zM488.8 89.4h0.85v0.85h-0.85zM489.1 87.0h0.85v0.85h-0.85zM488.9 87.4h0.85v0.85h-0.85zM488.8 89.2h0.85v0.85h-0.85zM485.9 74.2h0.85v0.85h-0.85zM490.3 86.8h0.85v0.85h-0.85zM487.3 74.8h0.85v0.85h-0.85zM486.6 81.8h0.85v0.85h-0.85zM492.7 68.4h0.85v0.85h-0.85zM489.1 68.4h0.85v0.85h-0.85zM489.4 91.4h0.85v0.85h-0.85zM484.7 80.7h0.85v0.85h-0.85zM492.4 83.5h0.85v0.85h-0.85zM487.3 85.7h0.85v0.85h-0.85zM485.1 63.0h0.85v0.85h-0.85zM488.1 84.7h0.85v0.85h-0.85zM487.3 86.8h0.85v0.85h-0.85zM485.9 71.1h0.85v0.85h-0.85zM489.4 89.4h0.85v0.85h-0.85zM491.7 79.8h0.85v0.85h-0.85zM488.3 79.8h0.85v0.85h-0.85zM488.8 75.4h0.85v0.85h-0.85zM489.0 68.0h0.85v0.85h-0.85zM489.3 76.1h0.85v0.85h-0.85zM485.2 74.2h0.85v0.85h-0.85zM491.0 88.6h0.85v0.85h-0.85zM486.3 86.1h0.85v0.85h-0.85zM488.2 96.8h0.85v0.85h-0.85zM494.7 72.4h0.85v0.85h-0.85zM488.6 88.3h0.85v0.85h-0.85zM487.2 84.9h0.85v0.85h-0.85zM489.1 77.5h0.85v0.85h-0.85zM492.4 85.4h0.85v0.85h-0.85zM489.0 70.6h0.85v0.85h-0.85zM487.2 88.1h0.85v0.85h-0.85zM489.5 75.8h0.85v0.85h-0.85zM489.4 83.6h0.85v0.85h-0.85zM487.5 83.7h0.85v0.85h-0.85zM489.5 75.7h0.85v0.85h-0.85zM486.8 91.2h0.85v0.85h-0.85zM490.3 70.7h0.85v0.85h-0.85zM489.1 93.9h0.85v0.85h-0.85zM488.9 95.6h0.85v0.85h-0.85zM488.0 91.2h0.85v0.85h-0.85zM491.9 83.8h0.85v0.85h-0.85zM489.8 90.6h0.85v0.85h-0.85zM491.2 83.9h0.85v0.85h-0.85zM488.3 93.2h0.85v0.85h-0.85zM490.1 84.6h0.85v0.85h-0.85zM494.2 71.6h0.85v0.85h-0.85zM491.7 80.7h0.85v0.85h-0.85zM486.1 68.8h0.85v0.85h-0.85zM488.8 79.7h0.85v0.85h-0.85zM487.0 67.7h0.85v0.85h-0.85zM488.3 85.5h0.85v0.85h-0.85zM488.8 90.4h0.85v0.85h-0.85zM494.7 64.6h0.85v0.85h-0.85zM492.6 78.0h0.85v0.85h-0.85zM488.5 68.5h0.85v0.85h-0.85zM491.1 72.0h0.85v0.85h-0.85zM487.5 77.3h0.85v0.85h-0.85zM484.8 68.8h0.85v0.85h-0.85zM484.1 77.4h0.85v0.85h-0.85zM487.5 87.7h0.85v0.85h-0.85zM493.2 78.4h0.85v0.85h-0.85zM489.5 71.1h0.85v0.85h-0.85zM490.1 79.9h0.85v0.85h-0.85zM492.4 69.6h0.85v0.85h-0.85zM483.1 72.5h0.85v0.85h-0.85zM488.3 79.3h0.85v0.85h-0.85zM488.9 74.6h0.85v0.85h-0.85zM491.3 79.8h0.85v0.85h-0.85zM490.1 68.2h0.85v0.85h-0.85zM486.5 91.5h0.85v0.85h-0.85zM486.7 90.6h0.85v0.85h-0.85zM489.2 91.8h0.85v0.85h-0.85zM489.1 88.2h0.85v0.85h-0.85zM486.3 83.0h0.85v0.85h-0.85zM487.2 89.6h0.85v0.85h-0.85zM489.1 71.4h0.85v0.85h-0.85zM484.6 68.3h0.85v0.85h-0.85zM489.7 76.6h0.85v0.85h-0.85zM488.6 93.2h0.85v0.85h-0.85zM488.2 81.8h0.85v0.85h-0.85zM492.6 84.1h0.85v0.85h-0.85zM486.6 78.0h0.85v0.85h-0.85zM486.6 81.1h0.85v0.85h-0.85zM488.1 87.8h0.85v0.85h-0.85zM484.2 84.7h0.85v0.85h-0.85zM491.3 69.9h0.85v0.85h-0.85zM490.4 72.5h0.85v0.85h-0.85zM489.0 79.1h0.85v0.85h-0.85zM488.7 71.1h0.85v0.85h-0.85zM488.5 68.1h0.85v0.85h-0.85zM486.3 85.6h0.85v0.85h-0.85zM488.2 67.0h0.85v0.85h-0.85zM488.6 77.9h0.85v0.85h-0.85zM490.2 85.4h0.85v0.85h-0.85zM489.1 89.1h0.85v0.85h-0.85zM491.4 77.3h0.85v0.85h-0.85zM490.8 71.9h0.85v0.85h-0.85zM486.7 90.5h0.85v0.85h-0.85zM487.5 83.5h0.85v0.85h-0.85zM489.6 86.0h0.85v0.85h-0.85zM488.1 87.2h0.85v0.85h-0.85zM488.7 86.4h0.85v0.85h-0.85zM491.4 72.4h0.85v0.85h-0.85zM485.7 72.5h0.85v0.85h-0.85zM489.0 90.9h0.85v0.85h-0.85zM492.9 73.4h0.85v0.85h-0.85zM488.8 83.7h0.85v0.85h-0.85zM487.7 91.1h0.85v0.85h-0.85zM488.8 80.3h0.85v0.85h-0.85zM487.6 68.2h0.85v0.85h-0.85zM486.4 82.7h0.85v0.85h-0.85zM490.1 83.1h0.85v0.85h-0.85zM488.8 75.8h0.85v0.85h-0.85zM484.7 77.7h0.85v0.85h-0.85zM491.0 81.9h0.85v0.85h-0.85zM485.7 68.9h0.85v0.85h-0.85zM488.9 78.3h0.85v0.85h-0.85zM490.0 75.5h0.85v0.85h-0.85zM488.5 86.2h0.85v0.85h-0.85zM485.1 75.5h0.85v0.85h-0.85zM483.5 80.7h0.85v0.85h-0.85zM491.2 101.1h0.85v0.85h-0.85zM489.5 102.4h0.85v0.85h-0.85zM490.8 100.5h0.85v0.85h-0.85zM486.2 93.7h0.85v0.85h-0.85zM488.3 100.7h0.85v0.85h-0.85zM488.9 94.8h0.85v0.85h-0.85zM489.4 102.0h0.85v0.85h-0.85zM488.7 95.9h0.85v0.85h-0.85zM489.7 93.3h0.85v0.85h-0.85zM489.0 96.6h0.85v0.85h-0.85zM488.1 93.1h0.85v0.85h-0.85zM490.5 95.2h0.85v0.85h-0.85zM487.9 101.8h0.85v0.85h-0.85zM489.7 98.5h0.85v0.85h-0.85zM489.5 96.8h0.85v0.85h-0.85zM486.8 94.6h0.85v0.85h-0.85zM487.9 98.8h0.85v0.85h-0.85zM491.9 96.4h0.85v0.85h-0.85zM488.7 103.1h0.85v0.85h-0.85zM489.7 101.6h0.85v0.85h-0.85zM488.0 101.6h0.85v0.85h-0.85zM490.4 96.2h0.85v0.85h-0.85zM488.8 103.7h0.85v0.85h-0.85zM490.3 95.4h0.85v0.85h-0.85zM490.1 101.2h0.85v0.85h-0.85zM487.4 100.8h0.85v0.85h-0.85zM488.7 101.6h0.85v0.85h-0.85zM489.7 101.7h0.85v0.85h-0.85zM487.1 100.6h0.85v0.85h-0.85zM488.8 98.3h0.85v0.85h-0.85zM488.4 100.5h0.85v0.85h-0.85zM489.7 98.8h0.85v0.85h-0.85zM487.1 95.2h0.85v0.85h-0.85zM489.4 95.3h0.85v0.85h-0.85zM490.1 102.6h0.85v0.85h-0.85zM487.9 98.3h0.85v0.85h-0.85zM488.1 99.0h0.85v0.85h-0.85zM489.9 97.3h0.85v0.85h-0.85zM487.9 103.4h0.85v0.85h-0.85zM489.5 95.0h0.85v0.85h-0.85z" fill="#000" fill-opacity="0.85"/>
<path d="M486.3 69.4h0.85v0.85h-0.85zM488.6 61.8h0.85v0.85h-0.85zM484.3 63.2h0.85v0.85h-0.85zM486.7 63.5h0.85v0.85h-0.85zM491.8 65.5h0.85v0.85h-0.85zM484.9 66.7h0.85v0.85h-0.85zM500.1 61.7h0.85v0.85h-0.85zM489.1 61.3h0.85v0.85h-0.85zM484.3 62.5h0.85v0.85h-0.85zM489.2 62.1h0.85v0.85h-0.85zM487.3 63.1h0.85v0.85h-0.85zM492.0 64.6h0.85v0.85h-0.85zM484.1 69.2h0.85v0.85h-0.85zM490.1 58.1h0.85v0.85h-0.85zM484.6 58.1h0.85v0.85h-0.85zM489.0 61.5h0.85v0.85h-0.85zM492.6 66.5h0.85v0.85h-0.85zM488.4 61.5h0.85v0.85h-0.85zM492.1 59.6h0.85v0.85h-0.85zM487.1 59.0h0.85v0.85h-0.85zM490.8 69.5h0.85v0.85h-0.85zM486.0 68.9h0.85v0.85h-0.85zM487.2 60.0h0.85v0.85h-0.85zM488.0 61.6h0.85v0.85h-0.85zM483.5 68.3h0.85v0.85h-0.85zM485.2 59.6h0.85v0.85h-0.85zM486.2 68.2h0.85v0.85h-0.85zM493.2 64.5h0.85v0.85h-0.85zM488.4 61.4h0.85v0.85h-0.85zM484.5 62.7h0.85v0.85h-0.85zM484.3 59.4h0.85v0.85h-0.85zM487.6 59.4h0.85v0.85h-0.85zM484.5 64.2h0.85v0.85h-0.85zM488.5 57.2h0.85v0.85h-0.85zM484.6 60.3h0.85v0.85h-0.85zM484.7 69.5h0.85v0.85h-0.85zM490.5 69.5h0.85v0.85h-0.85zM482.2 61.9h0.85v0.85h-0.85zM494.9 67.4h0.85v0.85h-0.85zM485.6 62.7h0.85v0.85h-0.85zM483.4 59.5h0.85v0.85h-0.85zM489.8 61.2h0.85v0.85h-0.85zM491.3 63.4h0.85v0.85h-0.85zM491.9 62.0h0.85v0.85h-0.85zM489.6 62.3h0.85v0.85h-0.85zM485.8 58.6h0.85v0.85h-0.85zM487.5 66.3h0.85v0.85h-0.85zM488.4 59.5h0.85v0.85h-0.85zM490.6 67.2h0.85v0.85h-0.85zM490.9 68.2h0.85v0.85h-0.85zM490.1 68.4h0.85v0.85h-0.85zM490.6 67.1h0.85v0.85h-0.85zM481.2 69.1h0.85v0.85h-0.85zM486.3 66.2h0.85v0.85h-0.85zM491.6 58.7h0.85v0.85h-0.85zM486.6 60.3h0.85v0.85h-0.85zM487.8 58.5h0.85v0.85h-0.85zM485.8 69.8h0.85v0.85h-0.85zM487.6 59.2h0.85v0.85h-0.85zM486.0 60.6h0.85v0.85h-0.85zM481.8 62.4h0.85v0.85h-0.85zM489.2 58.6h0.85v0.85h-0.85zM489.3 62.0h0.85v0.85h-0.85zM485.3 68.9h0.85v0.85h-0.85zM481.7 68.2h0.85v0.85h-0.85zM486.9 61.9h0.85v0.85h-0.85zM484.1 58.4h0.85v0.85h-0.85zM491.0 69.8h0.85v0.85h-0.85zM487.1 61.6h0.85v0.85h-0.85zM482.9 68.8h0.85v0.85h-0.85zM485.7 67.1h0.85v0.85h-0.85zM493.4 67.6h0.85v0.85h-0.85zM487.2 57.6h0.85v0.85h-0.85zM485.2 65.1h0.85v0.85h-0.85zM486.9 65.8h0.85v0.85h-0.85zM484.1 63.2h0.85v0.85h-0.85zM490.4 57.5h0.85v0.85h-0.85zM483.4 69.2h0.85v0.85h-0.85zM489.5 64.7h0.85v0.85h-0.85zM490.9 63.2h0.85v0.85h-0.85zM490.6 63.4h0.85v0.85h-0.85zM487.4 60.1h0.85v0.85h-0.85zM486.5 57.4h0.85v0.85h-0.85zM487.9 69.0h0.85v0.85h-0.85zM488.6 64.6h0.85v0.85h-0.85zM489.6 69.9h0.85v0.85h-0.85zM487.8 61.0h0.85v0.85h-0.85zM488.6 58.1h0.85v0.85h-0.85zM486.5 57.8h0.85v0.85h-0.85zM485.4 62.7h0.85v0.85h-0.85zM491.3 58.4h0.85v0.85h-0.85zM489.2 58.9h0.85v0.85h-0.85zM490.1 68.6h0.85v0.85h-0.85zM493.0 58.2h0.85v0.85h-0.85zM485.7 63.4h0.85v0.85h-0.85zM486.1 62.5h0.85v0.85h-0.85zM486.8 64.8h0.85v0.85h-0.85zM490.6 57.2h0.85v0.85h-0.85zM483.6 61.5h0.85v0.85h-0.85zM485.9 62.0h0.85v0.85h-0.85zM490.4 61.1h0.85v0.85h-0.85zM483.1 57.0h0.85v0.85h-0.85zM490.1 60.8h0.85v0.85h-0.85zM492.8 62.0h0.85v0.85h-0.85zM489.2 57.3h0.85v0.85h-0.85zM485.4 59.0h0.85v0.85h-0.85zM486.6 58.2h0.85v0.85h-0.85zM484.9 60.3h0.85v0.85h-0.85zM487.7 64.1h0.85v0.85h-0.85zM490.9 63.8h0.85v0.85h-0.85zM491.1 58.3h0.85v0.85h-0.85zM481.1 67.0h0.85v0.85h-0.85zM485.6 59.6h0.85v0.85h-0.85zM489.0 63.0h0.85v0.85h-0.85zM486.9 58.7h0.85v0.85h-0.85zM480.5 66.1h0.85v0.85h-0.85zM488.6 68.0h0.85v0.85h-0.85zM489.6 66.6h0.85v0.85h-0.85zM488.0 63.8h0.85v0.85h-0.85zM487.8 69.0h0.85v0.85h-0.85zM490.9 69.7h0.85v0.85h-0.85zM483.6 63.5h0.85v0.85h-0.85zM487.1 64.1h0.85v0.85h-0.85zM489.2 68.0h0.85v0.85h-0.85zM498.5 64.6h0.85v0.85h-0.85zM485.8 64.1h0.85v0.85h-0.85zM490.4 69.9h0.85v0.85h-0.85zM493.3 58.3h0.85v0.85h-0.85zM490.4 59.8h0.85v0.85h-0.85zM490.7 59.2h0.85v0.85h-0.85zM491.9 60.7h0.85v0.85h-0.85zM482.6 66.6h0.85v0.85h-0.85zM489.6 61.6h0.85v0.85h-0.85zM486.6 69.0h0.85v0.85h-0.85zM492.7 67.9h0.85v0.85h-0.85zM489.3 61.7h0.85v0.85h-0.85zM488.8 68.0h0.85v0.85h-0.85zM488.6 63.6h0.85v0.85h-0.85zM484.2 63.6h0.85v0.85h-0.85zM490.9 69.8h0.85v0.85h-0.85zM483.1 64.6h0.85v0.85h-0.85zM487.4 65.0h0.85v0.85h-0.85zM486.9 66.4h0.85v0.85h-0.85zM491.1 57.6h0.85v0.85h-0.85zM488.1 60.5h0.85v0.85h-0.85zM485.4 67.7h0.85v0.85h-0.85zM490.1 60.7h0.85v0.85h-0.85zM493.4 66.9h0.85v0.85h-0.85zM484.9 59.6h0.85v0.85h-0.85zM492.3 59.2h0.85v0.85h-0.85zM486.0 60.3h0.85v0.85h-0.85zM487.4 61.1h0.85v0.85h-0.85zM487.4 60.4h0.85v0.85h-0.85zM484.9 68.2h0.85v0.85h-0.85zM493.1 64.0h0.85v0.85h-0.85zM490.5 63.5h0.85v0.85h-0.85zM489.9 58.4h0.85v0.85h-0.85zM483.9 66.9h0.85v0.85h-0.85zM490.1 62.1h0.85v0.85h-0.85zM485.3 61.4h0.85v0.85h-0.85zM492.3 61.9h0.85v0.85h-0.85zM482.6 65.5h0.85v0.85h-0.85zM490.3 64.2h0.85v0.85h-0.85zM483.2 67.2h0.85v0.85h-0.85zM483.5 59.8h0.85v0.85h-0.85zM488.7 62.6h0.85v0.85h-0.85zM490.7 58.0h0.85v0.85h-0.85zM491.5 61.3h0.85v0.85h-0.85zM486.8 69.1h0.85v0.85h-0.85zM486.4 63.9h0.85v0.85h-0.85zM490.9 57.6h0.85v0.85h-0.85zM484.5 60.1h0.85v0.85h-0.85zM484.6 69.3h0.85v0.85h-0.85zM489.7 62.0h0.85v0.85h-0.85zM489.5 66.6h0.85v0.85h-0.85zM488.3 69.1h0.85v0.85h-0.85zM491.9 68.0h0.85v0.85h-0.85zM483.0 66.1h0.85v0.85h-0.85zM489.5 58.4h0.85v0.85h-0.85zM494.9 61.0h0.85v0.85h-0.85zM486.8 61.4h0.85v0.85h-0.85zM484.2 63.4h0.85v0.85h-0.85zM491.9 66.8h0.85v0.85h-0.85zM489.8 57.7h0.85v0.85h-0.85zM491.9 58.9h0.85v0.85h-0.85zM490.3 60.9h0.85v0.85h-0.85zM486.7 62.1h0.85v0.85h-0.85zM487.5 57.7h0.85v0.85h-0.85zM484.5 68.4h0.85v0.85h-0.85zM496.2 58.8h0.85v0.85h-0.85zM485.3 64.7h0.85v0.85h-0.85zM487.1 68.5h0.85v0.85h-0.85zM486.0 65.2h0.85v0.85h-0.85zM489.5 63.9h0.85v0.85h-0.85zM492.6 66.6h0.85v0.85h-0.85zM486.6 67.8h0.85v0.85h-0.85zM489.5 67.0h0.85v0.85h-0.85zM490.4 58.9h0.85v0.85h-0.85zM495.0 67.4h0.85v0.85h-0.85zM487.5 63.2h0.85v0.85h-0.85zM489.0 56.3h0.85v0.85h-0.85zM488.1 47.2h0.85v0.85h-0.85zM486.3 49.9h0.85v0.85h-0.85zM489.2 48.7h0.85v0.85h-0.85zM486.9 53.1h0.85v0.85h-0.85zM485.2 58.3h0.85v0.85h-0.85zM489.4 62.0h0.85v0.85h-0.85zM489.2 56.4h0.85v0.85h-0.85zM488.2 55.2h0.85v0.85h-0.85zM487.2 46.4h0.85v0.85h-0.85zM491.0 51.0h0.85v0.85h-0.85zM486.2 60.7h0.85v0.85h-0.85zM488.0 50.3h0.85v0.85h-0.85zM487.1 45.7h0.85v0.85h-0.85zM487.0 50.7h0.85v0.85h-0.85zM488.5 52.7h0.85v0.85h-0.85zM485.3 60.9h0.85v0.85h-0.85zM488.6 58.7h0.85v0.85h-0.85zM488.1 56.6h0.85v0.85h-0.85zM486.7 60.9h0.85v0.85h-0.85zM485.9 59.3h0.85v0.85h-0.85zM484.5 46.2h0.85v0.85h-0.85zM487.7 56.0h0.85v0.85h-0.85zM491.2 56.6h0.85v0.85h-0.85zM486.1 46.0h0.85v0.85h-0.85zM485.4 49.1h0.85v0.85h-0.85zM486.0 59.8h0.85v0.85h-0.85zM488.1 56.5h0.85v0.85h-0.85zM488.6 61.2h0.85v0.85h-0.85zM488.3 58.8h0.85v0.85h-0.85zM487.4 47.4h0.85v0.85h-0.85zM484.8 52.4h0.85v0.85h-0.85zM489.8 51.1h0.85v0.85h-0.85zM486.8 49.1h0.85v0.85h-0.85zM488.4 56.1h0.85v0.85h-0.85zM487.7 47.7h0.85v0.85h-0.85zM487.5 53.9h0.85v0.85h-0.85zM489.3 54.7h0.85v0.85h-0.85zM487.8 46.5h0.85v0.85h-0.85zM492.1 48.0h0.85v0.85h-0.85zM490.8 58.8h0.85v0.85h-0.85zM489.5 58.9h0.85v0.85h-0.85zM487.0 57.4h0.85v0.85h-0.85zM489.3 48.2h0.85v0.85h-0.85zM488.3 53.5h0.85v0.85h-0.85zM489.2 61.5h0.85v0.85h-0.85zM487.7 53.2h0.85v0.85h-0.85zM485.3 56.8h0.85v0.85h-0.85zM485.5 55.2h0.85v0.85h-0.85zM487.4 59.6h0.85v0.85h-0.85zM489.5 51.9h0.85v0.85h-0.85zM487.4 61.2h0.85v0.85h-0.85zM486.3 53.3h0.85v0.85h-0.85zM487.2 60.9h0.85v0.85h-0.85zM489.0 57.9h0.85v0.85h-0.85zM486.5 61.1h0.85v0.85h-0.85zM486.4 52.8h0.85v0.85h-0.85zM487.8 56.3h0.85v0.85h-0.85zM489.0 61.8h0.85v0.85h-0.85zM484.9 55.4h0.85v0.85h-0.85z" fill="#000" fill-opacity="0.7"/>
<path d="M482.8 67.6h0.85v0.85h-0.85zM471.5 45.4h0.85v0.85h-0.85zM492.3 54.5h0.85v0.85h-0.85zM463.1 48.0h0.85v0.85h-0.85zM492.0 45.3h0.85v0.85h-0.85zM484.0 57.3h0.85v0.85h-0.85zM492.1 64.5h0.85v0.85h-0.85zM496.3 50.0h0.85v0.85h-0.85zM468.6 52.1h0.85v0.85h-0.85zM482.6 51.4h0.85v0.85h-0.85zM487.0 51.6h0.85v0.85h-0.85zM468.7 63.3h0.85v0.85h-0.85zM489.8 65.0h0.85v0.85h-0.85zM467.0 43.6h0.85v0.85h-0.85zM494.5 60.4h0.85v0.85h-0.85zM476.3 59.9h0.85v0.85h-0.85zM479.2 52.1h0.85v0.85h-0.85zM466.4 41.6h0.85v0.85h-0.85zM494.5 54.4h0.85v0.85h-0.85zM494.2 45.5h0.85v0.85h-0.85zM466.6 59.6h0.85v0.85h-0.85zM465.6 59.4h0.85v0.85h-0.85zM465.4 68.2h0.85v0.85h-0.85zM496.8 51.5h0.85v0.85h-0.85zM478.8 57.8h0.85v0.85h-0.85zM483.6 53.3h0.85v0.85h-0.85zM488.4 59.9h0.85v0.85h-0.85zM468.6 50.9h0.85v0.85h-0.85zM496.5 51.9h0.85v0.85h-0.85zM474.8 46.7h0.85v0.85h-0.85zM466.3 56.4h0.85v0.85h-0.85zM472.6 57.0h0.85v0.85h-0.85zM465.6 70.7h0.85v0.85h-0.85zM487.2 59.4h0.85v0.85h-0.85zM484.6 54.0h0.85v0.85h-0.85zM477.6 64.9h0.85v0.85h-0.85zM479.2 64.3h0.85v0.85h-0.85zM477.9 52.4h0.85v0.85h-0.85zM476.1 57.6h0.85v0.85h-0.85zM479.9 53.3h0.85v0.85h-0.85zM493.5 53.9h0.85v0.85h-0.85zM490.0 56.6h0.85v0.85h-0.85zM485.3 54.1h0.85v0.85h-0.85zM474.2 50.3h0.85v0.85h-0.85zM471.0 59.1h0.85v0.85h-0.85zM492.1 51.3h0.85v0.85h-0.85zM469.3 39.8h0.85v0.85h-0.85zM466.6 50.3h0.85v0.85h-0.85zM480.7 64.6h0.85v0.85h-0.85zM498.0 58.3h0.85v0.85h-0.85zM467.6 60.5h0.85v0.85h-0.85zM494.5 57.3h0.85v0.85h-0.85zM492.3 48.5h0.85v0.85h-0.85zM478.4 42.6h0.85v0.85h-0.85zM483.9 43.8h0.85v0.85h-0.85zM492.1 55.2h0.85v0.85h-0.85zM467.3 52.8h0.85v0.85h-0.85zM490.8 56.4h0.85v0.85h-0.85zM490.9 50.2h0.85v0.85h-0.85zM496.2 74.3h0.85v0.85h-0.85zM489.5 48.4h0.85v0.85h-0.85zM477.2 67.0h0.85v0.85h-0.85zM490.1 52.2h0.85v0.85h-0.85zM481.2 66.6h0.85v0.85h-0.85zM482.5 71.8h0.85v0.85h-0.85zM469.7 70.8h0.85v0.85h-0.85zM468.4 68.2h0.85v0.85h-0.85zM487.2 60.3h0.85v0.85h-0.85zM463.5 42.7h0.85v0.85h-0.85zM463.9 41.3h0.85v0.85h-0.85zM481.2 57.6h0.85v0.85h-0.85zM473.9 63.5h0.85v0.85h-0.85zM498.3 44.0h0.85v0.85h-0.85zM483.1 65.7h0.85v0.85h-0.85zM481.0 56.0h0.85v0.85h-0.85zM480.6 46.3h0.85v0.85h-0.85zM470.0 57.5h0.85v0.85h-0.85zM469.4 75.4h0.85v0.85h-0.85zM496.2 50.5h0.85v0.85h-0.85zM468.2 58.3h0.85v0.85h-0.85zM492.7 58.7h0.85v0.85h-0.85zM483.9 52.3h0.85v0.85h-0.85zM464.7 65.4h0.85v0.85h-0.85zM474.3 68.3h0.85v0.85h-0.85zM492.5 61.2h0.85v0.85h-0.85zM498.4 68.9h0.85v0.85h-0.85zM494.0 57.1h0.85v0.85h-0.85zM489.2 62.4h0.85v0.85h-0.85zM488.2 46.6h0.85v0.85h-0.85zM484.2 65.5h0.85v0.85h-0.85zM481.8 54.4h0.85v0.85h-0.85zM493.4 40.4h0.85v0.85h-0.85zM489.4 54.8h0.85v0.85h-0.85zM478.5 42.7h0.85v0.85h-0.85zM478.5 45.7h0.85v0.85h-0.85zM486.2 61.7h0.85v0.85h-0.85zM489.0 61.4h0.85v0.85h-0.85zM471.0 45.8h0.85v0.85h-0.85zM466.7 59.7h0.85v0.85h-0.85zM498.7 43.8h0.85v0.85h-0.85zM480.5 60.7h0.85v0.85h-0.85zM472.2 60.8h0.85v0.85h-0.85zM480.7 58.0h0.85v0.85h-0.85zM480.8 72.3h0.85v0.85h-0.85zM473.4 60.9h0.85v0.85h-0.85zM478.1 53.3h0.85v0.85h-0.85zM474.0 50.3h0.85v0.85h-0.85zM477.1 54.3h0.85v0.85h-0.85zM466.5 57.2h0.85v0.85h-0.85zM478.8 42.9h0.85v0.85h-0.85zM486.8 51.6h0.85v0.85h-0.85zM480.5 54.4h0.85v0.85h-0.85zM492.5 40.8h0.85v0.85h-0.85zM464.7 42.6h0.85v0.85h-0.85zM479.0 56.7h0.85v0.85h-0.85zM476.5 41.6h0.85v0.85h-0.85zM495.4 64.7h0.85v0.85h-0.85zM468.2 58.7h0.85v0.85h-0.85zM494.8 56.7h0.85v0.85h-0.85zM467.8 48.4h0.85v0.85h-0.85zM471.6 45.1h0.85v0.85h-0.85zM476.8 55.9h0.85v0.85h-0.85zM474.2 57.5h0.85v0.85h-0.85zM466.5 63.0h0.85v0.85h-0.85zM471.5 58.5h0.85v0.85h-0.85zM465.5 61.0h0.85v0.85h-0.85zM478.6 48.7h0.85v0.85h-0.85zM490.6 57.5h0.85v0.85h-0.85zM467.4 49.2h0.85v0.85h-0.85zM493.5 49.9h0.85v0.85h-0.85zM478.6 41.8h0.85v0.85h-0.85zM477.7 60.6h0.85v0.85h-0.85zM493.4 55.1h0.85v0.85h-0.85zM480.4 51.2h0.85v0.85h-0.85zM489.7 51.2h0.85v0.85h-0.85zM473.7 57.2h0.85v0.85h-0.85zM478.5 67.0h0.85v0.85h-0.85zM470.7 67.0h0.85v0.85h-0.85zM477.9 55.9h0.85v0.85h-0.85zM475.9 47.3h0.85v0.85h-0.85zM478.1 59.6h0.85v0.85h-0.85zM493.9 39.9h0.85v0.85h-0.85zM483.1 67.9h0.85v0.85h-0.85zM473.8 61.3h0.85v0.85h-0.85zM480.6 50.0h0.85v0.85h-0.85zM468.6 52.8h0.85v0.85h-0.85zM498.4 48.2h0.85v0.85h-0.85zM466.7 57.9h0.85v0.85h-0.85zM463.5 46.6h0.85v0.85h-0.85zM464.6 55.0h0.85v0.85h-0.85zM485.5 48.8h0.85v0.85h-0.85zM492.8 38.8h0.85v0.85h-0.85zM476.3 54.3h0.85v0.85h-0.85zM463.9 50.8h0.85v0.85h-0.85zM484.8 46.6h0.85v0.85h-0.85zM495.3 43.2h0.85v0.85h-0.85zM468.6 49.8h0.85v0.85h-0.85zM494.4 50.2h0.85v0.85h-0.85zM492.4 47.2h0.85v0.85h-0.85zM478.1 48.6h0.85v0.85h-0.85zM463.7 51.8h0.85v0.85h-0.85zM489.3 46.3h0.85v0.85h-0.85zM481.4 61.4h0.85v0.85h-0.85zM489.5 57.0h0.85v0.85h-0.85zM466.9 59.7h0.85v0.85h-0.85zM498.8 46.6h0.85v0.85h-0.85zM467.0 50.4h0.85v0.85h-0.85zM463.8 55.6h0.85v0.85h-0.85zM496.6 53.9h0.85v0.85h-0.85zM496.7 48.7h0.85v0.85h-0.85zM481.3 49.1h0.85v0.85h-0.85zM474.1 59.4h0.85v0.85h-0.85zM477.2 62.3h0.85v0.85h-0.85zM485.7 68.0h0.85v0.85h-0.85zM471.5 52.2h0.85v0.85h-0.85zM463.7 60.8h0.85v0.85h-0.85zM482.2 61.6h0.85v0.85h-0.85zM472.7 57.0h0.85v0.85h-0.85zM489.5 56.0h0.85v0.85h-0.85zM480.3 54.8h0.85v0.85h-0.85zM498.7 62.1h0.85v0.85h-0.85zM466.8 62.2h0.85v0.85h-0.85zM479.9 47.8h0.85v0.85h-0.85zM473.8 52.2h0.85v0.85h-0.85zM464.9 47.7h0.85v0.85h-0.85zM496.5 56.4h0.85v0.85h-0.85zM498.3 50.6h0.85v0.85h-0.85zM467.3 57.8h0.85v0.85h-0.85zM496.7 66.7h0.85v0.85h-0.85zM478.1 50.7h0.85v0.85h-0.85zM476.2 64.0h0.85v0.85h-0.85zM481.1 56.9h0.85v0.85h-0.85zM463.5 53.6h0.85v0.85h-0.85zM476.0 53.7h0.85v0.85h-0.85zM482.5 54.0h0.85v0.85h-0.85zM466.2 60.9h0.85v0.85h-0.85zM469.5 71.0h0.85v0.85h-0.85zM494.1 55.9h0.85v0.85h-0.85zM496.9 52.4h0.85v0.85h-0.85zM477.8 65.2h0.85v0.85h-0.85zM497.0 60.9h0.85v0.85h-0.85zM475.9 48.8h0.85v0.85h-0.85zM480.2 62.3h0.85v0.85h-0.85zM487.8 52.5h0.85v0.85h-0.85zM487.2 57.2h0.85v0.85h-0.85zM478.6 61.3h0.85v0.85h-0.85zM485.5 50.5h0.85v0.85h-0.85zM481.6 53.6h0.85v0.85h-0.85zM484.8 59.0h0.85v0.85h-0.85zM468.0 42.7h0.85v0.85h-0.85zM491.5 51.8h0.85v0.85h-0.85zM473.8 39.6h0.85v0.85h-0.85zM483.1 56.7h0.85v0.85h-0.85zM464.8 53.4h0.85v0.85h-0.85zM479.5 46.0h0.85v0.85h-0.85zM473.8 48.6h0.85v0.85h-0.85zM464.4 40.0h0.85v0.85h-0.85zM476.5 53.6h0.85v0.85h-0.85zM494.2 47.1h0.85v0.85h-0.85zM487.9 55.0h0.85v0.85h-0.85zM473.9 62.0h0.85v0.85h-0.85zM497.5 50.4h0.85v0.85h-0.85zM498.0 45.4h0.85v0.85h-0.85zM490.3 65.2h0.85v0.85h-0.85zM467.5 49.3h0.85v0.85h-0.85zM476.8 64.0h0.85v0.85h-0.85zM484.2 58.4h0.85v0.85h-0.85zM484.4 64.5h0.85v0.85h-0.85zM484.4 50.7h0.85v0.85h-0.85zM488.2 40.4h0.85v0.85h-0.85zM481.8 50.2h0.85v0.85h-0.85zM478.1 55.7h0.85v0.85h-0.85zM475.4 69.7h0.85v0.85h-0.85zM483.9 47.5h0.85v0.85h-0.85zM483.4 58.8h0.85v0.85h-0.85zM463.1 43.5h0.85v0.85h-0.85zM465.1 51.7h0.85v0.85h-0.85zM498.2 63.9h0.85v0.85h-0.85zM493.3 62.9h0.85v0.85h-0.85zM498.1 58.5h0.85v0.85h-0.85zM475.5 55.5h0.85v0.85h-0.85zM481.0 58.8h0.85v0.85h-0.85zM478.8 62.8h0.85v0.85h-0.85zM464.1 53.6h0.85v0.85h-0.85zM482.5 53.6h0.85v0.85h-0.85zM463.7 56.1h0.85v0.85h-0.85zM489.3 57.5h0.85v0.85h-0.85zM468.0 40.0h0.85v0.85h-0.85zM474.6 52.6h0.85v0.85h-0.85zM463.8 51.8h0.85v0.85h-0.85zM497.0 54.1h0.85v0.85h-0.85zM486.6 49.1h0.85v0.85h-0.85zM480.6 63.3h0.85v0.85h-0.85zM481.4 61.0h0.85v0.85h-0.85zM471.8 55.4h0.85v0.85h-0.85zM487.3 61.6h0.85v0.85h-0.85zM490.6 65.8h0.85v0.85h-0.85zM484.0 57.8h0.85v0.85h-0.85zM477.8 60.1h0.85v0.85h-0.85zM491.3 63.8h0.85v0.85h-0.85zM474.7 49.1h0.85v0.85h-0.85zM476.7 42.6h0.85v0.85h-0.85zM469.7 72.1h0.85v0.85h-0.85zM494.3 41.0h0.85v0.85h-0.85zM496.5 43.6h0.85v0.85h-0.85zM491.6 52.8h0.85v0.85h-0.85zM483.8 49.7h0.85v0.85h-0.85zM470.7 55.9h0.85v0.85h-0.85zM492.2 68.3h0.85v0.85h-0.85zM484.6 61.8h0.85v0.85h-0.85zM493.4 37.3h0.85v0.85h-0.85zM487.4 49.9h0.85v0.85h-0.85zM485.5 56.7h0.85v0.85h-0.85zM492.8 53.6h0.85v0.85h-0.85zM492.4 38.0h0.85v0.85h-0.85zM496.6 49.5h0.85v0.85h-0.85zM478.9 64.0h0.85v0.85h-0.85zM486.7 54.7h0.85v0.85h-0.85zM487.0 50.1h0.85v0.85h-0.85zM469.9 43.5h0.85v0.85h-0.85zM478.8 63.2h0.85v0.85h-0.85zM484.7 75.8h0.85v0.85h-0.85zM483.5 48.2h0.85v0.85h-0.85zM475.4 63.3h0.85v0.85h-0.85zM474.0 55.5h0.85v0.85h-0.85zM493.5 45.8h0.85v0.85h-0.85zM474.7 42.6h0.85v0.85h-0.85zM491.2 57.9h0.85v0.85h-0.85zM467.8 54.0h0.85v0.85h-0.85zM465.1 48.9h0.85v0.85h-0.85zM477.5 57.1h0.85v0.85h-0.85zM481.9 58.8h0.85v0.85h-0.85zM463.0 76.7h0.85v0.85h-0.85zM470.5 54.0h0.85v0.85h-0.85zM483.9 48.8h0.85v0.85h-0.85zM490.4 46.4h0.85v0.85h-0.85zM480.7 59.4h0.85v0.85h-0.85zM482.4 62.0h0.85v0.85h-0.85zM479.0 53.7h0.85v0.85h-0.85zM487.4 63.5h0.85v0.85h-0.85zM493.5 56.2h0.85v0.85h-0.85zM479.8 53.3h0.85v0.85h-0.85zM466.3 51.1h0.85v0.85h-0.85zM497.0 55.7h0.85v0.85h-0.85zM492.9 57.3h0.85v0.85h-0.85zM473.2 52.3h0.85v0.85h-0.85zM483.1 46.4h0.85v0.85h-0.85zM484.1 46.2h0.85v0.85h-0.85zM482.6 65.1h0.85v0.85h-0.85zM467.1 50.5h0.85v0.85h-0.85zM481.0 70.8h0.85v0.85h-0.85zM464.1 43.6h0.85v0.85h-0.85zM465.1 54.6h0.85v0.85h-0.85zM465.6 52.6h0.85v0.85h-0.85zM471.3 44.0h0.85v0.85h-0.85zM465.0 40.0h0.85v0.85h-0.85zM485.6 47.7h0.85v0.85h-0.85zM472.6 65.1h0.85v0.85h-0.85zM494.3 47.3h0.85v0.85h-0.85zM497.7 57.6h0.85v0.85h-0.85zM482.0 58.2h0.85v0.85h-0.85zM474.9 59.9h0.85v0.85h-0.85zM469.4 49.0h0.85v0.85h-0.85zM477.0 37.1h0.85v0.85h-0.85zM490.3 58.3h0.85v0.85h-0.85zM474.8 60.6h0.85v0.85h-0.85zM475.1 63.8h0.85v0.85h-0.85zM493.0 60.9h0.85v0.85h-0.85zM466.3 65.0h0.85v0.85h-0.85zM492.1 63.4h0.85v0.85h-0.85zM481.4 58.2h0.85v0.85h-0.85zM487.5 62.4h0.85v0.85h-0.85zM464.1 47.4h0.85v0.85h-0.85zM477.9 56.6h0.85v0.85h-0.85zM466.1 46.1h0.85v0.85h-0.85zM480.8 49.5h0.85v0.85h-0.85zM496.1 56.1h0.85v0.85h-0.85zM492.1 66.7h0.85v0.85h-0.85zM483.2 53.2h0.85v0.85h-0.85zM466.7 60.4h0.85v0.85h-0.85zM474.7 55.4h0.85v0.85h-0.85zM496.3 66.3h0.85v0.85h-0.85zM483.7 60.9h0.85v0.85h-0.85zM475.9 50.6h0.85v0.85h-0.85zM478.5 63.3h0.85v0.85h-0.85zM497.0 57.7h0.85v0.85h-0.85zM481.8 54.0h0.85v0.85h-0.85zM471.6 69.5h0.85v0.85h-0.85zM474.5 55.1h0.85v0.85h-0.85zM472.7 49.6h0.85v0.85h-0.85zM491.0 36.6h0.85v0.85h-0.85zM485.8 42.0h0.85v0.85h-0.85zM497.1 62.5h0.85v0.85h-0.85zM494.6 63.3h0.85v0.85h-0.85zM492.8 44.8h0.85v0.85h-0.85zM473.7 44.7h0.85v0.85h-0.85zM463.8 62.9h0.85v0.85h-0.85zM493.5 39.7h0.85v0.85h-0.85zM463.1 49.5h0.85v0.85h-0.85zM487.0 46.8h0.85v0.85h-0.85zM464.3 52.5h0.85v0.85h-0.85zM489.3 64.4h0.85v0.85h-0.85zM488.2 70.5h0.85v0.85h-0.85zM486.1 40.4h0.85v0.85h-0.85zM476.5 45.8h0.85v0.85h-0.85zM468.5 76.5h0.85v0.85h-0.85zM467.0 61.4h0.85v0.85h-0.85zM467.5 72.3h0.85v0.85h-0.85zM485.3 71.4h0.85v0.85h-0.85zM464.9 55.9h0.85v0.85h-0.85zM492.2 48.5h0.85v0.85h-0.85zM478.9 63.0h0.85v0.85h-0.85zM487.4 59.0h0.85v0.85h-0.85zM491.9 68.6h0.85v0.85h-0.85zM483.7 59.3h0.85v0.85h-0.85zM476.5 76.4h0.85v0.85h-0.85zM468.2 41.4h0.85v0.85h-0.85zM463.2 40.8h0.85v0.85h-0.85zM482.3 51.0h0.85v0.85h-0.85zM470.3 45.4h0.85v0.85h-0.85zM486.4 56.1h0.85v0.85h-0.85zM482.4 49.1h0.85v0.85h-0.85zM480.4 66.4h0.85v0.85h-0.85zM486.6 56.5h0.85v0.85h-0.85zM483.0 59.0h0.85v0.85h-0.85zM466.1 50.5h0.85v0.85h-0.85zM487.3 55.1h0.85v0.85h-0.85zM487.1 51.9h0.85v0.85h-0.85zM471.9 47.1h0.85v0.85h-0.85zM497.7 57.5h0.85v0.85h-0.85zM483.7 38.2h0.85v0.85h-0.85zM466.3 51.0h0.85v0.85h-0.85zM464.5 49.5h0.85v0.85h-0.85zM470.8 65.2h0.85v0.85h-0.85zM474.1 52.3h0.85v0.85h-0.85zM482.7 39.8h0.85v0.85h-0.85zM489.4 53.6h0.85v0.85h-0.85zM480.9 58.0h0.85v0.85h-0.85zM468.7 58.9h0.85v0.85h-0.85zM486.3 62.4h0.85v0.85h-0.85zM491.1 61.7h0.85v0.85h-0.85zM483.6 59.3h0.85v0.85h-0.85zM472.1 66.9h0.85v0.85h-0.85zM487.1 52.1h0.85v0.85h-0.85zM466.9 59.7h0.85v0.85h-0.85zM494.0 56.8h0.85v0.85h-0.85zM492.8 58.5h0.85v0.85h-0.85zM475.6 59.4h0.85v0.85h-0.85zM488.1 52.5h0.85v0.85h-0.85zM489.5 53.0h0.85v0.85h-0.85zM470.1 55.5h0.85v0.85h-0.85zM488.0 35.9h0.85v0.85h-0.85zM482.3 58.1h0.85v0.85h-0.85zM467.9 63.2h0.85v0.85h-0.85zM472.2 53.3h0.85v0.85h-0.85zM482.8 51.7h0.85v0.85h-0.85zM472.6 53.1h0.85v0.85h-0.85zM486.3 64.5h0.85v0.85h-0.85zM495.8 50.6h0.85v0.85h-0.85zM490.4 63.7h0.85v0.85h-0.85zM489.5 42.6h0.85v0.85h-0.85zM489.1 49.6h0.85v0.85h-0.85zM487.3 68.0h0.85v0.85h-0.85zM470.6 50.2h0.85v0.85h-0.85zM485.8 42.6h0.85v0.85h-0.85zM488.3 57.3h0.85v0.85h-0.85zM494.6 50.8h0.85v0.85h-0.85zM498.3 54.3h0.85v0.85h-0.85zM477.9 59.6h0.85v0.85h-0.85zM498.8 50.8h0.85v0.85h-0.85zM481.1 58.7h0.85v0.85h-0.85zM470.2 52.6h0.85v0.85h-0.85zM499.0 55.2h0.85v0.85h-0.85zM466.1 52.6h0.85v0.85h-0.85zM483.7 43.2h0.85v0.85h-0.85zM488.0 47.4h0.85v0.85h-0.85zM490.4 49.2h0.85v0.85h-0.85zM498.7 61.4h0.85v0.85h-0.85zM486.4 47.7h0.85v0.85h-0.85zM490.9 46.2h0.85v0.85h-0.85zM486.2 56.2h0.85v0.85h-0.85zM497.8 61.0h0.85v0.85h-0.85zM479.5 55.7h0.85v0.85h-0.85zM473.7 52.1h0.85v0.85h-0.85zM473.7 41.7h0.85v0.85h-0.85zM482.4 58.5h0.85v0.85h-0.85zM470.7 64.2h0.85v0.85h-0.85zM469.2 52.6h0.85v0.85h-0.85zM484.6 56.8h0.85v0.85h-0.85zM493.0 47.7h0.85v0.85h-0.85zM470.3 49.2h0.85v0.85h-0.85zM464.0 56.1h0.85v0.85h-0.85zM472.3 53.6h0.85v0.85h-0.85zM464.9 59.2h0.85v0.85h-0.85zM483.6 56.6h0.85v0.85h-0.85zM468.2 50.9h0.85v0.85h-0.85zM478.4 49.6h0.85v0.85h-0.85zM490.8 59.4h0.85v0.85h-0.85zM472.0 44.7h0.85v0.85h-0.85zM493.2 59.1h0.85v0.85h-0.85zM474.6 51.8h0.85v0.85h-0.85zM468.5 43.0h0.85v0.85h-0.85zM478.1 46.8h0.85v0.85h-0.85zM496.4 51.5h0.85v0.85h-0.85zM497.2 75.7h0.85v0.85h-0.85zM484.9 53.5h0.85v0.85h-0.85zM485.5 44.0h0.85v0.85h-0.85zM476.6 62.8h0.85v0.85h-0.85zM480.0 45.7h0.85v0.85h-0.85zM473.9 43.1h0.85v0.85h-0.85zM494.9 57.7h0.85v0.85h-0.85zM480.0 63.2h0.85v0.85h-0.85zM483.3 71.7h0.85v0.85h-0.85zM468.6 57.7h0.85v0.85h-0.85zM494.5 48.1h0.85v0.85h-0.85zM475.2 55.2h0.85v0.85h-0.85zM497.3 66.3h0.85v0.85h-0.85zM486.5 68.6h0.85v0.85h-0.85zM470.6 47.8h0.85v0.85h-0.85zM491.3 69.2h0.85v0.85h-0.85zM466.1 53.0h0.85v0.85h-0.85zM476.1 44.8h0.85v0.85h-0.85zM497.9 60.7h0.85v0.85h-0.85zM483.5 56.1h0.85v0.85h-0.85zM479.1 42.4h0.85v0.85h-0.85zM483.6 46.6h0.85v0.85h-0.85zM470.8 55.2h0.85v0.85h-0.85zM481.9 58.7h0.85v0.85h-0.85zM491.9 45.3h0.85v0.85h-0.85zM470.8 64.3h0.85v0.85h-0.85zM481.8 47.5h0.85v0.85h-0.85zM485.9 46.7h0.85v0.85h-0.85zM494.7 60.9h0.85v0.85h-0.85zM472.0 65.3h0.85v0.85h-0.85zM477.9 52.1h0.85v0.85h-0.85zM479.9 53.0h0.85v0.85h-0.85zM486.6 57.8h0.85v0.85h-0.85zM492.8 64.4h0.85v0.85h-0.85zM478.1 51.2h0.85v0.85h-0.85zM481.6 53.2h0.85v0.85h-0.85zM464.4 49.6h0.85v0.85h-0.85zM498.6 40.6h0.85v0.85h-0.85zM495.7 60.5h0.85v0.85h-0.85zM468.7 51.3h0.85v0.85h-0.85zM465.4 63.3h0.85v0.85h-0.85zM466.0 50.6h0.85v0.85h-0.85zM495.2 66.2h0.85v0.85h-0.85zM493.6 56.8h0.85v0.85h-0.85zM480.7 63.5h0.85v0.85h-0.85zM472.7 43.9h0.85v0.85h-0.85zM488.3 49.1h0.85v0.85h-0.85zM464.2 50.0h0.85v0.85h-0.85zM476.4 70.8h0.85v0.85h-0.85zM497.4 58.6h0.85v0.85h-0.85zM465.8 50.6h0.85v0.85h-0.85zM477.1 35.8h0.85v0.85h-0.85zM463.6 46.5h0.85v0.85h-0.85zM494.8 66.2h0.85v0.85h-0.85zM482.0 50.6h0.85v0.85h-0.85zM492.8 59.9h0.85v0.85h-0.85zM480.8 40.6h0.85v0.85h-0.85zM467.1 58.2h0.85v0.85h-0.85zM469.3 63.8h0.85v0.85h-0.85zM475.6 58.5h0.85v0.85h-0.85zM465.3 46.3h0.85v0.85h-0.85zM473.9 45.6h0.85v0.85h-0.85zM467.0 59.8h0.85v0.85h-0.85zM489.0 45.7h0.85v0.85h-0.85zM492.6 42.5h0.85v0.85h-0.85zM488.2 56.0h0.85v0.85h-0.85zM469.0 45.2h0.85v0.85h-0.85zM496.0 44.7h0.85v0.85h-0.85zM486.1 52.9h0.85v0.85h-0.85zM476.5 53.6h0.85v0.85h-0.85zM472.9 42.9h0.85v0.85h-0.85zM483.5 54.7h0.85v0.85h-0.85zM476.7 65.1h0.85v0.85h-0.85zM493.4 60.6h0.85v0.85h-0.85zM466.4 63.6h0.85v0.85h-0.85zM470.3 63.0h0.85v0.85h-0.85zM492.2 55.2h0.85v0.85h-0.85zM475.2 56.7h0.85v0.85h-0.85zM470.8 46.3h0.85v0.85h-0.85zM493.9 46.9h0.85v0.85h-0.85zM489.0 48.1h0.85v0.85h-0.85zM478.3 44.7h0.85v0.85h-0.85zM474.3 71.4h0.85v0.85h-0.85zM479.0 65.9h0.85v0.85h-0.85zM497.0 41.3h0.85v0.85h-0.85zM472.3 60.1h0.85v0.85h-0.85zM477.6 55.4h0.85v0.85h-0.85zM481.2 58.3h0.85v0.85h-0.85zM471.8 58.1h0.85v0.85h-0.85zM493.6 62.8h0.85v0.85h-0.85zM464.0 44.6h0.85v0.85h-0.85zM484.1 46.5h0.85v0.85h-0.85zM495.2 51.0h0.85v0.85h-0.85zM464.4 62.6h0.85v0.85h-0.85zM475.9 55.0h0.85v0.85h-0.85zM492.6 54.2h0.85v0.85h-0.85zM474.5 52.8h0.85v0.85h-0.85zM485.4 61.4h0.85v0.85h-0.85zM480.4 58.0h0.85v0.85h-0.85zM476.4 66.9h0.85v0.85h-0.85zM481.7 71.2h0.85v0.85h-0.85zM485.0 60.5h0.85v0.85h-0.85zM498.6 47.6h0.85v0.85h-0.85zM477.3 44.5h0.85v0.85h-0.85zM486.4 54.0h0.85v0.85h-0.85zM484.4 56.9h0.85v0.85h-0.85zM470.1 55.4h0.85v0.85h-0.85zM473.3 57.7h0.85v0.85h-0.85zM463.8 55.4h0.85v0.85h-0.85zM465.9 66.5h0.85v0.85h-0.85zM479.8 54.8h0.85v0.85h-0.85zM496.2 65.6h0.85v0.85h-0.85zM465.5 56.9h0.85v0.85h-0.85zM464.8 52.1h0.85v0.85h-0.85zM481.7 56.0h0.85v0.85h-0.85zM491.5 50.6h0.85v0.85h-0.85zM487.9 56.1h0.85v0.85h-0.85zM471.5 36.5h0.85v0.85h-0.85zM491.6 55.6h0.85v0.85h-0.85zM480.3 63.2h0.85v0.85h-0.85zM498.9 64.5h0.85v0.85h-0.85zM472.3 48.9h0.85v0.85h-0.85zM492.3 45.9h0.85v0.85h-0.85zM490.6 65.3h0.85v0.85h-0.85zM468.6 43.2h0.85v0.85h-0.85zM497.4 54.2h0.85v0.85h-0.85zM490.6 52.2h0.85v0.85h-0.85zM479.4 57.3h0.85v0.85h-0.85zM495.9 62.6h0.85v0.85h-0.85zM471.7 66.4h0.85v0.85h-0.85zM474.8 38.3h0.85v0.85h-0.85zM475.0 51.7h0.85v0.85h-0.85zM484.0 37.3h0.85v0.85h-0.85zM480.4 48.7h0.85v0.85h-0.85zM493.7 41.5h0.85v0.85h-0.85zM498.0 52.0h0.85v0.85h-0.85zM464.0 49.8h0.85v0.85h-0.85zM489.6 56.7h0.85v0.85h-0.85zM492.5 59.2h0.85v0.85h-0.85zM488.8 55.3h0.85v0.85h-0.85zM494.1 60.3h0.85v0.85h-0.85zM491.4 63.7h0.85v0.85h-0.85zM486.1 53.1h0.85v0.85h-0.85zM470.8 54.0h0.85v0.85h-0.85zM482.8 47.7h0.85v0.85h-0.85zM474.8 46.4h0.85v0.85h-0.85zM490.6 60.2h0.85v0.85h-0.85zM487.3 67.4h0.85v0.85h-0.85zM495.2 55.6h0.85v0.85h-0.85zM492.1 41.5h0.85v0.85h-0.85zM482.6 47.8h0.85v0.85h-0.85zM464.0 56.2h0.85v0.85h-0.85zM494.8 55.1h0.85v0.85h-0.85zM492.0 46.5h0.85v0.85h-0.85zM489.6 55.6h0.85v0.85h-0.85zM464.9 55.2h0.85v0.85h-0.85zM476.6 42.2h0.85v0.85h-0.85zM490.4 45.8h0.85v0.85h-0.85zM467.3 59.3h0.85v0.85h-0.85zM498.1 46.5h0.85v0.85h-0.85zM480.0 52.4h0.85v0.85h-0.85zM483.9 64.6h0.85v0.85h-0.85zM466.1 61.2h0.85v0.85h-0.85zM489.9 60.1h0.85v0.85h-0.85zM466.1 43.9h0.85v0.85h-0.85zM494.8 48.0h0.85v0.85h-0.85zM468.5 54.0h0.85v0.85h-0.85zM488.3 53.9h0.85v0.85h-0.85zM487.2 60.8h0.85v0.85h-0.85zM493.2 60.5h0.85v0.85h-0.85zM480.5 63.4h0.85v0.85h-0.85zM464.9 66.8h0.85v0.85h-0.85zM467.9 53.6h0.85v0.85h-0.85zM464.6 46.1h0.85v0.85h-0.85zM473.9 62.2h0.85v0.85h-0.85zM479.3 56.0h0.85v0.85h-0.85zM477.7 56.3h0.85v0.85h-0.85zM478.6 50.7h0.85v0.85h-0.85zM486.7 53.5h0.85v0.85h-0.85zM492.1 74.6h0.85v0.85h-0.85zM491.7 39.1h0.85v0.85h-0.85zM480.7 60.8h0.85v0.85h-0.85zM471.6 57.5h0.85v0.85h-0.85zM470.6 60.5h0.85v0.85h-0.85zM469.2 50.7h0.85v0.85h-0.85zM484.0 55.0h0.85v0.85h-0.85zM494.2 51.1h0.85v0.85h-0.85zM467.0 52.7h0.85v0.85h-0.85zM469.8 51.2h0.85v0.85h-0.85zM486.1 68.9h0.85v0.85h-0.85zM483.4 64.0h0.85v0.85h-0.85zM466.3 59.9h0.85v0.85h-0.85zM470.0 58.6h0.85v0.85h-0.85zM494.9 50.3h0.85v0.85h-0.85zM479.5 42.4h0.85v0.85h-0.85zM479.7 57.9h0.85v0.85h-0.85zM465.7 47.1h0.85v0.85h-0.85zM475.8 50.1h0.85v0.85h-0.85zM478.4 46.9h0.85v0.85h-0.85zM476.2 50.8h0.85v0.85h-0.85zM484.6 50.3h0.85v0.85h-0.85zM467.3 65.7h0.85v0.85h-0.85zM485.5 67.3h0.85v0.85h-0.85zM490.7 54.8h0.85v0.85h-0.85zM473.5 59.6h0.85v0.85h-0.85zM470.5 54.5h0.85v0.85h-0.85zM482.7 57.3h0.85v0.85h-0.85zM481.3 51.1h0.85v0.85h-0.85zM475.0 58.1h0.85v0.85h-0.85zM497.2 41.5h0.85v0.85h-0.85zM463.7 70.5h0.85v0.85h-0.85zM484.0 56.1h0.85v0.85h-0.85zM495.6 55.0h0.85v0.85h-0.85zM488.6 59.4h0.85v0.85h-0.85zM497.9 56.2h0.85v0.85h-0.85zM489.7 61.6h0.85v0.85h-0.85zM496.1 45.4h0.85v0.85h-0.85zM481.7 49.2h0.85v0.85h-0.85zM484.2 65.7h0.85v0.85h-0.85zM475.9 57.1h0.85v0.85h-0.85zM491.4 48.6h0.85v0.85h-0.85zM493.4 43.2h0.85v0.85h-0.85zM473.1 70.0h0.85v0.85h-0.85zM464.4 63.6h0.85v0.85h-0.85zM485.4 59.7h0.85v0.85h-0.85zM495.5 42.4h0.85v0.85h-0.85zM478.8 49.4h0.85v0.85h-0.85zM472.9 44.8h0.85v0.85h-0.85zM463.3 38.4h0.85v0.85h-0.85zM471.8 49.7h0.85v0.85h-0.85zM482.0 51.2h0.85v0.85h-0.85zM471.6 72.5h0.85v0.85h-0.85zM476.8 43.2h0.85v0.85h-0.85zM473.5 63.1h0.85v0.85h-0.85zM463.4 57.5h0.85v0.85h-0.85zM475.4 60.7h0.85v0.85h-0.85zM492.2 55.8h0.85v0.85h-0.85zM483.4 63.0h0.85v0.85h-0.85zM468.6 53.9h0.85v0.85h-0.85zM487.7 64.7h0.85v0.85h-0.85zM465.1 61.0h0.85v0.85h-0.85zM480.5 46.6h0.85v0.85h-0.85zM497.3 53.0h0.85v0.85h-0.85zM485.2 70.3h0.85v0.85h-0.85zM488.6 69.6h0.85v0.85h-0.85zM485.9 47.7h0.85v0.85h-0.85zM475.2 57.9h0.85v0.85h-0.85zM497.3 69.2h0.85v0.85h-0.85zM481.5 59.3h0.85v0.85h-0.85zM484.1 49.6h0.85v0.85h-0.85zM474.3 60.6h0.85v0.85h-0.85zM486.2 56.5h0.85v0.85h-0.85zM467.3 40.9h0.85v0.85h-0.85zM473.2 59.3h0.85v0.85h-0.85zM484.2 56.7h0.85v0.85h-0.85zM489.0 60.7h0.85v0.85h-0.85zM488.3 70.6h0.85v0.85h-0.85zM467.9 70.6h0.85v0.85h-0.85zM480.2 68.7h0.85v0.85h-0.85zM485.9 69.3h0.85v0.85h-0.85zM478.6 47.0h0.85v0.85h-0.85zM473.8 46.2h0.85v0.85h-0.85zM484.3 58.3h0.85v0.85h-0.85zM484.4 55.1h0.85v0.85h-0.85zM469.0 59.0h0.85v0.85h-0.85zM495.2 51.2h0.85v0.85h-0.85zM469.6 60.2h0.85v0.85h-0.85zM473.9 68.9h0.85v0.85h-0.85zM487.4 54.2h0.85v0.85h-0.85zM465.1 54.3h0.85v0.85h-0.85zM494.2 50.7h0.85v0.85h-0.85zM493.1 37.4h0.85v0.85h-0.85zM476.3 53.2h0.85v0.85h-0.85zM492.5 53.2h0.85v0.85h-0.85zM482.1 57.3h0.85v0.85h-0.85zM475.5 49.1h0.85v0.85h-0.85zM498.2 67.0h0.85v0.85h-0.85zM480.1 64.1h0.85v0.85h-0.85zM479.7 71.4h0.85v0.85h-0.85zM486.5 50.3h0.85v0.85h-0.85zM492.1 61.0h0.85v0.85h-0.85zM464.2 59.2h0.85v0.85h-0.85zM489.2 58.8h0.85v0.85h-0.85zM492.3 55.3h0.85v0.85h-0.85zM493.1 64.5h0.85v0.85h-0.85zM476.5 52.7h0.85v0.85h-0.85zM463.7 54.0h0.85v0.85h-0.85zM469.5 77.0h0.85v0.85h-0.85zM467.2 53.3h0.85v0.85h-0.85zM488.6 64.0h0.85v0.85h-0.85zM477.9 57.1h0.85v0.85h-0.85zM468.8 62.6h0.85v0.85h-0.85zM476.7 56.1h0.85v0.85h-0.85zM473.2 64.1h0.85v0.85h-0.85zM492.7 66.0h0.85v0.85h-0.85zM498.3 54.7h0.85v0.85h-0.85zM496.2 51.5h0.85v0.85h-0.85zM473.5 50.6h0.85v0.85h-0.85zM497.5 48.2h0.85v0.85h-0.85zM470.6 68.7h0.85v0.85h-0.85zM487.2 71.5h0.85v0.85h-0.85zM471.6 40.2h0.85v0.85h-0.85zM473.0 49.0h0.85v0.85h-0.85zM486.4 57.0h0.85v0.85h-0.85zM479.5 63.5h0.85v0.85h-0.85zM464.4 45.6h0.85v0.85h-0.85zM479.2 51.1h0.85v0.85h-0.85zM470.1 56.9h0.85v0.85h-0.85zM479.7 63.2h0.85v0.85h-0.85zM464.4 48.1h0.85v0.85h-0.85zM496.0 64.4h0.85v0.85h-0.85zM493.0 48.2h0.85v0.85h-0.85zM491.0 63.6h0.85v0.85h-0.85zM468.5 50.3h0.85v0.85h-0.85zM468.3 52.7h0.85v0.85h-0.85zM480.9 62.3h0.85v0.85h-0.85zM465.3 59.2h0.85v0.85h-0.85zM493.3 62.0h0.85v0.85h-0.85zM480.9 54.3h0.85v0.85h-0.85zM474.3 53.4h0.85v0.85h-0.85zM470.9 66.1h0.85v0.85h-0.85zM490.9 71.7h0.85v0.85h-0.85zM474.2 59.3h0.85v0.85h-0.85zM495.6 59.3h0.85v0.85h-0.85zM473.2 49.0h0.85v0.85h-0.85zM475.5 71.5h0.85v0.85h-0.85zM498.9 52.4h0.85v0.85h-0.85zM492.4 59.1h0.85v0.85h-0.85zM496.1 67.3h0.85v0.85h-0.85zM480.9 52.6h0.85v0.85h-0.85zM487.6 43.8h0.85v0.85h-0.85zM475.9 51.5h0.85v0.85h-0.85zM467.7 55.4h0.85v0.85h-0.85zM483.3 42.8h0.85v0.85h-0.85zM491.1 64.9h0.85v0.85h-0.85zM473.9 75.5h0.85v0.85h-0.85zM470.4 52.7h0.85v0.85h-0.85zM491.3 55.2h0.85v0.85h-0.85zM487.7 69.9h0.85v0.85h-0.85zM494.9 58.7h0.85v0.85h-0.85zM487.3 45.8h0.85v0.85h-0.85zM495.8 60.2h0.85v0.85h-0.85zM495.5 49.9h0.85v0.85h-0.85zM489.9 66.5h0.85v0.85h-0.85zM477.6 49.6h0.85v0.85h-0.85zM492.0 67.7h0.85v0.85h-0.85zM466.6 44.4h0.85v0.85h-0.85zM480.8 53.5h0.85v0.85h-0.85zM488.6 37.2h0.85v0.85h-0.85zM464.8 77.3h0.85v0.85h-0.85zM463.8 55.6h0.85v0.85h-0.85zM479.6 52.7h0.85v0.85h-0.85zM496.3 58.9h0.85v0.85h-0.85zM478.7 56.6h0.85v0.85h-0.85zM480.4 59.5h0.85v0.85h-0.85zM472.5 75.1h0.85v0.85h-0.85zM494.8 69.4h0.85v0.85h-0.85zM485.6 51.6h0.85v0.85h-0.85zM480.7 58.2h0.85v0.85h-0.85zM483.6 54.7h0.85v0.85h-0.85zM484.2 59.8h0.85v0.85h-0.85zM473.5 46.5h0.85v0.85h-0.85zM469.8 52.2h0.85v0.85h-0.85zM473.7 42.2h0.85v0.85h-0.85zM466.2 60.1h0.85v0.85h-0.85zM492.9 49.6h0.85v0.85h-0.85zM491.0 65.6h0.85v0.85h-0.85zM483.3 56.8h0.85v0.85h-0.85zM482.9 43.1h0.85v0.85h-0.85zM489.5 70.3h0.85v0.85h-0.85zM484.5 37.8h0.85v0.85h-0.85zM469.3 70.4h0.85v0.85h-0.85zM493.8 70.0h0.85v0.85h-0.85zM469.5 71.0h0.85v0.85h-0.85zM477.3 66.2h0.85v0.85h-0.85zM471.4 54.9h0.85v0.85h-0.85zM493.5 49.5h0.85v0.85h-0.85zM485.8 56.8h0.85v0.85h-0.85zM487.1 59.1h0.85v0.85h-0.85zM489.5 54.8h0.85v0.85h-0.85zM482.9 57.3h0.85v0.85h-0.85zM470.8 51.3h0.85v0.85h-0.85zM490.7 42.4h0.85v0.85h-0.85zM495.3 56.0h0.85v0.85h-0.85zM477.5 51.5h0.85v0.85h-0.85zM498.5 51.6h0.85v0.85h-0.85zM492.4 55.6h0.85v0.85h-0.85zM484.7 62.5h0.85v0.85h-0.85zM471.2 66.4h0.85v0.85h-0.85zM493.8 44.7h0.85v0.85h-0.85zM464.2 56.7h0.85v0.85h-0.85zM467.1 38.0h0.85v0.85h-0.85zM487.4 44.8h0.85v0.85h-0.85zM488.0 45.2h0.85v0.85h-0.85zM483.1 52.6h0.85v0.85h-0.85zM476.2 54.3h0.85v0.85h-0.85zM489.6 57.5h0.85v0.85h-0.85zM491.4 55.1h0.85v0.85h-0.85zM466.7 53.9h0.85v0.85h-0.85zM463.6 42.8h0.85v0.85h-0.85zM482.1 58.9h0.85v0.85h-0.85zM464.3 46.1h0.85v0.85h-0.85zM484.2 60.2h0.85v0.85h-0.85zM468.2 51.8h0.85v0.85h-0.85zM466.8 72.1h0.85v0.85h-0.85zM489.4 46.0h0.85v0.85h-0.85zM464.5 59.0h0.85v0.85h-0.85zM466.7 64.2h0.85v0.85h-0.85zM486.7 50.8h0.85v0.85h-0.85zM492.7 52.1h0.85v0.85h-0.85zM483.0 69.5h0.85v0.85h-0.85zM487.2 63.4h0.85v0.85h-0.85zM483.1 57.9h0.85v0.85h-0.85zM475.2 50.3h0.85v0.85h-0.85zM494.8 50.5h0.85v0.85h-0.85zM464.4 41.2h0.85v0.85h-0.85zM471.1 69.6h0.85v0.85h-0.85zM475.7 55.7h0.85v0.85h-0.85zM486.6 60.8h0.85v0.85h-0.85zM480.7 67.3h0.85v0.85h-0.85zM481.0 62.4h0.85v0.85h-0.85zM489.6 54.3h0.85v0.85h-0.85zM489.9 67.7h0.85v0.85h-0.85zM464.2 39.7h0.85v0.85h-0.85zM494.0 66.8h0.85v0.85h-0.85zM475.4 60.0h0.85v0.85h-0.85zM480.5 55.1h0.85v0.85h-0.85zM470.2 61.6h0.85v0.85h-0.85zM497.3 65.6h0.85v0.85h-0.85zM468.8 50.0h0.85v0.85h-0.85zM486.4 58.5h0.85v0.85h-0.85zM475.2 52.7h0.85v0.85h-0.85zM484.6 55.0h0.85v0.85h-0.85zM488.8 63.2h0.85v0.85h-0.85zM466.5 52.4h0.85v0.85h-0.85zM471.4 47.2h0.85v0.85h-0.85zM477.1 53.6h0.85v0.85h-0.85zM494.3 69.7h0.85v0.85h-0.85zM482.7 67.7h0.85v0.85h-0.85zM492.9 63.1h0.85v0.85h-0.85zM480.9 69.8h0.85v0.85h-0.85zM474.7 54.7h0.85v0.85h-0.85zM481.0 50.7h0.85v0.85h-0.85zM497.8 49.2h0.85v0.85h-0.85zM482.2 59.6h0.85v0.85h-0.85zM484.7 60.2h0.85v0.85h-0.85zM485.6 45.7h0.85v0.85h-0.85zM463.4 77.2h0.85v0.85h-0.85zM469.1 63.2h0.85v0.85h-0.85zM471.3 42.5h0.85v0.85h-0.85zM494.5 40.1h0.85v0.85h-0.85zM471.2 57.3h0.85v0.85h-0.85zM486.9 56.8h0.85v0.85h-0.85zM488.1 45.1h0.85v0.85h-0.85zM465.3 54.8h0.85v0.85h-0.85zM492.4 54.4h0.85v0.85h-0.85zM495.8 53.3h0.85v0.85h-0.85zM476.8 65.4h0.85v0.85h-0.85zM466.8 43.3h0.85v0.85h-0.85zM486.8 53.4h0.85v0.85h-0.85zM480.0 43.3h0.85v0.85h-0.85zM490.6 55.1h0.85v0.85h-0.85zM491.5 56.1h0.85v0.85h-0.85zM477.7 73.5h0.85v0.85h-0.85zM489.8 46.2h0.85v0.85h-0.85zM493.9 56.2h0.85v0.85h-0.85zM476.6 53.0h0.85v0.85h-0.85zM496.2 55.0h0.85v0.85h-0.85zM471.9 48.2h0.85v0.85h-0.85zM498.9 43.9h0.85v0.85h-0.85zM466.5 48.5h0.85v0.85h-0.85zM482.8 47.4h0.85v0.85h-0.85zM492.8 62.6h0.85v0.85h-0.85zM492.3 52.7h0.85v0.85h-0.85zM482.9 66.9h0.85v0.85h-0.85zM497.0 46.6h0.85v0.85h-0.85zM463.1 38.7h0.85v0.85h-0.85zM477.8 49.3h0.85v0.85h-0.85zM482.0 51.1h0.85v0.85h-0.85zM472.9 72.4h0.85v0.85h-0.85zM468.9 44.7h0.85v0.85h-0.85zM470.5 61.7h0.85v0.85h-0.85zM473.6 51.6h0.85v0.85h-0.85zM472.1 49.0h0.85v0.85h-0.85zM473.6 62.8h0.85v0.85h-0.85zM484.4 49.3h0.85v0.85h-0.85zM496.3 71.0h0.85v0.85h-0.85zM476.9 60.5h0.85v0.85h-0.85zM493.2 61.9h0.85v0.85h-0.85zM470.2 53.2h0.85v0.85h-0.85zM470.6 58.7h0.85v0.85h-0.85zM465.0 63.7h0.85v0.85h-0.85zM498.7 48.6h0.85v0.85h-0.85zM477.0 54.5h0.85v0.85h-0.85zM478.5 47.4h0.85v0.85h-0.85zM472.9 52.3h0.85v0.85h-0.85zM486.5 56.5h0.85v0.85h-0.85zM466.4 38.7h0.85v0.85h-0.85zM476.8 55.1h0.85v0.85h-0.85zM478.8 49.4h0.85v0.85h-0.85zM481.2 61.8h0.85v0.85h-0.85zM484.0 44.5h0.85v0.85h-0.85zM485.1 51.5h0.85v0.85h-0.85zM488.0 52.4h0.85v0.85h-0.85zM493.5 64.3h0.85v0.85h-0.85zM464.2 54.6h0.85v0.85h-0.85zM482.0 68.1h0.85v0.85h-0.85zM480.1 62.0h0.85v0.85h-0.85zM469.0 46.6h0.85v0.85h-0.85zM483.2 43.1h0.85v0.85h-0.85zM481.1 52.5h0.85v0.85h-0.85zM488.0 59.5h0.85v0.85h-0.85zM463.6 52.8h0.85v0.85h-0.85zM487.4 45.2h0.85v0.85h-0.85zM463.4 58.2h0.85v0.85h-0.85zM467.8 51.5h0.85v0.85h-0.85zM471.4 46.7h0.85v0.85h-0.85zM484.2 56.1h0.85v0.85h-0.85zM466.2 52.2h0.85v0.85h-0.85zM471.8 40.0h0.85v0.85h-0.85zM470.8 52.7h0.85v0.85h-0.85zM469.7 57.5h0.85v0.85h-0.85zM484.3 46.9h0.85v0.85h-0.85zM464.8 41.0h0.85v0.85h-0.85zM491.3 59.3h0.85v0.85h-0.85zM481.0 62.7h0.85v0.85h-0.85zM484.0 51.9h0.85v0.85h-0.85zM478.2 55.3h0.85v0.85h-0.85zM492.9 47.0h0.85v0.85h-0.85zM498.9 54.0h0.85v0.85h-0.85zM498.0 41.4h0.85v0.85h-0.85zM484.7 50.5h0.85v0.85h-0.85zM475.6 55.3h0.85v0.85h-0.85zM484.1 47.9h0.85v0.85h-0.85zM483.7 52.2h0.85v0.85h-0.85zM492.5 54.0h0.85v0.85h-0.85zM483.1 64.5h0.85v0.85h-0.85zM483.7 48.9h0.85v0.85h-0.85zM496.7 41.4h0.85v0.85h-0.85zM490.2 46.9h0.85v0.85h-0.85zM487.6 47.0h0.85v0.85h-0.85zM480.8 57.3h0.85v0.85h-0.85zM466.1 64.2h0.85v0.85h-0.85zM489.4 42.7h0.85v0.85h-0.85zM481.1 54.3h0.85v0.85h-0.85zM483.5 57.4h0.85v0.85h-0.85zM466.5 50.7h0.85v0.85h-0.85zM467.7 51.8h0.85v0.85h-0.85zM494.6 46.0h0.85v0.85h-0.85zM465.5 63.4h0.85v0.85h-0.85zM473.3 58.6h0.85v0.85h-0.85zM495.4 44.0h0.85v0.85h-0.85zM488.6 55.1h0.85v0.85h-0.85zM496.4 42.1h0.85v0.85h-0.85zM496.7 56.6h0.85v0.85h-0.85zM484.8 60.9h0.85v0.85h-0.85zM487.4 36.7h0.85v0.85h-0.85zM495.5 50.1h0.85v0.85h-0.85zM464.5 51.2h0.85v0.85h-0.85zM481.3 71.6h0.85v0.85h-0.85zM496.5 58.4h0.85v0.85h-0.85zM473.9 59.3h0.85v0.85h-0.85zM490.0 52.5h0.85v0.85h-0.85zM470.4 55.0h0.85v0.85h-0.85zM495.7 59.4h0.85v0.85h-0.85zM478.8 55.2h0.85v0.85h-0.85zM482.2 59.0h0.85v0.85h-0.85zM481.0 52.8h0.85v0.85h-0.85zM464.0 43.4h0.85v0.85h-0.85zM482.5 56.4h0.85v0.85h-0.85zM498.9 54.7h0.85v0.85h-0.85zM494.3 41.5h0.85v0.85h-0.85zM493.1 45.3h0.85v0.85h-0.85zM477.3 49.1h0.85v0.85h-0.85zM473.2 66.1h0.85v0.85h-0.85zM467.8 59.0h0.85v0.85h-0.85zM471.8 67.7h0.85v0.85h-0.85zM465.3 57.1h0.85v0.85h-0.85zM473.6 67.0h0.85v0.85h-0.85zM464.6 50.1h0.85v0.85h-0.85zM473.5 57.8h0.85v0.85h-0.85zM472.7 46.3h0.85v0.85h-0.85zM470.5 57.2h0.85v0.85h-0.85zM498.1 53.7h0.85v0.85h-0.85zM497.9 41.7h0.85v0.85h-0.85zM478.3 63.7h0.85v0.85h-0.85zM486.4 54.7h0.85v0.85h-0.85zM468.6 58.0h0.85v0.85h-0.85zM490.2 40.0h0.85v0.85h-0.85zM489.6 61.5h0.85v0.85h-0.85zM463.6 49.5h0.85v0.85h-0.85zM490.9 60.8h0.85v0.85h-0.85zM469.4 45.1h0.85v0.85h-0.85zM468.7 64.8h0.85v0.85h-0.85zM483.7 51.8h0.85v0.85h-0.85zM468.4 55.3h0.85v0.85h-0.85zM497.8 50.4h0.85v0.85h-0.85zM464.3 40.5h0.85v0.85h-0.85zM463.1 53.1h0.85v0.85h-0.85zM466.6 64.9h0.85v0.85h-0.85zM488.4 65.4h0.85v0.85h-0.85zM471.2 51.8h0.85v0.85h-0.85zM466.8 65.8h0.85v0.85h-0.85zM464.2 53.8h0.85v0.85h-0.85zM497.2 45.0h0.85v0.85h-0.85zM489.9 54.2h0.85v0.85h-0.85zM468.8 55.4h0.85v0.85h-0.85zM465.0 63.7h0.85v0.85h-0.85zM494.9 36.6h0.85v0.85h-0.85zM481.0 65.2h0.85v0.85h-0.85zM478.2 62.3h0.85v0.85h-0.85zM498.9 60.2h0.85v0.85h-0.85zM482.4 43.3h0.85v0.85h-0.85zM495.1 41.9h0.85v0.85h-0.85zM464.8 63.6h0.85v0.85h-0.85zM484.8 52.5h0.85v0.85h-0.85zM488.5 63.5h0.85v0.85h-0.85zM490.5 45.0h0.85v0.85h-0.85zM472.1 60.6h0.85v0.85h-0.85zM467.0 59.5h0.85v0.85h-0.85zM479.3 43.7h0.85v0.85h-0.85zM495.9 52.4h0.85v0.85h-0.85zM480.4 70.1h0.85v0.85h-0.85zM471.9 48.4h0.85v0.85h-0.85zM495.0 64.4h0.85v0.85h-0.85zM490.3 54.9h0.85v0.85h-0.85zM493.8 46.9h0.85v0.85h-0.85zM466.1 50.2h0.85v0.85h-0.85zM481.2 46.0h0.85v0.85h-0.85zM475.2 69.8h0.85v0.85h-0.85zM468.5 41.6h0.85v0.85h-0.85zM491.0 44.6h0.85v0.85h-0.85zM465.0 54.9h0.85v0.85h-0.85zM464.3 63.1h0.85v0.85h-0.85zM492.0 43.6h0.85v0.85h-0.85zM476.4 47.3h0.85v0.85h-0.85zM464.6 52.7h0.85v0.85h-0.85zM464.9 51.7h0.85v0.85h-0.85zM479.6 55.1h0.85v0.85h-0.85zM468.6 49.2h0.85v0.85h-0.85zM481.3 54.4h0.85v0.85h-0.85zM472.1 60.8h0.85v0.85h-0.85zM463.7 44.8h0.85v0.85h-0.85zM474.3 40.9h0.85v0.85h-0.85zM486.0 48.3h0.85v0.85h-0.85zM465.9 55.7h0.85v0.85h-0.85zM496.4 77.0h0.85v0.85h-0.85zM466.0 61.8h0.85v0.85h-0.85zM488.0 59.0h0.85v0.85h-0.85zM486.4 38.6h0.85v0.85h-0.85zM472.4 60.1h0.85v0.85h-0.85zM493.5 49.6h0.85v0.85h-0.85zM475.9 48.5h0.85v0.85h-0.85zM483.9 61.3h0.85v0.85h-0.85zM492.9 64.8h0.85v0.85h-0.85zM489.2 59.4h0.85v0.85h-0.85zM486.9 56.1h0.85v0.85h-0.85zM482.5 39.1h0.85v0.85h-0.85zM490.1 52.7h0.85v0.85h-0.85zM477.4 61.8h0.85v0.85h-0.85zM467.3 52.8h0.85v0.85h-0.85zM493.8 41.9h0.85v0.85h-0.85zM475.7 51.5h0.85v0.85h-0.85zM494.6 59.3h0.85v0.85h-0.85zM494.9 48.2h0.85v0.85h-0.85zM470.1 52.8h0.85v0.85h-0.85zM466.8 58.1h0.85v0.85h-0.85zM470.2 50.2h0.85v0.85h-0.85zM498.9 53.5h0.85v0.85h-0.85zM479.8 49.2h0.85v0.85h-0.85zM484.9 48.3h0.85v0.85h-0.85zM497.4 58.7h0.85v0.85h-0.85zM474.6 59.4h0.85v0.85h-0.85zM469.1 52.8h0.85v0.85h-0.85zM485.3 42.4h0.85v0.85h-0.85zM481.6 58.2h0.85v0.85h-0.85zM463.1 61.6h0.85v0.85h-0.85zM479.5 60.9h0.85v0.85h-0.85zM472.1 60.7h0.85v0.85h-0.85zM477.7 54.8h0.85v0.85h-0.85zM493.3 52.8h0.85v0.85h-0.85zM478.9 59.4h0.85v0.85h-0.85zM483.2 60.1h0.85v0.85h-0.85zM487.9 60.0h0.85v0.85h-0.85zM477.3 47.6h0.85v0.85h-0.85zM486.5 39.4h0.85v0.85h-0.85zM474.6 58.0h0.85v0.85h-0.85zM477.6 57.7h0.85v0.85h-0.85zM494.9 57.2h0.85v0.85h-0.85zM495.3 59.4h0.85v0.85h-0.85zM487.9 41.9h0.85v0.85h-0.85zM481.5 49.5h0.85v0.85h-0.85zM480.3 60.3h0.85v0.85h-0.85zM470.2 50.8h0.85v0.85h-0.85zM493.2 53.4h0.85v0.85h-0.85zM466.6 67.0h0.85v0.85h-0.85zM469.8 61.3h0.85v0.85h-0.85zM466.3 50.7h0.85v0.85h-0.85zM470.3 57.4h0.85v0.85h-0.85zM470.7 48.8h0.85v0.85h-0.85zM484.2 58.6h0.85v0.85h-0.85zM482.3 43.6h0.85v0.85h-0.85zM473.1 41.0h0.85v0.85h-0.85zM466.5 67.8h0.85v0.85h-0.85zM473.3 63.5h0.85v0.85h-0.85zM492.2 47.4h0.85v0.85h-0.85zM485.1 59.1h0.85v0.85h-0.85zM483.1 55.5h0.85v0.85h-0.85zM473.9 64.5h0.85v0.85h-0.85zM477.4 61.4h0.85v0.85h-0.85zM471.9 56.5h0.85v0.85h-0.85zM463.2 54.6h0.85v0.85h-0.85zM478.2 57.0h0.85v0.85h-0.85zM487.0 72.6h0.85v0.85h-0.85zM479.4 51.3h0.85v0.85h-0.85zM482.0 57.1h0.85v0.85h-0.85zM468.9 61.7h0.85v0.85h-0.85zM497.5 47.9h0.85v0.85h-0.85zM485.6 68.0h0.85v0.85h-0.85zM483.8 39.0h0.85v0.85h-0.85zM472.0 53.3h0.85v0.85h-0.85zM483.8 51.4h0.85v0.85h-0.85zM487.9 54.6h0.85v0.85h-0.85zM487.9 44.3h0.85v0.85h-0.85zM468.8 51.9h0.85v0.85h-0.85zM489.9 57.6h0.85v0.85h-0.85zM477.2 48.2h0.85v0.85h-0.85zM465.8 62.6h0.85v0.85h-0.85zM491.1 38.5h0.85v0.85h-0.85zM480.3 53.8h0.85v0.85h-0.85zM471.0 68.6h0.85v0.85h-0.85zM468.9 47.2h0.85v0.85h-0.85zM490.6 55.7h0.85v0.85h-0.85zM495.2 52.0h0.85v0.85h-0.85zM484.4 50.3h0.85v0.85h-0.85zM479.5 60.6h0.85v0.85h-0.85zM497.7 44.0h0.85v0.85h-0.85zM478.8 59.4h0.85v0.85h-0.85zM494.4 43.3h0.85v0.85h-0.85zM476.3 52.8h0.85v0.85h-0.85zM480.5 61.5h0.85v0.85h-0.85zM485.7 50.1h0.85v0.85h-0.85zM471.3 55.3h0.85v0.85h-0.85zM467.9 73.8h0.85v0.85h-0.85zM479.8 56.3h0.85v0.85h-0.85zM467.3 57.3h0.85v0.85h-0.85zM481.4 60.5h0.85v0.85h-0.85zM498.5 59.9h0.85v0.85h-0.85zM490.7 55.0h0.85v0.85h-0.85zM470.8 52.7h0.85v0.85h-0.85zM469.7 56.9h0.85v0.85h-0.85zM487.7 57.9h0.85v0.85h-0.85zM498.8 66.2h0.85v0.85h-0.85zM486.2 55.6h0.85v0.85h-0.85zM492.6 61.7h0.85v0.85h-0.85zM496.1 71.4h0.85v0.85h-0.85zM465.5 41.1h0.85v0.85h-0.85zM496.9 53.1h0.85v0.85h-0.85zM484.7 52.8h0.85v0.85h-0.85zM481.3 53.6h0.85v0.85h-0.85zM486.1 66.8h0.85v0.85h-0.85zM478.9 52.6h0.85v0.85h-0.85zM489.1 56.5h0.85v0.85h-0.85zM470.4 68.9h0.85v0.85h-0.85zM467.8 37.0h0.85v0.85h-0.85zM467.9 44.3h0.85v0.85h-0.85zM487.8 45.2h0.85v0.85h-0.85zM493.8 55.1h0.85v0.85h-0.85zM477.9 59.3h0.85v0.85h-0.85zM496.3 47.6h0.85v0.85h-0.85zM492.6 66.6h0.85v0.85h-0.85zM482.6 68.6h0.85v0.85h-0.85zM489.0 48.3h0.85v0.85h-0.85zM482.4 50.3h0.85v0.85h-0.85zM487.0 46.3h0.85v0.85h-0.85zM466.8 60.3h0.85v0.85h-0.85zM483.3 51.2h0.85v0.85h-0.85zM473.5 62.9h0.85v0.85h-0.85zM481.2 64.3h0.85v0.85h-0.85zM482.0 55.1h0.85v0.85h-0.85zM484.6 47.9h0.85v0.85h-0.85zM494.9 57.7h0.85v0.85h-0.85zM469.3 59.2h0.85v0.85h-0.85zM489.8 55.4h0.85v0.85h-0.85zM494.1 47.9h0.85v0.85h-0.85zM496.5 64.0h0.85v0.85h-0.85zM476.2 54.4h0.85v0.85h-0.85zM466.0 60.6h0.85v0.85h-0.85zM488.9 61.7h0.85v0.85h-0.85zM492.7 63.3h0.85v0.85h-0.85zM498.7 60.6h0.85v0.85h-0.85zM475.9 41.6h0.85v0.85h-0.85zM474.9 58.0h0.85v0.85h-0.85zM478.4 54.2h0.85v0.85h-0.85zM464.5 50.5h0.85v0.85h-0.85zM481.1 47.4h0.85v0.85h-0.85zM470.5 46.8h0.85v0.85h-0.85zM496.1 50.9h0.85v0.85h-0.85zM465.7 52.4h0.85v0.85h-0.85zM484.7 55.4h0.85v0.85h-0.85zM493.7 38.9h0.85v0.85h-0.85zM469.6 47.3h0.85v0.85h-0.85zM476.3 60.5h0.85v0.85h-0.85zM465.5 64.1h0.85v0.85h-0.85zM492.9 52.5h0.85v0.85h-0.85zM469.3 50.8h0.85v0.85h-0.85zM467.6 70.7h0.85v0.85h-0.85zM467.9 46.2h0.85v0.85h-0.85zM477.5 63.6h0.85v0.85h-0.85zM469.7 62.0h0.85v0.85h-0.85zM494.6 58.0h0.85v0.85h-0.85zM491.7 63.9h0.85v0.85h-0.85zM498.1 60.6h0.85v0.85h-0.85zM489.7 53.7h0.85v0.85h-0.85zM470.3 61.1h0.85v0.85h-0.85zM467.1 76.2h0.85v0.85h-0.85zM478.8 56.6h0.85v0.85h-0.85zM475.5 63.6h0.85v0.85h-0.85zM489.5 71.2h0.85v0.85h-0.85zM488.3 47.4h0.85v0.85h-0.85zM472.2 54.9h0.85v0.85h-0.85zM462.1 34.9h0.85v0.85h-0.85zM499.4 41.5h0.85v0.85h-0.85zM487.0 52.1h0.85v0.85h-0.85zM488.3 93.9h0.85v0.85h-0.85zM465.7 110.5h0.85v0.85h-0.85zM510.9 45.3h0.85v0.85h-0.85zM501.0 37.7h0.85v0.85h-0.85zM500.5 55.8h0.85v0.85h-0.85zM509.7 94.0h0.85v0.85h-0.85zM476.4 101.2h0.85v0.85h-0.85zM478.7 51.1h0.85v0.85h-0.85zM486.6 89.9h0.85v0.85h-0.85zM461.3 80.2h0.85v0.85h-0.85zM500.2 69.1h0.85v0.85h-0.85zM486.2 49.0h0.85v0.85h-0.85zM508.7 105.8h0.85v0.85h-0.85zM491.9 83.6h0.85v0.85h-0.85zM483.1 48.7h0.85v0.85h-0.85zM509.0 67.5h0.85v0.85h-0.85zM475.8 87.6h0.85v0.85h-0.85zM488.1 85.9h0.85v0.85h-0.85zM463.8 77.3h0.85v0.85h-0.85zM469.2 81.0h0.85v0.85h-0.85zM503.9 77.4h0.85v0.85h-0.85zM463.9 94.1h0.85v0.85h-0.85zM497.1 89.0h0.85v0.85h-0.85zM468.6 49.9h0.85v0.85h-0.85zM490.4 106.1h0.85v0.85h-0.85zM467.8 81.8h0.85v0.85h-0.85zM487.5 55.0h0.85v0.85h-0.85zM486.0 70.5h0.85v0.85h-0.85zM482.5 106.3h0.85v0.85h-0.85zM462.2 42.9h0.85v0.85h-0.85zM502.9 56.9h0.85v0.85h-0.85zM502.8 46.7h0.85v0.85h-0.85zM511.2 43.4h0.85v0.85h-0.85zM495.8 50.2h0.85v0.85h-0.85zM501.5 80.1h0.85v0.85h-0.85zM479.4 35.5h0.85v0.85h-0.85zM490.0 82.7h0.85v0.85h-0.85zM497.3 34.2h0.85v0.85h-0.85zM485.6 59.9h0.85v0.85h-0.85zM510.2 44.4h0.85v0.85h-0.85zM488.4 69.7h0.85v0.85h-0.85zM460.0 69.1h0.85v0.85h-0.85z" fill="#000" fill-opacity="0.6"/>
<path d="M486.7 201.4h0.85v0.85h-0.85zM487.7 211.4h0.85v0.85h-0.85zM488.2 193.1h0.85v0.85h-0.85zM494.7 197.6h0.85v0.85h-0.85zM489.3 184.4h0.85v0.85h-0.85zM486.4 199.8h0.85v0.85h-0.85zM489.6 183.4h0.85v0.85h-0.85zM484.8 191.1h0.85v0.85h-0.85zM491.0 198.1h0.85v0.85h-0.85zM494.1 202.2h0.85v0.85h-0.85zM494.2 182.6h0.85v0.85h-0.85zM493.2 204.2h0.85v0.85h-0.85zM488.2 206.8h0.85v0.85h-0.85zM488.0 204.2h0.85v0.85h-0.85zM491.5 186.5h0.85v0.85h-0.85zM487.4 197.1h0.85v0.85h-0.85zM485.4 205.3h0.85v0.85h-0.85zM492.0 178.6h0.85v0.85h-0.85zM487.8 196.4h0.85v0.85h-0.85zM486.2 202.4h0.85v0.85h-0.85zM488.0 199.7h0.85v0.85h-0.85zM491.5 197.4h0.85v0.85h-0.85zM488.4 190.8h0.85v0.85h-0.85zM488.0 194.1h0.85v0.85h-0.85zM486.6 189.6h0.85v0.85h-0.85zM485.7 196.3h0.85v0.85h-0.85zM490.6 199.9h0.85v0.85h-0.85zM488.7 207.9h0.85v0.85h-0.85zM489.8 187.8h0.85v0.85h-0.85zM489.1 182.0h0.85v0.85h-0.85zM488.5 188.3h0.85v0.85h-0.85zM485.9 187.1h0.85v0.85h-0.85zM487.3 191.3h0.85v0.85h-0.85zM490.8 189.2h0.85v0.85h-0.85zM489.9 193.5h0.85v0.85h-0.85zM489.6 196.9h0.85v0.85h-0.85zM490.9 194.9h0.85v0.85h-0.85zM496.6 193.9h0.85v0.85h-0.85zM487.6 202.8h0.85v0.85h-0.85zM491.2 198.9h0.85v0.85h-0.85zM484.2 194.2h0.85v0.85h-0.85zM490.6 189.4h0.85v0.85h-0.85zM488.2 203.4h0.85v0.85h-0.85zM487.2 203.7h0.85v0.85h-0.85zM489.0 194.1h0.85v0.85h-0.85zM488.1 188.8h0.85v0.85h-0.85zM485.1 209.6h0.85v0.85h-0.85zM488.7 209.7h0.85v0.85h-0.85zM488.4 205.9h0.85v0.85h-0.85zM490.7 204.3h0.85v0.85h-0.85zM490.6 185.2h0.85v0.85h-0.85zM493.3 183.9h0.85v0.85h-0.85zM487.6 199.5h0.85v0.85h-0.85zM493.7 202.0h0.85v0.85h-0.85zM490.9 191.6h0.85v0.85h-0.85zM490.1 199.6h0.85v0.85h-0.85zM488.9 203.4h0.85v0.85h-0.85zM488.0 204.8h0.85v0.85h-0.85zM490.1 201.8h0.85v0.85h-0.85zM491.9 192.8h0.85v0.85h-0.85zM492.6 202.3h0.85v0.85h-0.85zM490.7 199.3h0.85v0.85h-0.85zM489.3 198.3h0.85v0.85h-0.85zM489.3 207.7h0.85v0.85h-0.85zM488.8 192.6h0.85v0.85h-0.85zM488.2 213.0h0.85v0.85h-0.85zM489.1 211.0h0.85v0.85h-0.85zM496.7 184.5h0.85v0.85h-0.85zM485.6 187.1h0.85v0.85h-0.85zM488.3 187.8h0.85v0.85h-0.85zM488.6 183.8h0.85v0.85h-0.85zM485.5 186.0h0.85v0.85h-0.85zM494.2 188.4h0.85v0.85h-0.85zM486.6 193.5h0.85v0.85h-0.85zM492.2 188.5h0.85v0.85h-0.85zM494.0 200.4h0.85v0.85h-0.85zM487.9 200.9h0.85v0.85h-0.85zM490.1 183.8h0.85v0.85h-0.85zM486.0 207.0h0.85v0.85h-0.85zM489.3 190.0h0.85v0.85h-0.85zM486.1 198.5h0.85v0.85h-0.85zM489.6 210.2h0.85v0.85h-0.85zM484.3 188.8h0.85v0.85h-0.85zM487.5 190.0h0.85v0.85h-0.85zM486.8 189.1h0.85v0.85h-0.85zM488.8 191.8h0.85v0.85h-0.85zM491.2 194.1h0.85v0.85h-0.85zM491.3 193.5h0.85v0.85h-0.85zM487.7 206.8h0.85v0.85h-0.85zM492.8 186.6h0.85v0.85h-0.85zM490.0 197.9h0.85v0.85h-0.85zM491.2 190.0h0.85v0.85h-0.85zM491.2 191.1h0.85v0.85h-0.85zM495.1 182.2h0.85v0.85h-0.85zM488.2 188.8h0.85v0.85h-0.85zM484.2 191.0h0.85v0.85h-0.85zM490.3 191.0h0.85v0.85h-0.85zM486.5 188.2h0.85v0.85h-0.85zM486.1 192.3h0.85v0.85h-0.85zM485.4 184.8h0.85v0.85h-0.85zM492.3 200.4h0.85v0.85h-0.85zM489.8 204.1h0.85v0.85h-0.85zM485.0 198.9h0.85v0.85h-0.85zM486.0 203.4h0.85v0.85h-0.85zM485.6 196.4h0.85v0.85h-0.85zM488.3 204.8h0.85v0.85h-0.85zM491.8 194.0h0.85v0.85h-0.85zM487.7 203.2h0.85v0.85h-0.85zM490.9 202.1h0.85v0.85h-0.85zM489.5 208.4h0.85v0.85h-0.85zM489.7 184.5h0.85v0.85h-0.85zM491.8 188.2h0.85v0.85h-0.85zM487.9 197.4h0.85v0.85h-0.85zM486.1 193.5h0.85v0.85h-0.85zM486.3 183.4h0.85v0.85h-0.85zM489.4 184.6h0.85v0.85h-0.85zM489.4 202.8h0.85v0.85h-0.85zM486.0 206.2h0.85v0.85h-0.85zM486.6 190.9h0.85v0.85h-0.85zM484.7 183.4h0.85v0.85h-0.85zM489.5 199.8h0.85v0.85h-0.85zM490.8 196.6h0.85v0.85h-0.85zM484.8 199.1h0.85v0.85h-0.85zM491.3 206.5h0.85v0.85h-0.85zM487.7 210.6h0.85v0.85h-0.85zM488.6 199.2h0.85v0.85h-0.85zM487.9 199.5h0.85v0.85h-0.85zM489.4 212.2h0.85v0.85h-0.85zM488.3 202.8h0.85v0.85h-0.85zM488.5 196.0h0.85v0.85h-0.85zM490.2 187.9h0.85v0.85h-0.85zM489.6 202.9h0.85v0.85h-0.85zM488.4 209.5h0.85v0.85h-0.85zM487.3 203.1h0.85v0.85h-0.85zM488.2 208.1h0.85v0.85h-0.85zM490.8 203.1h0.85v0.85h-0.85zM487.9 201.6h0.85v0.85h-0.85zM485.5 189.5h0.85v0.85h-0.85zM489.0 179.7h0.85v0.85h-0.85zM491.1 204.9h0.85v0.85h-0.85zM491.4 190.7h0.85v0.85h-0.85zM485.2 192.3h0.85v0.85h-0.85zM489.9 204.0h0.85v0.85h-0.85zM491.2 199.7h0.85v0.85h-0.85zM490.7 197.4h0.85v0.85h-0.85zM485.2 204.0h0.85v0.85h-0.85zM486.4 198.6h0.85v0.85h-0.85zM485.3 181.2h0.85v0.85h-0.85zM490.8 208.9h0.85v0.85h-0.85zM488.7 200.9h0.85v0.85h-0.85zM487.8 203.3h0.85v0.85h-0.85zM492.5 193.5h0.85v0.85h-0.85zM489.8 187.5h0.85v0.85h-0.85zM489.6 186.6h0.85v0.85h-0.85zM491.3 203.3h0.85v0.85h-0.85zM491.4 207.9h0.85v0.85h-0.85zM487.7 196.1h0.85v0.85h-0.85zM484.2 184.1h0.85v0.85h-0.85zM485.8 199.9h0.85v0.85h-0.85zM489.3 182.8h0.85v0.85h-0.85zM489.0 183.6h0.85v0.85h-0.85zM488.5 209.8h0.85v0.85h-0.85zM492.3 191.6h0.85v0.85h-0.85zM488.5 200.7h0.85v0.85h-0.85zM485.9 188.7h0.85v0.85h-0.85zM492.2 189.1h0.85v0.85h-0.85zM483.6 181.5h0.85v0.85h-0.85zM485.4 206.9h0.85v0.85h-0.85zM492.5 185.1h0.85v0.85h-0.85zM493.3 183.1h0.85v0.85h-0.85zM493.5 183.4h0.85v0.85h-0.85zM486.6 187.6h0.85v0.85h-0.85zM490.2 197.9h0.85v0.85h-0.85zM489.2 207.2h0.85v0.85h-0.85zM492.6 192.2h0.85v0.85h-0.85zM490.9 202.9h0.85v0.85h-0.85zM488.3 201.5h0.85v0.85h-0.85zM487.8 200.3h0.85v0.85h-0.85zM485.9 181.4h0.85v0.85h-0.85zM488.5 193.1h0.85v0.85h-0.85zM486.7 191.2h0.85v0.85h-0.85zM490.5 195.5h0.85v0.85h-0.85zM491.5 197.6h0.85v0.85h-0.85zM493.0 212.0h0.85v0.85h-0.85zM491.7 187.4h0.85v0.85h-0.85zM489.2 196.4h0.85v0.85h-0.85zM489.0 189.7h0.85v0.85h-0.85zM491.7 191.7h0.85v0.85h-0.85zM485.7 203.8h0.85v0.85h-0.85zM487.6 199.9h0.85v0.85h-0.85zM489.3 208.9h0.85v0.85h-0.85zM488.8 198.5h0.85v0.85h-0.85zM486.5 197.4h0.85v0.85h-0.85zM492.5 202.2h0.85v0.85h-0.85zM489.7 208.6h0.85v0.85h-0.85zM490.1 197.3h0.85v0.85h-0.85zM490.3 210.4h0.85v0.85h-0.85zM490.4 187.7h0.85v0.85h-0.85zM491.4 183.6h0.85v0.85h-0.85zM494.5 186.0h0.85v0.85h-0.85zM487.7 184.5h0.85v0.85h-0.85zM490.6 189.5h0.85v0.85h-0.85zM487.7 199.2h0.85v0.85h-0.85zM492.6 183.0h0.85v0.85h-0.85zM491.8 197.6h0.85v0.85h-0.85zM483.0 185.9h0.85v0.85h-0.85zM489.6 194.0h0.85v0.85h-0.85zM489.7 182.7h0.85v0.85h-0.85zM491.9 188.9h0.85v0.85h-0.85zM488.2 203.5h0.85v0.85h-0.85zM490.2 209.3h0.85v0.85h-0.85zM487.7 198.5h0.85v0.85h-0.85zM487.9 189.1h0.85v0.85h-0.85zM486.0 206.2h0.85v0.85h-0.85zM489.1 197.7h0.85v0.85h-0.85zM489.6 185.3h0.85v0.85h-0.85zM486.5 189.3h0.85v0.85h-0.85zM491.9 192.1h0.85v0.85h-0.85zM493.4 188.3h0.85v0.85h-0.85zM490.4 202.5h0.85v0.85h-0.85zM488.4 200.8h0.85v0.85h-0.85zM489.4 215.7h0.85v0.85h-0.85zM490.6 209.2h0.85v0.85h-0.85zM489.3 200.5h0.85v0.85h-0.85zM490.0 197.6h0.85v0.85h-0.85zM488.0 189.7h0.85v0.85h-0.85zM489.7 197.4h0.85v0.85h-0.85zM491.4 198.0h0.85v0.85h-0.85zM488.0 197.6h0.85v0.85h-0.85zM490.1 190.9h0.85v0.85h-0.85zM486.9 183.9h0.85v0.85h-0.85zM486.6 199.7h0.85v0.85h-0.85zM488.8 202.9h0.85v0.85h-0.85zM488.0 201.0h0.85v0.85h-0.85zM489.6 200.6h0.85v0.85h-0.85zM490.9 188.6h0.85v0.85h-0.85zM485.6 188.6h0.85v0.85h-0.85zM488.8 199.3h0.85v0.85h-0.85zM490.1 190.8h0.85v0.85h-0.85zM489.0 201.2h0.85v0.85h-0.85zM493.5 189.6h0.85v0.85h-0.85zM482.1 186.6h0.85v0.85h-0.85zM493.3 179.8h0.85v0.85h-0.85zM492.8 191.4h0.85v0.85h-0.85zM489.6 206.3h0.85v0.85h-0.85zM481.4 182.7h0.85v0.85h-0.85zM492.6 184.5h0.85v0.85h-0.85zM487.8 191.7h0.85v0.85h-0.85zM491.6 203.1h0.85v0.85h-0.85zM491.2 197.1h0.85v0.85h-0.85zM486.8 200.1h0.85v0.85h-0.85zM486.7 196.9h0.85v0.85h-0.85zM488.9 189.6h0.85v0.85h-0.85zM492.0 199.5h0.85v0.85h-0.85zM490.0 197.5h0.85v0.85h-0.85zM487.5 191.6h0.85v0.85h-0.85zM484.0 187.4h0.85v0.85h-0.85zM487.3 204.4h0.85v0.85h-0.85zM490.3 188.2h0.85v0.85h-0.85zM488.7 198.6h0.85v0.85h-0.85zM484.4 191.9h0.85v0.85h-0.85zM489.2 202.8h0.85v0.85h-0.85zM489.1 201.8h0.85v0.85h-0.85zM488.8 190.4h0.85v0.85h-0.85zM488.8 202.6h0.85v0.85h-0.85zM488.7 196.4h0.85v0.85h-0.85zM490.2 199.1h0.85v0.85h-0.85zM489.5 200.2h0.85v0.85h-0.85zM484.2 191.3h0.85v0.85h-0.85zM486.4 184.5h0.85v0.85h-0.85zM487.4 208.6h0.85v0.85h-0.85zM493.0 184.6h0.85v0.85h-0.85zM485.6 199.3h0.85v0.85h-0.85zM492.8 192.8h0.85v0.85h-0.85zM483.7 196.1h0.85v0.85h-0.85zM492.2 198.6h0.85v0.85h-0.85zM490.3 193.2h0.85v0.85h-0.85zM486.0 198.5h0.85v0.85h-0.85zM492.6 185.3h0.85v0.85h-0.85zM486.6 196.5h0.85v0.85h-0.85zM488.1 212.2h0.85v0.85h-0.85zM485.3 186.2h0.85v0.85h-0.85zM489.7 194.7h0.85v0.85h-0.85zM490.7 193.5h0.85v0.85h-0.85zM490.5 206.1h0.85v0.85h-0.85zM488.5 185.8h0.85v0.85h-0.85zM486.4 187.9h0.85v0.85h-0.85zM488.6 214.0h0.85v0.85h-0.85zM487.8 189.7h0.85v0.85h-0.85zM491.5 201.6h0.85v0.85h-0.85zM489.6 203.7h0.85v0.85h-0.85zM485.3 201.5h0.85v0.85h-0.85zM491.1 210.6h0.85v0.85h-0.85zM487.7 199.8h0.85v0.85h-0.85zM485.9 196.1h0.85v0.85h-0.85zM487.8 204.8h0.85v0.85h-0.85zM485.1 199.5h0.85v0.85h-0.85zM490.1 193.1h0.85v0.85h-0.85zM484.0 200.6h0.85v0.85h-0.85zM485.9 188.1h0.85v0.85h-0.85zM485.7 192.9h0.85v0.85h-0.85zM492.3 191.6h0.85v0.85h-0.85zM490.0 199.6h0.85v0.85h-0.85zM486.8 197.2h0.85v0.85h-0.85zM490.4 205.3h0.85v0.85h-0.85zM493.8 188.3h0.85v0.85h-0.85zM492.5 186.2h0.85v0.85h-0.85zM490.9 194.2h0.85v0.85h-0.85zM489.3 200.0h0.85v0.85h-0.85zM487.3 205.2h0.85v0.85h-0.85zM487.9 202.9h0.85v0.85h-0.85zM488.2 203.5h0.85v0.85h-0.85zM491.2 192.1h0.85v0.85h-0.85zM489.6 188.1h0.85v0.85h-0.85zM490.8 198.5h0.85v0.85h-0.85zM492.4 201.4h0.85v0.85h-0.85zM485.3 192.6h0.85v0.85h-0.85zM489.4 185.9h0.85v0.85h-0.85zM485.8 188.4h0.85v0.85h-0.85zM484.6 214.6h0.85v0.85h-0.85zM491.2 184.3h0.85v0.85h-0.85zM489.3 197.5h0.85v0.85h-0.85zM487.1 203.7h0.85v0.85h-0.85zM490.4 184.7h0.85v0.85h-0.85zM485.2 209.8h0.85v0.85h-0.85zM494.3 206.8h0.85v0.85h-0.85zM491.4 185.2h0.85v0.85h-0.85zM487.2 189.8h0.85v0.85h-0.85zM489.4 194.8h0.85v0.85h-0.85zM487.7 199.8h0.85v0.85h-0.85zM484.8 207.0h0.85v0.85h-0.85zM488.1 204.8h0.85v0.85h-0.85zM488.1 190.5h0.85v0.85h-0.85zM485.3 198.8h0.85v0.85h-0.85zM491.1 193.2h0.85v0.85h-0.85zM492.1 197.7h0.85v0.85h-0.85zM489.7 198.6h0.85v0.85h-0.85zM492.3 201.5h0.85v0.85h-0.85zM489.9 199.2h0.85v0.85h-0.85zM487.0 203.0h0.85v0.85h-0.85zM495.3 188.5h0.85v0.85h-0.85zM490.5 186.6h0.85v0.85h-0.85zM490.1 194.6h0.85v0.85h-0.85zM486.8 182.4h0.85v0.85h-0.85zM485.2 188.4h0.85v0.85h-0.85zM488.8 198.4h0.85v0.85h-0.85zM488.1 196.5h0.85v0.85h-0.85zM489.6 211.9h0.85v0.85h-0.85zM487.1 203.9h0.85v0.85h-0.85zM486.4 201.6h0.85v0.85h-0.85zM486.2 198.2h0.85v0.85h-0.85zM487.7 201.8h0.85v0.85h-0.85zM486.8 208.8h0.85v0.85h-0.85zM490.3 203.1h0.85v0.85h-0.85zM489.5 192.8h0.85v0.85h-0.85zM485.8 191.0h0.85v0.85h-0.85zM489.3 200.5h0.85v0.85h-0.85zM487.0 198.3h0.85v0.85h-0.85zM491.1 197.0h0.85v0.85h-0.85zM489.3 199.8h0.85v0.85h-0.85zM486.5 205.1h0.85v0.85h-0.85zM487.6 191.0h0.85v0.85h-0.85zM490.3 187.5h0.85v0.85h-0.85zM485.4 185.3h0.85v0.85h-0.85zM488.5 196.0h0.85v0.85h-0.85zM493.3 188.3h0.85v0.85h-0.85zM489.1 195.6h0.85v0.85h-0.85zM488.6 196.3h0.85v0.85h-0.85zM489.4 196.5h0.85v0.85h-0.85zM489.0 190.2h0.85v0.85h-0.85zM489.5 182.9h0.85v0.85h-0.85zM482.3 195.2h0.85v0.85h-0.85zM485.3 188.6h0.85v0.85h-0.85zM486.2 200.7h0.85v0.85h-0.85zM485.0 181.0h0.85v0.85h-0.85zM486.5 203.2h0.85v0.85h-0.85zM495.4 188.1h0.85v0.85h-0.85zM489.2 203.8h0.85v0.85h-0.85zM489.0 206.5h0.85v0.85h-0.85zM487.3 186.3h0.85v0.85h-0.85zM487.0 205.8h0.85v0.85h-0.85zM488.7 189.5h0.85v0.85h-0.85zM490.0 200.0h0.85v0.85h-0.85zM488.4 197.0h0.85v0.85h-0.85zM493.9 182.6h0.85v0.85h-0.85zM490.7 199.2h0.85v0.85h-0.85zM483.9 205.1h0.85v0.85h-0.85zM496.5 194.0h0.85v0.85h-0.85zM486.7 201.2h0.85v0.85h-0.85zM489.1 204.4h0.85v0.85h-0.85zM490.5 200.1h0.85v0.85h-0.85zM486.6 200.2h0.85v0.85h-0.85zM485.4 186.6h0.85v0.85h-0.85zM492.7 197.9h0.85v0.85h-0.85zM486.8 208.9h0.85v0.85h-0.85zM497.0 183.0h0.85v0.85h-0.85zM492.7 195.1h0.85v0.85h-0.85zM488.7 200.7h0.85v0.85h-0.85zM491.4 206.4h0.85v0.85h-0.85zM493.2 189.7h0.85v0.85h-0.85zM488.7 184.9h0.85v0.85h-0.85zM484.5 200.8h0.85v0.85h-0.85zM491.2 197.7h0.85v0.85h-0.85zM490.8 195.0h0.85v0.85h-0.85zM483.4 191.8h0.85v0.85h-0.85zM491.1 207.7h0.85v0.85h-0.85zM487.6 204.4h0.85v0.85h-0.85zM486.3 205.4h0.85v0.85h-0.85zM486.8 203.5h0.85v0.85h-0.85zM492.5 190.9h0.85v0.85h-0.85zM493.2 198.2h0.85v0.85h-0.85zM493.3 190.8h0.85v0.85h-0.85zM489.8 186.5h0.85v0.85h-0.85zM488.2 200.9h0.85v0.85h-0.85zM489.8 208.5h0.85v0.85h-0.85zM488.4 198.3h0.85v0.85h-0.85zM488.8 196.5h0.85v0.85h-0.85zM488.6 192.9h0.85v0.85h-0.85zM488.9 202.3h0.85v0.85h-0.85zM486.0 203.4h0.85v0.85h-0.85zM486.9 204.6h0.85v0.85h-0.85zM488.6 198.6h0.85v0.85h-0.85zM490.1 204.6h0.85v0.85h-0.85zM487.0 178.9h0.85v0.85h-0.85zM494.1 186.0h0.85v0.85h-0.85zM492.7 203.2h0.85v0.85h-0.85zM486.0 205.5h0.85v0.85h-0.85zM489.1 192.0h0.85v0.85h-0.85zM490.0 200.7h0.85v0.85h-0.85zM487.3 202.8h0.85v0.85h-0.85zM492.7 206.6h0.85v0.85h-0.85zM481.4 189.0h0.85v0.85h-0.85zM488.9 188.6h0.85v0.85h-0.85zM488.7 207.1h0.85v0.85h-0.85zM487.3 198.7h0.85v0.85h-0.85zM487.4 188.1h0.85v0.85h-0.85zM485.3 195.4h0.85v0.85h-0.85zM488.8 211.0h0.85v0.85h-0.85zM493.4 190.6h0.85v0.85h-0.85zM485.5 194.5h0.85v0.85h-0.85zM489.0 203.0h0.85v0.85h-0.85zM492.4 181.1h0.85v0.85h-0.85zM493.6 190.0h0.85v0.85h-0.85zM487.9 204.6h0.85v0.85h-0.85zM491.6 198.5h0.85v0.85h-0.85zM485.2 206.2h0.85v0.85h-0.85zM492.5 188.5h0.85v0.85h-0.85zM485.3 195.2h0.85v0.85h-0.85zM491.4 191.3h0.85v0.85h-0.85zM490.6 199.7h0.85v0.85h-0.85zM488.7 202.0h0.85v0.85h-0.85zM487.6 188.5h0.85v0.85h-0.85zM489.3 203.1h0.85v0.85h-0.85zM489.1 196.7h0.85v0.85h-0.85zM488.2 191.9h0.85v0.85h-0.85zM488.2 187.6h0.85v0.85h-0.85zM487.6 200.1h0.85v0.85h-0.85zM491.5 205.2h0.85v0.85h-0.85zM489.2 206.9h0.85v0.85h-0.85zM488.0 205.1h0.85v0.85h-0.85zM490.6 214.4h0.85v0.85h-0.85zM488.0 187.4h0.85v0.85h-0.85zM488.5 185.9h0.85v0.85h-0.85zM489.2 203.7h0.85v0.85h-0.85zM488.2 202.7h0.85v0.85h-0.85zM491.3 197.0h0.85v0.85h-0.85zM490.8 191.4h0.85v0.85h-0.85zM494.5 200.4h0.85v0.85h-0.85zM489.2 191.6h0.85v0.85h-0.85zM494.8 195.2h0.85v0.85h-0.85zM486.6 206.7h0.85v0.85h-0.85zM489.1 195.5h0.85v0.85h-0.85zM490.0 195.9h0.85v0.85h-0.85zM482.7 192.0h0.85v0.85h-0.85zM492.4 188.3h0.85v0.85h-0.85zM488.7 206.8h0.85v0.85h-0.85zM485.6 200.6h0.85v0.85h-0.85zM493.1 182.8h0.85v0.85h-0.85zM491.8 191.5h0.85v0.85h-0.85zM486.4 185.1h0.85v0.85h-0.85zM490.0 184.1h0.85v0.85h-0.85zM489.7 181.1h0.85v0.85h-0.85zM487.3 197.0h0.85v0.85h-0.85zM492.1 185.6h0.85v0.85h-0.85zM484.7 188.0h0.85v0.85h-0.85zM491.9 186.8h0.85v0.85h-0.85zM487.1 190.1h0.85v0.85h-0.85zM492.7 189.6h0.85v0.85h-0.85zM493.7 206.7h0.85v0.85h-0.85zM492.6 194.0h0.85v0.85h-0.85zM485.7 190.5h0.85v0.85h-0.85zM490.7 195.7h0.85v0.85h-0.85zM488.2 207.5h0.85v0.85h-0.85zM491.7 194.2h0.85v0.85h-0.85zM491.6 207.5h0.85v0.85h-0.85zM485.9 200.7h0.85v0.85h-0.85zM483.4 194.5h0.85v0.85h-0.85zM487.9 182.5h0.85v0.85h-0.85zM488.1 192.1h0.85v0.85h-0.85zM485.6 183.3h0.85v0.85h-0.85zM489.4 194.0h0.85v0.85h-0.85zM488.6 207.0h0.85v0.85h-0.85zM489.2 201.1h0.85v0.85h-0.85zM489.2 186.6h0.85v0.85h-0.85zM485.5 191.9h0.85v0.85h-0.85zM493.2 190.6h0.85v0.85h-0.85zM489.9 196.8h0.85v0.85h-0.85zM487.4 200.4h0.85v0.85h-0.85zM492.0 200.1h0.85v0.85h-0.85zM486.5 192.5h0.85v0.85h-0.85zM484.9 206.0h0.85v0.85h-0.85zM489.7 187.9h0.85v0.85h-0.85zM486.7 199.9h0.85v0.85h-0.85zM485.3 184.3h0.85v0.85h-0.85zM492.3 187.9h0.85v0.85h-0.85zM488.3 199.4h0.85v0.85h-0.85zM489.2 204.0h0.85v0.85h-0.85zM491.2 201.3h0.85v0.85h-0.85zM485.4 184.1h0.85v0.85h-0.85zM489.9 208.7h0.85v0.85h-0.85zM489.5 190.6h0.85v0.85h-0.85zM491.3 203.2h0.85v0.85h-0.85zM490.8 187.6h0.85v0.85h-0.85zM489.2 212.3h0.85v0.85h-0.85zM491.3 185.8h0.85v0.85h-0.85zM488.5 197.7h0.85v0.85h-0.85zM486.1 200.1h0.85v0.85h-0.85zM487.1 197.1h0.85v0.85h-0.85zM487.5 206.8h0.85v0.85h-0.85zM488.2 197.5h0.85v0.85h-0.85zM488.5 209.9h0.85v0.85h-0.85zM488.9 189.8h0.85v0.85h-0.85zM491.5 198.1h0.85v0.85h-0.85zM487.8 205.1h0.85v0.85h-0.85zM487.6 195.1h0.85v0.85h-0.85zM488.7 215.8h0.85v0.85h-0.85zM488.3 198.3h0.85v0.85h-0.85zM487.2 185.4h0.85v0.85h-0.85zM491.7 199.5h0.85v0.85h-0.85zM489.2 201.0h0.85v0.85h-0.85zM494.3 180.7h0.85v0.85h-0.85zM489.9 206.7h0.85v0.85h-0.85zM488.3 204.3h0.85v0.85h-0.85zM492.3 196.5h0.85v0.85h-0.85zM487.6 202.2h0.85v0.85h-0.85zM490.5 188.2h0.85v0.85h-0.85zM493.2 187.9h0.85v0.85h-0.85zM491.2 196.7h0.85v0.85h-0.85zM487.4 207.7h0.85v0.85h-0.85zM489.3 205.1h0.85v0.85h-0.85zM489.5 198.7h0.85v0.85h-0.85zM488.4 195.4h0.85v0.85h-0.85zM488.0 204.8h0.85v0.85h-0.85zM489.1 196.3h0.85v0.85h-0.85zM482.6 188.9h0.85v0.85h-0.85zM491.6 206.7h0.85v0.85h-0.85zM493.0 194.5h0.85v0.85h-0.85zM490.7 208.2h0.85v0.85h-0.85zM490.4 204.8h0.85v0.85h-0.85zM485.9 191.1h0.85v0.85h-0.85zM489.2 195.6h0.85v0.85h-0.85zM499.3 186.7h0.85v0.85h-0.85zM486.8 197.5h0.85v0.85h-0.85zM494.0 188.3h0.85v0.85h-0.85zM487.6 190.2h0.85v0.85h-0.85zM485.8 207.2h0.85v0.85h-0.85zM488.2 182.1h0.85v0.85h-0.85zM492.4 185.3h0.85v0.85h-0.85zM487.5 205.3h0.85v0.85h-0.85zM491.0 193.2h0.85v0.85h-0.85zM489.5 204.5h0.85v0.85h-0.85zM492.5 182.1h0.85v0.85h-0.85zM488.1 203.1h0.85v0.85h-0.85zM489.6 206.5h0.85v0.85h-0.85zM490.0 185.0h0.85v0.85h-0.85zM489.6 203.4h0.85v0.85h-0.85zM490.8 184.3h0.85v0.85h-0.85zM486.1 200.3h0.85v0.85h-0.85zM487.3 196.5h0.85v0.85h-0.85zM491.0 198.8h0.85v0.85h-0.85zM492.4 188.5h0.85v0.85h-0.85zM490.3 200.1h0.85v0.85h-0.85zM490.5 203.3h0.85v0.85h-0.85zM490.3 184.0h0.85v0.85h-0.85zM487.9 187.3h0.85v0.85h-0.85zM493.1 191.5h0.85v0.85h-0.85zM490.8 197.1h0.85v0.85h-0.85zM490.2 186.9h0.85v0.85h-0.85zM488.6 203.8h0.85v0.85h-0.85zM489.9 190.4h0.85v0.85h-0.85zM484.9 188.5h0.85v0.85h-0.85zM486.3 190.4h0.85v0.85h-0.85zM488.8 189.8h0.85v0.85h-0.85zM485.8 212.4h0.85v0.85h-0.85zM490.0 189.2h0.85v0.85h-0.85zM486.6 188.0h0.85v0.85h-0.85zM488.2 194.2h0.85v0.85h-0.85zM490.6 196.8h0.85v0.85h-0.85zM486.3 194.9h0.85v0.85h-0.85zM490.6 190.8h0.85v0.85h-0.85zM488.1 188.3h0.85v0.85h-0.85zM490.2 207.4h0.85v0.85h-0.85zM492.6 183.8h0.85v0.85h-0.85zM494.0 195.0h0.85v0.85h-0.85zM492.4 204.3h0.85v0.85h-0.85zM489.7 183.5h0.85v0.85h-0.85zM485.9 206.5h0.85v0.85h-0.85zM490.2 207.2h0.85v0.85h-0.85zM494.0 189.5h0.85v0.85h-0.85zM488.4 197.5h0.85v0.85h-0.85zM487.9 196.9h0.85v0.85h-0.85zM486.9 195.5h0.85v0.85h-0.85zM489.8 203.3h0.85v0.85h-0.85zM489.2 206.3h0.85v0.85h-0.85zM487.5 194.2h0.85v0.85h-0.85zM484.1 193.1h0.85v0.85h-0.85zM487.6 197.7h0.85v0.85h-0.85zM488.2 184.7h0.85v0.85h-0.85zM490.6 190.8h0.85v0.85h-0.85zM488.4 189.5h0.85v0.85h-0.85zM488.8 205.9h0.85v0.85h-0.85zM487.7 194.0h0.85v0.85h-0.85zM487.7 185.5h0.85v0.85h-0.85zM489.3 198.6h0.85v0.85h-0.85zM491.0 190.6h0.85v0.85h-0.85zM486.7 204.8h0.85v0.85h-0.85zM484.0 193.7h0.85v0.85h-0.85zM489.9 205.3h0.85v0.85h-0.85zM488.6 201.6h0.85v0.85h-0.85zM491.9 195.6h0.85v0.85h-0.85zM490.8 199.7h0.85v0.85h-0.85zM489.8 208.6h0.85v0.85h-0.85zM488.7 189.4h0.85v0.85h-0.85zM491.2 203.0h0.85v0.85h-0.85zM489.8 196.0h0.85v0.85h-0.85zM487.6 187.1h0.85v0.85h-0.85zM483.4 186.5h0.85v0.85h-0.85zM485.6 201.0h0.85v0.85h-0.85zM489.4 210.6h0.85v0.85h-0.85zM495.5 196.5h0.85v0.85h-0.85zM491.6 199.1h0.85v0.85h-0.85zM488.4 206.0h0.85v0.85h-0.85zM489.6 184.7h0.85v0.85h-0.85zM490.3 180.9h0.85v0.85h-0.85zM487.1 192.6h0.85v0.85h-0.85zM490.6 183.5h0.85v0.85h-0.85zM486.7 185.2h0.85v0.85h-0.85zM488.0 199.8h0.85v0.85h-0.85zM491.3 196.2h0.85v0.85h-0.85zM493.7 195.9h0.85v0.85h-0.85zM489.8 197.7h0.85v0.85h-0.85zM487.0 207.3h0.85v0.85h-0.85zM489.7 196.8h0.85v0.85h-0.85zM486.6 210.4h0.85v0.85h-0.85zM493.5 188.0h0.85v0.85h-0.85zM485.4 191.8h0.85v0.85h-0.85zM487.7 186.4h0.85v0.85h-0.85zM483.8 188.4h0.85v0.85h-0.85zM490.8 189.1h0.85v0.85h-0.85zM487.8 207.8h0.85v0.85h-0.85zM486.3 197.6h0.85v0.85h-0.85zM486.0 193.7h0.85v0.85h-0.85zM485.8 201.6h0.85v0.85h-0.85zM485.8 195.2h0.85v0.85h-0.85zM488.3 211.8h0.85v0.85h-0.85zM484.1 188.4h0.85v0.85h-0.85zM485.2 187.8h0.85v0.85h-0.85zM488.6 196.8h0.85v0.85h-0.85zM491.5 192.7h0.85v0.85h-0.85zM488.9 195.0h0.85v0.85h-0.85zM496.3 190.7h0.85v0.85h-0.85zM491.5 199.0h0.85v0.85h-0.85zM490.4 201.7h0.85v0.85h-0.85zM495.0 196.7h0.85v0.85h-0.85zM487.7 196.2h0.85v0.85h-0.85zM493.0 196.1h0.85v0.85h-0.85zM486.4 180.0h0.85v0.85h-0.85zM486.1 192.6h0.85v0.85h-0.85zM490.5 197.5h0.85v0.85h-0.85zM487.4 211.6h0.85v0.85h-0.85zM486.7 203.4h0.85v0.85h-0.85zM489.5 196.7h0.85v0.85h-0.85zM487.2 211.5h0.85v0.85h-0.85zM491.7 201.5h0.85v0.85h-0.85zM495.4 194.6h0.85v0.85h-0.85zM491.5 209.1h0.85v0.85h-0.85zM489.7 192.7h0.85v0.85h-0.85zM487.5 196.3h0.85v0.85h-0.85zM487.6 200.7h0.85v0.85h-0.85zM490.6 184.4h0.85v0.85h-0.85zM484.1 197.0h0.85v0.85h-0.85zM491.9 193.5h0.85v0.85h-0.85zM483.4 191.7h0.85v0.85h-0.85zM487.1 196.5h0.85v0.85h-0.85zM487.9 204.7h0.85v0.85h-0.85zM489.4 208.6h0.85v0.85h-0.85zM489.5 201.1h0.85v0.85h-0.85zM491.8 193.3h0.85v0.85h-0.85zM487.8 201.3h0.85v0.85h-0.85zM491.5 201.8h0.85v0.85h-0.85zM485.5 188.4h0.85v0.85h-0.85zM490.1 201.2h0.85v0.85h-0.85zM486.7 206.1h0.85v0.85h-0.85zM493.4 184.0h0.85v0.85h-0.85zM486.9 188.6h0.85v0.85h-0.85zM488.7 181.2h0.85v0.85h-0.85zM490.7 210.9h0.85v0.85h-0.85zM488.8 211.8h0.85v0.85h-0.85zM488.9 204.1h0.85v0.85h-0.85zM490.7 192.1h0.85v0.85h-0.85zM483.2 179.4h0.85v0.85h-0.85zM489.0 187.1h0.85v0.85h-0.85zM487.5 200.4h0.85v0.85h-0.85zM486.8 188.2h0.85v0.85h-0.85zM488.6 198.6h0.85v0.85h-0.85zM486.3 203.3h0.85v0.85h-0.85zM488.4 199.1h0.85v0.85h-0.85zM492.1 190.3h0.85v0.85h-0.85zM489.6 193.6h0.85v0.85h-0.85zM491.0 206.5h0.85v0.85h-0.85zM489.9 193.0h0.85v0.85h-0.85zM487.1 188.0h0.85v0.85h-0.85zM487.0 181.9h0.85v0.85h-0.85zM486.5 202.4h0.85v0.85h-0.85zM487.3 198.9h0.85v0.85h-0.85zM492.2 195.1h0.85v0.85h-0.85zM488.5 205.2h0.85v0.85h-0.85zM489.7 205.0h0.85v0.85h-0.85zM491.6 207.8h0.85v0.85h-0.85zM485.1 190.1h0.85v0.85h-0.85zM487.6 197.2h0.85v0.85h-0.85zM485.5 196.8h0.85v0.85h-0.85zM492.0 188.7h0.85v0.85h-0.85zM490.0 204.2h0.85v0.85h-0.85zM490.1 200.8h0.85v0.85h-0.85zM488.5 194.8h0.85v0.85h-0.85zM488.8 198.5h0.85v0.85h-0.85zM488.7 210.0h0.85v0.85h-0.85zM491.9 197.5h0.85v0.85h-0.85zM484.1 200.9h0.85v0.85h-0.85zM490.0 187.6h0.85v0.85h-0.85zM492.5 188.3h0.85v0.85h-0.85zM486.1 184.4h0.85v0.85h-0.85zM488.8 202.7h0.85v0.85h-0.85zM490.5 188.5h0.85v0.85h-0.85zM489.9 202.2h0.85v0.85h-0.85zM485.7 212.2h0.85v0.85h-0.85zM488.9 202.8h0.85v0.85h-0.85zM490.1 194.6h0.85v0.85h-0.85zM483.1 184.5h0.85v0.85h-0.85zM488.6 203.4h0.85v0.85h-0.85zM487.1 194.2h0.85v0.85h-0.85zM488.9 198.8h0.85v0.85h-0.85zM489.6 202.4h0.85v0.85h-0.85zM486.2 206.9h0.85v0.85h-0.85zM491.6 195.9h0.85v0.85h-0.85zM487.4 194.5h0.85v0.85h-0.85zM489.2 204.4h0.85v0.85h-0.85zM487.6 180.2h0.85v0.85h-0.85zM491.2 199.3h0.85v0.85h-0.85zM493.3 198.3h0.85v0.85h-0.85zM488.5 189.2h0.85v0.85h-0.85zM487.2 188.8h0.85v0.85h-0.85zM491.2 200.3h0.85v0.85h-0.85zM491.0 203.8h0.85v0.85h-0.85zM490.7 190.1h0.85v0.85h-0.85zM486.8 187.2h0.85v0.85h-0.85zM489.0 188.7h0.85v0.85h-0.85zM487.7 182.5h0.85v0.85h-0.85zM492.6 194.9h0.85v0.85h-0.85zM489.5 209.0h0.85v0.85h-0.85zM494.6 186.8h0.85v0.85h-0.85zM490.2 190.0h0.85v0.85h-0.85zM491.4 207.2h0.85v0.85h-0.85zM493.1 202.1h0.85v0.85h-0.85zM489.8 198.8h0.85v0.85h-0.85zM491.9 203.3h0.85v0.85h-0.85zM484.3 187.3h0.85v0.85h-0.85zM488.8 205.5h0.85v0.85h-0.85zM487.7 205.3h0.85v0.85h-0.85zM485.5 182.6h0.85v0.85h-0.85zM486.8 187.8h0.85v0.85h-0.85zM490.1 195.6h0.85v0.85h-0.85zM488.9 200.0h0.85v0.85h-0.85zM492.0 183.3h0.85v0.85h-0.85zM486.1 202.8h0.85v0.85h-0.85zM488.8 190.6h0.85v0.85h-0.85zM488.5 189.2h0.85v0.85h-0.85zM491.1 198.6h0.85v0.85h-0.85zM487.7 199.4h0.85v0.85h-0.85zM489.2 189.8h0.85v0.85h-0.85zM490.0 197.1h0.85v0.85h-0.85zM485.3 189.5h0.85v0.85h-0.85zM489.4 199.4h0.85v0.85h-0.85zM487.0 196.2h0.85v0.85h-0.85zM489.2 183.1h0.85v0.85h-0.85zM491.8 197.8h0.85v0.85h-0.85zM492.3 187.9h0.85v0.85h-0.85zM488.6 205.9h0.85v0.85h-0.85zM489.3 193.5h0.85v0.85h-0.85zM488.8 188.9h0.85v0.85h-0.85zM487.0 199.1h0.85v0.85h-0.85zM492.7 199.4h0.85v0.85h-0.85zM488.8 194.8h0.85v0.85h-0.85zM487.8 183.9h0.85v0.85h-0.85zM491.2 185.6h0.85v0.85h-0.85zM487.3 185.8h0.85v0.85h-0.85zM490.9 211.7h0.85v0.85h-0.85zM483.4 187.0h0.85v0.85h-0.85zM485.7 185.5h0.85v0.85h-0.85zM486.9 199.4h0.85v0.85h-0.85zM488.6 201.7h0.85v0.85h-0.85zM487.7 180.7h0.85v0.85h-0.85zM488.3 194.2h0.85v0.85h-0.85zM491.7 189.7h0.85v0.85h-0.85zM487.9 190.9h0.85v0.85h-0.85zM491.9 196.3h0.85v0.85h-0.85zM490.3 190.5h0.85v0.85h-0.85zM489.4 193.7h0.85v0.85h-0.85zM487.4 210.4h0.85v0.85h-0.85zM489.0 189.8h0.85v0.85h-0.85zM489.6 182.9h0.85v0.85h-0.85zM488.0 205.4h0.85v0.85h-0.85zM488.3 182.5h0.85v0.85h-0.85zM490.6 193.9h0.85v0.85h-0.85zM493.5 190.4h0.85v0.85h-0.85zM488.1 198.7h0.85v0.85h-0.85zM484.9 194.5h0.85v0.85h-0.85zM492.3 193.7h0.85v0.85h-0.85zM485.1 184.1h0.85v0.85h-0.85zM491.5 190.9h0.85v0.85h-0.85zM490.2 195.4h0.85v0.85h-0.85zM488.8 206.9h0.85v0.85h-0.85zM488.6 206.7h0.85v0.85h-0.85zM485.3 202.9h0.85v0.85h-0.85zM491.1 204.1h0.85v0.85h-0.85zM487.7 189.8h0.85v0.85h-0.85zM492.2 188.3h0.85v0.85h-0.85zM487.9 196.2h0.85v0.85h-0.85zM488.6 206.1h0.85v0.85h-0.85zM484.1 187.5h0.85v0.85h-0.85zM489.1 200.0h0.85v0.85h-0.85zM483.9 201.1h0.85v0.85h-0.85zM487.3 194.9h0.85v0.85h-0.85zM493.7 195.3h0.85v0.85h-0.85zM489.2 189.5h0.85v0.85h-0.85zM487.0 207.5h0.85v0.85h-0.85zM490.2 200.7h0.85v0.85h-0.85zM487.9 201.9h0.85v0.85h-0.85zM488.9 201.5h0.85v0.85h-0.85zM486.0 177.5h0.85v0.85h-0.85zM489.7 198.6h0.85v0.85h-0.85zM487.6 203.1h0.85v0.85h-0.85zM491.2 182.6h0.85v0.85h-0.85zM489.3 194.7h0.85v0.85h-0.85zM487.0 201.5h0.85v0.85h-0.85zM486.8 183.4h0.85v0.85h-0.85zM489.1 192.5h0.85v0.85h-0.85zM486.4 205.0h0.85v0.85h-0.85zM489.0 204.4h0.85v0.85h-0.85zM490.8 207.5h0.85v0.85h-0.85zM492.7 190.0h0.85v0.85h-0.85zM484.5 187.5h0.85v0.85h-0.85zM489.2 206.3h0.85v0.85h-0.85zM492.1 193.6h0.85v0.85h-0.85zM493.7 195.8h0.85v0.85h-0.85zM485.7 190.6h0.85v0.85h-0.85zM486.8 190.7h0.85v0.85h-0.85zM489.6 200.9h0.85v0.85h-0.85zM493.1 198.3h0.85v0.85h-0.85zM489.2 187.1h0.85v0.85h-0.85zM488.9 200.9h0.85v0.85h-0.85zM490.0 193.8h0.85v0.85h-0.85zM495.9 184.3h0.85v0.85h-0.85zM483.5 205.1h0.85v0.85h-0.85zM489.7 205.8h0.85v0.85h-0.85zM486.6 204.0h0.85v0.85h-0.85zM488.7 205.0h0.85v0.85h-0.85zM490.9 196.2h0.85v0.85h-0.85zM490.7 207.4h0.85v0.85h-0.85zM487.8 205.4h0.85v0.85h-0.85zM486.4 189.3h0.85v0.85h-0.85zM490.6 187.1h0.85v0.85h-0.85zM488.0 195.4h0.85v0.85h-0.85zM488.0 193.2h0.85v0.85h-0.85zM490.0 204.3h0.85v0.85h-0.85zM490.8 186.2h0.85v0.85h-0.85zM493.9 198.5h0.85v0.85h-0.85zM488.8 202.6h0.85v0.85h-0.85zM487.4 203.0h0.85v0.85h-0.85zM488.0 201.0h0.85v0.85h-0.85zM490.0 204.8h0.85v0.85h-0.85zM493.5 198.3h0.85v0.85h-0.85zM487.8 191.5h0.85v0.85h-0.85zM485.1 193.8h0.85v0.85h-0.85zM490.6 191.1h0.85v0.85h-0.85zM488.6 203.1h0.85v0.85h-0.85zM488.9 207.4h0.85v0.85h-0.85zM488.2 198.7h0.85v0.85h-0.85zM492.6 193.0h0.85v0.85h-0.85zM491.5 188.2h0.85v0.85h-0.85zM490.5 203.2h0.85v0.85h-0.85zM485.8 198.4h0.85v0.85h-0.85zM491.0 200.8h0.85v0.85h-0.85zM495.4 196.4h0.85v0.85h-0.85zM489.8 189.0h0.85v0.85h-0.85zM489.0 192.4h0.85v0.85h-0.85zM488.4 184.9h0.85v0.85h-0.85zM489.0 190.0h0.85v0.85h-0.85zM487.9 184.8h0.85v0.85h-0.85zM488.9 190.7h0.85v0.85h-0.85zM490.1 194.5h0.85v0.85h-0.85zM485.4 195.6h0.85v0.85h-0.85zM489.3 195.4h0.85v0.85h-0.85zM489.4 181.6h0.85v0.85h-0.85zM489.8 199.4h0.85v0.85h-0.85zM488.8 203.3h0.85v0.85h-0.85zM487.7 202.9h0.85v0.85h-0.85zM490.5 207.0h0.85v0.85h-0.85zM488.2 185.6h0.85v0.85h-0.85zM484.7 181.7h0.85v0.85h-0.85zM487.1 204.1h0.85v0.85h-0.85zM489.8 190.8h0.85v0.85h-0.85zM486.0 194.0h0.85v0.85h-0.85zM492.9 191.0h0.85v0.85h-0.85zM491.4 197.5h0.85v0.85h-0.85zM486.7 187.2h0.85v0.85h-0.85zM486.1 181.3h0.85v0.85h-0.85zM489.7 179.8h0.85v0.85h-0.85zM489.8 198.6h0.85v0.85h-0.85zM490.9 205.9h0.85v0.85h-0.85zM491.0 206.4h0.85v0.85h-0.85zM493.9 185.6h0.85v0.85h-0.85zM487.0 192.2h0.85v0.85h-0.85zM487.2 182.7h0.85v0.85h-0.85zM488.2 193.0h0.85v0.85h-0.85zM488.6 202.9h0.85v0.85h-0.85zM483.9 180.8h0.85v0.85h-0.85zM486.3 205.0h0.85v0.85h-0.85zM489.1 204.7h0.85v0.85h-0.85zM489.5 196.3h0.85v0.85h-0.85zM490.4 184.2h0.85v0.85h-0.85zM492.6 197.0h0.85v0.85h-0.85zM492.3 181.9h0.85v0.85h-0.85zM487.5 185.6h0.85v0.85h-0.85zM488.5 211.4h0.85v0.85h-0.85zM488.4 199.9h0.85v0.85h-0.85zM489.8 209.2h0.85v0.85h-0.85zM487.3 210.3h0.85v0.85h-0.85zM489.1 200.3h0.85v0.85h-0.85zM482.6 185.2h0.85v0.85h-0.85zM490.5 194.7h0.85v0.85h-0.85zM491.1 201.0h0.85v0.85h-0.85zM487.5 188.7h0.85v0.85h-0.85zM491.8 193.0h0.85v0.85h-0.85zM488.7 182.4h0.85v0.85h-0.85zM486.6 194.4h0.85v0.85h-0.85zM487.3 204.6h0.85v0.85h-0.85zM487.2 190.7h0.85v0.85h-0.85zM489.4 200.3h0.85v0.85h-0.85zM487.8 205.5h0.85v0.85h-0.85zM490.2 204.2h0.85v0.85h-0.85zM490.4 191.6h0.85v0.85h-0.85zM487.5 188.9h0.85v0.85h-0.85zM488.4 190.5h0.85v0.85h-0.85zM486.2 191.3h0.85v0.85h-0.85zM488.1 190.1h0.85v0.85h-0.85zM488.5 193.5h0.85v0.85h-0.85zM491.0 204.0h0.85v0.85h-0.85zM486.1 209.1h0.85v0.85h-0.85zM488.9 212.1h0.85v0.85h-0.85zM490.1 209.0h0.85v0.85h-0.85zM490.4 186.4h0.85v0.85h-0.85zM489.2 200.5h0.85v0.85h-0.85zM489.3 205.1h0.85v0.85h-0.85zM485.9 203.5h0.85v0.85h-0.85zM489.1 195.6h0.85v0.85h-0.85zM490.5 211.5h0.85v0.85h-0.85zM490.4 197.3h0.85v0.85h-0.85zM492.0 198.6h0.85v0.85h-0.85zM493.4 185.9h0.85v0.85h-0.85zM486.5 181.0h0.85v0.85h-0.85zM489.0 201.5h0.85v0.85h-0.85zM486.3 190.6h0.85v0.85h-0.85zM490.9 192.2h0.85v0.85h-0.85zM485.8 194.8h0.85v0.85h-0.85zM489.2 183.3h0.85v0.85h-0.85zM489.0 185.7h0.85v0.85h-0.85zM491.1 194.9h0.85v0.85h-0.85zM486.9 203.4h0.85v0.85h-0.85zM487.0 189.1h0.85v0.85h-0.85zM487.4 197.3h0.85v0.85h-0.85zM486.9 209.4h0.85v0.85h-0.85zM485.1 206.6h0.85v0.85h-0.85zM484.9 195.3h0.85v0.85h-0.85zM489.8 206.4h0.85v0.85h-0.85zM488.0 206.0h0.85v0.85h-0.85zM490.0 186.9h0.85v0.85h-0.85zM486.9 194.0h0.85v0.85h-0.85zM487.5 209.8h0.85v0.85h-0.85zM487.4 186.5h0.85v0.85h-0.85zM491.9 188.2h0.85v0.85h-0.85zM493.1 189.3h0.85v0.85h-0.85zM485.8 182.1h0.85v0.85h-0.85zM492.7 197.5h0.85v0.85h-0.85zM489.6 193.1h0.85v0.85h-0.85zM491.9 195.9h0.85v0.85h-0.85zM488.7 191.5h0.85v0.85h-0.85zM486.9 208.7h0.85v0.85h-0.85zM485.8 188.4h0.85v0.85h-0.85zM486.4 203.7h0.85v0.85h-0.85zM493.4 195.6h0.85v0.85h-0.85zM485.9 207.0h0.85v0.85h-0.85zM490.9 187.5h0.85v0.85h-0.85zM486.8 187.3h0.85v0.85h-0.85zM492.7 189.2h0.85v0.85h-0.85zM491.6 183.2h0.85v0.85h-0.85zM491.0 194.2h0.85v0.85h-0.85zM489.2 192.2h0.85v0.85h-0.85zM489.5 204.5h0.85v0.85h-0.85zM491.8 192.9h0.85v0.85h-0.85zM486.7 188.5h0.85v0.85h-0.85zM487.7 202.8h0.85v0.85h-0.85zM487.2 197.7h0.85v0.85h-0.85zM480.6 177.7h0.85v0.85h-0.85zM489.3 184.5h0.85v0.85h-0.85zM488.2 212.3h0.85v0.85h-0.85zM494.9 191.0h0.85v0.85h-0.85zM488.2 210.8h0.85v0.85h-0.85zM488.3 188.9h0.85v0.85h-0.85zM484.5 188.6h0.85v0.85h-0.85zM490.8 185.1h0.85v0.85h-0.85zM489.6 196.5h0.85v0.85h-0.85zM490.9 196.1h0.85v0.85h-0.85zM486.6 183.3h0.85v0.85h-0.85zM486.6 188.6h0.85v0.85h-0.85zM489.2 201.2h0.85v0.85h-0.85zM488.8 206.0h0.85v0.85h-0.85zM484.2 186.3h0.85v0.85h-0.85zM487.0 199.5h0.85v0.85h-0.85zM493.0 183.6h0.85v0.85h-0.85zM489.0 194.8h0.85v0.85h-0.85zM486.7 191.2h0.85v0.85h-0.85zM488.6 179.1h0.85v0.85h-0.85zM490.9 194.7h0.85v0.85h-0.85zM485.0 186.7h0.85v0.85h-0.85zM487.9 207.4h0.85v0.85h-0.85zM491.4 197.7h0.85v0.85h-0.85zM486.5 206.6h0.85v0.85h-0.85zM492.4 182.5h0.85v0.85h-0.85zM487.2 211.8h0.85v0.85h-0.85zM489.0 205.9h0.85v0.85h-0.85zM486.8 189.2h0.85v0.85h-0.85zM492.7 190.8h0.85v0.85h-0.85zM485.0 188.5h0.85v0.85h-0.85zM486.4 192.8h0.85v0.85h-0.85zM485.1 191.4h0.85v0.85h-0.85zM488.9 186.0h0.85v0.85h-0.85zM486.4 191.4h0.85v0.85h-0.85zM493.3 183.7h0.85v0.85h-0.85zM486.5 203.4h0.85v0.85h-0.85zM492.2 189.4h0.85v0.85h-0.85zM487.0 192.7h0.85v0.85h-0.85zM490.4 198.5h0.85v0.85h-0.85zM487.0 193.9h0.85v0.85h-0.85zM486.3 211.9h0.85v0.85h-0.85zM488.3 208.1h0.85v0.85h-0.85zM483.8 198.1h0.85v0.85h-0.85zM487.2 195.1h0.85v0.85h-0.85zM491.8 193.2h0.85v0.85h-0.85zM493.1 197.9h0.85v0.85h-0.85zM487.0 210.0h0.85v0.85h-0.85zM487.4 209.0h0.85v0.85h-0.85zM487.5 197.2h0.85v0.85h-0.85zM485.5 196.9h0.85v0.85h-0.85zM491.3 202.3h0.85v0.85h-0.85zM490.3 204.3h0.85v0.85h-0.85zM487.1 196.9h0.85v0.85h-0.85zM490.5 188.4h0.85v0.85h-0.85zM485.3 207.0h0.85v0.85h-0.85zM491.7 198.8h0.85v0.85h-0.85zM489.5 201.8h0.85v0.85h-0.85zM491.1 209.3h0.85v0.85h-0.85zM492.0 186.7h0.85v0.85h-0.85zM485.4 194.8h0.85v0.85h-0.85zM489.6 181.1h0.85v0.85h-0.85zM489.5 195.3h0.85v0.85h-0.85zM491.8 191.8h0.85v0.85h-0.85zM485.2 196.3h0.85v0.85h-0.85zM487.9 205.6h0.85v0.85h-0.85zM486.4 210.6h0.85v0.85h-0.85zM491.1 195.0h0.85v0.85h-0.85zM488.2 192.8h0.85v0.85h-0.85zM495.3 190.7h0.85v0.85h-0.85zM488.5 204.9h0.85v0.85h-0.85zM485.1 192.8h0.85v0.85h-0.85zM491.2 202.2h0.85v0.85h-0.85zM488.6 204.3h0.85v0.85h-0.85zM488.6 191.8h0.85v0.85h-0.85zM489.0 194.9h0.85v0.85h-0.85zM491.2 198.7h0.85v0.85h-0.85zM488.9 192.8h0.85v0.85h-0.85zM486.3 196.0h0.85v0.85h-0.85zM490.2 202.4h0.85v0.85h-0.85zM492.7 194.1h0.85v0.85h-0.85zM479.9 201.2h0.85v0.85h-0.85zM489.9 206.4h0.85v0.85h-0.85zM487.3 196.1h0.85v0.85h-0.85zM488.7 186.7h0.85v0.85h-0.85zM493.2 201.7h0.85v0.85h-0.85zM493.2 197.3h0.85v0.85h-0.85zM493.9 204.3h0.85v0.85h-0.85zM492.0 213.0h0.85v0.85h-0.85zM483.4 193.2h0.85v0.85h-0.85zM486.5 202.6h0.85v0.85h-0.85zM489.6 210.5h0.85v0.85h-0.85zM492.5 181.9h0.85v0.85h-0.85zM490.0 197.7h0.85v0.85h-0.85zM491.9 197.1h0.85v0.85h-0.85zM498.4 185.1h0.85v0.85h-0.85zM491.9 198.7h0.85v0.85h-0.85zM490.6 203.6h0.85v0.85h-0.85zM487.1 201.0h0.85v0.85h-0.85zM495.9 180.0h0.85v0.85h-0.85zM485.8 188.7h0.85v0.85h-0.85zM494.2 185.8h0.85v0.85h-0.85zM483.6 202.4h0.85v0.85h-0.85zM483.7 188.2h0.85v0.85h-0.85zM489.0 200.1h0.85v0.85h-0.85zM491.4 199.1h0.85v0.85h-0.85zM486.7 201.9h0.85v0.85h-0.85zM486.6 193.9h0.85v0.85h-0.85zM489.8 189.5h0.85v0.85h-0.85zM486.0 204.1h0.85v0.85h-0.85zM488.4 197.7h0.85v0.85h-0.85zM485.6 205.2h0.85v0.85h-0.85zM492.0 199.8h0.85v0.85h-0.85zM487.9 207.1h0.85v0.85h-0.85zM492.3 193.0h0.85v0.85h-0.85zM487.1 197.5h0.85v0.85h-0.85zM489.6 193.1h0.85v0.85h-0.85zM490.0 180.6h0.85v0.85h-0.85zM489.7 203.1h0.85v0.85h-0.85zM489.1 195.2h0.85v0.85h-0.85zM489.3 187.8h0.85v0.85h-0.85zM489.4 201.9h0.85v0.85h-0.85zM484.1 190.4h0.85v0.85h-0.85zM489.4 207.2h0.85v0.85h-0.85zM487.4 184.5h0.85v0.85h-0.85zM489.8 204.0h0.85v0.85h-0.85zM486.8 196.3h0.85v0.85h-0.85zM484.1 200.7h0.85v0.85h-0.85zM489.9 204.7h0.85v0.85h-0.85zM490.2 191.0h0.85v0.85h-0.85zM490.9 179.7h0.85v0.85h-0.85zM485.2 191.3h0.85v0.85h-0.85zM489.0 203.0h0.85v0.85h-0.85zM490.4 186.2h0.85v0.85h-0.85zM489.3 198.9h0.85v0.85h-0.85zM486.4 181.4h0.85v0.85h-0.85zM493.0 181.4h0.85v0.85h-0.85zM491.0 202.2h0.85v0.85h-0.85zM485.7 184.5h0.85v0.85h-0.85zM490.5 190.0h0.85v0.85h-0.85zM492.0 202.8h0.85v0.85h-0.85zM486.8 205.3h0.85v0.85h-0.85zM484.2 198.5h0.85v0.85h-0.85zM489.7 187.7h0.85v0.85h-0.85zM488.5 201.3h0.85v0.85h-0.85zM486.0 186.7h0.85v0.85h-0.85zM490.0 201.1h0.85v0.85h-0.85zM488.8 189.6h0.85v0.85h-0.85zM489.5 202.9h0.85v0.85h-0.85zM490.9 195.8h0.85v0.85h-0.85zM485.4 193.4h0.85v0.85h-0.85zM486.1 205.7h0.85v0.85h-0.85zM491.0 190.5h0.85v0.85h-0.85zM491.1 184.2h0.85v0.85h-0.85zM488.3 192.3h0.85v0.85h-0.85zM488.5 188.9h0.85v0.85h-0.85zM492.2 207.9h0.85v0.85h-0.85zM492.6 195.3h0.85v0.85h-0.85zM491.3 193.3h0.85v0.85h-0.85zM488.3 187.0h0.85v0.85h-0.85zM492.2 206.0h0.85v0.85h-0.85zM486.8 188.7h0.85v0.85h-0.85zM488.9 188.6h0.85v0.85h-0.85zM487.0 206.7h0.85v0.85h-0.85zM491.3 194.4h0.85v0.85h-0.85zM491.0 180.7h0.85v0.85h-0.85zM493.9 192.8h0.85v0.85h-0.85zM488.2 200.5h0.85v0.85h-0.85zM489.8 203.4h0.85v0.85h-0.85zM487.1 199.2h0.85v0.85h-0.85zM485.6 206.1h0.85v0.85h-0.85zM486.1 195.3h0.85v0.85h-0.85zM491.3 199.1h0.85v0.85h-0.85zM486.5 203.8h0.85v0.85h-0.85zM485.7 202.0h0.85v0.85h-0.85zM490.3 195.4h0.85v0.85h-0.85zM490.0 202.1h0.85v0.85h-0.85zM489.3 205.1h0.85v0.85h-0.85zM492.8 197.8h0.85v0.85h-0.85zM487.6 199.6h0.85v0.85h-0.85zM489.7 205.3h0.85v0.85h-0.85zM490.5 205.4h0.85v0.85h-0.85zM487.7 204.5h0.85v0.85h-0.85zM489.2 195.0h0.85v0.85h-0.85zM485.7 197.3h0.85v0.85h-0.85zM486.9 193.0h0.85v0.85h-0.85zM488.6 211.3h0.85v0.85h-0.85zM485.6 205.9h0.85v0.85h-0.85zM485.8 189.1h0.85v0.85h-0.85zM485.8 202.9h0.85v0.85h-0.85zM486.1 210.1h0.85v0.85h-0.85zM489.6 199.1h0.85v0.85h-0.85zM488.7 186.6h0.85v0.85h-0.85zM482.9 190.4h0.85v0.85h-0.85zM485.7 196.7h0.85v0.85h-0.85zM491.2 188.1h0.85v0.85h-0.85zM493.5 191.4h0.85v0.85h-0.85zM485.6 205.7h0.85v0.85h-0.85zM488.9 183.6h0.85v0.85h-0.85zM488.4 182.4h0.85v0.85h-0.85zM486.9 200.0h0.85v0.85h-0.85zM488.3 204.8h0.85v0.85h-0.85zM485.5 185.2h0.85v0.85h-0.85zM490.7 187.1h0.85v0.85h-0.85zM483.6 189.8h0.85v0.85h-0.85zM488.1 196.9h0.85v0.85h-0.85zM490.5 187.6h0.85v0.85h-0.85zM490.6 204.8h0.85v0.85h-0.85zM486.6 186.6h0.85v0.85h-0.85zM489.6 193.4h0.85v0.85h-0.85zM485.7 186.3h0.85v0.85h-0.85zM487.5 199.2h0.85v0.85h-0.85zM488.8 197.4h0.85v0.85h-0.85zM489.9 200.7h0.85v0.85h-0.85zM490.4 202.2h0.85v0.85h-0.85zM487.5 189.0h0.85v0.85h-0.85zM495.5 185.7h0.85v0.85h-0.85zM488.0 202.7h0.85v0.85h-0.85zM489.9 199.0h0.85v0.85h-0.85zM490.4 203.4h0.85v0.85h-0.85zM490.8 205.6h0.85v0.85h-0.85zM489.7 201.2h0.85v0.85h-0.85zM490.9 191.4h0.85v0.85h-0.85zM488.9 194.6h0.85v0.85h-0.85zM488.9 186.7h0.85v0.85h-0.85zM490.4 200.3h0.85v0.85h-0.85zM490.0 199.2h0.85v0.85h-0.85zM490.6 207.6h0.85v0.85h-0.85zM485.5 195.0h0.85v0.85h-0.85zM493.7 193.4h0.85v0.85h-0.85zM491.6 197.9h0.85v0.85h-0.85zM491.0 194.9h0.85v0.85h-0.85zM491.7 198.5h0.85v0.85h-0.85zM488.9 207.4h0.85v0.85h-0.85zM493.6 185.6h0.85v0.85h-0.85zM491.2 202.8h0.85v0.85h-0.85zM493.6 186.8h0.85v0.85h-0.85zM489.2 186.4h0.85v0.85h-0.85zM487.4 198.5h0.85v0.85h-0.85zM485.7 191.9h0.85v0.85h-0.85zM492.8 186.2h0.85v0.85h-0.85zM487.2 209.1h0.85v0.85h-0.85zM486.8 186.4h0.85v0.85h-0.85zM492.6 185.2h0.85v0.85h-0.85zM489.7 192.2h0.85v0.85h-0.85zM489.0 189.8h0.85v0.85h-0.85zM486.6 189.3h0.85v0.85h-0.85zM489.5 209.7h0.85v0.85h-0.85zM483.3 185.5h0.85v0.85h-0.85zM487.4 206.6h0.85v0.85h-0.85zM490.4 204.4h0.85v0.85h-0.85zM492.7 190.5h0.85v0.85h-0.85zM487.6 193.8h0.85v0.85h-0.85zM489.0 194.8h0.85v0.85h-0.85zM488.9 206.3h0.85v0.85h-0.85zM484.8 185.9h0.85v0.85h-0.85zM491.2 201.8h0.85v0.85h-0.85zM490.4 194.9h0.85v0.85h-0.85zM490.5 204.6h0.85v0.85h-0.85zM490.3 194.3h0.85v0.85h-0.85zM487.1 181.8h0.85v0.85h-0.85zM490.5 186.7h0.85v0.85h-0.85zM495.7 182.1h0.85v0.85h-0.85zM489.1 196.5h0.85v0.85h-0.85zM487.1 189.5h0.85v0.85h-0.85zM485.1 196.3h0.85v0.85h-0.85zM494.4 191.8h0.85v0.85h-0.85zM482.0 185.9h0.85v0.85h-0.85zM488.2 205.8h0.85v0.85h-0.85zM490.9 187.6h0.85v0.85h-0.85zM485.9 194.3h0.85v0.85h-0.85zM492.1 202.0h0.85v0.85h-0.85zM491.1 199.0h0.85v0.85h-0.85zM492.8 189.3h0.85v0.85h-0.85zM490.0 201.3h0.85v0.85h-0.85zM486.0 186.0h0.85v0.85h-0.85zM492.0 207.4h0.85v0.85h-0.85zM489.0 202.4h0.85v0.85h-0.85zM487.5 203.5h0.85v0.85h-0.85zM488.4 197.2h0.85v0.85h-0.85zM487.6 202.3h0.85v0.85h-0.85zM489.3 194.7h0.85v0.85h-0.85zM485.9 204.6h0.85v0.85h-0.85zM489.7 194.6h0.85v0.85h-0.85zM487.7 192.4h0.85v0.85h-0.85zM489.3 183.1h0.85v0.85h-0.85zM488.3 203.2h0.85v0.85h-0.85zM491.1 182.1h0.85v0.85h-0.85zM487.4 206.2h0.85v0.85h-0.85zM493.5 191.9h0.85v0.85h-0.85zM493.6 187.5h0.85v0.85h-0.85zM488.7 209.2h0.85v0.85h-0.85zM487.5 180.2h0.85v0.85h-0.85zM485.4 189.6h0.85v0.85h-0.85zM488.3 193.5h0.85v0.85h-0.85zM492.0 201.5h0.85v0.85h-0.85zM485.4 182.2h0.85v0.85h-0.85zM490.9 203.9h0.85v0.85h-0.85zM489.1 197.2h0.85v0.85h-0.85zM490.0 193.5h0.85v0.85h-0.85zM489.1 193.1h0.85v0.85h-0.85zM487.5 193.7h0.85v0.85h-0.85zM488.5 188.2h0.85v0.85h-0.85zM489.4 204.0h0.85v0.85h-0.85zM490.7 190.0h0.85v0.85h-0.85zM492.1 190.4h0.85v0.85h-0.85zM492.5 190.2h0.85v0.85h-0.85zM487.9 186.9h0.85v0.85h-0.85zM490.7 199.3h0.85v0.85h-0.85zM488.9 183.1h0.85v0.85h-0.85zM486.8 210.6h0.85v0.85h-0.85zM490.1 190.0h0.85v0.85h-0.85zM490.2 184.8h0.85v0.85h-0.85zM486.2 194.4h0.85v0.85h-0.85zM492.3 186.9h0.85v0.85h-0.85zM490.9 207.3h0.85v0.85h-0.85zM488.9 205.8h0.85v0.85h-0.85zM488.0 187.7h0.85v0.85h-0.85zM490.3 203.7h0.85v0.85h-0.85zM487.6 190.9h0.85v0.85h-0.85zM483.5 199.3h0.85v0.85h-0.85zM489.0 193.4h0.85v0.85h-0.85zM488.5 194.6h0.85v0.85h-0.85zM486.8 190.0h0.85v0.85h-0.85zM488.5 206.1h0.85v0.85h-0.85zM487.4 199.9h0.85v0.85h-0.85zM488.4 207.3h0.85v0.85h-0.85zM492.1 188.6h0.85v0.85h-0.85zM489.8 210.4h0.85v0.85h-0.85zM487.0 185.4h0.85v0.85h-0.85zM487.1 186.2h0.85v0.85h-0.85zM492.3 202.1h0.85v0.85h-0.85zM488.3 198.3h0.85v0.85h-0.85zM488.9 192.7h0.85v0.85h-0.85zM489.3 201.1h0.85v0.85h-0.85zM488.6 191.9h0.85v0.85h-0.85zM494.2 193.6h0.85v0.85h-0.85zM494.4 197.6h0.85v0.85h-0.85zM488.1 204.0h0.85v0.85h-0.85zM493.0 192.3h0.85v0.85h-0.85zM492.8 191.6h0.85v0.85h-0.85zM485.0 184.5h0.85v0.85h-0.85zM487.5 201.1h0.85v0.85h-0.85zM494.8 196.1h0.85v0.85h-0.85zM491.8 190.2h0.85v0.85h-0.85zM488.1 192.8h0.85v0.85h-0.85zM487.1 204.8h0.85v0.85h-0.85zM487.9 208.1h0.85v0.85h-0.85zM488.5 194.7h0.85v0.85h-0.85zM493.1 187.7h0.85v0.85h-0.85zM492.7 188.8h0.85v0.85h-0.85zM491.0 190.4h0.85v0.85h-0.85zM489.4 205.6h0.85v0.85h-0.85zM486.0 198.3h0.85v0.85h-0.85zM485.6 185.3h0.85v0.85h-0.85zM491.8 207.1h0.85v0.85h-0.85zM486.5 184.4h0.85v0.85h-0.85zM485.9 198.2h0.85v0.85h-0.85zM490.9 178.9h0.85v0.85h-0.85zM489.8 191.7h0.85v0.85h-0.85zM487.7 196.8h0.85v0.85h-0.85zM491.8 188.9h0.85v0.85h-0.85zM494.2 185.6h0.85v0.85h-0.85zM489.8 195.5h0.85v0.85h-0.85zM484.6 202.3h0.85v0.85h-0.85zM486.9 185.7h0.85v0.85h-0.85zM486.3 185.8h0.85v0.85h-0.85zM490.2 200.2h0.85v0.85h-0.85zM484.9 186.9h0.85v0.85h-0.85zM492.0 203.7h0.85v0.85h-0.85zM488.4 205.5h0.85v0.85h-0.85zM486.2 206.4h0.85v0.85h-0.85zM488.7 205.2h0.85v0.85h-0.85zM492.3 192.8h0.85v0.85h-0.85zM489.1 185.5h0.85v0.85h-0.85zM489.2 191.7h0.85v0.85h-0.85zM487.2 199.1h0.85v0.85h-0.85zM491.4 199.9h0.85v0.85h-0.85zM486.7 200.9h0.85v0.85h-0.85zM492.1 182.3h0.85v0.85h-0.85zM487.8 196.2h0.85v0.85h-0.85zM491.0 188.6h0.85v0.85h-0.85zM490.1 213.5h0.85v0.85h-0.85zM489.8 199.7h0.85v0.85h-0.85zM484.4 182.9h0.85v0.85h-0.85zM483.4 187.3h0.85v0.85h-0.85zM487.1 192.6h0.85v0.85h-0.85zM487.2 202.1h0.85v0.85h-0.85zM490.0 205.8h0.85v0.85h-0.85zM488.8 202.2h0.85v0.85h-0.85zM489.9 200.4h0.85v0.85h-0.85zM487.2 184.8h0.85v0.85h-0.85zM486.6 196.2h0.85v0.85h-0.85zM489.6 190.6h0.85v0.85h-0.85zM490.4 204.8h0.85v0.85h-0.85zM489.1 182.7h0.85v0.85h-0.85zM486.2 197.0h0.85v0.85h-0.85zM490.3 201.8h0.85v0.85h-0.85zM488.4 189.1h0.85v0.85h-0.85zM486.6 204.0h0.85v0.85h-0.85zM489.9 186.3h0.85v0.85h-0.85zM488.5 186.9h0.85v0.85h-0.85zM489.4 196.2h0.85v0.85h-0.85zM495.9 190.0h0.85v0.85h-0.85zM496.6 181.9h0.85v0.85h-0.85zM488.7 208.9h0.85v0.85h-0.85zM492.0 183.5h0.85v0.85h-0.85zM486.5 194.6h0.85v0.85h-0.85zM483.1 192.4h0.85v0.85h-0.85zM488.9 204.6h0.85v0.85h-0.85zM491.4 179.9h0.85v0.85h-0.85zM486.3 200.4h0.85v0.85h-0.85zM489.8 202.2h0.85v0.85h-0.85zM488.6 193.2h0.85v0.85h-0.85zM485.6 195.8h0.85v0.85h-0.85zM487.4 200.1h0.85v0.85h-0.85zM487.8 206.2h0.85v0.85h-0.85zM487.1 188.2h0.85v0.85h-0.85zM490.6 206.9h0.85v0.85h-0.85zM489.6 204.8h0.85v0.85h-0.85zM490.4 199.1h0.85v0.85h-0.85zM487.0 186.2h0.85v0.85h-0.85zM481.5 194.2h0.85v0.85h-0.85zM486.0 203.4h0.85v0.85h-0.85zM492.2 191.9h0.85v0.85h-0.85zM492.0 187.7h0.85v0.85h-0.85zM488.4 213.9h0.85v0.85h-0.85zM483.2 195.2h0.85v0.85h-0.85zM488.7 188.4h0.85v0.85h-0.85zM488.4 206.7h0.85v0.85h-0.85zM485.1 184.7h0.85v0.85h-0.85zM487.5 192.8h0.85v0.85h-0.85zM491.9 187.4h0.85v0.85h-0.85zM488.8 207.5h0.85v0.85h-0.85zM488.1 186.8h0.85v0.85h-0.85zM488.4 183.5h0.85v0.85h-0.85zM491.1 194.7h0.85v0.85h-0.85zM485.3 205.5h0.85v0.85h-0.85zM487.4 205.2h0.85v0.85h-0.85zM486.0 187.8h0.85v0.85h-0.85zM484.4 196.4h0.85v0.85h-0.85zM492.1 190.6h0.85v0.85h-0.85zM497.0 183.1h0.85v0.85h-0.85zM488.6 201.6h0.85v0.85h-0.85zM489.0 193.1h0.85v0.85h-0.85zM491.7 201.5h0.85v0.85h-0.85zM487.3 196.8h0.85v0.85h-0.85zM488.5 195.1h0.85v0.85h-0.85zM486.8 209.0h0.85v0.85h-0.85zM488.6 204.1h0.85v0.85h-0.85zM493.8 211.5h0.85v0.85h-0.85zM490.5 185.9h0.85v0.85h-0.85zM489.4 188.5h0.85v0.85h-0.85zM489.0 186.8h0.85v0.85h-0.85zM488.0 203.4h0.85v0.85h-0.85zM492.8 195.0h0.85v0.85h-0.85zM489.1 204.0h0.85v0.85h-0.85zM490.5 186.5h0.85v0.85h-0.85zM489.3 201.4h0.85v0.85h-0.85zM490.8 194.2h0.85v0.85h-0.85zM489.5 197.9h0.85v0.85h-0.85zM485.0 196.8h0.85v0.85h-0.85zM489.6 204.0h0.85v0.85h-0.85zM488.4 185.7h0.85v0.85h-0.85zM490.5 192.1h0.85v0.85h-0.85zM487.5 186.5h0.85v0.85h-0.85zM485.3 182.8h0.85v0.85h-0.85zM489.2 194.0h0.85v0.85h-0.85zM487.7 190.6h0.85v0.85h-0.85zM487.5 197.0h0.85v0.85h-0.85zM491.5 195.0h0.85v0.85h-0.85zM490.4 191.4h0.85v0.85h-0.85zM486.4 204.2h0.85v0.85h-0.85zM490.4 204.9h0.85v0.85h-0.85zM488.3 188.4h0.85v0.85h-0.85zM492.2 187.7h0.85v0.85h-0.85zM490.4 197.5h0.85v0.85h-0.85zM492.0 190.9h0.85v0.85h-0.85zM487.4 180.7h0.85v0.85h-0.85zM488.4 195.1h0.85v0.85h-0.85zM489.1 187.7h0.85v0.85h-0.85zM481.6 187.2h0.85v0.85h-0.85zM486.1 197.3h0.85v0.85h-0.85zM480.1 191.6h0.85v0.85h-0.85zM489.4 198.1h0.85v0.85h-0.85zM487.9 209.5h0.85v0.85h-0.85zM490.3 195.7h0.85v0.85h-0.85zM487.7 195.7h0.85v0.85h-0.85zM484.2 193.2h0.85v0.85h-0.85zM490.9 206.5h0.85v0.85h-0.85zM485.0 192.3h0.85v0.85h-0.85zM492.4 189.1h0.85v0.85h-0.85zM485.2 190.1h0.85v0.85h-0.85zM488.9 181.1h0.85v0.85h-0.85zM492.2 186.5h0.85v0.85h-0.85zM490.1 201.5h0.85v0.85h-0.85zM487.9 205.0h0.85v0.85h-0.85zM490.2 199.7h0.85v0.85h-0.85zM488.1 190.2h0.85v0.85h-0.85zM486.3 191.6h0.85v0.85h-0.85zM489.1 207.9h0.85v0.85h-0.85zM488.0 203.1h0.85v0.85h-0.85zM483.9 207.0h0.85v0.85h-0.85zM490.7 184.3h0.85v0.85h-0.85zM489.9 186.9h0.85v0.85h-0.85zM486.9 192.7h0.85v0.85h-0.85zM490.0 200.9h0.85v0.85h-0.85zM489.8 197.4h0.85v0.85h-0.85zM492.4 195.1h0.85v0.85h-0.85zM485.9 191.7h0.85v0.85h-0.85zM486.9 206.6h0.85v0.85h-0.85zM489.4 209.7h0.85v0.85h-0.85zM491.6 197.6h0.85v0.85h-0.85zM487.7 188.2h0.85v0.85h-0.85zM490.2 204.7h0.85v0.85h-0.85zM489.2 200.3h0.85v0.85h-0.85zM489.3 200.5h0.85v0.85h-0.85zM490.2 198.5h0.85v0.85h-0.85zM484.9 201.6h0.85v0.85h-0.85zM486.4 198.5h0.85v0.85h-0.85zM491.0 183.7h0.85v0.85h-0.85zM490.1 208.5h0.85v0.85h-0.85zM493.0 210.9h0.85v0.85h-0.85zM489.0 198.8h0.85v0.85h-0.85zM492.3 195.8h0.85v0.85h-0.85zM489.5 204.6h0.85v0.85h-0.85zM492.6 197.0h0.85v0.85h-0.85zM489.6 205.0h0.85v0.85h-0.85zM486.5 208.6h0.85v0.85h-0.85zM487.7 197.0h0.85v0.85h-0.85zM489.4 189.8h0.85v0.85h-0.85zM490.0 201.3h0.85v0.85h-0.85zM485.6 200.3h0.85v0.85h-0.85zM492.0 196.4h0.85v0.85h-0.85zM489.7 204.6h0.85v0.85h-0.85zM489.3 188.5h0.85v0.85h-0.85zM484.2 200.5h0.85v0.85h-0.85zM487.9 198.8h0.85v0.85h-0.85zM485.8 199.8h0.85v0.85h-0.85zM492.7 197.8h0.85v0.85h-0.85zM488.9 203.7h0.85v0.85h-0.85zM491.5 193.1h0.85v0.85h-0.85zM491.1 207.2h0.85v0.85h-0.85zM486.3 201.5h0.85v0.85h-0.85zM487.6 191.0h0.85v0.85h-0.85zM485.7 183.9h0.85v0.85h-0.85zM494.6 186.1h0.85v0.85h-0.85zM487.4 189.7h0.85v0.85h-0.85zM486.7 201.9h0.85v0.85h-0.85zM489.8 194.4h0.85v0.85h-0.85zM489.5 206.9h0.85v0.85h-0.85zM489.7 196.0h0.85v0.85h-0.85zM488.8 204.2h0.85v0.85h-0.85zM490.9 184.1h0.85v0.85h-0.85zM490.9 199.7h0.85v0.85h-0.85zM491.8 201.6h0.85v0.85h-0.85zM483.0 191.0h0.85v0.85h-0.85zM486.5 207.9h0.85v0.85h-0.85zM489.4 203.3h0.85v0.85h-0.85zM486.6 178.2h0.85v0.85h-0.85zM489.4 188.1h0.85v0.85h-0.85zM484.7 187.9h0.85v0.85h-0.85zM490.5 185.7h0.85v0.85h-0.85zM491.5 189.4h0.85v0.85h-0.85zM486.4 190.6h0.85v0.85h-0.85zM490.6 196.5h0.85v0.85h-0.85zM492.9 181.8h0.85v0.85h-0.85zM491.1 191.6h0.85v0.85h-0.85zM489.4 202.8h0.85v0.85h-0.85zM490.9 186.7h0.85v0.85h-0.85zM490.9 184.9h0.85v0.85h-0.85zM488.0 211.0h0.85v0.85h-0.85zM488.9 205.3h0.85v0.85h-0.85zM491.0 185.2h0.85v0.85h-0.85zM493.2 190.9h0.85v0.85h-0.85zM487.0 202.8h0.85v0.85h-0.85zM483.9 191.9h0.85v0.85h-0.85zM489.7 204.8h0.85v0.85h-0.85zM491.4 202.9h0.85v0.85h-0.85zM484.6 204.5h0.85v0.85h-0.85zM487.9 194.1h0.85v0.85h-0.85zM490.6 208.5h0.85v0.85h-0.85zM493.4 198.3h0.85v0.85h-0.85zM487.7 185.8h0.85v0.85h-0.85zM492.2 199.8h0.85v0.85h-0.85zM491.7 185.6h0.85v0.85h-0.85zM491.0 203.6h0.85v0.85h-0.85zM485.8 200.4h0.85v0.85h-0.85zM481.8 196.9h0.85v0.85h-0.85zM488.3 210.6h0.85v0.85h-0.85zM486.3 195.6h0.85v0.85h-0.85zM492.1 191.8h0.85v0.85h-0.85zM487.7 200.3h0.85v0.85h-0.85zM490.2 198.1h0.85v0.85h-0.85zM486.8 208.6h0.85v0.85h-0.85zM492.1 192.3h0.85v0.85h-0.85zM488.8 211.7h0.85v0.85h-0.85zM486.9 209.0h0.85v0.85h-0.85zM493.0 195.4h0.85v0.85h-0.85zM491.4 199.2h0.85v0.85h-0.85zM487.8 206.6h0.85v0.85h-0.85zM488.2 204.0h0.85v0.85h-0.85zM491.6 180.9h0.85v0.85h-0.85zM492.5 207.0h0.85v0.85h-0.85zM489.0 203.1h0.85v0.85h-0.85zM489.4 197.4h0.85v0.85h-0.85zM486.1 182.4h0.85v0.85h-0.85zM488.0 202.2h0.85v0.85h-0.85zM489.9 196.8h0.85v0.85h-0.85zM487.6 189.3h0.85v0.85h-0.85zM489.4 207.5h0.85v0.85h-0.85zM488.7 201.8h0.85v0.85h-0.85zM489.4 193.8h0.85v0.85h-0.85zM486.7 192.8h0.85v0.85h-0.85zM486.8 193.9h0.85v0.85h-0.85zM492.0 194.2h0.85v0.85h-0.85zM489.0 199.1h0.85v0.85h-0.85zM487.8 200.7h0.85v0.85h-0.85zM490.7 203.8h0.85v0.85h-0.85zM491.5 186.5h0.85v0.85h-0.85zM488.5 193.4h0.85v0.85h-0.85zM490.4 195.9h0.85v0.85h-0.85zM489.4 205.5h0.85v0.85h-0.85zM486.1 187.6h0.85v0.85h-0.85zM488.3 195.0h0.85v0.85h-0.85zM490.1 208.7h0.85v0.85h-0.85zM486.7 196.8h0.85v0.85h-0.85zM486.7 189.4h0.85v0.85h-0.85zM487.9 195.6h0.85v0.85h-0.85zM490.7 197.5h0.85v0.85h-0.85zM487.5 200.3h0.85v0.85h-0.85zM489.3 197.7h0.85v0.85h-0.85zM491.6 181.5h0.85v0.85h-0.85zM491.4 191.4h0.85v0.85h-0.85zM486.0 195.6h0.85v0.85h-0.85zM489.5 180.9h0.85v0.85h-0.85zM488.5 187.4h0.85v0.85h-0.85zM488.9 206.6h0.85v0.85h-0.85zM491.4 185.6h0.85v0.85h-0.85zM491.8 203.8h0.85v0.85h-0.85zM490.0 189.2h0.85v0.85h-0.85zM487.4 198.0h0.85v0.85h-0.85zM484.9 200.3h0.85v0.85h-0.85zM486.8 205.2h0.85v0.85h-0.85zM489.9 201.8h0.85v0.85h-0.85zM489.2 196.0h0.85v0.85h-0.85zM489.1 187.7h0.85v0.85h-0.85zM482.9 179.1h0.85v0.85h-0.85zM494.3 198.8h0.85v0.85h-0.85zM487.4 208.4h0.85v0.85h-0.85zM484.6 195.6h0.85v0.85h-0.85zM489.6 198.1h0.85v0.85h-0.85zM484.2 199.6h0.85v0.85h-0.85zM491.3 192.3h0.85v0.85h-0.85zM488.3 206.0h0.85v0.85h-0.85zM486.0 207.3h0.85v0.85h-0.85zM485.1 200.8h0.85v0.85h-0.85zM488.3 193.9h0.85v0.85h-0.85zM487.1 179.6h0.85v0.85h-0.85zM487.6 198.2h0.85v0.85h-0.85zM488.9 209.3h0.85v0.85h-0.85zM486.0 206.7h0.85v0.85h-0.85zM488.6 193.3h0.85v0.85h-0.85zM490.9 193.6h0.85v0.85h-0.85zM488.9 193.8h0.85v0.85h-0.85zM488.9 194.8h0.85v0.85h-0.85zM487.0 209.4h0.85v0.85h-0.85zM489.4 203.4h0.85v0.85h-0.85zM486.4 187.3h0.85v0.85h-0.85zM482.9 187.1h0.85v0.85h-0.85zM491.9 209.6h0.85v0.85h-0.85zM484.8 189.7h0.85v0.85h-0.85zM487.5 194.7h0.85v0.85h-0.85zM488.6 195.9h0.85v0.85h-0.85zM485.1 195.8h0.85v0.85h-0.85zM488.9 191.9h0.85v0.85h-0.85zM488.7 203.6h0.85v0.85h-0.85zM489.8 182.5h0.85v0.85h-0.85zM493.8 185.1h0.85v0.85h-0.85zM483.3 186.7h0.85v0.85h-0.85zM490.7 198.6h0.85v0.85h-0.85zM489.8 205.7h0.85v0.85h-0.85zM488.2 202.7h0.85v0.85h-0.85zM488.5 194.8h0.85v0.85h-0.85zM484.0 190.1h0.85v0.85h-0.85zM489.6 207.0h0.85v0.85h-0.85zM487.4 187.8h0.85v0.85h-0.85zM488.7 191.3h0.85v0.85h-0.85zM488.2 198.7h0.85v0.85h-0.85zM488.7 186.3h0.85v0.85h-0.85zM487.2 202.1h0.85v0.85h-0.85zM491.3 189.0h0.85v0.85h-0.85zM489.6 201.6h0.85v0.85h-0.85zM488.1 180.7h0.85v0.85h-0.85zM494.5 200.8h0.85v0.85h-0.85zM492.4 200.4h0.85v0.85h-0.85zM489.6 200.6h0.85v0.85h-0.85zM486.4 210.4h0.85v0.85h-0.85zM488.1 204.6h0.85v0.85h-0.85zM488.0 206.4h0.85v0.85h-0.85zM487.5 190.4h0.85v0.85h-0.85zM490.0 207.9h0.85v0.85h-0.85zM489.3 205.0h0.85v0.85h-0.85zM489.5 199.7h0.85v0.85h-0.85zM487.2 199.7h0.85v0.85h-0.85zM493.0 208.7h0.85v0.85h-0.85zM488.4 195.5h0.85v0.85h-0.85zM492.2 186.8h0.85v0.85h-0.85zM493.0 184.2h0.85v0.85h-0.85zM488.8 184.6h0.85v0.85h-0.85zM487.9 181.8h0.85v0.85h-0.85zM488.8 200.9h0.85v0.85h-0.85zM478.7 194.6h0.85v0.85h-0.85zM489.8 190.3h0.85v0.85h-0.85zM494.5 198.3h0.85v0.85h-0.85zM488.6 208.0h0.85v0.85h-0.85zM488.5 203.6h0.85v0.85h-0.85zM485.7 193.4h0.85v0.85h-0.85zM488.8 194.9h0.85v0.85h-0.85zM486.5 191.1h0.85v0.85h-0.85zM487.8 204.0h0.85v0.85h-0.85zM489.2 192.4h0.85v0.85h-0.85zM487.5 193.5h0.85v0.85h-0.85zM490.4 201.7h0.85v0.85h-0.85zM488.9 201.2h0.85v0.85h-0.85zM483.2 192.8h0.85v0.85h-0.85zM488.4 203.5h0.85v0.85h-0.85zM491.8 203.6h0.85v0.85h-0.85zM487.7 194.6h0.85v0.85h-0.85zM491.0 197.6h0.85v0.85h-0.85zM492.8 201.6h0.85v0.85h-0.85zM487.2 204.9h0.85v0.85h-0.85zM486.9 196.9h0.85v0.85h-0.85zM491.4 194.9h0.85v0.85h-0.85zM496.1 184.2h0.85v0.85h-0.85zM485.2 195.0h0.85v0.85h-0.85zM491.4 181.1h0.85v0.85h-0.85zM487.6 201.5h0.85v0.85h-0.85zM488.7 189.5h0.85v0.85h-0.85zM485.1 186.9h0.85v0.85h-0.85zM484.1 189.7h0.85v0.85h-0.85zM488.8 206.0h0.85v0.85h-0.85zM491.4 196.6h0.85v0.85h-0.85zM489.9 200.2h0.85v0.85h-0.85zM489.3 204.3h0.85v0.85h-0.85zM486.0 200.0h0.85v0.85h-0.85zM483.4 196.5h0.85v0.85h-0.85zM490.2 194.7h0.85v0.85h-0.85zM486.3 186.9h0.85v0.85h-0.85zM489.8 188.3h0.85v0.85h-0.85zM494.1 186.2h0.85v0.85h-0.85zM489.7 198.3h0.85v0.85h-0.85zM486.8 208.6h0.85v0.85h-0.85zM487.4 200.0h0.85v0.85h-0.85zM489.8 191.2h0.85v0.85h-0.85zM490.0 194.4h0.85v0.85h-0.85zM485.4 202.2h0.85v0.85h-0.85zM487.2 190.0h0.85v0.85h-0.85zM487.5 198.3h0.85v0.85h-0.85zM489.0 203.5h0.85v0.85h-0.85zM491.1 205.7h0.85v0.85h-0.85zM489.5 207.9h0.85v0.85h-0.85zM492.8 186.1h0.85v0.85h-0.85zM488.8 210.9h0.85v0.85h-0.85zM488.6 200.8h0.85v0.85h-0.85zM487.9 181.4h0.85v0.85h-0.85zM487.5 207.0h0.85v0.85h-0.85zM492.6 186.7h0.85v0.85h-0.85zM488.9 186.5h0.85v0.85h-0.85zM490.1 204.3h0.85v0.85h-0.85zM489.7 182.6h0.85v0.85h-0.85zM492.6 192.7h0.85v0.85h-0.85zM487.1 180.0h0.85v0.85h-0.85zM491.7 201.8h0.85v0.85h-0.85zM486.0 190.4h0.85v0.85h-0.85zM487.7 207.0h0.85v0.85h-0.85zM484.3 185.0h0.85v0.85h-0.85zM486.6 185.9h0.85v0.85h-0.85zM487.9 206.9h0.85v0.85h-0.85zM493.2 193.5h0.85v0.85h-0.85zM487.3 195.3h0.85v0.85h-0.85zM486.7 182.3h0.85v0.85h-0.85zM488.7 185.6h0.85v0.85h-0.85zM490.4 188.7h0.85v0.85h-0.85zM487.6 204.7h0.85v0.85h-0.85zM489.5 196.6h0.85v0.85h-0.85zM489.0 185.6h0.85v0.85h-0.85zM485.5 199.1h0.85v0.85h-0.85zM488.3 196.1h0.85v0.85h-0.85zM486.9 209.4h0.85v0.85h-0.85zM489.9 208.6h0.85v0.85h-0.85zM491.1 186.1h0.85v0.85h-0.85zM488.2 185.1h0.85v0.85h-0.85zM491.4 198.2h0.85v0.85h-0.85zM489.0 209.7h0.85v0.85h-0.85zM489.7 204.0h0.85v0.85h-0.85zM489.6 187.6h0.85v0.85h-0.85zM486.0 196.2h0.85v0.85h-0.85zM488.7 210.9h0.85v0.85h-0.85zM493.9 186.6h0.85v0.85h-0.85zM485.8 195.4h0.85v0.85h-0.85zM490.1 193.1h0.85v0.85h-0.85zM489.3 192.3h0.85v0.85h-0.85zM491.6 207.6h0.85v0.85h-0.85zM494.7 185.4h0.85v0.85h-0.85zM488.1 196.3h0.85v0.85h-0.85zM487.2 208.2h0.85v0.85h-0.85zM493.0 198.5h0.85v0.85h-0.85zM490.8 183.3h0.85v0.85h-0.85zM487.2 186.6h0.85v0.85h-0.85zM488.9 187.6h0.85v0.85h-0.85zM485.5 196.3h0.85v0.85h-0.85zM494.4 181.1h0.85v0.85h-0.85zM487.2 202.0h0.85v0.85h-0.85zM490.3 197.8h0.85v0.85h-0.85zM485.7 203.5h0.85v0.85h-0.85zM491.1 196.1h0.85v0.85h-0.85zM488.7 211.9h0.85v0.85h-0.85zM487.0 210.1h0.85v0.85h-0.85zM490.7 185.9h0.85v0.85h-0.85zM489.6 191.6h0.85v0.85h-0.85zM488.2 192.9h0.85v0.85h-0.85zM490.8 187.0h0.85v0.85h-0.85zM488.4 199.6h0.85v0.85h-0.85zM488.6 191.1h0.85v0.85h-0.85zM489.7 206.7h0.85v0.85h-0.85zM489.0 199.8h0.85v0.85h-0.85zM487.2 180.4h0.85v0.85h-0.85zM487.6 191.4h0.85v0.85h-0.85zM487.4 195.2h0.85v0.85h-0.85zM493.4 182.3h0.85v0.85h-0.85zM495.0 197.0h0.85v0.85h-0.85zM492.9 200.9h0.85v0.85h-0.85zM486.3 206.8h0.85v0.85h-0.85zM482.2 191.1h0.85v0.85h-0.85zM487.9 191.9h0.85v0.85h-0.85zM488.4 199.0h0.85v0.85h-0.85zM490.4 195.2h0.85v0.85h-0.85zM488.8 190.7h0.85v0.85h-0.85zM490.4 192.3h0.85v0.85h-0.85zM491.2 210.2h0.85v0.85h-0.85zM488.6 188.9h0.85v0.85h-0.85zM489.3 197.2h0.85v0.85h-0.85zM487.6 201.3h0.85v0.85h-0.85zM484.1 189.0h0.85v0.85h-0.85zM486.7 205.2h0.85v0.85h-0.85zM490.0 184.9h0.85v0.85h-0.85zM490.5 204.6h0.85v0.85h-0.85zM488.4 190.7h0.85v0.85h-0.85zM490.2 188.2h0.85v0.85h-0.85zM485.3 196.9h0.85v0.85h-0.85zM491.3 185.7h0.85v0.85h-0.85zM490.6 202.7h0.85v0.85h-0.85zM484.8 185.2h0.85v0.85h-0.85zM487.5 188.5h0.85v0.85h-0.85zM489.7 203.9h0.85v0.85h-0.85zM489.9 194.0h0.85v0.85h-0.85zM491.7 185.1h0.85v0.85h-0.85zM486.2 201.5h0.85v0.85h-0.85zM492.0 195.1h0.85v0.85h-0.85zM484.4 177.8h0.85v0.85h-0.85zM491.5 193.3h0.85v0.85h-0.85zM486.7 199.1h0.85v0.85h-0.85zM491.2 182.4h0.85v0.85h-0.85zM483.5 179.9h0.85v0.85h-0.85zM490.1 204.7h0.85v0.85h-0.85zM490.6 193.1h0.85v0.85h-0.85zM490.0 192.8h0.85v0.85h-0.85zM488.6 208.7h0.85v0.85h-0.85zM489.9 192.0h0.85v0.85h-0.85zM492.9 211.4h0.85v0.85h-0.85zM486.9 192.1h0.85v0.85h-0.85zM490.4 200.2h0.85v0.85h-0.85zM490.0 198.3h0.85v0.85h-0.85zM487.6 202.6h0.85v0.85h-0.85zM490.3 184.4h0.85v0.85h-0.85zM488.9 208.5h0.85v0.85h-0.85zM488.7 194.1h0.85v0.85h-0.85zM489.1 202.1h0.85v0.85h-0.85zM491.3 196.3h0.85v0.85h-0.85zM486.3 181.6h0.85v0.85h-0.85zM488.3 194.5h0.85v0.85h-0.85zM486.8 184.5h0.85v0.85h-0.85zM487.7 190.5h0.85v0.85h-0.85zM489.5 193.1h0.85v0.85h-0.85zM490.0 198.2h0.85v0.85h-0.85zM492.8 190.6h0.85v0.85h-0.85zM487.1 200.9h0.85v0.85h-0.85zM485.6 190.5h0.85v0.85h-0.85zM488.3 195.0h0.85v0.85h-0.85zM493.0 191.3h0.85v0.85h-0.85zM484.0 182.5h0.85v0.85h-0.85zM488.3 186.4h0.85v0.85h-0.85zM486.6 212.2h0.85v0.85h-0.85zM492.0 204.8h0.85v0.85h-0.85zM491.7 191.0h0.85v0.85h-0.85zM486.5 202.8h0.85v0.85h-0.85zM490.8 190.8h0.85v0.85h-0.85zM487.3 189.5h0.85v0.85h-0.85zM490.8 185.3h0.85v0.85h-0.85zM486.8 196.7h0.85v0.85h-0.85zM488.0 199.9h0.85v0.85h-0.85zM488.9 188.3h0.85v0.85h-0.85zM492.0 202.0h0.85v0.85h-0.85zM490.2 190.8h0.85v0.85h-0.85zM487.0 192.0h0.85v0.85h-0.85zM486.2 189.3h0.85v0.85h-0.85zM487.6 200.4h0.85v0.85h-0.85zM483.8 187.7h0.85v0.85h-0.85zM484.5 200.6h0.85v0.85h-0.85zM488.7 198.3h0.85v0.85h-0.85zM493.9 201.8h0.85v0.85h-0.85zM490.0 189.0h0.85v0.85h-0.85zM493.6 204.7h0.85v0.85h-0.85zM488.9 187.4h0.85v0.85h-0.85zM486.9 195.3h0.85v0.85h-0.85zM489.4 206.7h0.85v0.85h-0.85zM490.3 206.1h0.85v0.85h-0.85zM491.4 200.1h0.85v0.85h-0.85zM489.4 184.1h0.85v0.85h-0.85zM489.4 192.4h0.85v0.85h-0.85zM486.7 197.3h0.85v0.85h-0.85zM482.9 189.3h0.85v0.85h-0.85zM491.2 184.7h0.85v0.85h-0.85zM494.6 191.7h0.85v0.85h-0.85zM492.1 186.2h0.85v0.85h-0.85zM491.3 180.4h0.85v0.85h-0.85zM488.6 187.4h0.85v0.85h-0.85zM489.3 187.2h0.85v0.85h-0.85zM485.2 200.0h0.85v0.85h-0.85zM487.6 191.6h0.85v0.85h-0.85zM487.2 197.9h0.85v0.85h-0.85zM487.8 198.7h0.85v0.85h-0.85zM490.1 202.6h0.85v0.85h-0.85zM489.9 206.9h0.85v0.85h-0.85zM489.2 181.7h0.85v0.85h-0.85zM493.0 191.2h0.85v0.85h-0.85zM484.7 191.5h0.85v0.85h-0.85zM491.9 197.2h0.85v0.85h-0.85zM489.5 197.8h0.85v0.85h-0.85zM489.9 199.2h0.85v0.85h-0.85zM488.6 202.8h0.85v0.85h-0.85zM490.5 194.6h0.85v0.85h-0.85zM487.2 191.1h0.85v0.85h-0.85zM490.5 198.5h0.85v0.85h-0.85zM488.7 200.8h0.85v0.85h-0.85zM482.9 195.0h0.85v0.85h-0.85zM490.5 205.3h0.85v0.85h-0.85zM491.7 182.2h0.85v0.85h-0.85zM487.0 196.6h0.85v0.85h-0.85zM483.6 183.2h0.85v0.85h-0.85zM489.2 195.5h0.85v0.85h-0.85zM492.9 208.0h0.85v0.85h-0.85zM489.9 202.7h0.85v0.85h-0.85zM490.6 206.4h0.85v0.85h-0.85zM486.8 188.2h0.85v0.85h-0.85zM493.2 196.4h0.85v0.85h-0.85zM488.0 193.6h0.85v0.85h-0.85zM490.5 180.9h0.85v0.85h-0.85zM492.0 202.1h0.85v0.85h-0.85zM494.3 198.0h0.85v0.85h-0.85zM490.0 181.0h0.85v0.85h-0.85zM490.2 204.7h0.85v0.85h-0.85zM485.4 188.4h0.85v0.85h-0.85zM491.1 199.8h0.85v0.85h-0.85zM484.3 184.7h0.85v0.85h-0.85zM489.8 188.4h0.85v0.85h-0.85zM484.4 199.5h0.85v0.85h-0.85zM495.3 187.5h0.85v0.85h-0.85zM494.0 201.5h0.85v0.85h-0.85zM489.8 213.7h0.85v0.85h-0.85zM488.9 212.9h0.85v0.85h-0.85zM485.1 197.1h0.85v0.85h-0.85zM489.2 201.8h0.85v0.85h-0.85zM487.6 205.2h0.85v0.85h-0.85zM494.0 189.3h0.85v0.85h-0.85zM488.6 210.3h0.85v0.85h-0.85zM488.7 210.0h0.85v0.85h-0.85zM489.0 211.5h0.85v0.85h-0.85zM486.7 212.4h0.85v0.85h-0.85zM487.1 208.7h0.85v0.85h-0.85zM485.6 214.3h0.85v0.85h-0.85zM488.0 210.5h0.85v0.85h-0.85zM489.5 210.1h0.85v0.85h-0.85zM482.8 210.9h0.85v0.85h-0.85zM485.8 209.3h0.85v0.85h-0.85zM489.6 215.9h0.85v0.85h-0.85zM487.9 209.2h0.85v0.85h-0.85zM486.8 208.0h0.85v0.85h-0.85zM489.7 213.4h0.85v0.85h-0.85zM488.6 208.9h0.85v0.85h-0.85zM487.8 211.8h0.85v0.85h-0.85zM487.1 213.1h0.85v0.85h-0.85zM485.8 209.4h0.85v0.85h-0.85zM490.1 212.4h0.85v0.85h-0.85zM489.9 213.6h0.85v0.85h-0.85zM487.5 214.3h0.85v0.85h-0.85zM487.6 215.8h0.85v0.85h-0.85zM486.9 209.7h0.85v0.85h-0.85zM486.2 215.9h0.85v0.85h-0.85zM491.1 215.7h0.85v0.85h-0.85zM490.3 215.9h0.85v0.85h-0.85zM485.4 214.6h0.85v0.85h-0.85zM489.9 208.2h0.85v0.85h-0.85zM485.3 212.3h0.85v0.85h-0.85zM486.9 209.4h0.85v0.85h-0.85z" fill="#000" fill-opacity="0.85"/>
<path d="M486.6 182.4h0.85v0.85h-0.85zM488.5 172.2h0.85v0.85h-0.85zM492.6 177.9h0.85v0.85h-0.85zM490.9 181.0h0.85v0.85h-0.85zM485.9 171.2h0.85v0.85h-0.85zM483.7 180.2h0.85v0.85h-0.85zM489.5 176.7h0.85v0.85h-0.85zM486.2 177.9h0.85v0.85h-0.85zM479.0 171.9h0.85v0.85h-0.85zM489.8 175.9h0.85v0.85h-0.85zM489.1 177.4h0.85v0.85h-0.85zM486.1 178.8h0.85v0.85h-0.85zM485.8 180.6h0.85v0.85h-0.85zM492.1 183.5h0.85v0.85h-0.85zM486.7 173.2h0.85v0.85h-0.85zM486.2 176.9h0.85v0.85h-0.85zM489.0 182.8h0.85v0.85h-0.85zM491.2 181.8h0.85v0.85h-0.85zM485.6 181.1h0.85v0.85h-0.85zM489.5 184.0h0.85v0.85h-0.85zM490.6 175.7h0.85v0.85h-0.85zM481.8 177.3h0.85v0.85h-0.85zM487.2 184.2h0.85v0.85h-0.85zM485.8 182.2h0.85v0.85h-0.85zM489.6 178.9h0.85v0.85h-0.85zM484.9 180.7h0.85v0.85h-0.85zM489.7 174.8h0.85v0.85h-0.85zM485.3 181.2h0.85v0.85h-0.85zM485.3 173.2h0.85v0.85h-0.85zM487.6 181.6h0.85v0.85h-0.85zM489.2 173.6h0.85v0.85h-0.85zM486.7 179.0h0.85v0.85h-0.85zM486.9 182.1h0.85v0.85h-0.85zM485.5 181.0h0.85v0.85h-0.85zM487.7 176.3h0.85v0.85h-0.85zM491.6 173.7h0.85v0.85h-0.85zM486.7 175.9h0.85v0.85h-0.85zM490.4 184.4h0.85v0.85h-0.85zM488.9 181.8h0.85v0.85h-0.85zM484.9 181.1h0.85v0.85h-0.85zM491.5 171.1h0.85v0.85h-0.85zM482.8 181.7h0.85v0.85h-0.85zM490.3 178.1h0.85v0.85h-0.85zM491.0 181.5h0.85v0.85h-0.85zM490.8 179.9h0.85v0.85h-0.85zM487.2 180.6h0.85v0.85h-0.85zM491.5 183.1h0.85v0.85h-0.85zM493.7 183.2h0.85v0.85h-0.85zM484.3 176.4h0.85v0.85h-0.85zM483.4 172.6h0.85v0.85h-0.85zM486.7 178.2h0.85v0.85h-0.85zM487.9 183.5h0.85v0.85h-0.85zM489.8 183.5h0.85v0.85h-0.85zM487.8 175.1h0.85v0.85h-0.85zM484.5 172.0h0.85v0.85h-0.85zM482.8 180.0h0.85v0.85h-0.85zM484.3 176.5h0.85v0.85h-0.85zM485.1 172.4h0.85v0.85h-0.85zM486.6 181.8h0.85v0.85h-0.85zM485.4 174.2h0.85v0.85h-0.85zM491.3 180.6h0.85v0.85h-0.85zM493.1 174.6h0.85v0.85h-0.85zM485.0 172.4h0.85v0.85h-0.85zM485.2 173.5h0.85v0.85h-0.85zM489.3 171.8h0.85v0.85h-0.85zM489.8 184.9h0.85v0.85h-0.85zM492.1 173.7h0.85v0.85h-0.85zM488.0 180.7h0.85v0.85h-0.85zM486.9 172.3h0.85v0.85h-0.85zM490.1 184.0h0.85v0.85h-0.85zM489.2 178.1h0.85v0.85h-0.85zM486.3 182.0h0.85v0.85h-0.85zM484.5 174.0h0.85v0.85h-0.85zM484.2 181.6h0.85v0.85h-0.85zM492.6 177.8h0.85v0.85h-0.85zM487.1 179.7h0.85v0.85h-0.85zM496.3 178.4h0.85v0.85h-0.85zM485.0 171.5h0.85v0.85h-0.85zM486.1 175.4h0.85v0.85h-0.85zM490.3 177.9h0.85v0.85h-0.85zM491.2 175.6h0.85v0.85h-0.85zM492.5 172.5h0.85v0.85h-0.85zM485.4 175.3h0.85v0.85h-0.85zM489.3 174.5h0.85v0.85h-0.85zM484.0 180.2h0.85v0.85h-0.85zM497.4 183.1h0.85v0.85h-0.85zM495.6 182.9h0.85v0.85h-0.85zM488.2 183.6h0.85v0.85h-0.85zM489.5 171.1h0.85v0.85h-0.85zM486.6 184.8h0.85v0.85h-0.85zM489.9 183.4h0.85v0.85h-0.85zM482.9 184.3h0.85v0.85h-0.85zM485.7 172.5h0.85v0.85h-0.85zM483.2 176.7h0.85v0.85h-0.85zM488.8 183.7h0.85v0.85h-0.85zM494.2 173.2h0.85v0.85h-0.85zM487.7 172.4h0.85v0.85h-0.85zM484.2 181.3h0.85v0.85h-0.85zM488.0 184.1h0.85v0.85h-0.85zM487.6 184.0h0.85v0.85h-0.85zM488.5 172.8h0.85v0.85h-0.85zM479.5 184.0h0.85v0.85h-0.85zM486.4 173.0h0.85v0.85h-0.85zM485.9 175.7h0.85v0.85h-0.85zM486.6 180.2h0.85v0.85h-0.85zM494.2 178.0h0.85v0.85h-0.85zM484.4 184.3h0.85v0.85h-0.85zM481.7 176.0h0.85v0.85h-0.85zM489.1 175.6h0.85v0.85h-0.85zM489.1 176.2h0.85v0.85h-0.85zM482.5 176.2h0.85v0.85h-0.85zM483.7 175.0h0.85v0.85h-0.85zM483.6 173.2h0.85v0.85h-0.85zM493.5 175.5h0.85v0.85h-0.85zM487.5 183.4h0.85v0.85h-0.85zM487.6 179.9h0.85v0.85h-0.85zM482.9 181.5h0.85v0.85h-0.85zM485.5 180.1h0.85v0.85h-0.85zM489.2 178.8h0.85v0.85h-0.85zM492.5 175.4h0.85v0.85h-0.85zM488.9 174.5h0.85v0.85h-0.85zM487.3 182.2h0.85v0.85h-0.85zM489.7 182.5h0.85v0.85h-0.85zM485.6 181.5h0.85v0.85h-0.85zM483.8 181.9h0.85v0.85h-0.85zM486.3 184.1h0.85v0.85h-0.85zM490.5 183.8h0.85v0.85h-0.85zM492.0 179.8h0.85v0.85h-0.85zM485.7 179.4h0.85v0.85h-0.85zM482.9 184.2h0.85v0.85h-0.85zM493.2 183.3h0.85v0.85h-0.85zM488.8 175.0h0.85v0.85h-0.85zM482.0 179.7h0.85v0.85h-0.85zM483.3 177.2h0.85v0.85h-0.85zM489.6 183.0h0.85v0.85h-0.85zM487.9 172.8h0.85v0.85h-0.85zM483.8 182.3h0.85v0.85h-0.85zM484.5 175.2h0.85v0.85h-0.85zM491.3 176.7h0.85v0.85h-0.85zM491.3 174.9h0.85v0.85h-0.85zM490.7 182.4h0.85v0.85h-0.85zM491.2 182.3h0.85v0.85h-0.85zM487.2 183.8h0.85v0.85h-0.85zM487.3 172.4h0.85v0.85h-0.85zM483.3 171.6h0.85v0.85h-0.85zM490.7 179.7h0.85v0.85h-0.85zM490.6 180.7h0.85v0.85h-0.85zM485.2 184.7h0.85v0.85h-0.85zM485.4 173.7h0.85v0.85h-0.85zM492.0 177.3h0.85v0.85h-0.85zM487.6 176.7h0.85v0.85h-0.85zM489.8 178.3h0.85v0.85h-0.85zM490.1 179.9h0.85v0.85h-0.85zM487.3 178.0h0.85v0.85h-0.85zM486.5 179.4h0.85v0.85h-0.85zM489.8 173.4h0.85v0.85h-0.85zM493.1 172.1h0.85v0.85h-0.85zM484.5 184.8h0.85v0.85h-0.85zM490.9 173.7h0.85v0.85h-0.85zM483.2 183.9h0.85v0.85h-0.85zM486.5 176.4h0.85v0.85h-0.85zM481.7 174.1h0.85v0.85h-0.85zM487.5 172.0h0.85v0.85h-0.85zM490.9 176.8h0.85v0.85h-0.85zM487.1 177.9h0.85v0.85h-0.85zM489.4 177.4h0.85v0.85h-0.85zM484.7 175.6h0.85v0.85h-0.85zM489.2 174.5h0.85v0.85h-0.85zM488.9 180.6h0.85v0.85h-0.85zM486.8 179.3h0.85v0.85h-0.85zM487.6 179.7h0.85v0.85h-0.85zM482.5 183.4h0.85v0.85h-0.85zM484.6 173.2h0.85v0.85h-0.85zM484.8 174.8h0.85v0.85h-0.85zM490.8 177.8h0.85v0.85h-0.85zM487.4 173.3h0.85v0.85h-0.85zM487.2 180.5h0.85v0.85h-0.85zM489.8 179.3h0.85v0.85h-0.85zM495.5 180.5h0.85v0.85h-0.85zM492.3 176.5h0.85v0.85h-0.85zM491.4 179.0h0.85v0.85h-0.85zM484.5 183.0h0.85v0.85h-0.85zM490.2 183.7h0.85v0.85h-0.85zM483.5 178.9h0.85v0.85h-0.85zM490.8 175.0h0.85v0.85h-0.85zM480.2 173.7h0.85v0.85h-0.85zM488.3 177.1h0.85v0.85h-0.85zM480.2 178.9h0.85v0.85h-0.85zM488.5 173.0h0.85v0.85h-0.85zM485.8 178.4h0.85v0.85h-0.85zM490.1 177.7h0.85v0.85h-0.85zM488.4 181.5h0.85v0.85h-0.85zM483.6 184.6h0.85v0.85h-0.85zM483.6 173.9h0.85v0.85h-0.85zM484.1 175.4h0.85v0.85h-0.85zM490.8 180.2h0.85v0.85h-0.85zM486.9 176.2h0.85v0.85h-0.85zM488.5 181.3h0.85v0.85h-0.85zM485.0 184.2h0.85v0.85h-0.85zM486.4 171.4h0.85v0.85h-0.85zM482.4 160.1h0.85v0.85h-0.85zM483.4 164.3h0.85v0.85h-0.85zM481.8 167.5h0.85v0.85h-0.85zM480.8 160.8h0.85v0.85h-0.85zM481.4 158.6h0.85v0.85h-0.85zM486.2 172.5h0.85v0.85h-0.85zM483.8 167.4h0.85v0.85h-0.85zM485.2 165.5h0.85v0.85h-0.85zM482.9 161.8h0.85v0.85h-0.85zM477.6 164.6h0.85v0.85h-0.85zM486.2 171.3h0.85v0.85h-0.85zM483.1 162.2h0.85v0.85h-0.85zM480.0 158.7h0.85v0.85h-0.85zM483.4 176.6h0.85v0.85h-0.85zM477.3 157.9h0.85v0.85h-0.85zM484.9 179.7h0.85v0.85h-0.85zM482.4 165.3h0.85v0.85h-0.85zM483.8 163.8h0.85v0.85h-0.85zM478.0 156.9h0.85v0.85h-0.85zM479.9 157.6h0.85v0.85h-0.85zM484.0 156.3h0.85v0.85h-0.85zM478.5 157.7h0.85v0.85h-0.85zM480.5 162.0h0.85v0.85h-0.85zM485.4 159.9h0.85v0.85h-0.85zM481.7 180.8h0.85v0.85h-0.85zM482.3 158.4h0.85v0.85h-0.85zM483.6 181.0h0.85v0.85h-0.85zM484.3 170.6h0.85v0.85h-0.85zM481.4 171.1h0.85v0.85h-0.85zM479.9 158.8h0.85v0.85h-0.85zM481.6 169.3h0.85v0.85h-0.85zM481.6 160.7h0.85v0.85h-0.85zM485.4 168.5h0.85v0.85h-0.85zM489.9 181.8h0.85v0.85h-0.85zM484.2 172.5h0.85v0.85h-0.85zM483.9 178.5h0.85v0.85h-0.85zM476.1 158.0h0.85v0.85h-0.85zM482.4 165.5h0.85v0.85h-0.85zM483.1 180.4h0.85v0.85h-0.85zM489.5 181.5h0.85v0.85h-0.85zM481.8 162.9h0.85v0.85h-0.85zM478.2 157.8h0.85v0.85h-0.85zM481.7 174.4h0.85v0.85h-0.85zM480.9 173.2h0.85v0.85h-0.85zM484.1 160.4h0.85v0.85h-0.85zM482.7 161.3h0.85v0.85h-0.85zM485.2 177.0h0.85v0.85h-0.85zM484.9 181.4h0.85v0.85h-0.85zM482.1 161.1h0.85v0.85h-0.85zM482.7 162.4h0.85v0.85h-0.85zM481.2 166.2h0.85v0.85h-0.85zM483.8 173.2h0.85v0.85h-0.85zM480.5 159.7h0.85v0.85h-0.85zM484.2 178.2h0.85v0.85h-0.85zM483.4 171.4h0.85v0.85h-0.85zM485.3 168.5h0.85v0.85h-0.85zM483.7 175.0h0.85v0.85h-0.85zM486.7 172.6h0.85v0.85h-0.85zM490.3 180.0h0.85v0.85h-0.85zM479.6 172.9h0.85v0.85h-0.85zM487.6 174.4h0.85v0.85h-0.85zM480.1 158.9h0.85v0.85h-0.85zM475.5 156.7h0.85v0.85h-0.85zM483.2 174.5h0.85v0.85h-0.85zM482.1 158.8h0.85v0.85h-0.85zM486.2 176.8h0.85v0.85h-0.85zM485.6 174.6h0.85v0.85h-0.85zM483.6 172.2h0.85v0.85h-0.85zM487.1 178.9h0.85v0.85h-0.85zM480.5 157.7h0.85v0.85h-0.85zM483.6 166.6h0.85v0.85h-0.85zM479.2 164.9h0.85v0.85h-0.85zM487.8 163.4h0.85v0.85h-0.85zM482.1 157.4h0.85v0.85h-0.85zM480.2 165.7h0.85v0.85h-0.85zM483.8 178.1h0.85v0.85h-0.85zM482.5 171.0h0.85v0.85h-0.85zM490.4 176.8h0.85v0.85h-0.85zM479.6 157.8h0.85v0.85h-0.85zM485.2 172.6h0.85v0.85h-0.85zM490.4 175.9h0.85v0.85h-0.85zM482.1 160.0h0.85v0.85h-0.85zM484.8 179.8h0.85v0.85h-0.85zM482.2 165.5h0.85v0.85h-0.85zM481.4 164.3h0.85v0.85h-0.85zM481.7 173.2h0.85v0.85h-0.85zM484.1 160.0h0.85v0.85h-0.85zM489.4 179.1h0.85v0.85h-0.85zM478.6 165.5h0.85v0.85h-0.85zM482.6 166.2h0.85v0.85h-0.85zM485.6 175.0h0.85v0.85h-0.85zM483.3 162.3h0.85v0.85h-0.85zM481.9 178.7h0.85v0.85h-0.85zM479.4 158.1h0.85v0.85h-0.85zM478.6 166.1h0.85v0.85h-0.85zM485.2 178.6h0.85v0.85h-0.85zM482.9 168.4h0.85v0.85h-0.85zM489.2 181.3h0.85v0.85h-0.85zM481.5 159.9h0.85v0.85h-0.85zM486.3 179.1h0.85v0.85h-0.85zM479.1 160.8h0.85v0.85h-0.85zM482.4 167.4h0.85v0.85h-0.85zM485.3 168.2h0.85v0.85h-0.85zM482.0 168.0h0.85v0.85h-0.85zM483.3 179.5h0.85v0.85h-0.85zM483.0 167.1h0.85v0.85h-0.85zM484.9 177.6h0.85v0.85h-0.85zM481.9 157.6h0.85v0.85h-0.85zM484.8 170.5h0.85v0.85h-0.85zM482.7 172.6h0.85v0.85h-0.85zM483.2 174.7h0.85v0.85h-0.85zM481.6 179.7h0.85v0.85h-0.85zM482.5 159.7h0.85v0.85h-0.85zM485.0 165.5h0.85v0.85h-0.85zM484.4 180.5h0.85v0.85h-0.85zM486.2 175.3h0.85v0.85h-0.85zM481.3 160.1h0.85v0.85h-0.85zM486.3 180.4h0.85v0.85h-0.85zM486.5 169.8h0.85v0.85h-0.85zM481.2 167.1h0.85v0.85h-0.85zM487.7 174.4h0.85v0.85h-0.85zM485.6 175.5h0.85v0.85h-0.85zM491.1 173.6h0.85v0.85h-0.85zM480.8 163.7h0.85v0.85h-0.85zM478.7 156.8h0.85v0.85h-0.85zM483.0 176.2h0.85v0.85h-0.85zM485.6 178.7h0.85v0.85h-0.85zM485.7 167.1h0.85v0.85h-0.85zM481.3 170.3h0.85v0.85h-0.85zM479.4 158.0h0.85v0.85h-0.85zM482.8 172.6h0.85v0.85h-0.85zM486.1 180.0h0.85v0.85h-0.85zM481.6 165.2h0.85v0.85h-0.85zM483.1 174.2h0.85v0.85h-0.85zM481.5 172.5h0.85v0.85h-0.85zM487.7 170.6h0.85v0.85h-0.85zM481.0 163.2h0.85v0.85h-0.85zM482.6 168.5h0.85v0.85h-0.85zM490.1 179.9h0.85v0.85h-0.85zM485.2 162.8h0.85v0.85h-0.85zM481.8 167.8h0.85v0.85h-0.85zM484.2 158.8h0.85v0.85h-0.85zM484.7 169.9h0.85v0.85h-0.85zM486.8 176.3h0.85v0.85h-0.85zM488.1 178.9h0.85v0.85h-0.85zM480.0 165.9h0.85v0.85h-0.85zM485.9 174.5h0.85v0.85h-0.85zM486.6 179.8h0.85v0.85h-0.85zM486.1 172.4h0.85v0.85h-0.85zM481.0 163.7h0.85v0.85h-0.85z" fill="#000" fill-opacity="0.7"/>
<path d="M486.8 185.1h0.85v0.85h-0.85zM489.6 170.9h0.85v0.85h-0.85zM486.4 162.4h0.85v0.85h-0.85zM485.3 160.7h0.85v0.85h-0.85zM482.5 185.8h0.85v0.85h-0.85zM495.3 180.3h0.85v0.85h-0.85zM483.6 178.6h0.85v0.85h-0.85zM491.6 166.0h0.85v0.85h-0.85zM492.5 183.3h0.85v0.85h-0.85zM488.9 194.0h0.85v0.85h-0.85zM490.5 154.2h0.85v0.85h-0.85zM496.2 172.4h0.85v0.85h-0.85zM489.1 166.5h0.85v0.85h-0.85zM487.5 166.4h0.85v0.85h-0.85zM492.3 174.9h0.85v0.85h-0.85zM486.1 180.1h0.85v0.85h-0.85zM485.2 180.0h0.85v0.85h-0.85zM495.8 167.9h0.85v0.85h-0.85zM496.1 187.7h0.85v0.85h-0.85zM491.0 170.6h0.85v0.85h-0.85zM485.3 171.3h0.85v0.85h-0.85zM480.2 182.0h0.85v0.85h-0.85zM484.2 166.9h0.85v0.85h-0.85zM483.9 173.2h0.85v0.85h-0.85zM483.6 160.5h0.85v0.85h-0.85zM491.3 170.7h0.85v0.85h-0.85zM487.4 190.1h0.85v0.85h-0.85zM489.2 185.0h0.85v0.85h-0.85zM482.1 171.7h0.85v0.85h-0.85zM479.1 167.1h0.85v0.85h-0.85zM481.1 173.6h0.85v0.85h-0.85zM482.9 180.1h0.85v0.85h-0.85zM485.3 194.0h0.85v0.85h-0.85zM487.2 161.5h0.85v0.85h-0.85zM490.3 174.6h0.85v0.85h-0.85zM497.0 173.9h0.85v0.85h-0.85zM481.2 159.3h0.85v0.85h-0.85zM488.5 174.2h0.85v0.85h-0.85zM499.7 172.2h0.85v0.85h-0.85zM484.6 175.4h0.85v0.85h-0.85zM483.5 172.5h0.85v0.85h-0.85zM488.7 159.0h0.85v0.85h-0.85zM477.1 171.3h0.85v0.85h-0.85zM475.7 181.6h0.85v0.85h-0.85zM480.3 174.3h0.85v0.85h-0.85zM487.7 190.7h0.85v0.85h-0.85zM478.3 164.3h0.85v0.85h-0.85zM479.7 178.5h0.85v0.85h-0.85zM486.9 169.1h0.85v0.85h-0.85zM495.4 182.7h0.85v0.85h-0.85zM484.0 169.7h0.85v0.85h-0.85zM482.6 183.7h0.85v0.85h-0.85zM487.2 175.8h0.85v0.85h-0.85zM480.7 179.0h0.85v0.85h-0.85zM484.1 154.2h0.85v0.85h-0.85zM495.9 175.2h0.85v0.85h-0.85zM489.1 174.4h0.85v0.85h-0.85zM480.2 172.7h0.85v0.85h-0.85zM479.6 170.2h0.85v0.85h-0.85zM490.8 180.2h0.85v0.85h-0.85zM476.6 158.4h0.85v0.85h-0.85zM491.9 166.0h0.85v0.85h-0.85zM488.1 178.3h0.85v0.85h-0.85zM487.3 179.9h0.85v0.85h-0.85zM480.9 180.3h0.85v0.85h-0.85zM498.0 160.2h0.85v0.85h-0.85zM478.3 165.4h0.85v0.85h-0.85zM491.4 173.4h0.85v0.85h-0.85zM488.9 167.4h0.85v0.85h-0.85zM493.8 159.6h0.85v0.85h-0.85zM479.9 172.6h0.85v0.85h-0.85zM485.3 169.4h0.85v0.85h-0.85zM479.9 172.7h0.85v0.85h-0.85zM484.4 181.6h0.85v0.85h-0.85zM488.4 163.7h0.85v0.85h-0.85zM491.1 165.9h0.85v0.85h-0.85zM483.1 166.0h0.85v0.85h-0.85zM500.3 178.6h0.85v0.85h-0.85zM474.6 171.7h0.85v0.85h-0.85zM482.1 171.1h0.85v0.85h-0.85zM476.8 165.3h0.85v0.85h-0.85zM486.8 160.2h0.85v0.85h-0.85zM480.2 182.0h0.85v0.85h-0.85zM487.6 175.6h0.85v0.85h-0.85zM476.9 186.5h0.85v0.85h-0.85zM481.2 164.7h0.85v0.85h-0.85zM496.2 165.2h0.85v0.85h-0.85zM489.3 178.8h0.85v0.85h-0.85zM485.7 166.0h0.85v0.85h-0.85zM486.8 174.2h0.85v0.85h-0.85zM494.0 163.6h0.85v0.85h-0.85zM488.8 163.4h0.85v0.85h-0.85zM480.9 177.5h0.85v0.85h-0.85zM480.7 168.8h0.85v0.85h-0.85zM492.8 177.7h0.85v0.85h-0.85zM485.3 182.3h0.85v0.85h-0.85zM488.0 172.6h0.85v0.85h-0.85zM483.5 152.0h0.85v0.85h-0.85zM496.2 152.0h0.85v0.85h-0.85zM479.0 175.4h0.85v0.85h-0.85zM489.7 173.3h0.85v0.85h-0.85zM481.6 172.1h0.85v0.85h-0.85zM493.0 177.5h0.85v0.85h-0.85zM485.4 166.1h0.85v0.85h-0.85zM487.2 169.6h0.85v0.85h-0.85zM491.9 153.8h0.85v0.85h-0.85zM485.4 187.9h0.85v0.85h-0.85zM492.4 175.9h0.85v0.85h-0.85zM471.9 185.4h0.85v0.85h-0.85zM481.5 176.0h0.85v0.85h-0.85zM490.0 167.1h0.85v0.85h-0.85zM484.5 187.2h0.85v0.85h-0.85zM488.0 164.3h0.85v0.85h-0.85zM497.9 177.9h0.85v0.85h-0.85zM475.5 172.2h0.85v0.85h-0.85zM486.2 169.9h0.85v0.85h-0.85zM473.4 162.2h0.85v0.85h-0.85zM489.1 162.7h0.85v0.85h-0.85zM482.0 173.0h0.85v0.85h-0.85zM489.8 184.7h0.85v0.85h-0.85zM492.3 181.8h0.85v0.85h-0.85zM492.0 167.0h0.85v0.85h-0.85zM481.8 156.1h0.85v0.85h-0.85zM501.0 182.0h0.85v0.85h-0.85zM484.0 169.2h0.85v0.85h-0.85zM486.4 172.5h0.85v0.85h-0.85zM482.7 152.0h0.85v0.85h-0.85zM485.6 181.4h0.85v0.85h-0.85zM488.9 185.3h0.85v0.85h-0.85zM492.3 185.8h0.85v0.85h-0.85zM486.8 164.3h0.85v0.85h-0.85zM479.1 169.3h0.85v0.85h-0.85zM488.1 182.7h0.85v0.85h-0.85zM484.0 160.1h0.85v0.85h-0.85zM491.8 169.2h0.85v0.85h-0.85zM479.0 180.6h0.85v0.85h-0.85zM487.8 177.8h0.85v0.85h-0.85zM480.8 161.6h0.85v0.85h-0.85zM487.5 177.9h0.85v0.85h-0.85zM482.7 169.3h0.85v0.85h-0.85zM499.3 174.1h0.85v0.85h-0.85zM489.1 162.6h0.85v0.85h-0.85zM474.6 161.0h0.85v0.85h-0.85zM495.1 179.9h0.85v0.85h-0.85zM483.5 162.8h0.85v0.85h-0.85zM488.3 168.9h0.85v0.85h-0.85zM480.6 178.5h0.85v0.85h-0.85zM488.7 172.0h0.85v0.85h-0.85zM486.2 161.7h0.85v0.85h-0.85zM479.8 157.4h0.85v0.85h-0.85zM488.1 180.2h0.85v0.85h-0.85zM488.1 184.7h0.85v0.85h-0.85zM488.2 187.0h0.85v0.85h-0.85zM478.6 163.3h0.85v0.85h-0.85zM478.2 175.1h0.85v0.85h-0.85zM483.7 172.4h0.85v0.85h-0.85zM489.7 181.8h0.85v0.85h-0.85zM476.3 168.8h0.85v0.85h-0.85zM485.9 173.0h0.85v0.85h-0.85zM478.3 163.4h0.85v0.85h-0.85zM492.4 174.0h0.85v0.85h-0.85zM488.4 179.3h0.85v0.85h-0.85zM484.2 168.5h0.85v0.85h-0.85zM494.6 158.3h0.85v0.85h-0.85zM487.5 154.8h0.85v0.85h-0.85zM474.5 179.8h0.85v0.85h-0.85zM476.1 181.5h0.85v0.85h-0.85zM483.5 170.2h0.85v0.85h-0.85zM497.7 170.4h0.85v0.85h-0.85zM486.3 152.0h0.85v0.85h-0.85zM481.8 171.2h0.85v0.85h-0.85zM481.2 179.3h0.85v0.85h-0.85zM487.6 182.4h0.85v0.85h-0.85zM479.8 177.4h0.85v0.85h-0.85zM483.2 169.2h0.85v0.85h-0.85zM485.2 183.8h0.85v0.85h-0.85zM486.0 178.1h0.85v0.85h-0.85zM485.8 161.6h0.85v0.85h-0.85zM495.1 165.6h0.85v0.85h-0.85zM494.3 164.7h0.85v0.85h-0.85zM492.3 180.5h0.85v0.85h-0.85zM478.1 171.0h0.85v0.85h-0.85zM491.0 175.5h0.85v0.85h-0.85zM487.4 165.4h0.85v0.85h-0.85zM488.3 152.0h0.85v0.85h-0.85zM488.4 156.4h0.85v0.85h-0.85zM485.8 177.5h0.85v0.85h-0.85zM497.8 179.0h0.85v0.85h-0.85zM487.9 162.8h0.85v0.85h-0.85zM490.0 174.6h0.85v0.85h-0.85zM490.5 166.8h0.85v0.85h-0.85zM488.0 155.7h0.85v0.85h-0.85zM488.8 176.8h0.85v0.85h-0.85zM485.3 152.0h0.85v0.85h-0.85zM484.6 164.1h0.85v0.85h-0.85zM483.0 187.1h0.85v0.85h-0.85zM484.3 154.2h0.85v0.85h-0.85zM482.5 166.7h0.85v0.85h-0.85zM485.1 171.0h0.85v0.85h-0.85zM485.4 173.7h0.85v0.85h-0.85zM475.4 162.2h0.85v0.85h-0.85zM487.9 168.1h0.85v0.85h-0.85zM489.0 181.2h0.85v0.85h-0.85zM480.8 168.9h0.85v0.85h-0.85zM497.7 179.5h0.85v0.85h-0.85zM483.4 165.5h0.85v0.85h-0.85zM493.9 161.0h0.85v0.85h-0.85zM482.4 176.3h0.85v0.85h-0.85zM481.9 170.9h0.85v0.85h-0.85zM478.9 187.0h0.85v0.85h-0.85zM484.5 176.1h0.85v0.85h-0.85zM485.8 175.4h0.85v0.85h-0.85zM475.7 157.4h0.85v0.85h-0.85zM493.5 178.4h0.85v0.85h-0.85zM490.4 174.3h0.85v0.85h-0.85zM490.1 180.6h0.85v0.85h-0.85zM486.4 182.1h0.85v0.85h-0.85zM489.8 176.6h0.85v0.85h-0.85zM485.5 172.3h0.85v0.85h-0.85zM501.0 174.0h0.85v0.85h-0.85zM488.1 163.7h0.85v0.85h-0.85zM489.0 173.5h0.85v0.85h-0.85zM492.4 159.7h0.85v0.85h-0.85zM484.9 152.2h0.85v0.85h-0.85zM484.5 170.6h0.85v0.85h-0.85zM484.8 159.2h0.85v0.85h-0.85zM480.0 168.2h0.85v0.85h-0.85zM483.8 157.1h0.85v0.85h-0.85zM489.6 170.2h0.85v0.85h-0.85zM487.5 171.2h0.85v0.85h-0.85zM488.6 177.0h0.85v0.85h-0.85zM498.3 157.9h0.85v0.85h-0.85zM486.8 157.8h0.85v0.85h-0.85zM485.7 184.8h0.85v0.85h-0.85zM479.3 178.0h0.85v0.85h-0.85zM479.0 156.5h0.85v0.85h-0.85zM483.2 159.0h0.85v0.85h-0.85zM487.7 179.3h0.85v0.85h-0.85zM487.0 161.9h0.85v0.85h-0.85zM487.1 179.3h0.85v0.85h-0.85zM493.3 179.4h0.85v0.85h-0.85zM489.6 185.7h0.85v0.85h-0.85zM482.3 169.3h0.85v0.85h-0.85zM490.5 163.7h0.85v0.85h-0.85zM481.8 169.8h0.85v0.85h-0.85zM485.2 179.0h0.85v0.85h-0.85zM482.7 160.4h0.85v0.85h-0.85zM482.1 167.4h0.85v0.85h-0.85zM489.0 174.8h0.85v0.85h-0.85zM484.3 169.5h0.85v0.85h-0.85zM476.4 170.0h0.85v0.85h-0.85zM482.2 172.3h0.85v0.85h-0.85zM487.8 175.1h0.85v0.85h-0.85zM485.4 173.3h0.85v0.85h-0.85zM493.0 187.6h0.85v0.85h-0.85zM478.5 160.5h0.85v0.85h-0.85zM491.3 183.4h0.85v0.85h-0.85zM482.1 171.1h0.85v0.85h-0.85zM473.7 172.3h0.85v0.85h-0.85zM496.0 166.4h0.85v0.85h-0.85zM491.2 186.8h0.85v0.85h-0.85zM485.4 156.7h0.85v0.85h-0.85zM486.5 167.1h0.85v0.85h-0.85zM479.0 162.6h0.85v0.85h-0.85zM481.1 172.1h0.85v0.85h-0.85zM497.6 163.1h0.85v0.85h-0.85zM474.7 183.0h0.85v0.85h-0.85zM488.9 179.4h0.85v0.85h-0.85zM478.6 176.3h0.85v0.85h-0.85zM483.6 180.2h0.85v0.85h-0.85zM488.0 164.2h0.85v0.85h-0.85zM493.2 182.4h0.85v0.85h-0.85zM483.7 163.3h0.85v0.85h-0.85zM476.8 177.0h0.85v0.85h-0.85zM491.1 168.5h0.85v0.85h-0.85zM481.1 158.5h0.85v0.85h-0.85zM493.1 152.0h0.85v0.85h-0.85zM479.8 164.6h0.85v0.85h-0.85zM483.4 157.2h0.85v0.85h-0.85zM493.0 166.6h0.85v0.85h-0.85zM486.0 183.0h0.85v0.85h-0.85zM468.0 165.6h0.85v0.85h-0.85zM492.9 159.1h0.85v0.85h-0.85zM489.0 159.9h0.85v0.85h-0.85zM484.6 169.3h0.85v0.85h-0.85zM475.2 178.0h0.85v0.85h-0.85zM478.6 169.4h0.85v0.85h-0.85zM485.9 175.8h0.85v0.85h-0.85zM483.1 173.6h0.85v0.85h-0.85zM473.3 169.0h0.85v0.85h-0.85zM484.1 183.6h0.85v0.85h-0.85zM487.9 161.8h0.85v0.85h-0.85zM492.0 185.6h0.85v0.85h-0.85zM484.7 163.9h0.85v0.85h-0.85zM477.1 172.3h0.85v0.85h-0.85zM483.3 172.8h0.85v0.85h-0.85zM476.2 177.2h0.85v0.85h-0.85zM488.3 194.0h0.85v0.85h-0.85zM494.2 189.4h0.85v0.85h-0.85zM482.4 166.9h0.85v0.85h-0.85zM474.6 176.2h0.85v0.85h-0.85zM487.3 171.7h0.85v0.85h-0.85zM484.0 176.6h0.85v0.85h-0.85zM488.3 172.4h0.85v0.85h-0.85zM477.4 163.5h0.85v0.85h-0.85zM485.1 168.0h0.85v0.85h-0.85zM480.4 176.3h0.85v0.85h-0.85zM479.4 184.6h0.85v0.85h-0.85zM490.9 168.8h0.85v0.85h-0.85zM486.6 168.6h0.85v0.85h-0.85zM493.6 164.7h0.85v0.85h-0.85zM482.3 174.8h0.85v0.85h-0.85zM485.8 160.5h0.85v0.85h-0.85zM488.9 159.3h0.85v0.85h-0.85zM490.3 180.7h0.85v0.85h-0.85zM483.3 173.4h0.85v0.85h-0.85zM495.4 162.2h0.85v0.85h-0.85zM478.7 156.9h0.85v0.85h-0.85zM498.1 179.2h0.85v0.85h-0.85zM500.9 171.6h0.85v0.85h-0.85zM501.5 165.3h0.85v0.85h-0.85zM508.2 183.6h0.85v0.85h-0.85zM491.6 207.3h0.85v0.85h-0.85zM492.7 153.9h0.85v0.85h-0.85zM508.4 223.5h0.85v0.85h-0.85zM468.9 186.6h0.85v0.85h-0.85zM506.6 156.6h0.85v0.85h-0.85zM485.7 217.2h0.85v0.85h-0.85zM483.6 181.6h0.85v0.85h-0.85zM509.4 175.4h0.85v0.85h-0.85zM500.5 150.3h0.85v0.85h-0.85zM498.5 221.1h0.85v0.85h-0.85zM489.3 181.3h0.85v0.85h-0.85zM472.4 158.3h0.85v0.85h-0.85zM510.0 186.6h0.85v0.85h-0.85zM488.8 184.8h0.85v0.85h-0.85zM494.9 166.1h0.85v0.85h-0.85zM471.7 179.4h0.85v0.85h-0.85zM466.1 227.8h0.85v0.85h-0.85zM474.4 171.2h0.85v0.85h-0.85zM489.2 211.5h0.85v0.85h-0.85zM493.5 193.2h0.85v0.85h-0.85zM466.8 199.1h0.85v0.85h-0.85zM475.0 213.1h0.85v0.85h-0.85zM466.4 162.1h0.85v0.85h-0.85zM495.1 165.2h0.85v0.85h-0.85zM479.5 161.3h0.85v0.85h-0.85zM500.1 191.3h0.85v0.85h-0.85zM496.8 172.7h0.85v0.85h-0.85zM475.4 210.9h0.85v0.85h-0.85zM501.0 159.8h0.85v0.85h-0.85zM474.5 200.4h0.85v0.85h-0.85zM489.4 201.6h0.85v0.85h-0.85zM490.5 209.6h0.85v0.85h-0.85zM486.2 219.1h0.85v0.85h-0.85zM470.4 171.1h0.85v0.85h-0.85zM479.5 199.7h0.85v0.85h-0.85zM491.6 186.7h0.85v0.85h-0.85zM462.2 171.2h0.85v0.85h-0.85zM501.5 175.2h0.85v0.85h-0.85z" fill="#000" fill-opacity="0.45"/>
<text x="474.25" y="12.9" font-family="Liberation Sans" font-size="8.4" font-weight="bold" fill="#111" text-anchor="middle" textLength="16.1" lengthAdjust="spacingAndGlyphs" >3 2 1</text>
<text x="372.1" y="30.5" font-family="Liberation Serif" font-size="10.6" font-weight="bold" fill="#111" text-anchor="middle" stroke="#111" stroke-width="0.4" textLength="50" lengthAdjust="spacingAndGlyphs" >CD4<tspan dy="-3.50" font-size="7.21">+</tspan><tspan dy="3.50">CD25</tspan><tspan dy="-3.50" font-size="7.21">-</tspan></text>
<text x="371.8" y="43.5" font-family="Liberation Serif" font-size="10.6" font-weight="bold" fill="#111" text-anchor="middle" stroke="#111" stroke-width="0.4" textLength="64.8" lengthAdjust="spacingAndGlyphs" >+ aCD3/aCD28</text>
<text x="374.2" y="145.8" font-family="Liberation Serif" font-size="10.6" font-weight="bold" fill="#111" text-anchor="middle" stroke="#111" stroke-width="0.4" textLength="49.2" lengthAdjust="spacingAndGlyphs" >CD4<tspan dy="-3.50" font-size="7.21">+</tspan><tspan dy="3.50">CD25</tspan><tspan dy="-3.50" font-size="7.21">-</tspan></text>
<text x="374.6" y="158.8" font-family="Liberation Serif" font-size="10.6" font-weight="bold" fill="#111" text-anchor="middle" stroke="#111" stroke-width="0.4" textLength="65.4" lengthAdjust="spacingAndGlyphs" >+ aCD3/aCD28</text>
<text x="374.2" y="171.5" font-family="Liberation Serif" font-size="10.6" font-weight="bold" fill="#111" text-anchor="middle" stroke="#111" stroke-width="0.4" textLength="64.6" lengthAdjust="spacingAndGlyphs" >+ CD33<tspan dy="-3.50" font-size="7.21">+</tspan><tspan dy="3.50">CD15</tspan><tspan dy="-3.50" font-size="7.21">+</tspan></text>
<text transform="translate(400.0,203.2) rotate(-90)" font-family="Liberation Serif" font-size="10.3" font-weight="normal" fill="#111" text-anchor="middle" textLength="24.7" lengthAdjust="spacingAndGlyphs" >CD25</text>
<text x="431.0" y="254.9" font-family="Liberation Serif" font-size="10.3" font-weight="normal" fill="#111" text-anchor="start" textLength="23.6" lengthAdjust="spacingAndGlyphs" >CFSE</text>
<path d="M396.20,222.00 L396.20,250.40 L422.30,250.40" stroke="#000" stroke-width="1.6" fill="none" stroke-linejoin="round" />
<path d="M393.20,226.00 L396.20,221.80 L399.20,226.00" stroke="#000" stroke-width="1.4" fill="none" stroke-linejoin="round" />
<path d="M418.30,247.40 L422.60,250.40 L418.30,253.40" stroke="#000" stroke-width="1.4" fill="none" stroke-linejoin="round" />
<line x1="52.8" y1="198.0" x2="52.8" y2="280.9" stroke="#111" stroke-width="1.1" />
<line x1="52.3" y1="280.4" x2="167.4" y2="280.4" stroke="#111" stroke-width="1.1" />
<line x1="50.5" y1="280.4" x2="52.8" y2="280.4" stroke="#111" stroke-width="1" />
<text x="49.6" y="283.29999999999995" font-family="Liberation Serif" font-size="8.3" font-weight="bold" fill="#111" text-anchor="end" stroke="#111" stroke-width="0.4" >0</text>
<line x1="50.5" y1="259.84999999999997" x2="52.8" y2="259.84999999999997" stroke="#111" stroke-width="1" />
<text x="49.6" y="262.74999999999994" font-family="Liberation Serif" font-size="8.3" font-weight="bold" fill="#111" text-anchor="end" stroke="#111" stroke-width="0.4" >2000</text>
<line x1="50.5" y1="239.29999999999998" x2="52.8" y2="239.29999999999998" stroke="#111" stroke-width="1" />
<text x="49.6" y="242.2" font-family="Liberation Serif" font-size="8.3" font-weight="bold" fill="#111" text-anchor="end" stroke="#111" stroke-width="0.4" >4000</text>
<line x1="50.5" y1="218.74999999999997" x2="52.8" y2="218.74999999999997" stroke="#111" stroke-width="1" />
<text x="49.6" y="221.64999999999998" font-family="Liberation Serif" font-size="8.3" font-weight="bold" fill="#111" text-anchor="end" stroke="#111" stroke-width="0.4" >6000</text>
<line x1="50.5" y1="198.2" x2="52.8" y2="198.2" stroke="#111" stroke-width="1" />
<text x="49.6" y="201.1" font-family="Liberation Serif" font-size="8.3" font-weight="bold" fill="#111" text-anchor="end" stroke="#111" stroke-width="0.4" >8000</text>
<line x1="81.5" y1="280.4" x2="81.5" y2="282.6" stroke="#111" stroke-width="1" />
<line x1="138.8" y1="280.4" x2="138.8" y2="282.6" stroke="#111" stroke-width="1" />
<line x1="81.5" y1="214.43449999999996" x2="138.8" y2="242.38249999999996" stroke="#111" stroke-width="1.2" />
<line x1="81.5" y1="215.66749999999996" x2="138.8" y2="258.30875" stroke="#111" stroke-width="1.2" />
<line x1="81.5" y1="229.53874999999996" x2="138.8" y2="269.91949999999997" stroke="#111" stroke-width="1.2" />
<line x1="81.5" y1="230.77174999999997" x2="138.8" y2="274.64599999999996" stroke="#111" stroke-width="1.2" />
<line x1="81.5" y1="240.7385" x2="138.8" y2="272.17999999999995" stroke="#111" stroke-width="1.2" />
<line x1="81.5" y1="246.28699999999998" x2="138.8" y2="277.00924999999995" stroke="#111" stroke-width="1.2" />
<line x1="81.5" y1="264.371" x2="138.8" y2="278.24224999999996" stroke="#111" stroke-width="1.2" />
<circle cx="81.5" cy="214.43" r="2.1" fill="#111"/>
<circle cx="138.8" cy="242.38" r="2.1" fill="#111"/>
<circle cx="81.5" cy="215.67" r="2.1" fill="#111"/>
<circle cx="138.8" cy="258.31" r="2.1" fill="#111"/>
<circle cx="81.5" cy="229.54" r="2.1" fill="#111"/>
<circle cx="138.8" cy="269.92" r="2.1" fill="#111"/>
<circle cx="81.5" cy="230.77" r="2.1" fill="#111"/>
<circle cx="138.8" cy="274.65" r="2.1" fill="#111"/>
<circle cx="81.5" cy="240.74" r="2.1" fill="#111"/>
<circle cx="138.8" cy="272.18" r="2.1" fill="#111"/>
<circle cx="81.5" cy="246.29" r="2.1" fill="#111"/>
<circle cx="138.8" cy="277.01" r="2.1" fill="#111"/>
<circle cx="81.5" cy="264.37" r="2.1" fill="#111"/>
<circle cx="138.8" cy="278.24" r="2.1" fill="#111"/>
<line x1="80.9" y1="191.9" x2="133.4" y2="191.9" stroke="#222" stroke-width="1.5" />
<text x="82.3" y="190.0" font-family="Liberation Sans" font-size="8.5" font-weight="bold" fill="#222" text-anchor="start" textLength="6.2" lengthAdjust="spacingAndGlyphs" >**</text>
<text x="90.6" y="187.9" font-family="Liberation Sans" font-size="7.6" font-weight="normal" fill="#222" text-anchor="start" textLength="28.4" lengthAdjust="spacingAndGlyphs" >p=0.0016</text>
<text x="78.05" y="297.8" font-family="Liberation Serif" font-size="9.0" font-weight="bold" fill="#111" text-anchor="middle" stroke="#111" stroke-width="0.4" textLength="46.5" lengthAdjust="spacingAndGlyphs" >CD4<tspan dy="-2.97" font-size="6.12">+</tspan><tspan dy="2.97">CD25</tspan><tspan dy="-2.97" font-size="6.12">-</tspan><tspan dy="2.97"> +</tspan></text>
<text x="78.25" y="307.9" font-family="Liberation Serif" font-size="9.0" font-weight="bold" fill="#111" text-anchor="middle" stroke="#111" stroke-width="0.4" textLength="43.1" lengthAdjust="spacingAndGlyphs" >aCD3/aCD28</text>
<text x="137.5" y="295.9" font-family="Liberation Serif" font-size="9.0" font-weight="bold" fill="#111" text-anchor="middle" stroke="#111" stroke-width="0.4" textLength="37.6" lengthAdjust="spacingAndGlyphs" >CD4<tspan dy="-2.97" font-size="6.12">+</tspan><tspan dy="2.97">CD25</tspan><tspan dy="-2.97" font-size="6.12">-</tspan></text>
<text x="139.2" y="306.3" font-family="Liberation Serif" font-size="9.0" font-weight="bold" fill="#111" text-anchor="middle" stroke="#111" stroke-width="0.4" textLength="49.2" lengthAdjust="spacingAndGlyphs" >+ aCD3/aCD28</text>
<text x="139.2" y="315.9" font-family="Liberation Serif" font-size="9.0" font-weight="bold" fill="#111" text-anchor="middle" stroke="#111" stroke-width="0.4" textLength="49.2" lengthAdjust="spacingAndGlyphs" >+ CD33<tspan dy="-2.97" font-size="6.12">+</tspan><tspan dy="2.97">CD15</tspan><tspan dy="-2.97" font-size="6.12">+</tspan></text>
<text transform="translate(20.1,237.5) rotate(-90)" font-family="Liberation Serif" font-size="10.3" font-weight="bold" fill="#111" text-anchor="middle" stroke="#111" stroke-width="0.4" textLength="96.7" lengthAdjust="spacingAndGlyphs" >Numbers of CD4<tspan dy="-3.40" font-size="7.00">+</tspan><tspan dy="3.40"> T cells</tspan></text>
<text transform="translate(28.4,233.0) rotate(-90)" font-family="Liberation Serif" font-size="8.9" font-weight="bold" fill="#111" text-anchor="middle" stroke="#111" stroke-width="0.4" textLength="60.5" lengthAdjust="spacingAndGlyphs" >/10<tspan dy="-2.94" font-size="6.05">4</tspan><tspan dy="2.94"> total cells</tspan></text>
<line x1="260.2" y1="190.0" x2="260.2" y2="271.5" stroke="#111" stroke-width="1.1" />
<line x1="259.7" y1="271.0" x2="330.6" y2="271.0" stroke="#111" stroke-width="1.1" />
<line x1="259.9" y1="271.0" x2="259.9" y2="273.3" stroke="#111" stroke-width="1" />
<text x="259.9" y="281.6" font-family="Liberation Serif" font-size="8.3" font-weight="bold" fill="#111" text-anchor="middle" stroke="#111" stroke-width="0.4" >0</text>
<line x1="273.83" y1="271.0" x2="273.83" y2="273.3" stroke="#111" stroke-width="1" />
<text x="273.83" y="281.6" font-family="Liberation Serif" font-size="8.3" font-weight="bold" fill="#111" text-anchor="middle" stroke="#111" stroke-width="0.4" >10</text>
<line x1="287.76" y1="271.0" x2="287.76" y2="273.3" stroke="#111" stroke-width="1" />
<text x="287.76" y="281.6" font-family="Liberation Serif" font-size="8.3" font-weight="bold" fill="#111" text-anchor="middle" stroke="#111" stroke-width="0.4" >20</text>
<line x1="301.69" y1="271.0" x2="301.69" y2="273.3" stroke="#111" stroke-width="1" />
<text x="301.69" y="281.6" font-family="Liberation Serif" font-size="8.3" font-weight="bold" fill="#111" text-anchor="middle" stroke="#111" stroke-width="0.4" >30</text>
<line x1="315.62" y1="271.0" x2="315.62" y2="273.3" stroke="#111" stroke-width="1" />
<text x="315.62" y="281.6" font-family="Liberation Serif" font-size="8.3" font-weight="bold" fill="#111" text-anchor="middle" stroke="#111" stroke-width="0.4" >40</text>
<line x1="329.54999999999995" y1="271.0" x2="329.54999999999995" y2="273.3" stroke="#111" stroke-width="1" />
<text x="329.54999999999995" y="281.6" font-family="Liberation Serif" font-size="8.3" font-weight="bold" fill="#111" text-anchor="middle" stroke="#111" stroke-width="0.4" >50</text>
<line x1="258.0" y1="210.2" x2="260.2" y2="210.2" stroke="#111" stroke-width="1" />
<line x1="258.0" y1="250.7" x2="260.2" y2="250.7" stroke="#111" stroke-width="1" />
<rect x="260.2" y="200.4" width="58.4" height="19.6" fill="#fff" stroke="#111" stroke-width="1.3"/>
<line x1="319.4" y1="203.8" x2="319.4" y2="216.8" stroke="#111" stroke-width="1.3" />
<rect x="260.2" y="240.2" width="31.8" height="21.4" fill="#111"/>
<line x1="292.3" y1="245.5" x2="292.3" y2="256.0" stroke="#111" stroke-width="1.3" />
<text x="305.8" y="255.3" font-family="Liberation Serif" font-size="8.5" font-weight="bold" fill="#111" text-anchor="middle" stroke="#111" stroke-width="0.4" >**</text>
<text x="221.0" y="209.9" font-family="Liberation Serif" font-size="9.3" font-weight="bold" fill="#111" text-anchor="middle" stroke="#111" stroke-width="0.4" textLength="46.6" lengthAdjust="spacingAndGlyphs" >CD4<tspan dy="-3.07" font-size="6.32">+</tspan><tspan dy="3.07">CD25</tspan><tspan dy="-3.07" font-size="6.32">-</tspan></text>
<text x="221.15" y="221.3" font-family="Liberation Serif" font-size="9.3" font-weight="bold" fill="#111" text-anchor="middle" stroke="#111" stroke-width="0.4" textLength="60.3" lengthAdjust="spacingAndGlyphs" >+ aCD3/aCD28</text>
<text x="219.6" y="244.6" font-family="Liberation Serif" font-size="9.3" font-weight="bold" fill="#111" text-anchor="middle" stroke="#111" stroke-width="0.4" textLength="46.2" lengthAdjust="spacingAndGlyphs" >CD4<tspan dy="-3.07" font-size="6.32">+</tspan><tspan dy="3.07">CD25</tspan><tspan dy="-3.07" font-size="6.32">-</tspan></text>
<text x="219.6" y="256.2" font-family="Liberation Serif" font-size="9.3" font-weight="bold" fill="#111" text-anchor="middle" stroke="#111" stroke-width="0.4" textLength="60.0" lengthAdjust="spacingAndGlyphs" >+ aCD3/aCD28</text>
<text x="218.85" y="267.7" font-family="Liberation Serif" font-size="9.3" font-weight="bold" fill="#111" text-anchor="middle" stroke="#111" stroke-width="0.4" textLength="58.5" lengthAdjust="spacingAndGlyphs" >+ CD33<tspan dy="-3.07" font-size="6.32">+</tspan><tspan dy="3.07">CD15</tspan><tspan dy="-3.07" font-size="6.32">+</tspan></text>
<text x="299.1" y="295.6" font-family="Liberation Serif" font-size="9.3" font-weight="bold" fill="#111" text-anchor="middle" stroke="#111" stroke-width="0.4" textLength="49.1" lengthAdjust="spacingAndGlyphs" >IL-2 (pg/ml)</text>
<line x1="38.3" y1="353.9" x2="134.9" y2="353.9" stroke="#666" stroke-width="1" />
<line x1="134.9" y1="353.9" x2="134.9" y2="462.5" stroke="#666" stroke-width="1" />
<line x1="38.3" y1="353.9" x2="38.3" y2="462.5" stroke="#333" stroke-width="0.9" />
<line x1="38.3" y1="462.5" x2="134.9" y2="462.5" stroke="#333" stroke-width="0.9" />
<line x1="36.3" y1="462.5" x2="38.3" y2="462.5" stroke="#333" stroke-width="0.7" />
<text x="34.0" y="464.4" font-family="Liberation Sans" font-size="5.3" font-weight="normal" fill="#222" text-anchor="end" textLength="2.5" lengthAdjust="spacingAndGlyphs" >0</text>
<line x1="37.3" y1="457.345" x2="38.3" y2="457.345" stroke="#555" stroke-width="0.5" />
<line x1="37.3" y1="452.19" x2="38.3" y2="452.19" stroke="#555" stroke-width="0.5" />
<line x1="37.3" y1="447.03499999999997" x2="38.3" y2="447.03499999999997" stroke="#555" stroke-width="0.5" />
<line x1="36.3" y1="441.88" x2="38.3" y2="441.88" stroke="#333" stroke-width="0.7" />
<text x="34.0" y="443.78" font-family="Liberation Sans" font-size="5.3" font-weight="normal" fill="#222" text-anchor="end" textLength="5.0" lengthAdjust="spacingAndGlyphs" >20</text>
<line x1="37.3" y1="436.725" x2="38.3" y2="436.725" stroke="#555" stroke-width="0.5" />
<line x1="37.3" y1="431.57" x2="38.3" y2="431.57" stroke="#555" stroke-width="0.5" />
<line x1="37.3" y1="426.41499999999996" x2="38.3" y2="426.41499999999996" stroke="#555" stroke-width="0.5" />
<line x1="36.3" y1="421.26" x2="38.3" y2="421.26" stroke="#333" stroke-width="0.7" />
<text x="34.0" y="423.15999999999997" font-family="Liberation Sans" font-size="5.3" font-weight="normal" fill="#222" text-anchor="end" textLength="5.0" lengthAdjust="spacingAndGlyphs" >40</text>
<line x1="37.3" y1="416.105" x2="38.3" y2="416.105" stroke="#555" stroke-width="0.5" />
<line x1="37.3" y1="410.95" x2="38.3" y2="410.95" stroke="#555" stroke-width="0.5" />
<line x1="37.3" y1="405.79499999999996" x2="38.3" y2="405.79499999999996" stroke="#555" stroke-width="0.5" />
<line x1="36.3" y1="400.64" x2="38.3" y2="400.64" stroke="#333" stroke-width="0.7" />
<text x="34.0" y="402.53999999999996" font-family="Liberation Sans" font-size="5.3" font-weight="normal" fill="#222" text-anchor="end" textLength="5.0" lengthAdjust="spacingAndGlyphs" >60</text>
<line x1="37.3" y1="395.485" x2="38.3" y2="395.485" stroke="#555" stroke-width="0.5" />
<line x1="37.3" y1="390.33" x2="38.3" y2="390.33" stroke="#555" stroke-width="0.5" />
<line x1="37.3" y1="385.17499999999995" x2="38.3" y2="385.17499999999995" stroke="#555" stroke-width="0.5" />
<line x1="36.3" y1="380.02" x2="38.3" y2="380.02" stroke="#333" stroke-width="0.7" />
<text x="34.0" y="381.91999999999996" font-family="Liberation Sans" font-size="5.3" font-weight="normal" fill="#222" text-anchor="end" textLength="5.0" lengthAdjust="spacingAndGlyphs" >80</text>
<line x1="37.3" y1="374.865" x2="38.3" y2="374.865" stroke="#555" stroke-width="0.5" />
<line x1="37.3" y1="369.71" x2="38.3" y2="369.71" stroke="#555" stroke-width="0.5" />
<line x1="37.3" y1="364.55499999999995" x2="38.3" y2="364.55499999999995" stroke="#555" stroke-width="0.5" />
<line x1="36.3" y1="359.4" x2="38.3" y2="359.4" stroke="#333" stroke-width="0.7" />
<text x="34.0" y="361.29999999999995" font-family="Liberation Sans" font-size="5.3" font-weight="normal" fill="#222" text-anchor="end" textLength="7.5" lengthAdjust="spacingAndGlyphs" >100</text>
<line x1="38.3" y1="462.5" x2="38.3" y2="464.3" stroke="#444" stroke-width="0.6" />
<line x1="45.56987439528514" y1="462.5" x2="45.56987439528514" y2="463.5" stroke="#444" stroke-width="0.6" />
<line x1="49.82247830147985" y1="462.5" x2="49.82247830147985" y2="463.5" stroke="#444" stroke-width="0.6" />
<line x1="52.83974879057029" y1="462.5" x2="52.83974879057029" y2="463.5" stroke="#444" stroke-width="0.6" />
<line x1="55.18012560471485" y1="462.5" x2="55.18012560471485" y2="463.5" stroke="#444" stroke-width="0.6" />
<line x1="57.09235269676499" y1="462.5" x2="57.09235269676499" y2="463.5" stroke="#444" stroke-width="0.6" />
<line x1="58.7091176663443" y1="462.5" x2="58.7091176663443" y2="463.5" stroke="#444" stroke-width="0.6" />
<line x1="60.10962318585544" y1="462.5" x2="60.10962318585544" y2="463.5" stroke="#444" stroke-width="0.6" />
<line x1="61.3449566029597" y1="462.5" x2="61.3449566029597" y2="463.5" stroke="#444" stroke-width="0.6" />
<line x1="62.45" y1="462.5" x2="62.45" y2="464.3" stroke="#444" stroke-width="0.6" />
<line x1="69.71987439528515" y1="462.5" x2="69.71987439528515" y2="463.5" stroke="#444" stroke-width="0.6" />
<line x1="73.97247830147984" y1="462.5" x2="73.97247830147984" y2="463.5" stroke="#444" stroke-width="0.6" />
<line x1="76.9897487905703" y1="462.5" x2="76.9897487905703" y2="463.5" stroke="#444" stroke-width="0.6" />
<line x1="79.33012560471485" y1="462.5" x2="79.33012560471485" y2="463.5" stroke="#444" stroke-width="0.6" />
<line x1="81.242352696765" y1="462.5" x2="81.242352696765" y2="463.5" stroke="#444" stroke-width="0.6" />
<line x1="82.8591176663443" y1="462.5" x2="82.8591176663443" y2="463.5" stroke="#444" stroke-width="0.6" />
<line x1="84.25962318585545" y1="462.5" x2="84.25962318585545" y2="463.5" stroke="#444" stroke-width="0.6" />
<line x1="85.49495660295969" y1="462.5" x2="85.49495660295969" y2="463.5" stroke="#444" stroke-width="0.6" />
<line x1="86.6" y1="462.5" x2="86.6" y2="464.3" stroke="#444" stroke-width="0.6" />
<line x1="93.86987439528515" y1="462.5" x2="93.86987439528515" y2="463.5" stroke="#444" stroke-width="0.6" />
<line x1="98.12247830147984" y1="462.5" x2="98.12247830147984" y2="463.5" stroke="#444" stroke-width="0.6" />
<line x1="101.1397487905703" y1="462.5" x2="101.1397487905703" y2="463.5" stroke="#444" stroke-width="0.6" />
<line x1="103.48012560471486" y1="462.5" x2="103.48012560471486" y2="463.5" stroke="#444" stroke-width="0.6" />
<line x1="105.392352696765" y1="462.5" x2="105.392352696765" y2="463.5" stroke="#444" stroke-width="0.6" />
<line x1="107.00911766634431" y1="462.5" x2="107.00911766634431" y2="463.5" stroke="#444" stroke-width="0.6" />
<line x1="108.40962318585545" y1="462.5" x2="108.40962318585545" y2="463.5" stroke="#444" stroke-width="0.6" />
<line x1="109.6449566029597" y1="462.5" x2="109.6449566029597" y2="463.5" stroke="#444" stroke-width="0.6" />
<line x1="110.75" y1="462.5" x2="110.75" y2="464.3" stroke="#444" stroke-width="0.6" />
<line x1="118.01987439528516" y1="462.5" x2="118.01987439528516" y2="463.5" stroke="#444" stroke-width="0.6" />
<line x1="122.27247830147985" y1="462.5" x2="122.27247830147985" y2="463.5" stroke="#444" stroke-width="0.6" />
<line x1="125.2897487905703" y1="462.5" x2="125.2897487905703" y2="463.5" stroke="#444" stroke-width="0.6" />
<line x1="127.63012560471486" y1="462.5" x2="127.63012560471486" y2="463.5" stroke="#444" stroke-width="0.6" />
<line x1="129.54235269676502" y1="462.5" x2="129.54235269676502" y2="463.5" stroke="#444" stroke-width="0.6" />
<line x1="131.15911766634432" y1="462.5" x2="131.15911766634432" y2="463.5" stroke="#444" stroke-width="0.6" />
<line x1="132.55962318585546" y1="462.5" x2="132.55962318585546" y2="463.5" stroke="#444" stroke-width="0.6" />
<line x1="133.7949566029597" y1="462.5" x2="133.7949566029597" y2="463.5" stroke="#444" stroke-width="0.6" />
<line x1="134.9" y1="462.5" x2="134.9" y2="464.3" stroke="#444" stroke-width="0.6" />
<text x="38.3" y="472.5" font-family="Liberation Sans" font-size="6.0" font-weight="normal" fill="#222" text-anchor="middle" >10<tspan dy="-2.52" font-size="4.68">0</tspan></text>
<text x="62.45" y="472.5" font-family="Liberation Sans" font-size="6.0" font-weight="normal" fill="#222" text-anchor="middle" >10<tspan dy="-2.52" font-size="4.68">1</tspan></text>
<text x="86.6" y="472.5" font-family="Liberation Sans" font-size="6.0" font-weight="normal" fill="#222" text-anchor="middle" >10<tspan dy="-2.52" font-size="4.68">2</tspan></text>
<text x="110.75" y="472.5" font-family="Liberation Sans" font-size="6.0" font-weight="normal" fill="#222" text-anchor="middle" >10<tspan dy="-2.52" font-size="4.68">3</tspan></text>
<text x="134.9" y="472.5" font-family="Liberation Sans" font-size="6.0" font-weight="normal" fill="#222" text-anchor="middle" >10<tspan dy="-2.52" font-size="4.68">4</tspan></text>
<text transform="translate(24.0,401.3) rotate(-90)" font-family="Liberation Sans" font-size="5.1" font-weight="normal" fill="#222" text-anchor="middle" textLength="19.5" lengthAdjust="spacingAndGlyphs" >% of Max</text>
<path d="M38.3,462.5 L38.3,398 L39.2,394 L40,404 L40.8,396 L41.6,366 L42.3,398 L43.2,405 L44,392 L44.8,372 L45.6,396 L46.4,402 L47.2,371 L48,392 L48.8,398 L49.6,380 L50.4,362 L51.2,385 L52,395 L52.8,368 L53.6,388 L54.4,392 L55.2,378 L56,382 L56.8,374 L57.6,386 L58.4,378 L59.2,384 L60,380 L60.8,388 L61.3,398 L61.8,410 L62.6,422 L63.8,433 L65.8,443 L68.5,451 L72,456.5 L76,460.5 L80.5,462.5Z" fill="#7d7d7d"/>
<path d="M62.00,398.00 L62.50,410.00 L63.30,422.00 L64.50,433.00 L66.50,443.00 L69.20,451.00 L72.70,456.50 L76.70,460.50 L81.20,462.50" stroke="#fff" stroke-width="1.0" fill="none" stroke-linejoin="round" />
<path d="M38.30,405.00 L39.50,401.00 L40.60,403.00 L42.00,397.00 L43.50,395.00 L45.40,390.00 L47.00,387.00 L48.50,383.00 L50.30,378.50 L51.50,375.00 L52.70,371.90 L54.00,370.00 L55.10,368.00 L56.30,365.00 L57.50,363.00 L59.00,361.50 L60.50,362.00 L61.70,370.00 L63.00,379.00 L64.20,386.40 L65.00,392.00 L66.00,397.20 L67.20,405.70 L68.20,414.00 L69.60,426.00 L71.50,437.00 L74.00,447.00 L76.50,454.00 L79.00,458.50 L82.00,461.20 L86.00,462.30 L92.00,462.50" stroke="#444" stroke-width="1.0" fill="none" stroke-linejoin="round" stroke-dasharray="1.8 1.4"/>
<path d="M38.30,420.00 L41.00,410.00 L44.00,398.00 L47.00,386.00 L50.00,374.00 L53.00,367.00 L56.00,363.00 L59.00,361.00 L62.00,360.50 L64.00,362.00 L66.00,367.00 L68.00,377.00 L70.00,392.00 L72.00,408.00 L74.00,422.00 L76.00,434.00 L78.50,444.00 L81.00,452.00 L84.00,458.00 L88.00,461.50 L94.00,462.50" stroke="#999" stroke-width="0.9" fill="none" stroke-linejoin="round" />
<path d="M38.30,434.00 L41.00,430.00 L44.00,425.60 L47.00,419.00 L49.50,413.50 L51.50,406.00 L53.00,400.00 L55.00,391.00 L57.00,381.00 L59.00,372.00 L61.00,366.00 L63.00,362.00 L65.00,360.80 L67.00,362.00 L69.00,367.00 L70.50,378.00 L71.80,390.00 L72.80,400.00 L74.20,415.00 L75.70,430.00 L77.50,442.00 L79.30,450.00 L82.00,456.00 L85.40,460.00 L89.00,461.80 L93.00,462.50" stroke="#222" stroke-width="0.9" fill="none" stroke-linejoin="round" />
<line x1="65.6" y1="373.3" x2="134.6" y2="373.3" stroke="#222" stroke-width="1.2" />
<line x1="65.6" y1="370.8" x2="65.6" y2="375.8" stroke="#222" stroke-width="0.9" />
<line x1="134.3" y1="370.8" x2="134.3" y2="375.8" stroke="#222" stroke-width="0.9" />
<text x="99.45" y="370.9" font-family="Liberation Sans" font-size="8.0" font-weight="normal" fill="#222" text-anchor="middle" textLength="13.2" lengthAdjust="spacingAndGlyphs" >32.8</text>
<path d="M37.80,481.60 L82.00,481.60" stroke="#000" stroke-width="1.8" fill="none" stroke-linejoin="round" />
<path d="M80.5,478.9 L86.6,481.6 L80.5,484.3Z" fill="#000"/>
<text x="38.3" y="492.8" font-family="Liberation Sans" font-size="7.5" font-weight="normal" fill="#111" text-anchor="start" textLength="17.7" lengthAdjust="spacingAndGlyphs" stroke="#111" stroke-width="0.25">PD-L1</text>
<line x1="166.2" y1="352.6" x2="270.3" y2="352.6" stroke="#666" stroke-width="1" />
<line x1="270.3" y1="352.6" x2="270.3" y2="462.7" stroke="#666" stroke-width="1" />
<line x1="166.2" y1="352.6" x2="166.2" y2="462.7" stroke="#333" stroke-width="0.9" />
<line x1="166.2" y1="462.7" x2="270.3" y2="462.7" stroke="#333" stroke-width="0.9" />
<line x1="164.2" y1="462.7" x2="166.2" y2="462.7" stroke="#333" stroke-width="0.7" />
<text x="161.89999999999998" y="464.59999999999997" font-family="Liberation Sans" font-size="5.3" font-weight="normal" fill="#222" text-anchor="end" textLength="2.5" lengthAdjust="spacingAndGlyphs" >0</text>
<line x1="165.2" y1="457.46" x2="166.2" y2="457.46" stroke="#555" stroke-width="0.5" />
<line x1="165.2" y1="452.21999999999997" x2="166.2" y2="452.21999999999997" stroke="#555" stroke-width="0.5" />
<line x1="165.2" y1="446.97999999999996" x2="166.2" y2="446.97999999999996" stroke="#555" stroke-width="0.5" />
<line x1="164.2" y1="441.74" x2="166.2" y2="441.74" stroke="#333" stroke-width="0.7" />
<text x="161.89999999999998" y="443.64" font-family="Liberation Sans" font-size="5.3" font-weight="normal" fill="#222" text-anchor="end" textLength="5.0" lengthAdjust="spacingAndGlyphs" >20</text>
<line x1="165.2" y1="436.5" x2="166.2" y2="436.5" stroke="#555" stroke-width="0.5" />
<line x1="165.2" y1="431.26" x2="166.2" y2="431.26" stroke="#555" stroke-width="0.5" />
<line x1="165.2" y1="426.02" x2="166.2" y2="426.02" stroke="#555" stroke-width="0.5" />
<line x1="164.2" y1="420.78" x2="166.2" y2="420.78" stroke="#333" stroke-width="0.7" />
<text x="161.89999999999998" y="422.67999999999995" font-family="Liberation Sans" font-size="5.3" font-weight="normal" fill="#222" text-anchor="end" textLength="5.0" lengthAdjust="spacingAndGlyphs" >40</text>
<line x1="165.2" y1="415.53999999999996" x2="166.2" y2="415.53999999999996" stroke="#555" stroke-width="0.5" />
<line x1="165.2" y1="410.29999999999995" x2="166.2" y2="410.29999999999995" stroke="#555" stroke-width="0.5" />
<line x1="165.2" y1="405.05999999999995" x2="166.2" y2="405.05999999999995" stroke="#555" stroke-width="0.5" />
<line x1="164.2" y1="399.82" x2="166.2" y2="399.82" stroke="#333" stroke-width="0.7" />
<text x="161.89999999999998" y="401.71999999999997" font-family="Liberation Sans" font-size="5.3" font-weight="normal" fill="#222" text-anchor="end" textLength="5.0" lengthAdjust="spacingAndGlyphs" >60</text>
<line x1="165.2" y1="394.58" x2="166.2" y2="394.58" stroke="#555" stroke-width="0.5" />
<line x1="165.2" y1="389.34" x2="166.2" y2="389.34" stroke="#555" stroke-width="0.5" />
<line x1="165.2" y1="384.09999999999997" x2="166.2" y2="384.09999999999997" stroke="#555" stroke-width="0.5" />
<line x1="164.2" y1="378.86" x2="166.2" y2="378.86" stroke="#333" stroke-width="0.7" />
<text x="161.89999999999998" y="380.76" font-family="Liberation Sans" font-size="5.3" font-weight="normal" fill="#222" text-anchor="end" textLength="5.0" lengthAdjust="spacingAndGlyphs" >80</text>
<line x1="165.2" y1="373.62" x2="166.2" y2="373.62" stroke="#555" stroke-width="0.5" />
<line x1="165.2" y1="368.38" x2="166.2" y2="368.38" stroke="#555" stroke-width="0.5" />
<line x1="165.2" y1="363.14" x2="166.2" y2="363.14" stroke="#555" stroke-width="0.5" />
<line x1="164.2" y1="357.9" x2="166.2" y2="357.9" stroke="#333" stroke-width="0.7" />
<text x="161.89999999999998" y="359.79999999999995" font-family="Liberation Sans" font-size="5.3" font-weight="normal" fill="#222" text-anchor="end" textLength="7.5" lengthAdjust="spacingAndGlyphs" >100</text>
<line x1="166.2" y1="462.7" x2="166.2" y2="464.5" stroke="#444" stroke-width="0.6" />
<line x1="174.03430563715511" y1="462.7" x2="174.03430563715511" y2="463.7" stroke="#444" stroke-width="0.6" />
<line x1="178.61708065407922" y1="462.7" x2="178.61708065407922" y2="463.7" stroke="#444" stroke-width="0.6" />
<line x1="181.8686112743102" y1="462.7" x2="181.8686112743102" y2="463.7" stroke="#444" stroke-width="0.6" />
<line x1="184.3906943628449" y1="462.7" x2="184.3906943628449" y2="463.7" stroke="#444" stroke-width="0.6" />
<line x1="186.45138629123431" y1="462.7" x2="186.45138629123431" y2="463.7" stroke="#444" stroke-width="0.6" />
<line x1="188.19367649137104" y1="462.7" x2="188.19367649137104" y2="463.7" stroke="#444" stroke-width="0.6" />
<line x1="189.7029169114653" y1="462.7" x2="189.7029169114653" y2="463.7" stroke="#444" stroke-width="0.6" />
<line x1="191.03416130815842" y1="462.7" x2="191.03416130815842" y2="463.7" stroke="#444" stroke-width="0.6" />
<line x1="192.225" y1="462.7" x2="192.225" y2="464.5" stroke="#444" stroke-width="0.6" />
<line x1="200.0593056371551" y1="462.7" x2="200.0593056371551" y2="463.7" stroke="#444" stroke-width="0.6" />
<line x1="204.64208065407922" y1="462.7" x2="204.64208065407922" y2="463.7" stroke="#444" stroke-width="0.6" />
<line x1="207.89361127431022" y1="462.7" x2="207.89361127431022" y2="463.7" stroke="#444" stroke-width="0.6" />
<line x1="210.41569436284487" y1="462.7" x2="210.41569436284487" y2="463.7" stroke="#444" stroke-width="0.6" />
<line x1="212.47638629123432" y1="462.7" x2="212.47638629123432" y2="463.7" stroke="#444" stroke-width="0.6" />
<line x1="214.21867649137104" y1="462.7" x2="214.21867649137104" y2="463.7" stroke="#444" stroke-width="0.6" />
<line x1="215.72791691146534" y1="462.7" x2="215.72791691146534" y2="463.7" stroke="#444" stroke-width="0.6" />
<line x1="217.05916130815842" y1="462.7" x2="217.05916130815842" y2="463.7" stroke="#444" stroke-width="0.6" />
<line x1="218.25" y1="462.7" x2="218.25" y2="464.5" stroke="#444" stroke-width="0.6" />
<line x1="226.08430563715513" y1="462.7" x2="226.08430563715513" y2="463.7" stroke="#444" stroke-width="0.6" />
<line x1="230.66708065407923" y1="462.7" x2="230.66708065407923" y2="463.7" stroke="#444" stroke-width="0.6" />
<line x1="233.91861127431022" y1="462.7" x2="233.91861127431022" y2="463.7" stroke="#444" stroke-width="0.6" />
<line x1="236.4406943628449" y1="462.7" x2="236.4406943628449" y2="463.7" stroke="#444" stroke-width="0.6" />
<line x1="238.50138629123433" y1="462.7" x2="238.50138629123433" y2="463.7" stroke="#444" stroke-width="0.6" />
<line x1="240.24367649137105" y1="462.7" x2="240.24367649137105" y2="463.7" stroke="#444" stroke-width="0.6" />
<line x1="241.75291691146535" y1="462.7" x2="241.75291691146535" y2="463.7" stroke="#444" stroke-width="0.6" />
<line x1="243.08416130815843" y1="462.7" x2="243.08416130815843" y2="463.7" stroke="#444" stroke-width="0.6" />
<line x1="244.275" y1="462.7" x2="244.275" y2="464.5" stroke="#444" stroke-width="0.6" />
<line x1="252.1093056371551" y1="462.7" x2="252.1093056371551" y2="463.7" stroke="#444" stroke-width="0.6" />
<line x1="256.69208065407923" y1="462.7" x2="256.69208065407923" y2="463.7" stroke="#444" stroke-width="0.6" />
<line x1="259.94361127431023" y1="462.7" x2="259.94361127431023" y2="463.7" stroke="#444" stroke-width="0.6" />
<line x1="262.4656943628449" y1="462.7" x2="262.4656943628449" y2="463.7" stroke="#444" stroke-width="0.6" />
<line x1="264.52638629123436" y1="462.7" x2="264.52638629123436" y2="463.7" stroke="#444" stroke-width="0.6" />
<line x1="266.268676491371" y1="462.7" x2="266.268676491371" y2="463.7" stroke="#444" stroke-width="0.6" />
<line x1="267.77791691146535" y1="462.7" x2="267.77791691146535" y2="463.7" stroke="#444" stroke-width="0.6" />
<line x1="269.10916130815843" y1="462.7" x2="269.10916130815843" y2="463.7" stroke="#444" stroke-width="0.6" />
<line x1="270.3" y1="462.7" x2="270.3" y2="464.5" stroke="#444" stroke-width="0.6" />
<text x="166.2" y="472.7" font-family="Liberation Sans" font-size="6.0" font-weight="normal" fill="#222" text-anchor="middle" >10<tspan dy="-2.52" font-size="4.68">0</tspan></text>
<text x="192.225" y="472.7" font-family="Liberation Sans" font-size="6.0" font-weight="normal" fill="#222" text-anchor="middle" >10<tspan dy="-2.52" font-size="4.68">1</tspan></text>
<text x="218.25" y="472.7" font-family="Liberation Sans" font-size="6.0" font-weight="normal" fill="#222" text-anchor="middle" >10<tspan dy="-2.52" font-size="4.68">2</tspan></text>
<text x="244.275" y="472.7" font-family="Liberation Sans" font-size="6.0" font-weight="normal" fill="#222" text-anchor="middle" >10<tspan dy="-2.52" font-size="4.68">3</tspan></text>
<text x="270.3" y="472.7" font-family="Liberation Sans" font-size="6.0" font-weight="normal" fill="#222" text-anchor="middle" >10<tspan dy="-2.52" font-size="4.68">4</tspan></text>
<text transform="translate(150.0,407.0) rotate(-90)" font-family="Liberation Sans" font-size="5.1" font-weight="normal" fill="#222" text-anchor="middle" textLength="19.5" lengthAdjust="spacingAndGlyphs" >% of Max</text>
<path d="M166.30,452.50 L167.30,447.00 L168.30,455.30 L169.50,448.00 L171.10,441.20 L172.50,446.00 L173.90,449.60 L175.30,447.00 L176.70,446.80 L178.10,448.00 L179.50,446.80 L180.90,439.80 L182.00,444.00 L183.20,446.80 L185.10,432.80 L186.50,426.00 L188.00,421.50 L189.40,418.70 L190.80,426.00 L192.10,409.00 L193.20,412.00 L194.20,414.70 L196.00,410.00 L197.70,406.20 L199.50,400.00 L201.30,393.60 L203.40,402.00 L205.00,390.00 L206.20,383.00 L207.60,376.00 L209.00,371.10 L210.30,366.00 L211.50,359.10 L212.40,378.00 L213.20,396.40 L214.60,386.00 L216.00,378.10 L217.00,388.00 L218.10,400.60 L219.00,395.00 L220.00,390.80 L221.60,409.00 L222.50,424.00 L223.50,428.00 L225.90,438.40 L227.30,446.80 L230.10,455.30 L232.90,459.50 L234.30,458.10 L236.00,461.00 L237.20,462.30 L240.00,462.70" stroke="#333" stroke-width="0.9" fill="none" stroke-linejoin="round" />
<path d="M243.00,462.70 L244.50,460.50 L246.00,459.20 L247.50,461.50 L249.00,462.70" stroke="#444" stroke-width="0.9" fill="none" stroke-linejoin="round" />
<path d="M166.30,404.00 L167.50,403.40 L169.00,398.00 L170.30,396.40 L171.70,379.50 L173.10,392.20 L174.10,406.20 L175.20,383.70 L176.30,386.00 L177.40,388.00 L178.50,384.00 L179.50,382.30 L180.50,380.00 L181.60,375.30 L183.00,368.00 L184.40,360.50 L185.50,363.00 L186.50,365.50 L187.50,369.00 L188.60,373.90 L190.00,386.50 L191.40,402.00 L192.50,407.00 L193.50,410.40 L195.00,400.00 L197.00,388.00 L198.40,392.20 L199.80,416.00 L201.00,425.00 L203.00,432.00 L206.00,437.00 L210.00,441.00 L214.00,445.00 L218.00,449.00 L222.00,453.00 L226.00,457.00 L230.00,460.50 L234.00,462.30 L238.00,462.70" stroke="#707070" stroke-width="1.1" fill="none" stroke-linejoin="round" stroke-dasharray="2 1.4"/>
<line x1="200.3" y1="366.9" x2="270.0" y2="366.9" stroke="#222" stroke-width="1.3" />
<line x1="200.3" y1="364.4" x2="200.3" y2="369.4" stroke="#222" stroke-width="0.9" />
<line x1="269.9" y1="364.4" x2="269.9" y2="369.4" stroke="#222" stroke-width="0.9" />
<text x="235.15" y="364.2" font-family="Liberation Sans" font-size="7.8" font-weight="normal" fill="#222" text-anchor="middle" textLength="14.4" lengthAdjust="spacingAndGlyphs" >63.2</text>
<path d="M164.60,480.10 L209.50,480.10" stroke="#000" stroke-width="1.8" fill="none" stroke-linejoin="round" />
<path d="M208.3,477.4 L214.2,480.1 L208.3,482.8Z" fill="#000"/>
<text x="165.3" y="490.8" font-family="Liberation Sans" font-size="7.5" font-weight="normal" fill="#111" text-anchor="start" textLength="17.8" lengthAdjust="spacingAndGlyphs" stroke="#111" stroke-width="0.25">PD-L1</text>
<line x1="369.6" y1="348.8" x2="369.6" y2="447.6" stroke="#111" stroke-width="1.1" />
<line x1="369.1" y1="447.1" x2="509.2" y2="447.1" stroke="#111" stroke-width="1.1" />
<line x1="366.8" y1="447.1" x2="369.6" y2="447.1" stroke="#111" stroke-width="1" />
<text x="366.4" y="449.40000000000003" font-family="Liberation Sans" font-size="6.6" font-weight="normal" fill="#222" text-anchor="end" >0</text>
<line x1="366.8" y1="422.52500000000003" x2="369.6" y2="422.52500000000003" stroke="#111" stroke-width="1" />
<text x="366.4" y="424.82500000000005" font-family="Liberation Sans" font-size="6.6" font-weight="normal" fill="#222" text-anchor="end" >2000</text>
<line x1="366.8" y1="397.95000000000005" x2="369.6" y2="397.95000000000005" stroke="#111" stroke-width="1" />
<text x="366.4" y="400.25000000000006" font-family="Liberation Sans" font-size="6.6" font-weight="normal" fill="#222" text-anchor="end" >4000</text>
<line x1="366.8" y1="373.375" x2="369.6" y2="373.375" stroke="#111" stroke-width="1" />
<text x="366.4" y="375.675" font-family="Liberation Sans" font-size="6.6" font-weight="normal" fill="#222" text-anchor="end" >6000</text>
<line x1="366.8" y1="348.8" x2="369.6" y2="348.8" stroke="#111" stroke-width="1" />
<text x="366.4" y="351.1" font-family="Liberation Sans" font-size="6.6" font-weight="normal" fill="#222" text-anchor="end" >8000</text>
<line x1="392.3" y1="447.1" x2="392.3" y2="449.6" stroke="#111" stroke-width="1" />
<line x1="438.5" y1="447.1" x2="438.5" y2="449.6" stroke="#111" stroke-width="1" />
<line x1="484.0" y1="447.1" x2="484.0" y2="449.6" stroke="#111" stroke-width="1" />
<circle cx="386.9" cy="361.1" r="2.2" fill="#111"/>
<circle cx="392.7" cy="361.1" r="2.2" fill="#111"/>
<circle cx="398.5" cy="365" r="2.2" fill="#111"/>
<circle cx="392" cy="369.6" r="2.2" fill="#111"/>
<circle cx="392" cy="392" r="2.2" fill="#111"/>
<circle cx="392" cy="404.4" r="2.2" fill="#111"/>
<line x1="377.7" y1="375.4" x2="407.7" y2="375.4" stroke="#111" stroke-width="1.2" />
<line x1="383.5" y1="367.8" x2="402" y2="367.8" stroke="#111" stroke-width="1.2" />
<line x1="383.5" y1="382.8" x2="402" y2="382.8" stroke="#111" stroke-width="1.2" />
<line x1="392.3" y1="367.8" x2="392.3" y2="382.8" stroke="#111" stroke-width="1.2" />
<rect x="436.4" y="374.2" width="4" height="4" fill="#111"/>
<rect x="430.9" y="384.9" width="4" height="4" fill="#111"/>
<rect x="437.2" y="390.7" width="4" height="4" fill="#111"/>
<rect x="442.4" y="390.7" width="4" height="4" fill="#111"/>
<rect x="436.5" y="409.7" width="4" height="4" fill="#111"/>
<rect x="436.5" y="420.2" width="4" height="4" fill="#111"/>
<line x1="423.2" y1="397.2" x2="453.7" y2="397.2" stroke="#111" stroke-width="1.2" />
<line x1="430.3" y1="390.1" x2="447.4" y2="390.1" stroke="#111" stroke-width="1.2" />
<line x1="430.3" y1="403.7" x2="447.4" y2="403.7" stroke="#111" stroke-width="1.2" />
<line x1="438.6" y1="390.1" x2="438.6" y2="403.7" stroke="#111" stroke-width="1.2" />
<path d="M479,413.4 L481.5,417.6 L476.5,417.6Z" fill="#111"/>
<path d="M484,409.7 L486.5,413.90000000000003 L481.5,413.90000000000003Z" fill="#111"/>
<path d="M489.8,409.09999999999997 L492.3,413.3 L487.3,413.3Z" fill="#111"/>
<path d="M483,415.9 L485.5,420.1 L480.5,420.1Z" fill="#111"/>
<path d="M484,428.79999999999995 L486.5,433.0 L481.5,433.0Z" fill="#111"/>
<line x1="469.2" y1="416.9" x2="500" y2="416.9" stroke="#111" stroke-width="1.2" />
<line x1="475.4" y1="413.8" x2="493" y2="413.8" stroke="#111" stroke-width="1.2" />
<line x1="475.4" y1="420.0" x2="493" y2="420.0" stroke="#111" stroke-width="1.2" />
<line x1="484.1" y1="413.8" x2="484.1" y2="420" stroke="#111" stroke-width="1.2" />
<line x1="387.3" y1="348.1" x2="487.7" y2="348.1" stroke="#8a8a8a" stroke-width="1.3" />
<line x1="435.8" y1="366.1" x2="486.0" y2="366.1" stroke="#8a8a8a" stroke-width="1.3" />
<text x="412.9" y="342.3" font-family="Liberation Sans" font-size="8.0" font-weight="normal" fill="#222" text-anchor="start" textLength="6.6" lengthAdjust="spacingAndGlyphs" >**</text>
<text x="422.5" y="344.2" font-family="Liberation Sans" font-size="8.0" font-weight="normal" fill="#222" text-anchor="start" textLength="31.2" lengthAdjust="spacingAndGlyphs" >p=0,004</text>
<text x="440.9" y="362.0" font-family="Liberation Sans" font-size="8.0" font-weight="normal" fill="#222" text-anchor="start" >*</text>
<text x="448.2" y="363.4" font-family="Liberation Sans" font-size="8.0" font-weight="normal" fill="#222" text-anchor="start" textLength="35.3" lengthAdjust="spacingAndGlyphs" >p=0,0215</text>
<text x="385.4" y="469.0" font-family="Liberation Serif" font-size="7.6" font-weight="bold" fill="#111" text-anchor="middle" stroke="#111" stroke-width="0.4" textLength="36.2" lengthAdjust="spacingAndGlyphs" >CD4<tspan dy="-2.51" font-size="5.17">+</tspan><tspan dy="2.51">CD25</tspan><tspan dy="-2.51" font-size="5.17">-</tspan></text>
<text x="385.75" y="478.3" font-family="Liberation Serif" font-size="7.6" font-weight="bold" fill="#111" text-anchor="middle" stroke="#111" stroke-width="0.4" textLength="47.1" lengthAdjust="spacingAndGlyphs" >+ aCD3/aCD28</text>
<text x="385.5" y="487.3" font-family="Liberation Serif" font-size="7.6" font-weight="bold" fill="#111" text-anchor="middle" stroke="#111" stroke-width="0.4" textLength="31.4" lengthAdjust="spacingAndGlyphs" >+ mIgG2b</text>
<text x="439.4" y="466.0" font-family="Liberation Serif" font-size="7.6" font-weight="bold" fill="#111" text-anchor="middle" stroke="#111" stroke-width="0.4" textLength="35.8" lengthAdjust="spacingAndGlyphs" >CD4<tspan dy="-2.51" font-size="5.17">+</tspan><tspan dy="2.51">CD25</tspan><tspan dy="-2.51" font-size="5.17">-</tspan></text>
<text x="440.3" y="475.2" font-family="Liberation Serif" font-size="7.6" font-weight="bold" fill="#111" text-anchor="middle" stroke="#111" stroke-width="0.4" textLength="46.8" lengthAdjust="spacingAndGlyphs" >+ aCD3/aCD28</text>
<text x="440.0" y="484.4" font-family="Liberation Serif" font-size="7.6" font-weight="bold" fill="#111" text-anchor="middle" stroke="#111" stroke-width="0.4" textLength="46.2" lengthAdjust="spacingAndGlyphs" >+ CD33<tspan dy="-2.51" font-size="5.17">+</tspan><tspan dy="2.51">CD15</tspan><tspan dy="-2.51" font-size="5.17">+</tspan></text>
<text x="440.5" y="493.7" font-family="Liberation Serif" font-size="7.6" font-weight="bold" fill="#111" text-anchor="middle" stroke="#111" stroke-width="0.4" textLength="40.6" lengthAdjust="spacingAndGlyphs" >+ anti-PD-L1</text>
<text x="493.55" y="466.1" font-family="Liberation Serif" font-size="7.6" font-weight="bold" fill="#111" text-anchor="middle" stroke="#111" stroke-width="0.4" textLength="35.9" lengthAdjust="spacingAndGlyphs" >CD4<tspan dy="-2.51" font-size="5.17">+</tspan><tspan dy="2.51">CD25</tspan><tspan dy="-2.51" font-size="5.17">-</tspan></text>
<text x="495.25" y="475.5" font-family="Liberation Serif" font-size="7.6" font-weight="bold" fill="#111" text-anchor="middle" stroke="#111" stroke-width="0.4" textLength="47.3" lengthAdjust="spacingAndGlyphs" >+ aCD3/aCD28</text>
<text x="494.75" y="484.7" font-family="Liberation Serif" font-size="7.6" font-weight="bold" fill="#111" text-anchor="middle" stroke="#111" stroke-width="0.4" textLength="46.3" lengthAdjust="spacingAndGlyphs" >+ CD33<tspan dy="-2.51" font-size="5.17">+</tspan><tspan dy="2.51">CD15</tspan><tspan dy="-2.51" font-size="5.17">+</tspan></text>
<text x="495.4" y="493.8" font-family="Liberation Serif" font-size="7.6" font-weight="bold" fill="#111" text-anchor="middle" stroke="#111" stroke-width="0.4" textLength="32.2" lengthAdjust="spacingAndGlyphs" >+ mIgG2b</text>
<text transform="translate(328.6,402.3) rotate(-90)" font-family="Liberation Serif" font-size="12.5" font-weight="bold" fill="#111" text-anchor="middle" stroke="#111" stroke-width="0.4" textLength="126.3" lengthAdjust="spacingAndGlyphs" >Numbers of CD4<tspan dy="-4.12" font-size="8.50">+</tspan><tspan dy="4.12"> T cells</tspan></text>
<text transform="translate(341.3,401.1) rotate(-90)" font-family="Liberation Serif" font-size="10.6" font-weight="bold" fill="#111" text-anchor="middle" stroke="#111" stroke-width="0.4" textLength="66.8" lengthAdjust="spacingAndGlyphs" >/10<tspan dy="-3.50" font-size="7.21">4</tspan><tspan dy="3.50"> total cells</tspan></text>
</svg>
</body></html>
